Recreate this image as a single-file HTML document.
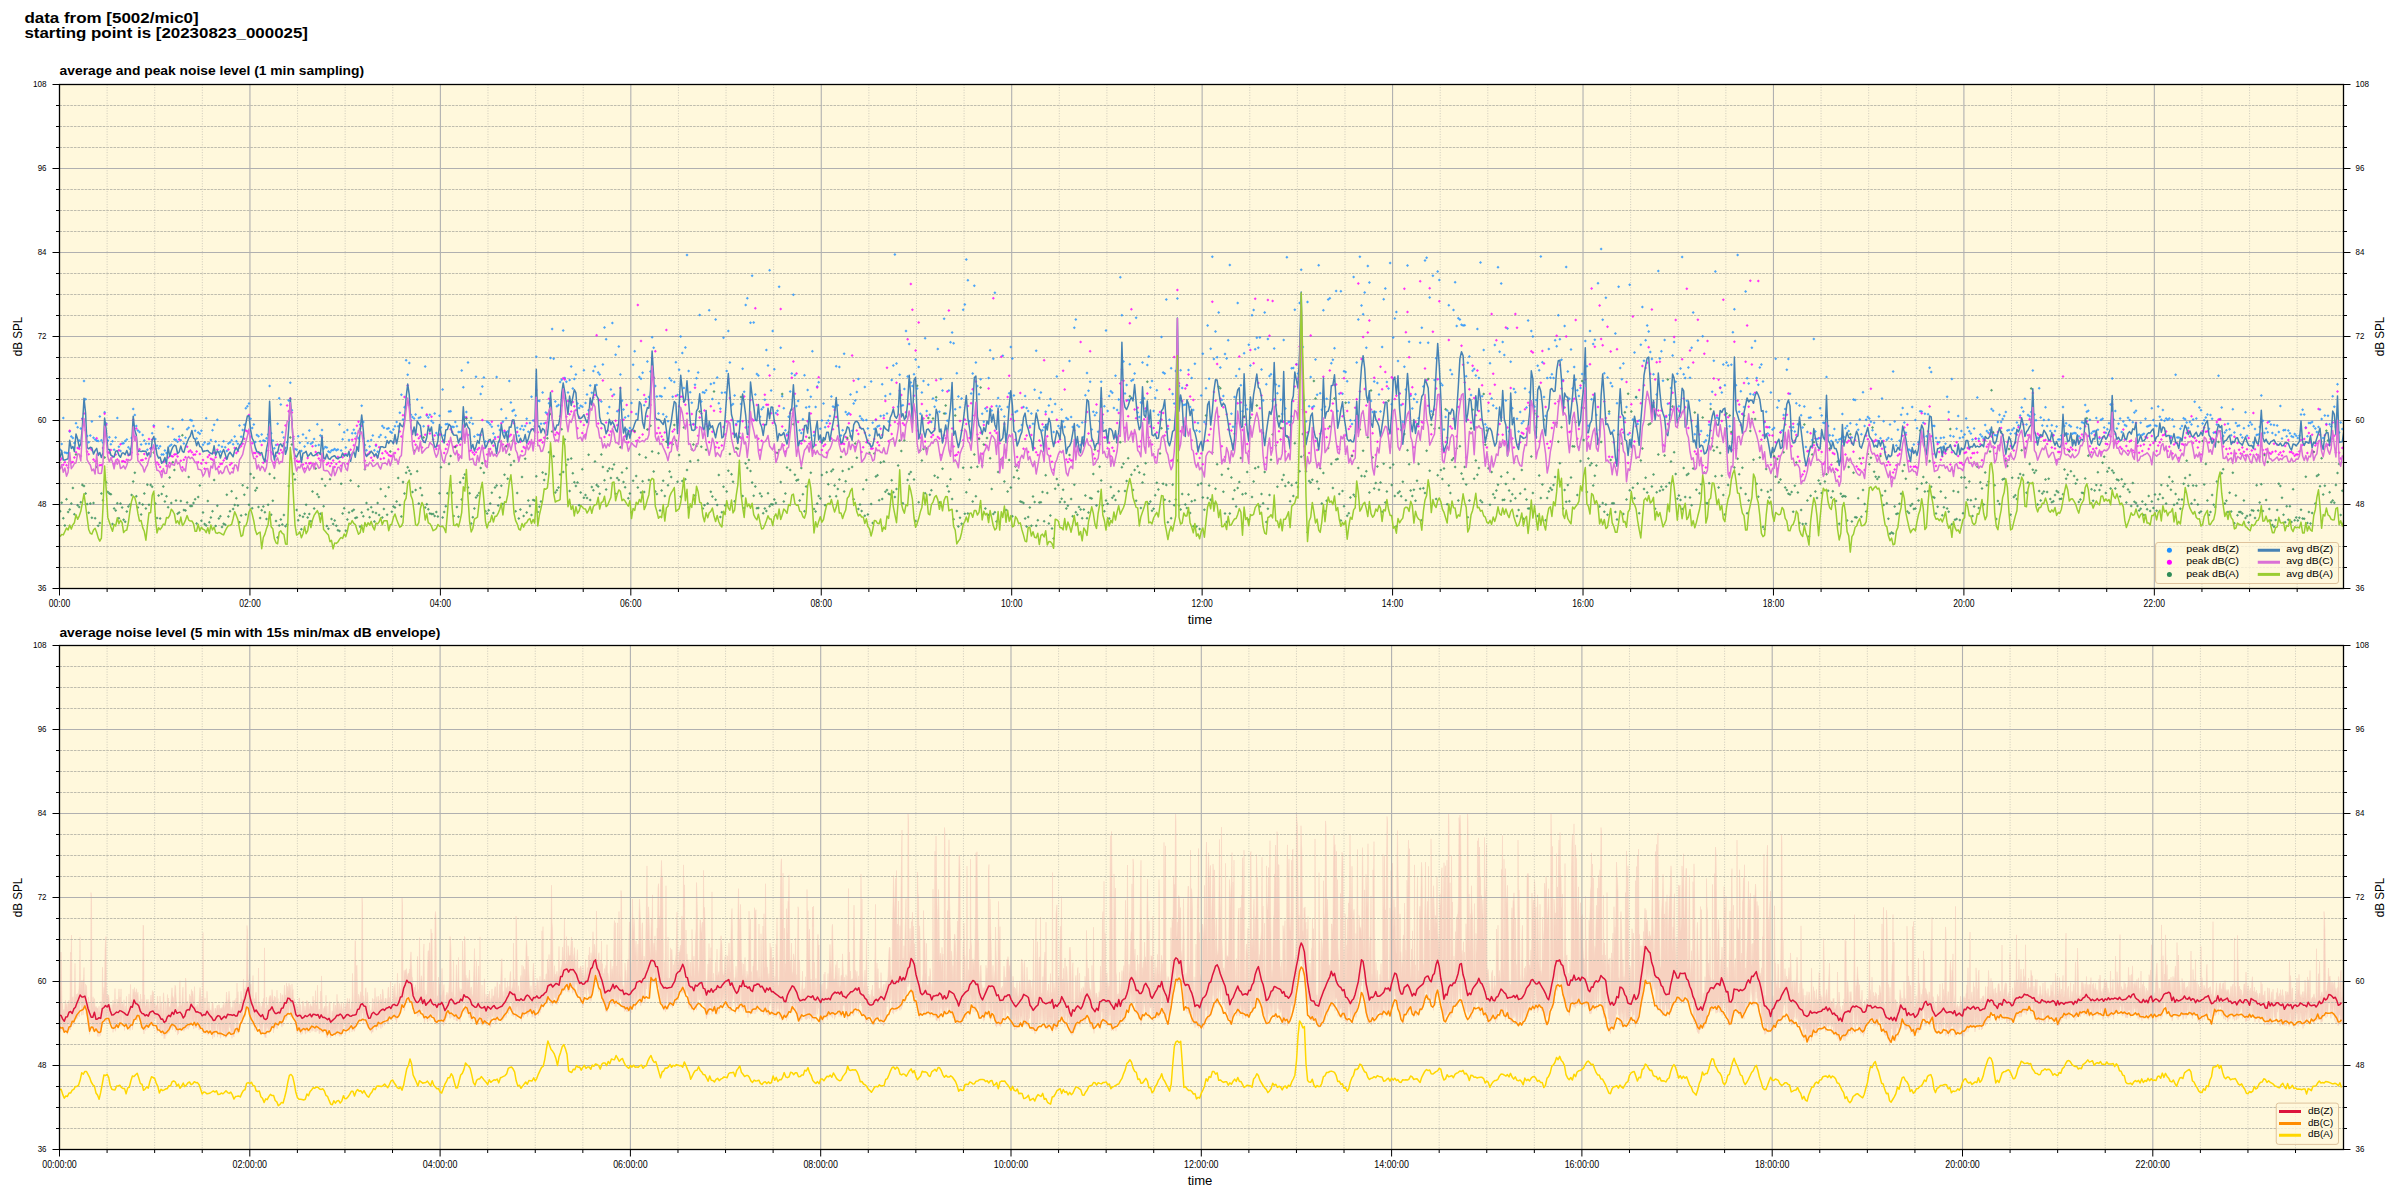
<!DOCTYPE html><html><head><meta charset="utf-8"><style>html,body{margin:0;padding:0;background:#fff;width:2400px;height:1200px;overflow:hidden}</style></head><body><svg width="2400" height="1200" viewBox="0 0 2400 1200" style="display:block;font-family:'Liberation Sans', sans-serif">
<rect width="2400" height="1200" fill="#fff"/>
<defs><clipPath id="cliptop"><rect x="59.5" y="84.5" width="2284.0" height="504.0"/></clipPath><clipPath id="clipbot"><rect x="59.5" y="645.5" width="2284.0" height="504.0"/></clipPath></defs>
<text x="24.40" y="23.00" font-size="15.2" text-anchor="start" font-weight="bold" textLength="174.30" lengthAdjust="spacingAndGlyphs" >data from [5002/mic0]</text>
<text x="24.40" y="38.30" font-size="15.2" text-anchor="start" font-weight="bold" textLength="283.60" lengthAdjust="spacingAndGlyphs" >starting point is [20230823_000025]</text>
<text x="59.60" y="75.00" font-size="12.2" text-anchor="start" font-weight="bold" textLength="304.50" lengthAdjust="spacingAndGlyphs" >average and peak noise level (1 min sampling)</text>
<text x="59.40" y="637.20" font-size="12.2" text-anchor="start" font-weight="bold" textLength="380.90" lengthAdjust="spacingAndGlyphs" >average noise level (5 min with 15s min/max dB envelope)</text>
<rect x="59.5" y="84.5" width="2284.0" height="504.0" fill="#fff8dc"/>
<line x1="59.5" y1="567.50" x2="2343.5" y2="567.50" stroke="#b8b5a8" stroke-width="0.9" stroke-dasharray="2.6 1"/>
<line x1="59.5" y1="546.50" x2="2343.5" y2="546.50" stroke="#b8b5a8" stroke-width="0.9" stroke-dasharray="2.6 1"/>
<line x1="59.5" y1="525.50" x2="2343.5" y2="525.50" stroke="#b8b5a8" stroke-width="0.9" stroke-dasharray="2.6 1"/>
<line x1="59.5" y1="483.50" x2="2343.5" y2="483.50" stroke="#b8b5a8" stroke-width="0.9" stroke-dasharray="2.6 1"/>
<line x1="59.5" y1="462.50" x2="2343.5" y2="462.50" stroke="#b8b5a8" stroke-width="0.9" stroke-dasharray="2.6 1"/>
<line x1="59.5" y1="441.50" x2="2343.5" y2="441.50" stroke="#b8b5a8" stroke-width="0.9" stroke-dasharray="2.6 1"/>
<line x1="59.5" y1="399.50" x2="2343.5" y2="399.50" stroke="#b8b5a8" stroke-width="0.9" stroke-dasharray="2.6 1"/>
<line x1="59.5" y1="378.50" x2="2343.5" y2="378.50" stroke="#b8b5a8" stroke-width="0.9" stroke-dasharray="2.6 1"/>
<line x1="59.5" y1="357.50" x2="2343.5" y2="357.50" stroke="#b8b5a8" stroke-width="0.9" stroke-dasharray="2.6 1"/>
<line x1="59.5" y1="315.50" x2="2343.5" y2="315.50" stroke="#b8b5a8" stroke-width="0.9" stroke-dasharray="2.6 1"/>
<line x1="59.5" y1="294.50" x2="2343.5" y2="294.50" stroke="#b8b5a8" stroke-width="0.9" stroke-dasharray="2.6 1"/>
<line x1="59.5" y1="273.50" x2="2343.5" y2="273.50" stroke="#b8b5a8" stroke-width="0.9" stroke-dasharray="2.6 1"/>
<line x1="59.5" y1="231.50" x2="2343.5" y2="231.50" stroke="#b8b5a8" stroke-width="0.9" stroke-dasharray="2.6 1"/>
<line x1="59.5" y1="210.50" x2="2343.5" y2="210.50" stroke="#b8b5a8" stroke-width="0.9" stroke-dasharray="2.6 1"/>
<line x1="59.5" y1="189.50" x2="2343.5" y2="189.50" stroke="#b8b5a8" stroke-width="0.9" stroke-dasharray="2.6 1"/>
<line x1="59.5" y1="147.50" x2="2343.5" y2="147.50" stroke="#b8b5a8" stroke-width="0.9" stroke-dasharray="2.6 1"/>
<line x1="59.5" y1="126.50" x2="2343.5" y2="126.50" stroke="#b8b5a8" stroke-width="0.9" stroke-dasharray="2.6 1"/>
<line x1="59.5" y1="105.50" x2="2343.5" y2="105.50" stroke="#b8b5a8" stroke-width="0.9" stroke-dasharray="2.6 1"/>
<line x1="107.11" y1="84.5" x2="107.11" y2="588.5" stroke="#c8c5b8" stroke-width="0.9" stroke-dasharray="1 1.6"/>
<line x1="154.72" y1="84.5" x2="154.72" y2="588.5" stroke="#c8c5b8" stroke-width="0.9" stroke-dasharray="1 1.6"/>
<line x1="202.33" y1="84.5" x2="202.33" y2="588.5" stroke="#c8c5b8" stroke-width="0.9" stroke-dasharray="1 1.6"/>
<line x1="297.55" y1="84.5" x2="297.55" y2="588.5" stroke="#c8c5b8" stroke-width="0.9" stroke-dasharray="1 1.6"/>
<line x1="345.16" y1="84.5" x2="345.16" y2="588.5" stroke="#c8c5b8" stroke-width="0.9" stroke-dasharray="1 1.6"/>
<line x1="392.77" y1="84.5" x2="392.77" y2="588.5" stroke="#c8c5b8" stroke-width="0.9" stroke-dasharray="1 1.6"/>
<line x1="487.99" y1="84.5" x2="487.99" y2="588.5" stroke="#c8c5b8" stroke-width="0.9" stroke-dasharray="1 1.6"/>
<line x1="535.60" y1="84.5" x2="535.60" y2="588.5" stroke="#c8c5b8" stroke-width="0.9" stroke-dasharray="1 1.6"/>
<line x1="583.21" y1="84.5" x2="583.21" y2="588.5" stroke="#c8c5b8" stroke-width="0.9" stroke-dasharray="1 1.6"/>
<line x1="678.43" y1="84.5" x2="678.43" y2="588.5" stroke="#c8c5b8" stroke-width="0.9" stroke-dasharray="1 1.6"/>
<line x1="726.04" y1="84.5" x2="726.04" y2="588.5" stroke="#c8c5b8" stroke-width="0.9" stroke-dasharray="1 1.6"/>
<line x1="773.65" y1="84.5" x2="773.65" y2="588.5" stroke="#c8c5b8" stroke-width="0.9" stroke-dasharray="1 1.6"/>
<line x1="868.87" y1="84.5" x2="868.87" y2="588.5" stroke="#c8c5b8" stroke-width="0.9" stroke-dasharray="1 1.6"/>
<line x1="916.48" y1="84.5" x2="916.48" y2="588.5" stroke="#c8c5b8" stroke-width="0.9" stroke-dasharray="1 1.6"/>
<line x1="964.09" y1="84.5" x2="964.09" y2="588.5" stroke="#c8c5b8" stroke-width="0.9" stroke-dasharray="1 1.6"/>
<line x1="1059.31" y1="84.5" x2="1059.31" y2="588.5" stroke="#c8c5b8" stroke-width="0.9" stroke-dasharray="1 1.6"/>
<line x1="1106.92" y1="84.5" x2="1106.92" y2="588.5" stroke="#c8c5b8" stroke-width="0.9" stroke-dasharray="1 1.6"/>
<line x1="1154.53" y1="84.5" x2="1154.53" y2="588.5" stroke="#c8c5b8" stroke-width="0.9" stroke-dasharray="1 1.6"/>
<line x1="1249.75" y1="84.5" x2="1249.75" y2="588.5" stroke="#c8c5b8" stroke-width="0.9" stroke-dasharray="1 1.6"/>
<line x1="1297.36" y1="84.5" x2="1297.36" y2="588.5" stroke="#c8c5b8" stroke-width="0.9" stroke-dasharray="1 1.6"/>
<line x1="1344.97" y1="84.5" x2="1344.97" y2="588.5" stroke="#c8c5b8" stroke-width="0.9" stroke-dasharray="1 1.6"/>
<line x1="1440.19" y1="84.5" x2="1440.19" y2="588.5" stroke="#c8c5b8" stroke-width="0.9" stroke-dasharray="1 1.6"/>
<line x1="1487.80" y1="84.5" x2="1487.80" y2="588.5" stroke="#c8c5b8" stroke-width="0.9" stroke-dasharray="1 1.6"/>
<line x1="1535.41" y1="84.5" x2="1535.41" y2="588.5" stroke="#c8c5b8" stroke-width="0.9" stroke-dasharray="1 1.6"/>
<line x1="1630.63" y1="84.5" x2="1630.63" y2="588.5" stroke="#c8c5b8" stroke-width="0.9" stroke-dasharray="1 1.6"/>
<line x1="1678.24" y1="84.5" x2="1678.24" y2="588.5" stroke="#c8c5b8" stroke-width="0.9" stroke-dasharray="1 1.6"/>
<line x1="1725.85" y1="84.5" x2="1725.85" y2="588.5" stroke="#c8c5b8" stroke-width="0.9" stroke-dasharray="1 1.6"/>
<line x1="1821.07" y1="84.5" x2="1821.07" y2="588.5" stroke="#c8c5b8" stroke-width="0.9" stroke-dasharray="1 1.6"/>
<line x1="1868.68" y1="84.5" x2="1868.68" y2="588.5" stroke="#c8c5b8" stroke-width="0.9" stroke-dasharray="1 1.6"/>
<line x1="1916.29" y1="84.5" x2="1916.29" y2="588.5" stroke="#c8c5b8" stroke-width="0.9" stroke-dasharray="1 1.6"/>
<line x1="2011.51" y1="84.5" x2="2011.51" y2="588.5" stroke="#c8c5b8" stroke-width="0.9" stroke-dasharray="1 1.6"/>
<line x1="2059.12" y1="84.5" x2="2059.12" y2="588.5" stroke="#c8c5b8" stroke-width="0.9" stroke-dasharray="1 1.6"/>
<line x1="2106.73" y1="84.5" x2="2106.73" y2="588.5" stroke="#c8c5b8" stroke-width="0.9" stroke-dasharray="1 1.6"/>
<line x1="2201.95" y1="84.5" x2="2201.95" y2="588.5" stroke="#c8c5b8" stroke-width="0.9" stroke-dasharray="1 1.6"/>
<line x1="2249.56" y1="84.5" x2="2249.56" y2="588.5" stroke="#c8c5b8" stroke-width="0.9" stroke-dasharray="1 1.6"/>
<line x1="2297.17" y1="84.5" x2="2297.17" y2="588.5" stroke="#c8c5b8" stroke-width="0.9" stroke-dasharray="1 1.6"/>
<line x1="59.5" y1="504.50" x2="2343.5" y2="504.50" stroke="#b0b0b0" stroke-width="1.1"/>
<line x1="59.5" y1="420.50" x2="2343.5" y2="420.50" stroke="#b0b0b0" stroke-width="1.1"/>
<line x1="59.5" y1="336.50" x2="2343.5" y2="336.50" stroke="#b0b0b0" stroke-width="1.1"/>
<line x1="59.5" y1="252.50" x2="2343.5" y2="252.50" stroke="#b0b0b0" stroke-width="1.1"/>
<line x1="59.5" y1="168.50" x2="2343.5" y2="168.50" stroke="#b0b0b0" stroke-width="1.1"/>
<line x1="249.94" y1="84.5" x2="249.94" y2="588.5" stroke="#b0b0b0" stroke-width="1.1"/>
<line x1="440.38" y1="84.5" x2="440.38" y2="588.5" stroke="#b0b0b0" stroke-width="1.1"/>
<line x1="630.82" y1="84.5" x2="630.82" y2="588.5" stroke="#b0b0b0" stroke-width="1.1"/>
<line x1="821.26" y1="84.5" x2="821.26" y2="588.5" stroke="#b0b0b0" stroke-width="1.1"/>
<line x1="1011.70" y1="84.5" x2="1011.70" y2="588.5" stroke="#b0b0b0" stroke-width="1.1"/>
<line x1="1202.14" y1="84.5" x2="1202.14" y2="588.5" stroke="#b0b0b0" stroke-width="1.1"/>
<line x1="1392.58" y1="84.5" x2="1392.58" y2="588.5" stroke="#b0b0b0" stroke-width="1.1"/>
<line x1="1583.02" y1="84.5" x2="1583.02" y2="588.5" stroke="#b0b0b0" stroke-width="1.1"/>
<line x1="1773.46" y1="84.5" x2="1773.46" y2="588.5" stroke="#b0b0b0" stroke-width="1.1"/>
<line x1="1963.90" y1="84.5" x2="1963.90" y2="588.5" stroke="#b0b0b0" stroke-width="1.1"/>
<line x1="2154.34" y1="84.5" x2="2154.34" y2="588.5" stroke="#b0b0b0" stroke-width="1.1"/>
<g clip-path="url(#cliptop)"><marker id="m1e90ff" markerWidth="4" markerHeight="4" refX="0" refY="0" markerUnits="userSpaceOnUse" overflow="visible"><path d="M-1.5 0L0-1.5 1.5 0 0 1.5Z" fill="#1e90ff" fill-opacity="0.8"/></marker><path d="M60.2 449.7 61.7 443.9 63.3 418.0 64.9 452.4 66.5 453.0 68.1 453.1 69.7 431.5 71.3 436.6 72.9 437.9 74.4 443.1 76.0 423.2 77.6 427.3 79.2 440.6 80.8 428.6 82.4 418.6 84.0 380.9 85.6 399.3 87.1 436.1 88.7 442.2 90.3 435.5 91.9 421.6 93.5 437.8 95.1 439.5 96.7 440.6 98.2 441.0 99.8 416.6 101.4 440.2 103.0 442.4 104.6 412.2 106.2 423.4 107.8 440.4 109.4 437.3 110.9 444.2 112.5 441.3 114.1 449.8 115.7 437.4 117.3 418.1 118.9 446.8 120.5 450.9 122.1 443.5 123.6 443.2 125.2 441.0 126.8 439.5 128.4 447.2 130.0 448.9 131.6 438.1 133.2 408.9 134.8 414.9 136.3 426.1 137.9 430.6 139.5 432.0 141.1 444.5 142.7 435.1 144.3 440.5 145.9 443.7 147.4 449.7 149.0 443.7 150.6 448.4 152.2 433.3 153.8 425.5 155.4 439.0 157.0 445.8 158.6 448.3 160.1 446.3 161.7 454.5 163.3 454.4 164.9 450.4 166.5 452.9 168.1 426.8 169.7 445.9 171.3 444.8 172.8 428.7 174.4 439.5 176.0 440.0 177.6 441.8 179.2 436.6 180.8 440.2 182.4 419.7 183.9 443.5 185.5 437.8 187.1 429.3 188.7 427.8 190.3 420.0 191.9 420.6 193.5 426.0 195.1 430.8 196.6 438.5 198.2 432.4 199.8 433.7 201.4 430.8 203.0 444.7 204.6 442.6 206.2 418.2 207.8 443.9 209.3 443.3 210.9 439.9 212.5 430.3 214.1 424.7 215.7 441.4 217.3 419.8 218.9 445.3 220.4 451.5 222.0 446.8 223.6 441.2 225.2 447.2 226.8 450.9 228.4 443.6 230.0 442.6 231.6 440.2 233.1 444.2 234.7 436.4 236.3 441.2 237.9 443.8 239.5 425.6 241.1 436.8 242.7 429.9 244.3 424.7 245.8 408.3 247.4 406.3 249.0 403.5 250.6 418.7 252.2 427.9 253.8 424.6 255.4 442.1 256.9 435.0 258.5 436.2 260.1 441.3 261.7 434.4 263.3 440.5 264.9 440.9 266.5 438.2 268.1 434.5 269.6 386.0 271.2 433.2 272.8 440.4 274.4 448.3 276.0 445.0 277.6 423.8 279.2 398.2 280.8 404.6 282.3 432.3 283.9 437.6 285.5 448.1 287.1 442.3 288.7 400.4 290.3 382.7 291.9 410.2 293.5 439.1 295.0 449.1 296.6 449.7 298.2 436.3 299.8 442.8 301.4 450.9 303.0 434.5 304.6 446.4 306.1 438.0 307.7 443.0 309.3 430.4 310.9 443.8 312.5 442.4 314.1 439.0 315.7 445.7 317.3 424.3 318.8 445.0 320.4 435.4 322.0 429.9 323.6 448.8 325.2 447.1 326.8 447.5 328.4 451.4 330.0 452.2 331.5 450.4 333.1 450.1 334.7 449.0 336.3 450.2 337.9 449.6 339.5 424.6 341.1 450.4 342.6 439.2 344.2 432.2 345.8 447.6 347.4 430.0 349.0 440.1 350.6 455.2 352.2 433.2 353.8 429.8 355.3 433.3 356.9 436.8 358.5 438.2 360.1 424.6 361.7 405.8 363.3 421.9 364.9 445.0 366.5 450.2 368.0 440.9 369.6 446.5 371.2 439.9 372.8 435.4 374.4 450.2 376.0 445.8 377.6 451.7 379.1 437.1 380.7 435.0 382.3 425.9 383.9 427.8 385.5 437.2 387.1 428.7 388.7 428.2 390.3 431.7 391.8 432.7 393.4 429.6 395.0 426.2 396.6 422.1 398.2 426.3 399.8 412.8 401.4 394.7 403.0 419.6 404.5 407.3 406.1 360.2 407.7 374.7 409.3 363.0 410.9 414.7 412.5 416.9 414.1 418.5 415.6 414.6 417.2 399.6 418.8 418.1 420.4 417.3 422.0 407.7 423.6 426.3 425.2 366.6 426.8 415.6 428.3 417.5 429.9 414.7 431.5 420.9 433.1 422.8 434.7 413.4 436.3 433.0 437.9 434.9 439.5 415.7 441.0 427.4 442.6 389.5 444.2 435.4 445.8 424.2 447.4 423.9 449.0 411.4 450.6 411.2 452.2 426.7 453.7 426.9 455.3 421.9 456.9 426.3 458.5 432.1 460.1 432.1 461.7 370.5 463.3 387.3 464.8 417.3 466.4 412.0 468.0 362.6 469.6 422.5 471.2 417.9 472.8 423.8 474.4 436.5 476.0 376.7 477.5 434.7 479.1 435.1 480.7 394.1 482.3 386.5 483.9 377.6 485.5 441.5 487.1 421.7 488.7 422.7 490.2 424.5 491.8 426.8 493.4 433.4 495.0 437.3 496.6 377.0 498.2 425.7 499.8 430.1 501.3 409.3 502.9 421.7 504.5 432.2 506.1 418.2 507.7 431.4 509.3 381.0 510.9 402.4 512.5 411.0 514.0 410.0 515.6 415.6 517.2 427.8 518.8 435.7 520.4 428.9 522.0 426.1 523.6 429.7 525.2 426.0 526.7 418.8 528.3 431.8 529.9 423.1 531.5 396.7 533.1 420.4 534.7 426.3 536.3 356.7 537.8 400.7 539.4 400.9 541.0 423.7 542.6 392.5 544.2 423.4 545.8 412.5 547.4 413.7 549.0 403.2 550.5 358.1 552.1 328.9 553.7 358.8 555.3 401.4 556.9 406.3 558.5 404.9 560.1 382.1 561.7 379.8 563.2 330.4 564.8 378.0 566.4 381.8 568.0 392.5 569.6 379.9 571.2 366.5 572.8 388.5 574.3 379.1 575.9 374.6 577.5 403.6 579.1 408.0 580.7 405.8 582.3 406.8 583.9 370.2 585.5 403.1 587.0 394.4 588.6 410.3 590.2 385.5 591.8 392.7 593.4 371.0 595.0 366.4 596.6 385.0 598.2 372.6 599.7 374.4 601.3 401.4 602.9 364.4 604.5 327.4 606.1 339.3 607.7 413.3 609.3 407.0 610.9 389.4 612.4 322.9 614.0 394.5 615.6 354.8 617.2 411.3 618.8 346.4 620.4 374.5 622.0 400.7 623.5 409.6 625.1 417.4 626.7 429.4 628.3 416.1 629.9 427.9 631.5 402.9 633.1 364.7 634.7 351.3 636.2 413.9 637.8 389.8 639.4 377.0 641.0 378.7 642.6 372.7 644.2 405.3 645.8 399.0 647.4 361.4 648.9 397.0 650.5 371.6 652.1 337.3 653.7 347.7 655.3 385.9 656.9 396.5 658.5 413.4 660.0 395.9 661.6 396.4 663.2 414.3 664.8 388.1 666.4 416.7 668.0 421.3 669.6 378.2 671.2 380.6 672.7 396.8 674.3 382.0 675.9 362.3 677.5 395.0 679.1 369.8 680.7 336.4 682.3 353.1 683.9 387.9 685.4 347.6 687.0 254.9 688.6 370.9 690.2 392.2 691.8 402.8 693.4 424.1 695.0 384.7 696.5 378.3 698.1 372.5 699.7 314.9 701.3 401.5 702.9 392.3 704.5 392.7 706.1 390.3 707.7 426.7 709.2 310.3 710.8 383.9 712.4 398.9 714.0 382.9 715.6 319.6 717.2 377.5 718.8 403.3 720.4 408.8 721.9 392.7 723.5 337.8 725.1 392.5 726.7 370.9 728.3 330.9 729.9 362.5 731.5 405.2 733.0 403.9 734.6 395.5 736.2 424.1 737.8 421.5 739.4 421.3 741.0 404.1 742.6 368.8 744.2 391.7 745.7 304.9 747.3 298.3 748.9 427.0 750.5 322.8 752.1 275.7 753.7 322.6 755.3 394.6 756.9 374.1 758.4 375.5 760.0 416.8 761.6 409.2 763.2 407.3 764.8 399.8 766.4 350.0 768.0 365.5 769.6 270.2 771.1 390.6 772.7 331.1 774.3 369.3 775.9 413.1 777.5 410.7 779.1 286.8 780.7 347.8 782.2 396.3 783.8 408.3 785.4 430.3 787.0 434.3 788.6 416.7 790.2 391.5 791.8 373.4 793.4 294.7 794.9 375.3 796.5 405.9 798.1 400.9 799.7 430.3 801.3 433.1 802.9 419.2 804.5 375.3 806.1 407.6 807.6 390.1 809.2 406.8 810.8 396.7 812.4 351.2 814.0 435.4 815.6 406.9 817.2 386.6 818.7 382.3 820.3 428.7 821.9 420.5 823.5 403.6 825.1 427.2 826.7 423.0 828.3 420.5 829.9 415.9 831.4 396.5 833.0 406.5 834.6 407.5 836.2 366.2 837.8 405.2 839.4 367.0 841.0 435.4 842.6 430.3 844.1 353.8 845.7 412.0 847.3 414.5 848.9 413.3 850.5 394.6 852.1 430.7 853.7 403.5 855.2 400.4 856.8 392.1 858.4 378.9 860.0 416.3 861.6 418.7 863.2 420.2 864.8 386.9 866.4 420.1 867.9 428.6 869.5 435.3 871.1 381.5 872.7 422.8 874.3 428.9 875.9 419.9 877.5 426.5 879.1 425.8 880.6 416.0 882.2 384.2 883.8 415.5 885.4 395.9 887.0 413.6 888.6 421.6 890.2 394.0 891.7 379.9 893.3 365.5 894.9 254.4 896.5 363.4 898.1 406.7 899.7 374.8 901.3 405.7 902.9 405.2 904.4 388.9 906.0 331.0 907.6 376.6 909.2 343.9 910.8 382.6 912.4 386.0 914.0 374.2 915.6 359.5 917.1 388.4 918.7 367.0 920.3 413.8 921.9 392.4 923.5 381.1 925.1 338.2 926.7 410.9 928.3 384.8 929.8 414.7 931.4 421.9 933.0 398.5 934.6 406.8 936.2 400.4 937.8 349.1 939.4 411.8 940.9 379.0 942.5 390.5 944.1 318.8 945.7 413.4 947.3 420.8 948.9 390.4 950.5 342.2 952.1 332.6 953.6 343.3 955.2 409.3 956.8 373.3 958.4 396.6 960.0 407.3 961.6 398.5 963.2 309.7 964.8 304.5 966.3 259.5 967.9 280.2 969.5 421.2 971.1 393.4 972.7 373.5 974.3 285.8 975.9 362.5 977.4 386.1 979.0 394.2 980.6 379.2 982.2 413.8 983.8 421.7 985.4 408.6 987.0 411.0 988.6 378.0 990.1 350.3 991.7 410.6 993.3 358.8 994.9 292.7 996.5 405.9 998.1 398.1 999.7 406.3 1001.3 409.4 1002.8 355.7 1004.4 416.4 1006.0 434.2 1007.6 406.9 1009.2 393.2 1010.8 347.1 1012.4 358.5 1013.9 395.6 1015.5 412.0 1017.1 411.0 1018.7 431.2 1020.3 430.1 1021.9 424.9 1023.5 407.0 1025.1 396.1 1026.6 408.0 1028.2 411.0 1029.8 425.9 1031.4 413.5 1033.0 423.8 1034.6 389.7 1036.2 350.7 1037.8 410.4 1039.3 398.0 1040.9 392.6 1042.5 430.2 1044.1 427.2 1045.7 411.7 1047.3 424.2 1048.9 405.5 1050.4 399.0 1052.0 412.0 1053.6 431.9 1055.2 404.1 1056.8 376.5 1058.4 426.1 1060.0 428.4 1061.6 409.5 1063.1 421.6 1064.7 427.1 1066.3 418.1 1067.9 419.2 1069.5 361.0 1071.1 416.9 1072.7 427.0 1074.3 327.8 1075.8 319.4 1077.4 425.2 1079.0 426.7 1080.6 445.1 1082.2 422.6 1083.8 437.0 1085.4 395.2 1087.0 373.1 1088.5 390.8 1090.1 381.8 1091.7 429.4 1093.3 411.7 1094.9 415.3 1096.5 412.8 1098.1 431.8 1099.6 421.5 1101.2 381.8 1102.8 422.8 1104.4 406.3 1106.0 330.6 1107.6 411.0 1109.2 396.0 1110.8 391.3 1112.3 392.8 1113.9 408.1 1115.5 375.7 1117.1 409.9 1118.7 399.4 1120.3 277.2 1121.9 315.3 1123.5 361.4 1125.0 393.4 1126.6 385.0 1128.2 400.1 1129.8 364.2 1131.4 380.7 1133.0 379.8 1134.6 373.6 1136.1 317.7 1137.7 412.6 1139.3 416.9 1140.9 402.4 1142.5 362.5 1144.1 398.3 1145.7 411.2 1147.3 364.9 1148.8 356.5 1150.4 387.6 1152.0 381.0 1153.6 411.0 1155.2 397.9 1156.8 390.2 1158.4 414.8 1160.0 420.8 1161.5 337.0 1163.1 372.4 1164.7 373.4 1166.3 299.5 1167.9 428.8 1169.5 419.8 1171.1 368.3 1172.6 393.9 1174.2 403.4 1175.8 371.0 1177.4 298.4 1179.0 386.0 1180.6 370.2 1182.2 388.0 1183.8 405.0 1185.3 404.6 1186.9 385.2 1188.5 369.9 1190.1 407.0 1191.7 378.0 1193.3 409.9 1194.9 363.7 1196.5 430.4 1198.0 423.0 1199.6 431.4 1201.2 395.6 1202.8 353.7 1204.4 422.1 1206.0 388.2 1207.6 325.6 1209.1 378.7 1210.7 348.8 1212.3 256.7 1213.9 359.0 1215.5 331.4 1217.1 357.3 1218.7 312.6 1220.3 367.6 1221.8 400.1 1223.4 396.1 1225.0 353.9 1226.6 358.6 1228.2 340.3 1229.8 265.0 1231.4 413.7 1233.0 426.8 1234.5 397.1 1236.1 375.9 1237.7 303.0 1239.3 369.0 1240.9 385.2 1242.5 411.2 1244.1 353.3 1245.7 405.2 1247.2 409.3 1248.8 344.8 1250.4 365.4 1252.0 315.2 1253.6 309.9 1255.2 349.3 1256.8 337.7 1258.3 347.8 1259.9 337.6 1261.5 369.4 1263.1 400.4 1264.7 312.5 1266.3 384.3 1267.9 339.0 1269.5 376.0 1271.0 374.3 1272.6 401.0 1274.2 348.6 1275.8 384.6 1277.4 393.2 1279.0 386.0 1280.6 399.8 1282.2 414.0 1283.7 340.0 1285.3 408.5 1286.9 257.3 1288.5 421.9 1290.1 421.7 1291.7 368.3 1293.3 368.1 1294.8 309.8 1296.4 364.2 1298.0 373.4 1299.6 303.0 1301.2 269.7 1302.8 347.1 1304.4 400.5 1306.0 421.5 1307.5 301.9 1309.1 406.3 1310.7 377.0 1312.3 407.3 1313.9 406.3 1315.5 359.5 1317.1 394.8 1318.7 265.3 1320.2 393.3 1321.8 409.7 1323.4 310.3 1325.0 406.8 1326.6 398.8 1328.2 299.5 1329.8 298.3 1331.3 363.2 1332.9 359.8 1334.5 348.3 1336.1 291.0 1337.7 410.9 1339.3 393.8 1340.9 291.3 1342.5 393.8 1344.0 371.2 1345.6 372.0 1347.2 381.3 1348.8 402.4 1350.4 420.2 1352.0 424.1 1353.6 277.1 1355.2 420.6 1356.7 362.6 1358.3 319.5 1359.9 256.7 1361.5 305.5 1363.1 314.3 1364.7 292.4 1366.3 347.8 1367.8 266.1 1369.4 282.6 1371.0 401.0 1372.6 412.1 1374.2 381.5 1375.8 411.9 1377.4 383.0 1379.0 394.6 1380.5 411.4 1382.1 346.9 1383.7 299.2 1385.3 288.4 1386.9 382.0 1388.5 388.6 1390.1 262.9 1391.7 404.3 1393.2 337.6 1394.8 318.4 1396.4 312.0 1398.0 361.1 1399.6 393.2 1401.2 405.1 1402.8 422.0 1404.4 366.8 1405.9 389.6 1407.5 265.4 1409.1 341.7 1410.7 395.7 1412.3 408.5 1413.9 399.1 1415.5 394.3 1417.0 402.0 1418.6 418.3 1420.2 342.7 1421.8 327.7 1423.4 386.5 1425.0 260.5 1426.6 257.7 1428.2 342.7 1429.7 297.6 1431.3 411.2 1432.9 275.8 1434.5 380.0 1436.1 358.2 1437.7 271.4 1439.3 279.9 1440.9 383.6 1442.4 385.3 1444.0 429.6 1445.6 417.1 1447.2 410.5 1448.8 305.2 1450.4 370.1 1452.0 374.3 1453.5 309.9 1455.1 282.2 1456.7 326.1 1458.3 318.3 1459.9 319.5 1461.5 324.7 1463.1 325.5 1464.7 325.3 1466.2 376.2 1467.8 362.7 1469.4 356.6 1471.0 394.9 1472.6 370.8 1474.2 368.9 1475.8 375.6 1477.4 329.0 1478.9 378.1 1480.5 262.5 1482.1 396.2 1483.7 349.9 1485.3 424.2 1486.9 427.6 1488.5 410.9 1490.0 363.2 1491.6 398.5 1493.2 405.4 1494.8 344.9 1496.4 408.3 1498.0 267.3 1499.6 351.7 1501.2 283.4 1502.7 341.9 1504.3 354.9 1505.9 400.6 1507.5 328.6 1509.1 431.4 1510.7 361.7 1512.3 408.2 1513.9 389.1 1515.4 392.3 1517.0 418.8 1518.6 431.6 1520.2 412.0 1521.8 423.2 1523.4 421.2 1525.0 388.4 1526.5 407.4 1528.1 320.6 1529.7 392.3 1531.3 330.9 1532.9 336.4 1534.5 406.4 1536.1 400.0 1537.7 365.8 1539.2 370.3 1540.8 256.6 1542.4 362.2 1544.0 397.0 1545.6 416.1 1547.2 378.0 1548.8 348.9 1550.4 377.7 1551.9 374.2 1553.5 378.1 1555.1 340.3 1556.7 346.3 1558.3 315.3 1559.9 339.3 1561.5 359.8 1563.1 380.0 1564.6 326.1 1566.2 267.1 1567.8 371.4 1569.4 398.8 1571.0 349.4 1572.6 388.5 1574.2 367.0 1575.7 379.8 1577.3 390.3 1578.9 395.9 1580.5 387.9 1582.1 374.0 1583.7 382.9 1585.3 340.9 1586.9 366.3 1588.4 425.8 1590.0 331.1 1591.6 399.3 1593.2 344.1 1594.8 339.7 1596.4 415.0 1598.0 283.2 1599.6 430.0 1601.1 249.0 1602.7 319.7 1604.3 373.2 1605.9 297.7 1607.5 377.5 1609.1 413.7 1610.7 382.9 1612.2 386.2 1613.8 430.5 1615.4 333.5 1617.0 403.3 1618.6 286.7 1620.2 368.1 1621.8 379.3 1623.4 363.6 1624.9 418.3 1626.5 407.0 1628.1 434.5 1629.7 284.7 1631.3 440.0 1632.9 419.5 1634.5 352.5 1636.1 397.4 1637.6 424.0 1639.2 420.5 1640.8 344.7 1642.4 306.9 1644.0 360.8 1645.6 340.2 1647.2 325.5 1648.7 331.6 1650.3 351.9 1651.9 359.0 1653.5 374.2 1655.1 414.1 1656.7 394.6 1658.3 270.9 1659.9 358.6 1661.4 351.3 1663.0 380.7 1664.6 340.1 1666.2 417.1 1667.8 403.7 1669.4 415.0 1671.0 388.1 1672.6 355.5 1674.1 342.1 1675.7 381.8 1677.3 373.7 1678.9 406.3 1680.5 368.5 1682.1 257.0 1683.7 374.3 1685.2 378.1 1686.8 400.7 1688.4 367.5 1690.0 377.7 1691.6 347.8 1693.2 312.5 1694.8 434.3 1696.4 426.5 1697.9 340.4 1699.5 400.4 1701.1 430.9 1702.7 336.3 1704.3 442.0 1705.9 440.3 1707.5 435.5 1709.1 424.7 1710.6 404.1 1712.2 391.7 1713.8 360.7 1715.4 271.4 1717.0 417.6 1718.6 418.8 1720.2 387.5 1721.8 392.5 1723.3 364.4 1724.9 385.2 1726.5 362.4 1728.1 365.5 1729.7 426.2 1731.3 364.8 1732.9 332.2 1734.4 309.2 1736.0 385.3 1737.6 254.9 1739.2 411.8 1740.8 391.3 1742.4 413.9 1744.0 406.9 1745.6 291.5 1747.1 378.3 1748.7 383.4 1750.3 394.0 1751.9 347.7 1753.5 394.5 1755.1 341.1 1756.7 377.9 1758.3 384.8 1759.8 367.5 1761.4 364.4 1763.0 381.5 1764.6 422.3 1766.2 411.7 1767.8 433.5 1769.4 427.2 1770.9 392.5 1772.5 429.6 1774.1 428.0 1775.7 358.7 1777.3 407.5 1778.9 400.7 1780.5 432.6 1782.1 430.5 1783.6 415.0 1785.2 409.0 1786.8 369.7 1788.4 358.9 1790.0 393.8 1791.6 430.8 1793.2 427.3 1794.8 431.6 1796.3 403.3 1797.9 424.2 1799.5 405.5 1801.1 415.3 1802.7 427.6 1804.3 406.6 1805.9 446.9 1807.4 432.1 1809.0 417.7 1810.6 417.5 1812.2 439.9 1813.8 338.9 1815.4 431.5 1817.0 438.9 1818.6 438.3 1820.1 408.3 1821.7 415.4 1823.3 422.7 1824.9 422.9 1826.5 377.0 1828.1 425.9 1829.7 435.2 1831.3 441.0 1832.8 435.4 1834.4 428.9 1836.0 440.0 1837.6 442.5 1839.2 439.4 1840.8 438.7 1842.4 413.9 1843.9 437.1 1845.5 428.2 1847.1 425.9 1848.7 430.9 1850.3 423.3 1851.9 437.5 1853.5 399.5 1855.1 400.1 1856.6 424.6 1858.2 429.8 1859.8 419.6 1861.4 434.3 1863.0 392.3 1864.6 426.1 1866.2 419.7 1867.8 417.0 1869.3 418.4 1870.9 421.7 1872.5 430.3 1874.1 422.8 1875.7 434.5 1877.3 440.9 1878.9 416.4 1880.5 438.2 1882.0 398.6 1883.6 421.3 1885.2 446.9 1886.8 439.7 1888.4 438.0 1890.0 424.6 1891.6 439.3 1893.1 371.6 1894.7 421.5 1896.3 445.5 1897.9 429.7 1899.5 440.8 1901.1 414.7 1902.7 407.9 1904.3 422.4 1905.8 432.8 1907.4 414.0 1909.0 449.5 1910.6 450.8 1912.2 407.0 1913.8 444.6 1915.4 420.1 1917.0 428.3 1918.5 442.3 1920.1 411.3 1921.7 411.5 1923.3 422.8 1924.9 413.7 1926.5 436.3 1928.1 414.2 1929.6 367.7 1931.2 372.0 1932.8 425.7 1934.4 426.0 1936.0 438.0 1937.6 442.2 1939.2 442.3 1940.8 438.0 1942.3 447.5 1943.9 437.4 1945.5 443.8 1947.1 396.7 1948.7 411.9 1950.3 435.7 1951.9 378.9 1953.5 436.5 1955.0 445.7 1956.6 428.8 1958.2 416.0 1959.8 437.9 1961.4 431.1 1963.0 437.2 1964.6 434.5 1966.1 418.6 1967.7 427.6 1969.3 431.2 1970.9 433.4 1972.5 439.5 1974.1 428.5 1975.7 438.8 1977.3 397.4 1978.8 438.7 1980.4 434.6 1982.0 436.4 1983.6 438.4 1985.2 424.9 1986.8 431.1 1988.4 432.7 1990.0 430.0 1991.5 408.9 1993.1 410.8 1994.7 435.1 1996.3 435.6 1997.9 421.9 1999.5 414.8 2001.1 421.9 2002.6 418.9 2004.2 416.0 2005.8 412.1 2007.4 430.4 2009.0 430.1 2010.6 433.7 2012.2 430.1 2013.8 428.2 2015.3 433.4 2016.9 422.4 2018.5 425.4 2020.1 415.4 2021.7 407.5 2023.3 411.6 2024.9 398.7 2026.5 424.4 2028.0 415.0 2029.6 416.3 2031.2 412.0 2032.8 370.4 2034.4 414.6 2036.0 420.3 2037.6 437.7 2039.2 388.3 2040.7 417.5 2042.3 425.6 2043.9 419.9 2045.5 407.2 2047.1 426.1 2048.7 419.7 2050.3 430.9 2051.8 425.2 2053.4 434.9 2055.0 431.1 2056.6 426.6 2058.2 439.6 2059.8 439.5 2061.4 435.6 2063.0 406.9 2064.5 426.1 2066.1 423.2 2067.7 433.9 2069.3 425.2 2070.9 426.6 2072.5 433.8 2074.1 432.9 2075.7 433.3 2077.2 427.4 2078.8 436.3 2080.4 428.5 2082.0 422.2 2083.6 422.9 2085.2 404.9 2086.8 411.7 2088.3 410.8 2089.9 419.8 2091.5 433.2 2093.1 431.4 2094.7 431.3 2096.3 418.1 2097.9 429.8 2099.5 438.4 2101.0 419.7 2102.6 418.8 2104.2 427.6 2105.8 432.7 2107.4 429.3 2109.0 423.3 2110.6 404.5 2112.2 378.6 2113.7 419.4 2115.3 410.9 2116.9 428.6 2118.5 423.7 2120.1 418.5 2121.7 432.1 2123.3 421.4 2124.8 424.9 2126.4 426.0 2128.0 417.8 2129.6 420.1 2131.2 400.7 2132.8 422.3 2134.4 412.5 2136.0 410.8 2137.5 435.2 2139.1 434.5 2140.7 422.7 2142.3 434.8 2143.9 433.7 2145.5 418.7 2147.1 426.5 2148.7 426.0 2150.2 425.2 2151.8 408.3 2153.4 419.9 2155.0 425.5 2156.6 426.0 2158.2 406.5 2159.8 416.8 2161.3 419.8 2162.9 410.0 2164.5 420.8 2166.1 418.4 2167.7 419.8 2169.3 418.4 2170.9 436.2 2172.5 419.5 2174.0 426.4 2175.6 374.8 2177.2 437.6 2178.8 437.4 2180.4 428.7 2182.0 426.0 2183.6 418.2 2185.2 419.3 2186.7 422.5 2188.3 427.9 2189.9 422.0 2191.5 424.6 2193.1 419.5 2194.7 401.7 2196.3 418.6 2197.9 426.2 2199.4 407.5 2201.0 410.2 2202.6 423.4 2204.2 420.3 2205.8 417.6 2207.4 414.4 2209.0 428.8 2210.5 414.9 2212.1 418.8 2213.7 432.7 2215.3 432.5 2216.9 424.4 2218.5 375.8 2220.1 418.9 2221.7 407.5 2223.2 435.9 2224.8 432.4 2226.4 430.2 2228.0 423.8 2229.6 429.2 2231.2 435.2 2232.8 409.3 2234.4 432.4 2235.9 423.0 2237.5 426.0 2239.1 425.4 2240.7 434.7 2242.3 437.4 2243.9 428.2 2245.5 412.3 2247.0 435.8 2248.6 425.8 2250.2 422.3 2251.8 424.4 2253.4 442.8 2255.0 428.9 2256.6 435.0 2258.2 434.4 2259.7 426.9 2261.3 395.4 2262.9 420.7 2264.5 433.1 2266.1 428.4 2267.7 432.2 2269.3 421.6 2270.9 424.6 2272.4 433.1 2274.0 424.9 2275.6 434.9 2277.2 425.4 2278.8 431.9 2280.4 406.0 2282.0 438.5 2283.5 430.2 2285.1 430.0 2286.7 436.3 2288.3 430.5 2289.9 433.2 2291.5 436.2 2293.1 437.1 2294.7 434.1 2296.2 435.7 2297.8 437.9 2299.4 435.8 2301.0 414.4 2302.6 409.7 2304.2 414.6 2305.8 427.6 2307.4 436.2 2308.9 423.0 2310.5 422.9 2312.1 422.0 2313.7 426.2 2315.3 428.5 2316.9 432.1 2318.5 427.1 2320.0 409.6 2321.6 419.0 2323.2 438.1 2324.8 415.6 2326.4 423.9 2328.0 415.7 2329.6 424.3 2331.2 426.5 2332.7 396.3 2334.3 406.8 2335.9 427.0 2337.5 384.2 2339.1 432.5 2340.7 422.5 2342.3 429.1 2343.9 423.6" fill="none" stroke="none" marker-start="url(#m1e90ff)" marker-mid="url(#m1e90ff)" marker-end="url(#m1e90ff)"/><marker id="mff00ff" markerWidth="4" markerHeight="4" refX="0" refY="0" markerUnits="userSpaceOnUse" overflow="visible"><path d="M-1.5 0L0-1.5 1.5 0 0 1.5Z" fill="#ff00ff" fill-opacity="0.8"/></marker><path d="M60.2 460.0 61.7 458.6 63.3 464.7 64.9 462.3 66.5 465.3 68.1 467.7 69.7 430.8 71.3 462.6 72.9 462.0 74.4 457.6 76.0 452.3 77.6 448.0 79.2 448.8 80.8 456.1 82.4 419.0 84.0 413.5 85.6 430.2 87.1 451.7 88.7 454.2 90.3 448.4 91.9 449.9 93.5 459.5 95.1 461.3 96.7 438.3 98.2 453.7 99.8 465.2 101.4 465.1 103.0 448.1 104.6 413.7 106.2 424.4 107.8 451.9 109.4 452.9 110.9 450.1 112.5 457.1 114.1 464.0 115.7 454.4 117.3 459.4 118.9 450.3 120.5 444.2 122.1 461.3 123.6 461.2 125.2 462.0 126.8 459.7 128.4 455.3 130.0 454.2 131.6 452.5 133.2 420.0 134.8 436.7 136.3 428.4 137.9 454.2 139.5 449.2 141.1 460.2 142.7 460.1 144.3 453.9 145.9 458.6 147.4 454.3 149.0 439.1 150.6 448.5 152.2 439.6 153.8 426.7 155.4 448.5 157.0 462.4 158.6 464.5 160.1 467.1 161.7 471.3 163.3 461.9 164.9 460.9 166.5 466.1 168.1 457.6 169.7 462.9 171.3 456.1 172.8 456.4 174.4 454.4 176.0 454.3 177.6 456.4 179.2 439.5 180.8 460.8 182.4 467.2 183.9 459.8 185.5 457.3 187.1 446.7 188.7 451.7 190.3 450.6 191.9 452.3 193.5 454.7 195.1 454.6 196.6 451.5 198.2 462.2 199.8 454.0 201.4 463.6 203.0 459.9 204.6 468.8 206.2 463.0 207.8 457.0 209.3 454.9 210.9 458.7 212.5 459.8 214.1 452.7 215.7 457.2 217.3 449.8 218.9 466.8 220.4 464.0 222.0 463.7 223.6 460.4 225.2 458.2 226.8 457.9 228.4 449.6 230.0 464.8 231.6 463.3 233.1 468.6 234.7 447.9 236.3 453.1 237.9 451.2 239.5 447.4 241.1 445.9 242.7 443.7 244.3 438.8 245.8 430.6 247.4 431.5 249.0 415.1 250.6 436.7 252.2 443.3 253.8 453.1 255.4 452.9 256.9 456.5 258.5 453.0 260.1 454.8 261.7 445.1 263.3 462.8 264.9 459.6 266.5 461.0 268.1 450.5 269.6 422.1 271.2 452.3 272.8 454.0 274.4 462.5 276.0 456.1 277.6 444.4 279.2 453.4 280.8 449.9 282.3 452.4 283.9 443.5 285.5 425.5 287.1 405.5 288.7 411.2 290.3 398.4 291.9 412.5 293.5 436.8 295.0 458.5 296.6 461.1 298.2 461.8 299.8 461.6 301.4 459.2 303.0 464.4 304.6 468.4 306.1 463.3 307.7 458.0 309.3 463.6 310.9 463.0 312.5 446.3 314.1 463.9 315.7 451.9 317.3 455.1 318.8 458.4 320.4 460.4 322.0 437.7 323.6 460.7 325.2 458.1 326.8 464.5 328.4 463.0 330.0 466.1 331.5 463.2 333.1 460.4 334.7 466.9 336.3 463.9 337.9 457.0 339.5 461.7 341.1 465.8 342.6 457.2 344.2 454.4 345.8 454.1 347.4 463.8 349.0 454.2 350.6 449.7 352.2 439.8 353.8 445.2 355.3 438.7 356.9 425.8 358.5 421.8 360.1 428.8 361.7 426.0 363.3 438.2 364.9 460.7 366.5 455.3 368.0 454.2 369.6 452.3 371.2 457.8 372.8 460.5 374.4 456.0 376.0 444.8 377.6 457.0 379.1 447.2 380.7 459.0 382.3 453.3 383.9 458.3 385.5 451.3 387.1 453.0 388.7 455.0 390.3 455.9 391.8 456.1 393.4 442.3 395.0 453.1 396.6 441.1 398.2 449.2 399.8 431.6 401.4 436.4 403.0 415.3 404.5 396.9 406.1 405.2 407.7 385.6 409.3 404.8 410.9 420.6 412.5 431.8 414.1 441.2 415.6 444.7 417.2 434.5 418.8 438.2 420.4 436.2 422.0 447.5 423.6 441.2 425.2 434.8 426.8 414.4 428.3 426.1 429.9 433.5 431.5 416.8 433.1 439.5 434.7 435.4 436.3 449.1 437.9 445.7 439.5 434.4 441.0 434.5 442.6 441.2 444.2 453.0 445.8 449.1 447.4 444.4 449.0 441.4 450.6 429.2 452.2 431.9 453.7 447.1 455.3 446.4 456.9 445.6 458.5 454.7 460.1 444.8 461.7 437.4 463.3 419.4 464.8 434.9 466.4 417.3 468.0 435.0 469.6 451.1 471.2 450.2 472.8 452.5 474.4 454.4 476.0 452.2 477.5 449.6 479.1 447.9 480.7 435.0 482.3 420.0 483.9 448.2 485.5 461.3 487.1 454.5 488.7 441.6 490.2 449.1 491.8 421.7 493.4 445.8 495.0 439.1 496.6 450.9 498.2 437.0 499.8 441.4 501.3 423.3 502.9 444.4 504.5 430.8 506.1 445.9 507.7 444.5 509.3 436.3 510.9 434.8 512.5 420.9 514.0 423.2 515.6 443.4 517.2 432.1 518.8 457.5 520.4 441.8 522.0 451.3 523.6 447.1 525.2 448.3 526.7 423.3 528.3 443.7 529.9 442.1 531.5 429.4 533.1 443.0 534.7 420.7 536.3 390.1 537.8 432.2 539.4 440.4 541.0 439.9 542.6 442.6 544.2 437.7 545.8 422.8 547.4 414.4 549.0 398.8 550.5 399.7 552.1 391.3 553.7 429.9 555.3 434.7 556.9 432.4 558.5 433.8 560.1 416.2 561.7 405.6 563.2 378.2 564.8 379.4 566.4 416.8 568.0 401.1 569.6 414.3 571.2 411.5 572.8 401.9 574.3 406.3 575.9 410.2 577.5 428.3 579.1 417.1 580.7 421.7 582.3 433.0 583.9 425.1 585.5 434.8 587.0 414.3 588.6 417.5 590.2 403.4 591.8 404.2 593.4 397.4 595.0 394.9 596.6 335.2 598.2 423.5 599.7 400.0 601.3 428.2 602.9 380.4 604.5 437.0 606.1 422.4 607.7 430.6 609.3 435.1 610.9 431.4 612.4 395.9 614.0 426.8 615.6 420.8 617.2 425.2 618.8 410.2 620.4 387.9 622.0 441.0 623.5 419.8 625.1 436.3 626.7 404.9 628.3 442.2 629.9 431.2 631.5 411.9 633.1 430.8 634.7 432.1 636.2 441.0 637.8 304.9 639.4 437.8 641.0 341.0 642.6 434.4 644.2 395.1 645.8 401.8 647.4 416.2 648.9 429.3 650.5 404.9 652.1 358.3 653.7 377.5 655.3 351.3 656.9 433.3 658.5 428.0 660.0 433.1 661.6 436.5 663.2 439.7 664.8 432.6 666.4 330.0 668.0 447.6 669.6 443.6 671.2 442.4 672.7 431.6 674.3 429.4 675.9 396.1 677.5 422.3 679.1 406.3 680.7 396.7 682.3 396.4 683.9 401.5 685.4 404.7 687.0 413.4 688.6 399.7 690.2 424.8 691.8 413.9 693.4 424.5 695.0 387.7 696.5 427.4 698.1 435.7 699.7 417.5 701.3 413.6 702.9 428.7 704.5 410.6 706.1 423.9 707.7 426.2 709.2 442.3 710.8 406.2 712.4 431.7 714.0 410.8 715.6 447.3 717.2 442.7 718.8 447.8 720.4 411.7 721.9 445.5 723.5 427.1 725.1 434.5 726.7 421.6 728.3 378.9 729.9 398.0 731.5 419.9 733.0 433.6 734.6 434.5 736.2 425.1 737.8 441.4 739.4 433.3 741.0 438.0 742.6 421.3 744.2 396.6 745.7 427.4 747.3 437.1 748.9 421.9 750.5 400.1 752.1 419.2 753.7 420.5 755.3 308.2 756.9 405.0 758.4 438.8 760.0 449.9 761.6 440.8 763.2 424.6 764.8 394.7 766.4 404.8 768.0 404.8 769.6 375.5 771.1 413.3 772.7 423.1 774.3 420.7 775.9 452.6 777.5 414.4 779.1 406.1 780.7 309.0 782.2 426.5 783.8 445.3 785.4 451.6 787.0 435.4 788.6 438.1 790.2 413.3 791.8 377.7 793.4 361.6 794.9 393.8 796.5 373.4 798.1 421.9 799.7 441.3 801.3 443.6 802.9 429.4 804.5 441.0 806.1 436.7 807.6 421.2 809.2 443.7 810.8 413.4 812.4 450.3 814.0 431.9 815.6 445.0 817.2 387.5 818.7 377.2 820.3 441.8 821.9 450.0 823.5 445.9 825.1 444.6 826.7 452.8 828.3 426.4 829.9 423.4 831.4 438.6 833.0 429.2 834.6 410.1 836.2 417.0 837.8 425.7 839.4 440.4 841.0 444.0 842.6 443.2 844.1 443.9 845.7 437.0 847.3 439.4 848.9 423.3 850.5 414.4 852.1 355.5 853.7 380.7 855.2 447.1 856.8 430.5 858.4 433.9 860.0 427.4 861.6 452.0 863.2 447.3 864.8 432.7 866.4 442.3 867.9 440.6 869.5 444.1 871.1 448.7 872.7 448.6 874.3 438.9 875.9 419.4 877.5 442.5 879.1 445.2 880.6 428.7 882.2 434.9 883.8 418.2 885.4 400.9 887.0 367.8 888.6 441.2 890.2 425.2 891.7 434.1 893.3 407.4 894.9 422.0 896.5 382.8 898.1 423.8 899.7 390.7 901.3 395.1 902.9 423.3 904.4 424.9 906.0 412.2 907.6 339.2 909.2 404.1 910.8 284.1 912.4 309.7 914.0 395.8 915.6 350.5 917.1 430.6 918.7 322.6 920.3 437.7 921.9 404.0 923.5 418.4 925.1 441.4 926.7 415.8 928.3 423.0 929.8 421.8 931.4 436.9 933.0 434.9 934.6 428.8 936.2 380.2 937.8 437.0 939.4 438.5 940.9 455.0 942.5 440.7 944.1 435.3 945.7 438.2 947.3 391.6 948.9 310.6 950.5 451.2 952.1 428.4 953.6 446.4 955.2 455.4 956.8 454.8 958.4 452.2 960.0 420.9 961.6 430.6 963.2 440.2 964.8 419.5 966.3 423.9 967.9 406.1 969.5 438.1 971.1 403.3 972.7 389.3 974.3 415.6 975.9 381.6 977.4 434.6 979.0 438.3 980.6 432.8 982.2 453.7 983.8 425.0 985.4 445.1 987.0 407.3 988.6 388.5 990.1 432.9 991.7 406.4 993.3 298.2 994.9 430.8 996.5 433.1 998.1 412.0 999.7 443.3 1001.3 356.8 1002.8 457.7 1004.4 423.9 1006.0 450.2 1007.6 397.0 1009.2 375.7 1010.8 419.0 1012.4 414.5 1013.9 420.7 1015.5 439.7 1017.1 457.1 1018.7 462.2 1020.3 392.9 1021.9 407.8 1023.5 448.8 1025.1 438.9 1026.6 435.5 1028.2 451.9 1029.8 427.5 1031.4 435.0 1033.0 447.0 1034.6 448.2 1036.2 452.2 1037.8 455.1 1039.3 440.6 1040.9 445.5 1042.5 424.2 1044.1 360.3 1045.7 414.3 1047.3 436.3 1048.9 448.8 1050.4 456.1 1052.0 461.7 1053.6 469.8 1055.2 442.5 1056.8 419.8 1058.4 441.8 1060.0 439.6 1061.6 426.8 1063.1 370.7 1064.7 389.5 1066.3 459.4 1067.9 462.0 1069.5 458.9 1071.1 460.5 1072.7 460.6 1074.3 430.3 1075.8 439.6 1077.4 441.8 1079.0 449.1 1080.6 342.1 1082.2 443.0 1083.8 443.7 1085.4 422.1 1087.0 411.9 1088.5 433.6 1090.1 351.3 1091.7 440.4 1093.3 454.2 1094.9 458.6 1096.5 404.6 1098.1 451.0 1099.6 444.2 1101.2 398.8 1102.8 414.4 1104.4 437.6 1106.0 437.4 1107.6 448.2 1109.2 442.7 1110.8 456.3 1112.3 447.7 1113.9 451.0 1115.5 437.0 1117.1 422.9 1118.7 413.1 1120.3 383.6 1121.9 369.3 1123.5 380.8 1125.0 427.8 1126.6 400.7 1128.2 416.3 1129.8 323.2 1131.4 309.3 1133.0 433.7 1134.6 409.6 1136.1 418.3 1137.7 407.7 1139.3 446.5 1140.9 441.2 1142.5 402.7 1144.1 419.2 1145.7 408.4 1147.3 393.6 1148.8 437.4 1150.4 426.6 1152.0 444.6 1153.6 428.1 1155.2 457.2 1156.8 432.5 1158.4 423.0 1160.0 412.0 1161.5 419.6 1163.1 412.9 1164.7 435.6 1166.3 432.0 1167.9 426.0 1169.5 389.2 1171.1 460.8 1172.6 460.1 1174.2 356.9 1175.8 407.2 1177.4 290.0 1179.0 383.3 1180.6 431.3 1182.2 401.1 1183.8 431.3 1185.3 388.5 1186.9 385.2 1188.5 374.4 1190.1 396.5 1191.7 440.3 1193.3 400.1 1194.9 422.3 1196.5 453.8 1198.0 446.9 1199.6 458.0 1201.2 453.6 1202.8 464.3 1204.4 441.3 1206.0 423.9 1207.6 440.6 1209.1 434.7 1210.7 428.9 1212.3 301.7 1213.9 392.1 1215.5 400.8 1217.1 364.0 1218.7 416.8 1220.3 398.7 1221.8 446.2 1223.4 407.3 1225.0 456.9 1226.6 414.2 1228.2 429.4 1229.8 423.9 1231.4 430.4 1233.0 444.3 1234.5 433.8 1236.1 423.5 1237.7 403.2 1239.3 356.4 1240.9 402.4 1242.5 430.0 1244.1 417.2 1245.7 424.6 1247.2 444.0 1248.8 451.2 1250.4 350.1 1252.0 414.4 1253.6 363.3 1255.2 298.7 1256.8 378.3 1258.3 383.1 1259.9 408.2 1261.5 395.5 1263.1 433.0 1264.7 464.2 1266.3 457.8 1267.9 300.0 1269.5 335.7 1271.0 448.1 1272.6 301.0 1274.2 399.4 1275.8 404.9 1277.4 442.2 1279.0 431.2 1280.6 439.6 1282.2 428.6 1283.7 421.7 1285.3 451.4 1286.9 423.4 1288.5 437.3 1290.1 424.9 1291.7 416.3 1293.3 400.9 1294.8 386.6 1296.4 364.5 1298.0 378.6 1299.6 346.5 1301.2 315.5 1302.8 409.4 1304.4 446.2 1306.0 412.1 1307.5 432.6 1309.1 453.0 1310.7 335.6 1312.3 408.7 1313.9 431.9 1315.5 440.9 1317.1 450.1 1318.7 445.9 1320.2 433.7 1321.8 431.1 1323.4 376.7 1325.0 428.9 1326.6 437.3 1328.2 428.5 1329.8 370.4 1331.3 410.8 1332.9 403.6 1334.5 384.9 1336.1 384.5 1337.7 446.8 1339.3 449.3 1340.9 393.1 1342.5 416.2 1344.0 378.2 1345.6 435.3 1347.2 411.1 1348.8 428.9 1350.4 426.4 1352.0 455.6 1353.6 451.0 1355.2 407.7 1356.7 399.3 1358.3 283.4 1359.9 391.4 1361.5 358.9 1363.1 337.0 1364.7 389.1 1366.3 405.6 1367.8 332.5 1369.4 320.5 1371.0 409.6 1372.6 433.2 1374.2 377.7 1375.8 454.9 1377.4 441.8 1379.0 419.3 1380.5 366.8 1382.1 389.3 1383.7 402.4 1385.3 371.9 1386.9 386.2 1388.5 433.8 1390.1 447.0 1391.7 377.2 1393.2 378.8 1394.8 399.0 1396.4 395.7 1398.0 429.0 1399.6 393.7 1401.2 430.1 1402.8 404.1 1404.4 288.8 1405.9 332.2 1407.5 312.1 1409.1 357.2 1410.7 393.9 1412.3 387.2 1413.9 447.3 1415.5 422.1 1417.0 426.3 1418.6 426.2 1420.2 281.3 1421.8 421.9 1423.4 422.9 1425.0 368.6 1426.6 380.2 1428.2 405.8 1429.7 288.3 1431.3 434.3 1432.9 331.8 1434.5 409.5 1436.1 388.6 1437.7 379.3 1439.3 301.3 1440.9 415.7 1442.4 449.6 1444.0 452.2 1445.6 442.1 1447.2 437.7 1448.8 340.1 1450.4 426.6 1452.0 428.4 1453.5 418.7 1455.1 454.1 1456.7 436.6 1458.3 406.9 1459.9 399.4 1461.5 345.7 1463.1 364.7 1464.7 382.4 1466.2 457.6 1467.8 419.8 1469.4 389.2 1471.0 422.6 1472.6 365.8 1474.2 398.1 1475.8 415.3 1477.4 370.4 1478.9 411.1 1480.5 419.5 1482.1 385.3 1483.7 442.3 1485.3 461.9 1486.9 447.4 1488.5 402.7 1490.0 393.8 1491.6 314.0 1493.2 373.8 1494.8 384.7 1496.4 340.3 1498.0 434.5 1499.6 423.9 1501.2 417.2 1502.7 434.8 1504.3 441.4 1505.9 327.6 1507.5 427.4 1509.1 442.3 1510.7 387.9 1512.3 438.5 1513.9 447.6 1515.4 314.1 1517.0 327.8 1518.6 444.4 1520.2 442.3 1521.8 432.8 1523.4 433.7 1525.0 409.2 1526.5 428.8 1528.1 402.8 1529.7 405.6 1531.3 351.2 1532.9 352.4 1534.5 411.0 1536.1 437.1 1537.7 416.5 1539.2 441.4 1540.8 382.7 1542.4 351.1 1544.0 363.5 1545.6 407.0 1547.2 443.7 1548.8 448.1 1550.4 441.5 1551.9 427.9 1553.5 422.7 1555.1 403.5 1556.7 335.8 1558.3 401.5 1559.9 365.1 1561.5 388.6 1563.1 381.0 1564.6 407.6 1566.2 336.6 1567.8 400.7 1569.4 432.1 1571.0 431.6 1572.6 401.1 1574.2 398.7 1575.7 320.0 1577.3 438.8 1578.9 429.0 1580.5 385.4 1582.1 407.7 1583.7 391.0 1585.3 379.6 1586.9 438.7 1588.4 436.7 1590.0 364.3 1591.6 288.6 1593.2 394.7 1594.8 346.8 1596.4 434.0 1598.0 406.9 1599.6 305.4 1601.1 338.9 1602.7 345.2 1604.3 401.6 1605.9 417.9 1607.5 326.7 1609.1 456.8 1610.7 351.5 1612.2 457.1 1613.8 442.3 1615.4 462.5 1617.0 349.2 1618.6 450.3 1620.2 417.0 1621.8 429.6 1623.4 432.6 1624.9 422.2 1626.5 382.1 1628.1 462.9 1629.7 433.1 1631.3 404.3 1632.9 316.4 1634.5 441.6 1636.1 426.2 1637.6 421.2 1639.2 390.0 1640.8 403.2 1642.4 366.0 1644.0 385.3 1645.6 368.1 1647.2 362.7 1648.7 347.3 1650.3 374.1 1651.9 309.4 1653.5 402.7 1655.1 379.4 1656.7 362.3 1658.3 410.5 1659.9 361.7 1661.4 410.6 1663.0 445.1 1664.6 445.9 1666.2 416.1 1667.8 424.1 1669.4 403.2 1671.0 409.6 1672.6 392.8 1674.1 336.9 1675.7 320.1 1677.3 408.8 1678.9 410.8 1680.5 412.3 1682.1 359.3 1683.7 398.6 1685.2 407.3 1686.8 288.7 1688.4 427.9 1690.0 350.6 1691.6 420.7 1693.2 362.6 1694.8 451.6 1696.4 453.9 1697.9 319.8 1699.5 434.4 1701.1 451.1 1702.7 465.6 1704.3 353.7 1705.9 467.5 1707.5 341.1 1709.1 421.8 1710.6 430.5 1712.2 438.2 1713.8 378.6 1715.4 394.8 1717.0 415.5 1718.6 379.7 1720.2 388.1 1721.8 421.0 1723.3 299.7 1724.9 414.7 1726.5 428.8 1728.1 417.2 1729.7 473.3 1731.3 433.7 1732.9 449.9 1734.4 341.7 1736.0 448.3 1737.6 400.8 1739.2 404.6 1740.8 425.1 1742.4 414.0 1744.0 383.1 1745.6 361.7 1747.1 325.5 1748.7 406.7 1750.3 280.8 1751.9 364.5 1753.5 412.2 1755.1 392.8 1756.7 380.4 1758.3 280.9 1759.8 431.3 1761.4 439.8 1763.0 435.3 1764.6 421.5 1766.2 427.1 1767.8 427.2 1769.4 435.2 1770.9 464.8 1772.5 435.5 1774.1 457.4 1775.7 442.3 1777.3 468.7 1778.9 456.3 1780.5 432.3 1782.1 441.0 1783.6 418.6 1785.2 424.4 1786.8 414.7 1788.4 393.4 1790.0 427.0 1791.6 446.3 1793.2 423.7 1794.8 440.7 1796.3 434.9 1797.9 456.8 1799.5 461.1 1801.1 476.4 1802.7 474.6 1804.3 471.2 1805.9 465.4 1807.4 451.2 1809.0 450.8 1810.6 433.3 1812.2 447.6 1813.8 445.2 1815.4 438.5 1817.0 444.5 1818.6 450.1 1820.1 438.1 1821.7 452.0 1823.3 463.9 1824.9 462.2 1826.5 416.3 1828.1 468.0 1829.7 449.9 1831.3 464.7 1832.8 452.9 1834.4 453.9 1836.0 469.0 1837.6 470.2 1839.2 476.6 1840.8 461.3 1842.4 441.3 1843.9 442.3 1845.5 454.5 1847.1 442.6 1848.7 440.8 1850.3 437.7 1851.9 443.0 1853.5 451.7 1855.1 440.3 1856.6 466.5 1858.2 469.0 1859.8 470.0 1861.4 463.6 1863.0 457.9 1864.6 470.0 1866.2 435.7 1867.8 439.3 1869.3 425.1 1870.9 388.8 1872.5 441.1 1874.1 441.5 1875.7 439.9 1877.3 455.5 1878.9 441.6 1880.5 454.1 1882.0 448.8 1883.6 440.9 1885.2 452.3 1886.8 465.3 1888.4 461.9 1890.0 464.7 1891.6 477.0 1893.1 472.4 1894.7 469.4 1896.3 465.3 1897.9 455.6 1899.5 454.0 1901.1 450.0 1902.7 435.7 1904.3 427.5 1905.8 434.7 1907.4 424.8 1909.0 461.0 1910.6 466.8 1912.2 451.4 1913.8 466.8 1915.4 466.4 1917.0 467.8 1918.5 444.3 1920.1 442.1 1921.7 413.2 1923.3 437.0 1924.9 423.8 1926.5 450.4 1928.1 431.2 1929.6 406.5 1931.2 436.3 1932.8 454.1 1934.4 462.8 1936.0 466.0 1937.6 444.1 1939.2 452.0 1940.8 459.8 1942.3 456.2 1943.9 452.3 1945.5 453.5 1947.1 449.3 1948.7 419.5 1950.3 464.4 1951.9 452.2 1953.5 471.3 1955.0 445.7 1956.6 442.3 1958.2 456.0 1959.8 462.8 1961.4 463.0 1963.0 464.8 1964.6 453.0 1966.1 452.2 1967.7 448.1 1969.3 449.1 1970.9 457.7 1972.5 453.2 1974.1 453.1 1975.7 438.4 1977.3 452.5 1978.8 441.1 1980.4 444.2 1982.0 460.2 1983.6 439.9 1985.2 440.2 1986.8 446.8 1988.4 444.6 1990.0 434.3 1991.5 436.5 1993.1 433.3 1994.7 447.6 1996.3 453.5 1997.9 431.9 1999.5 445.3 2001.1 428.0 2002.6 434.9 2004.2 455.7 2005.8 458.5 2007.4 442.0 2009.0 456.2 2010.6 446.0 2012.2 448.1 2013.8 450.5 2015.3 442.6 2016.9 434.8 2018.5 427.3 2020.1 417.6 2021.7 420.2 2023.3 424.6 2024.9 447.4 2026.5 441.6 2028.0 435.2 2029.6 419.3 2031.2 422.3 2032.8 392.9 2034.4 432.4 2036.0 441.9 2037.6 433.7 2039.2 435.2 2040.7 437.1 2042.3 436.0 2043.9 440.5 2045.5 440.0 2047.1 444.0 2048.7 440.6 2050.3 441.1 2051.8 447.5 2053.4 435.4 2055.0 448.6 2056.6 460.2 2058.2 452.1 2059.8 451.9 2061.4 445.2 2063.0 376.4 2064.5 448.6 2066.1 443.5 2067.7 449.5 2069.3 450.3 2070.9 447.5 2072.5 449.6 2074.1 441.9 2075.7 450.3 2077.2 439.9 2078.8 442.6 2080.4 438.1 2082.0 434.5 2083.6 436.7 2085.2 426.2 2086.8 421.4 2088.3 436.0 2089.9 446.3 2091.5 452.3 2093.1 448.9 2094.7 434.9 2096.3 448.2 2097.9 421.9 2099.5 437.3 2101.0 452.0 2102.6 437.7 2104.2 432.5 2105.8 443.8 2107.4 444.2 2109.0 434.8 2110.6 436.6 2112.2 404.3 2113.7 441.1 2115.3 434.1 2116.9 443.6 2118.5 441.5 2120.1 447.1 2121.7 448.7 2123.3 429.4 2124.8 439.7 2126.4 446.0 2128.0 450.7 2129.6 441.5 2131.2 440.4 2132.8 450.5 2134.4 452.5 2136.0 423.1 2137.5 446.0 2139.1 452.8 2140.7 445.7 2142.3 451.0 2143.9 444.4 2145.5 437.0 2147.1 437.7 2148.7 448.9 2150.2 444.9 2151.8 436.1 2153.4 443.1 2155.0 441.1 2156.6 451.0 2158.2 445.4 2159.8 442.5 2161.3 439.4 2162.9 435.3 2164.5 434.6 2166.1 431.6 2167.7 451.0 2169.3 446.7 2170.9 437.8 2172.5 453.5 2174.0 444.4 2175.6 442.7 2177.2 443.3 2178.8 458.0 2180.4 450.2 2182.0 443.9 2183.6 444.8 2185.2 437.8 2186.7 433.0 2188.3 431.0 2189.9 436.6 2191.5 416.3 2193.1 442.9 2194.7 438.0 2196.3 440.4 2197.9 447.6 2199.4 442.1 2201.0 454.4 2202.6 431.1 2204.2 427.5 2205.8 431.7 2207.4 431.3 2209.0 442.6 2210.5 439.1 2212.1 438.6 2213.7 439.6 2215.3 432.0 2216.9 422.1 2218.5 419.5 2220.1 419.6 2221.7 438.5 2223.2 446.4 2224.8 424.5 2226.4 449.0 2228.0 454.1 2229.6 448.6 2231.2 453.3 2232.8 442.5 2234.4 436.8 2235.9 453.5 2237.5 443.0 2239.1 449.8 2240.7 453.6 2242.3 447.5 2243.9 451.8 2245.5 455.4 2247.0 449.3 2248.6 437.9 2250.2 454.6 2251.8 450.4 2253.4 412.9 2255.0 449.3 2256.6 454.6 2258.2 445.3 2259.7 456.7 2261.3 421.2 2262.9 450.0 2264.5 453.7 2266.1 449.6 2267.7 422.5 2269.3 452.9 2270.9 453.8 2272.4 451.9 2274.0 443.8 2275.6 451.2 2277.2 444.8 2278.8 454.6 2280.4 452.5 2282.0 455.4 2283.5 451.4 2285.1 446.1 2286.7 443.4 2288.3 440.0 2289.9 452.0 2291.5 451.9 2293.1 453.4 2294.7 455.8 2296.2 454.4 2297.8 454.6 2299.4 451.6 2301.0 440.0 2302.6 445.1 2304.2 438.9 2305.8 427.9 2307.4 453.1 2308.9 433.1 2310.5 442.2 2312.1 434.8 2313.7 451.8 2315.3 445.5 2316.9 443.5 2318.5 409.0 2320.0 434.7 2321.6 446.4 2323.2 446.7 2324.8 435.3 2326.4 424.8 2328.0 444.8 2329.6 445.0 2331.2 439.3 2332.7 422.4 2334.3 435.7 2335.9 452.4 2337.5 391.4 2339.1 452.8 2340.7 458.6 2342.3 448.0 2343.9 447.0" fill="none" stroke="none" marker-start="url(#mff00ff)" marker-mid="url(#mff00ff)" marker-end="url(#mff00ff)"/><marker id="m2e8b57" markerWidth="4" markerHeight="4" refX="0" refY="0" markerUnits="userSpaceOnUse" overflow="visible"><path d="M-1.5 0L0-1.5 1.5 0 0 1.5Z" fill="#2e8b57" fill-opacity="0.8"/></marker><path d="M60.2 511.2 61.7 502.7 63.3 518.3 64.9 525.6 66.5 499.3 68.1 512.1 69.7 509.4 71.3 503.4 72.9 488.0 74.4 514.2 76.0 454.4 77.6 505.3 79.2 507.0 80.8 502.2 82.4 485.1 84.0 485.9 85.6 493.6 87.1 503.9 88.7 512.7 90.3 503.6 91.9 517.7 93.5 502.9 95.1 518.2 96.7 467.0 98.2 525.8 99.8 522.9 101.4 493.5 103.0 500.3 104.6 457.4 106.2 482.2 107.8 491.9 109.4 493.4 110.9 494.3 112.5 523.9 114.1 508.4 115.7 510.4 117.3 503.2 118.9 518.2 120.5 503.4 122.1 507.6 123.6 519.8 125.2 521.7 126.8 511.4 128.4 506.4 130.0 504.4 131.6 495.1 133.2 481.4 134.8 472.8 136.3 496.2 137.9 507.4 139.5 503.1 141.1 514.4 142.7 504.6 144.3 493.4 145.9 508.5 147.4 484.8 149.0 504.8 150.6 485.0 152.2 486.8 153.8 452.6 155.4 503.4 157.0 517.9 158.6 495.4 160.1 518.5 161.7 494.0 163.3 486.4 164.9 501.5 166.5 496.3 168.1 507.3 169.7 477.5 171.3 503.0 172.8 462.3 174.4 470.1 176.0 500.5 177.6 513.7 179.2 512.4 180.8 501.1 182.4 435.2 183.9 510.0 185.5 510.4 187.1 502.4 188.7 477.0 190.3 506.0 191.9 506.0 193.5 502.9 195.1 499.2 196.6 523.5 198.2 496.9 199.8 485.4 201.4 520.7 203.0 512.4 204.6 524.0 206.2 525.4 207.8 501.1 209.3 522.3 210.9 517.6 212.5 511.3 214.1 479.9 215.7 526.0 217.3 505.8 218.9 518.5 220.4 516.2 222.0 526.9 223.6 523.8 225.2 524.7 226.8 494.8 228.4 516.6 230.0 511.3 231.6 491.2 233.1 508.9 234.7 505.0 236.3 498.3 237.9 505.4 239.5 522.3 241.1 515.6 242.7 485.3 244.3 494.7 245.8 514.4 247.4 487.7 249.0 504.7 250.6 474.1 252.2 508.2 253.8 477.7 255.4 490.4 256.9 487.9 258.5 506.9 260.1 517.9 261.7 510.3 263.3 506.6 264.9 512.2 266.5 518.9 268.1 504.7 269.6 473.9 271.2 514.8 272.8 500.7 274.4 478.0 276.0 521.0 277.6 537.5 279.2 525.5 280.8 519.4 282.3 524.4 283.9 514.9 285.5 526.2 287.1 524.5 288.7 485.9 290.3 437.4 291.9 444.5 293.5 474.1 295.0 479.6 296.6 510.0 298.2 520.3 299.8 515.4 301.4 529.3 303.0 516.8 304.6 513.8 306.1 504.7 307.7 517.5 309.3 514.0 310.9 521.2 312.5 491.4 314.1 508.6 315.7 468.4 317.3 494.3 318.8 496.9 320.4 513.7 322.0 479.1 323.6 506.2 325.2 485.8 326.8 526.0 328.4 528.8 330.0 479.3 331.5 519.0 333.1 524.0 334.7 520.4 336.3 525.7 337.9 530.3 339.5 531.1 341.1 483.7 342.6 513.6 344.2 508.2 345.8 530.7 347.4 519.4 349.0 512.5 350.6 480.5 352.2 510.9 353.8 509.8 355.3 517.9 356.9 517.5 358.5 486.2 360.1 526.7 361.7 512.4 363.3 516.2 364.9 469.2 366.5 502.9 368.0 509.4 369.6 517.2 371.2 507.2 372.8 512.1 374.4 521.5 376.0 512.9 377.6 503.1 379.1 515.0 380.7 489.0 382.3 517.5 383.9 509.1 385.5 496.3 387.1 514.7 388.7 487.3 390.3 451.5 391.8 511.8 393.4 506.4 395.0 507.5 396.6 501.5 398.2 478.1 399.8 505.0 401.4 516.6 403.0 482.0 404.5 493.5 406.1 472.8 407.7 467.2 409.3 470.7 410.9 474.1 412.5 492.1 414.1 450.8 415.6 489.9 417.2 471.3 418.8 503.5 420.4 487.9 422.0 495.2 423.6 437.4 425.2 507.5 426.8 504.3 428.3 509.3 429.9 513.4 431.5 514.0 433.1 514.1 434.7 515.9 436.3 511.9 437.9 516.4 439.5 493.3 441.0 467.3 442.6 517.4 444.2 512.0 445.8 506.2 447.4 493.2 449.0 464.1 450.6 455.9 452.2 492.7 453.7 516.1 455.3 446.9 456.9 506.9 458.5 516.8 460.1 482.3 461.7 499.6 463.3 477.9 464.8 474.6 466.4 418.6 468.0 487.6 469.6 493.2 471.2 523.5 472.8 517.2 474.4 508.5 476.0 497.6 477.5 495.5 479.1 492.9 480.7 468.0 482.3 463.3 483.9 472.7 485.5 511.2 487.1 513.4 488.7 510.3 490.2 503.6 491.8 492.7 493.4 512.9 495.0 487.4 496.6 485.5 498.2 505.6 499.8 497.4 501.3 485.7 502.9 503.9 504.5 474.8 506.1 446.3 507.7 478.8 509.3 454.6 510.9 465.1 512.5 440.8 514.0 460.9 515.6 511.2 517.2 492.9 518.8 518.5 520.4 509.4 522.0 477.1 523.6 515.9 525.2 458.7 526.7 512.4 528.3 500.4 529.9 506.0 531.5 515.1 533.1 499.9 534.7 500.4 536.3 476.2 537.8 512.0 539.4 506.7 541.0 501.5 542.6 472.6 544.2 480.1 545.8 474.0 547.4 438.2 549.0 452.3 550.5 413.9 552.1 431.4 553.7 456.2 555.3 492.5 556.9 490.3 558.5 487.6 560.1 474.6 561.7 429.2 563.2 471.9 564.8 439.5 566.4 465.1 568.0 459.6 569.6 491.1 571.2 458.6 572.8 473.3 574.3 482.3 575.9 486.0 577.5 482.6 579.1 505.3 580.7 492.6 582.3 469.3 583.9 497.8 585.5 495.1 587.0 498.1 588.6 454.7 590.2 499.9 591.8 486.9 593.4 490.2 595.0 461.4 596.6 485.1 598.2 486.6 599.7 493.7 601.3 454.4 602.9 466.9 604.5 480.2 606.1 489.6 607.7 471.1 609.3 468.4 610.9 477.9 612.4 468.9 614.0 464.6 615.6 493.8 617.2 478.1 618.8 479.9 620.4 447.2 622.0 472.4 623.5 481.9 625.1 487.3 626.7 468.2 628.3 498.3 629.9 493.4 631.5 512.5 633.1 480.8 634.7 431.1 636.2 475.9 637.8 487.4 639.4 454.4 641.0 492.4 642.6 481.2 644.2 492.1 645.8 457.5 647.4 429.4 648.9 480.1 650.5 425.7 652.1 451.6 653.7 471.5 655.3 491.6 656.9 494.1 658.5 453.3 660.0 510.6 661.6 490.4 663.2 480.7 664.8 496.1 666.4 441.7 668.0 485.3 669.6 471.5 671.2 476.9 672.7 444.2 674.3 425.0 675.9 440.6 677.5 481.7 679.1 455.0 680.7 496.7 682.3 480.9 683.9 427.4 685.4 479.3 687.0 470.1 688.6 507.4 690.2 461.2 691.8 449.2 693.4 444.6 695.0 495.6 696.5 445.9 698.1 460.3 699.7 411.4 701.3 446.8 702.9 508.4 704.5 505.3 706.1 449.8 707.7 503.5 709.2 428.8 710.8 491.8 712.4 496.5 714.0 391.4 715.6 499.8 717.2 504.9 718.8 474.9 720.4 516.9 721.9 512.3 723.5 486.7 725.1 505.6 726.7 491.5 728.3 470.7 729.9 453.9 731.5 474.3 733.0 481.7 734.6 501.3 736.2 447.9 737.8 448.7 739.4 436.7 741.0 397.0 742.6 496.1 744.2 507.9 745.7 463.5 747.3 468.0 748.9 460.1 750.5 470.9 752.1 482.5 753.7 495.8 755.3 486.5 756.9 508.2 758.4 508.1 760.0 493.6 761.6 496.3 763.2 513.2 764.8 508.6 766.4 510.9 768.0 493.3 769.6 506.3 771.1 504.3 772.7 504.6 774.3 499.4 775.9 503.0 777.5 453.0 779.1 450.1 780.7 482.0 782.2 393.9 783.8 501.6 785.4 493.5 787.0 467.5 788.6 432.2 790.2 470.1 791.8 409.4 793.4 424.2 794.9 474.7 796.5 480.5 798.1 479.8 799.7 500.4 801.3 468.0 802.9 494.2 804.5 511.2 806.1 486.5 807.6 428.5 809.2 437.8 810.8 472.8 812.4 447.9 814.0 508.9 815.6 511.4 817.2 503.6 818.7 496.1 820.3 498.6 821.9 474.9 823.5 440.3 825.1 505.2 826.7 472.2 828.3 484.3 829.9 496.6 831.4 471.3 833.0 469.4 834.6 485.4 836.2 496.2 837.8 489.0 839.4 479.5 841.0 456.9 842.6 470.9 844.1 491.6 845.7 481.3 847.3 438.0 848.9 469.1 850.5 435.9 852.1 467.0 853.7 499.3 855.2 443.5 856.8 457.8 858.4 509.0 860.0 504.4 861.6 511.0 863.2 489.2 864.8 515.8 866.4 479.9 867.9 514.4 869.5 453.1 871.1 504.0 872.7 522.9 874.3 453.4 875.9 476.4 877.5 475.3 879.1 500.2 880.6 462.5 882.2 499.0 883.8 461.5 885.4 491.7 887.0 489.9 888.6 493.8 890.2 494.5 891.7 480.2 893.3 492.2 894.9 496.9 896.5 489.0 898.1 465.5 899.7 440.5 901.3 451.1 902.9 503.2 904.4 440.3 906.0 416.3 907.6 480.1 909.2 474.0 910.8 472.1 912.4 420.8 914.0 479.5 915.6 521.0 917.1 385.7 918.7 502.2 920.3 450.3 921.9 460.4 923.5 449.1 925.1 493.2 926.7 448.5 928.3 418.1 929.8 494.8 931.4 490.2 933.0 418.4 934.6 475.8 936.2 397.2 937.8 477.4 939.4 502.4 940.9 431.3 942.5 468.7 944.1 413.5 945.7 405.6 947.3 486.2 948.9 491.5 950.5 479.3 952.1 498.9 953.6 519.2 955.2 415.4 956.8 511.0 958.4 526.5 960.0 517.8 961.6 523.8 963.2 467.8 964.8 513.8 966.3 492.2 967.9 513.6 969.5 479.8 971.1 467.5 972.7 501.6 974.3 454.5 975.9 496.3 977.4 466.8 979.0 439.0 980.6 387.5 982.2 465.8 983.8 444.5 985.4 508.5 987.0 438.0 988.6 515.1 990.1 458.3 991.7 489.0 993.3 513.9 994.9 512.2 996.5 521.6 998.1 472.1 999.7 462.3 1001.3 459.6 1002.8 461.3 1004.4 481.6 1006.0 509.9 1007.6 491.4 1009.2 460.1 1010.8 487.5 1012.4 516.3 1013.9 477.3 1015.5 466.4 1017.1 470.4 1018.7 478.6 1020.3 501.4 1021.9 501.9 1023.5 503.0 1025.1 518.6 1026.6 526.5 1028.2 517.1 1029.8 507.6 1031.4 525.7 1033.0 496.4 1034.6 502.1 1036.2 525.7 1037.8 520.3 1039.3 502.6 1040.9 502.2 1042.5 492.1 1044.1 521.2 1045.7 475.2 1047.3 493.0 1048.9 523.4 1050.4 515.6 1052.0 528.4 1053.6 538.4 1055.2 488.7 1056.8 479.0 1058.4 484.9 1060.0 502.0 1061.6 498.8 1063.1 489.8 1064.7 502.1 1066.3 508.6 1067.9 505.8 1069.5 455.0 1071.1 499.1 1072.7 516.2 1074.3 484.7 1075.8 512.3 1077.4 514.7 1079.0 507.0 1080.6 509.4 1082.2 518.2 1083.8 509.5 1085.4 495.5 1087.0 518.2 1088.5 512.4 1090.1 498.1 1091.7 498.5 1093.3 473.9 1094.9 449.5 1096.5 505.6 1098.1 491.6 1099.6 466.7 1101.2 480.4 1102.8 505.4 1104.4 511.3 1106.0 500.5 1107.6 503.7 1109.2 518.6 1110.8 487.0 1112.3 497.8 1113.9 495.7 1115.5 499.9 1117.1 442.4 1118.7 491.3 1120.3 442.3 1121.9 467.3 1123.5 463.7 1125.0 490.9 1126.6 481.1 1128.2 458.2 1129.8 396.3 1131.4 474.8 1133.0 489.9 1134.6 470.0 1136.1 500.7 1137.7 466.3 1139.3 472.6 1140.9 508.1 1142.5 482.4 1144.1 474.4 1145.7 463.2 1147.3 381.8 1148.8 503.7 1150.4 501.4 1152.0 510.8 1153.6 508.8 1155.2 495.3 1156.8 482.7 1158.4 489.5 1160.0 453.4 1161.5 428.3 1163.1 483.8 1164.7 499.8 1166.3 485.0 1167.9 522.3 1169.5 501.2 1171.1 518.3 1172.6 484.7 1174.2 505.2 1175.8 499.5 1177.4 460.5 1179.0 505.5 1180.6 509.4 1182.2 494.1 1183.8 422.0 1185.3 504.6 1186.9 508.1 1188.5 494.4 1190.1 513.0 1191.7 501.2 1193.3 526.3 1194.9 500.2 1196.5 526.5 1198.0 484.9 1199.6 529.0 1201.2 483.6 1202.8 497.4 1204.4 509.8 1206.0 415.4 1207.6 498.1 1209.1 485.4 1210.7 499.8 1212.3 452.4 1213.9 503.6 1215.5 488.7 1217.1 464.2 1218.7 386.8 1220.3 388.3 1221.8 474.7 1223.4 491.8 1225.0 513.6 1226.6 521.9 1228.2 468.8 1229.8 513.6 1231.4 477.4 1233.0 499.0 1234.5 490.2 1236.1 506.4 1237.7 487.9 1239.3 481.9 1240.9 458.0 1242.5 494.3 1244.1 416.5 1245.7 493.4 1247.2 471.9 1248.8 519.8 1250.4 417.8 1252.0 497.0 1253.6 481.6 1255.2 468.2 1256.8 405.5 1258.3 467.1 1259.9 506.6 1261.5 493.9 1263.1 503.3 1264.7 471.9 1266.3 522.0 1267.9 508.8 1269.5 495.1 1271.0 459.8 1272.6 434.6 1274.2 418.1 1275.8 445.5 1277.4 486.7 1279.0 416.3 1280.6 428.0 1282.2 479.8 1283.7 474.9 1285.3 485.9 1286.9 436.6 1288.5 482.4 1290.1 501.2 1291.7 485.2 1293.3 496.0 1294.8 443.2 1296.4 482.7 1298.0 487.0 1299.6 471.2 1301.2 456.7 1302.8 434.1 1304.4 455.2 1306.0 471.3 1307.5 532.3 1309.1 480.9 1310.7 482.4 1312.3 479.7 1313.9 381.1 1315.5 398.4 1317.1 481.6 1318.7 488.8 1320.2 468.3 1321.8 503.4 1323.4 473.0 1325.0 511.2 1326.6 500.8 1328.2 448.0 1329.8 426.4 1331.3 463.9 1332.9 488.1 1334.5 398.5 1336.1 459.6 1337.7 459.0 1339.3 493.9 1340.9 520.4 1342.5 490.9 1344.0 506.2 1345.6 402.8 1347.2 515.8 1348.8 513.3 1350.4 497.4 1352.0 456.1 1353.6 494.7 1355.2 496.5 1356.7 422.0 1358.3 468.1 1359.9 429.5 1361.5 475.9 1363.1 450.7 1364.7 476.2 1366.3 471.3 1367.8 437.3 1369.4 492.4 1371.0 390.5 1372.6 457.6 1374.2 488.5 1375.8 483.0 1377.4 466.5 1379.0 489.8 1380.5 482.5 1382.1 511.8 1383.7 463.8 1385.3 502.4 1386.9 491.4 1388.5 400.7 1390.1 467.7 1391.7 485.0 1393.2 464.6 1394.8 496.1 1396.4 526.5 1398.0 492.9 1399.6 491.5 1401.2 496.3 1402.8 481.7 1404.4 434.0 1405.9 500.3 1407.5 450.2 1409.1 464.2 1410.7 490.6 1412.3 496.0 1413.9 489.8 1415.5 500.8 1417.0 480.8 1418.6 463.9 1420.2 488.7 1421.8 520.3 1423.4 488.3 1425.0 492.9 1426.6 450.7 1428.2 378.9 1429.7 470.7 1431.3 424.8 1432.9 414.5 1434.5 428.7 1436.1 499.0 1437.7 475.3 1439.3 428.0 1440.9 470.1 1442.4 478.9 1444.0 468.6 1445.6 409.3 1447.2 504.2 1448.8 485.4 1450.4 493.0 1452.0 460.1 1453.5 458.3 1455.1 467.1 1456.7 448.2 1458.3 500.5 1459.9 446.3 1461.5 473.5 1463.1 478.9 1464.7 467.1 1466.2 484.6 1467.8 517.2 1469.4 500.6 1471.0 428.5 1472.6 409.7 1474.2 478.7 1475.8 460.4 1477.4 474.7 1478.9 468.1 1480.5 500.5 1482.1 502.3 1483.7 393.9 1485.3 444.7 1486.9 430.6 1488.5 468.2 1490.0 504.8 1491.6 472.0 1493.2 494.3 1494.8 497.7 1496.4 490.5 1498.0 484.8 1499.6 447.3 1501.2 476.5 1502.7 500.0 1504.3 499.8 1505.9 484.1 1507.5 472.6 1509.1 490.5 1510.7 501.1 1512.3 494.2 1513.9 478.9 1515.4 498.3 1517.0 516.1 1518.6 509.9 1520.2 493.4 1521.8 469.9 1523.4 518.7 1525.0 489.2 1526.5 499.6 1528.1 508.4 1529.7 508.4 1531.3 456.6 1532.9 493.0 1534.5 413.8 1536.1 427.3 1537.7 516.0 1539.2 475.6 1540.8 498.1 1542.4 484.5 1544.0 419.8 1545.6 520.3 1547.2 497.9 1548.8 491.6 1550.4 488.1 1551.9 489.7 1553.5 484.9 1555.1 477.0 1556.7 423.1 1558.3 441.7 1559.9 463.2 1561.5 427.2 1563.1 508.4 1564.6 490.0 1566.2 501.8 1567.8 484.9 1569.4 501.2 1571.0 477.4 1572.6 446.3 1574.2 446.4 1575.7 422.3 1577.3 494.9 1578.9 447.6 1580.5 461.0 1582.1 381.0 1583.7 440.1 1585.3 408.1 1586.9 492.0 1588.4 458.4 1590.0 465.2 1591.6 463.2 1593.2 485.5 1594.8 475.8 1596.4 465.6 1598.0 443.8 1599.6 506.4 1601.1 441.9 1602.7 502.9 1604.3 511.8 1605.9 504.6 1607.5 514.8 1609.1 411.4 1610.7 460.1 1612.2 503.2 1613.8 503.2 1615.4 512.1 1617.0 519.6 1618.6 434.6 1620.2 402.5 1621.8 443.6 1623.4 514.0 1624.9 412.3 1626.5 499.4 1628.1 393.8 1629.7 490.3 1631.3 411.6 1632.9 487.7 1634.5 498.3 1636.1 396.9 1637.6 483.5 1639.2 513.2 1640.8 460.5 1642.4 448.6 1644.0 489.0 1645.6 477.7 1647.2 492.6 1648.7 424.4 1650.3 423.4 1651.9 486.6 1653.5 474.4 1655.1 508.7 1656.7 492.2 1658.3 454.5 1659.9 490.8 1661.4 486.8 1663.0 489.8 1664.6 455.5 1666.2 486.5 1667.8 379.4 1669.4 483.1 1671.0 461.6 1672.6 406.6 1674.1 452.2 1675.7 473.9 1677.3 498.8 1678.9 495.5 1680.5 500.1 1682.1 508.9 1683.7 467.9 1685.2 497.0 1686.8 474.9 1688.4 473.8 1690.0 497.4 1691.6 505.3 1693.2 468.4 1694.8 412.4 1696.4 489.7 1697.9 454.2 1699.5 493.3 1701.1 484.2 1702.7 417.5 1704.3 472.4 1705.9 502.9 1707.5 503.3 1709.1 483.3 1710.6 409.1 1712.2 446.2 1713.8 450.4 1715.4 476.2 1717.0 447.3 1718.6 487.4 1720.2 453.1 1721.8 475.7 1723.3 495.1 1724.9 514.4 1726.5 413.6 1728.1 485.0 1729.7 415.4 1731.3 432.1 1732.9 442.2 1734.4 467.6 1736.0 448.4 1737.6 458.8 1739.2 474.3 1740.8 488.1 1742.4 467.8 1744.0 415.7 1745.6 493.9 1747.1 513.3 1748.7 500.6 1750.3 431.1 1751.9 418.9 1753.5 459.7 1755.1 418.9 1756.7 483.8 1758.3 496.7 1759.8 457.6 1761.4 490.0 1763.0 526.9 1764.6 529.2 1766.2 469.0 1767.8 491.7 1769.4 497.6 1770.9 489.9 1772.5 452.0 1774.1 456.2 1775.7 476.7 1777.3 459.0 1778.9 482.3 1780.5 479.4 1782.1 441.1 1783.6 452.2 1785.2 487.4 1786.8 490.1 1788.4 493.8 1790.0 494.4 1791.6 492.0 1793.2 511.8 1794.8 485.7 1796.3 462.5 1797.9 492.6 1799.5 523.1 1801.1 510.0 1802.7 524.1 1804.3 424.5 1805.9 523.7 1807.4 500.4 1809.0 536.5 1810.6 495.7 1812.2 454.4 1813.8 442.3 1815.4 491.6 1817.0 498.0 1818.6 480.6 1820.1 483.8 1821.7 492.9 1823.3 474.2 1824.9 481.6 1826.5 474.2 1828.1 490.8 1829.7 448.4 1831.3 497.4 1832.8 491.2 1834.4 472.3 1836.0 501.1 1837.6 461.5 1839.2 523.8 1840.8 493.7 1842.4 496.4 1843.9 496.1 1845.5 496.4 1847.1 520.6 1848.7 467.1 1850.3 434.3 1851.9 521.4 1853.5 472.7 1855.1 517.3 1856.6 517.4 1858.2 498.3 1859.8 458.6 1861.4 516.8 1863.0 490.0 1864.6 504.0 1866.2 511.4 1867.8 454.0 1869.3 464.2 1870.9 457.7 1872.5 427.5 1874.1 471.8 1875.7 476.7 1877.3 478.9 1878.9 477.1 1880.5 456.1 1882.0 495.5 1883.6 505.1 1885.2 491.0 1886.8 503.3 1888.4 518.8 1890.0 533.8 1891.6 532.5 1893.1 533.4 1894.7 506.4 1896.3 514.1 1897.9 513.5 1899.5 503.8 1901.1 493.7 1902.7 470.9 1904.3 464.9 1905.8 478.7 1907.4 511.6 1909.0 513.1 1910.6 505.7 1912.2 504.0 1913.8 509.0 1915.4 508.5 1917.0 488.7 1918.5 500.5 1920.1 430.6 1921.7 483.4 1923.3 477.0 1924.9 491.4 1926.5 482.6 1928.1 491.2 1929.6 461.1 1931.2 486.7 1932.8 496.9 1934.4 497.8 1936.0 513.4 1937.6 506.7 1939.2 477.2 1940.8 491.5 1942.3 515.2 1943.9 507.3 1945.5 497.7 1947.1 508.6 1948.7 511.7 1950.3 428.9 1951.9 524.2 1953.5 491.1 1955.0 519.8 1956.6 519.0 1958.2 491.9 1959.8 520.1 1961.4 477.5 1963.0 513.3 1964.6 477.6 1966.1 487.6 1967.7 499.8 1969.3 481.5 1970.9 500.3 1972.5 515.9 1974.1 506.4 1975.7 499.1 1977.3 466.7 1978.8 508.1 1980.4 482.2 1982.0 488.6 1983.6 504.5 1985.2 472.4 1986.8 485.3 1988.4 481.8 1990.0 451.4 1991.5 390.3 1993.1 432.2 1994.7 485.3 1996.3 519.1 1997.9 501.0 1999.5 504.0 2001.1 431.9 2002.6 479.4 2004.2 478.8 2005.8 460.8 2007.4 466.1 2009.0 449.1 2010.6 514.7 2012.2 477.8 2013.8 497.1 2015.3 495.2 2016.9 499.0 2018.5 477.9 2020.1 474.0 2021.7 450.3 2023.3 475.0 2024.9 448.7 2026.5 492.8 2028.0 482.4 2029.6 464.0 2031.2 388.5 2032.8 469.8 2034.4 472.8 2036.0 470.5 2037.6 504.5 2039.2 491.0 2040.7 500.6 2042.3 493.6 2043.9 491.5 2045.5 479.4 2047.1 491.9 2048.7 478.8 2050.3 499.1 2051.8 502.3 2053.4 501.3 2055.0 495.1 2056.6 490.9 2058.2 492.2 2059.8 499.1 2061.4 498.7 2063.0 494.3 2064.5 469.6 2066.1 478.7 2067.7 474.7 2069.3 451.5 2070.9 471.3 2072.5 440.0 2074.1 476.0 2075.7 483.5 2077.2 479.8 2078.8 501.9 2080.4 499.5 2082.0 492.7 2083.6 493.2 2085.2 478.5 2086.8 418.3 2088.3 455.8 2089.9 454.6 2091.5 489.2 2093.1 500.8 2094.7 490.4 2096.3 485.1 2097.9 472.3 2099.5 490.0 2101.0 485.2 2102.6 462.7 2104.2 456.7 2105.8 493.1 2107.4 471.4 2109.0 467.9 2110.6 488.4 2112.2 470.4 2113.7 472.7 2115.3 488.4 2116.9 479.4 2118.5 480.3 2120.1 496.4 2121.7 479.3 2123.3 486.6 2124.8 484.0 2126.4 502.4 2128.0 489.6 2129.6 492.0 2131.2 506.1 2132.8 483.1 2134.4 501.7 2136.0 503.1 2137.5 505.9 2139.1 510.5 2140.7 508.7 2142.3 501.4 2143.9 515.0 2145.5 504.5 2147.1 509.2 2148.7 495.9 2150.2 511.0 2151.8 501.6 2153.4 508.1 2155.0 494.4 2156.6 510.8 2158.2 499.3 2159.8 494.2 2161.3 484.9 2162.9 498.1 2164.5 449.0 2166.1 503.6 2167.7 485.7 2169.3 476.9 2170.9 489.7 2172.5 481.4 2174.0 504.7 2175.6 494.0 2177.2 503.3 2178.8 499.5 2180.4 508.8 2182.0 499.4 2183.6 483.7 2185.2 478.0 2186.7 460.8 2188.3 485.8 2189.9 475.0 2191.5 503.5 2193.1 485.4 2194.7 499.9 2196.3 485.8 2197.9 504.6 2199.4 512.7 2201.0 511.4 2202.6 440.9 2204.2 484.4 2205.8 464.1 2207.4 500.4 2209.0 515.1 2210.5 512.1 2212.1 494.9 2213.7 504.7 2215.3 507.0 2216.9 481.5 2218.5 442.0 2220.1 431.6 2221.7 473.2 2223.2 469.3 2224.8 503.5 2226.4 500.8 2228.0 511.9 2229.6 492.7 2231.2 511.5 2232.8 472.8 2234.4 523.3 2235.9 495.5 2237.5 515.3 2239.1 512.0 2240.7 511.9 2242.3 513.6 2243.9 500.4 2245.5 518.1 2247.0 516.1 2248.6 522.5 2250.2 515.1 2251.8 510.2 2253.4 510.8 2255.0 517.9 2256.6 485.3 2258.2 510.5 2259.7 502.6 2261.3 484.3 2262.9 510.9 2264.5 455.0 2266.1 499.9 2267.7 462.1 2269.3 509.0 2270.9 520.4 2272.4 525.1 2274.0 526.7 2275.6 519.9 2277.2 510.1 2278.8 483.7 2280.4 486.1 2282.0 497.7 2283.5 514.7 2285.1 522.2 2286.7 506.3 2288.3 519.7 2289.9 506.3 2291.5 521.9 2293.1 489.3 2294.7 520.3 2296.2 517.4 2297.8 520.4 2299.4 517.7 2301.0 509.8 2302.6 518.6 2304.2 518.8 2305.8 476.8 2307.4 523.1 2308.9 512.0 2310.5 523.6 2312.1 513.1 2313.7 452.0 2315.3 503.4 2316.9 476.1 2318.5 474.8 2320.0 486.3 2321.6 458.2 2323.2 494.6 2324.8 485.8 2326.4 430.8 2328.0 440.6 2329.6 492.2 2331.2 502.2 2332.7 500.6 2334.3 502.8 2335.9 484.9 2337.5 472.9 2339.1 464.1 2340.7 515.0 2342.3 490.8 2343.9 509.0" fill="none" stroke="none" marker-start="url(#m2e8b57)" marker-mid="url(#m2e8b57)" marker-end="url(#m2e8b57)"/><path d="M60.2 457.6 61.7 450.6 63.3 460.0 64.9 460.0 66.5 459.4 68.1 458.8 69.7 440.3 71.3 448.4 72.9 446.5 74.4 451.5 76.0 434.0 77.6 439.0 79.2 447.2 80.8 444.0 82.4 426.0 84.0 398.2 85.6 413.0 87.1 447.5 88.7 448.8 90.3 447.2 91.9 448.0 93.5 454.1 95.1 450.6 96.7 448.4 98.2 455.4 99.8 452.5 101.4 457.6 103.0 452.4 104.6 418.0 106.2 429.3 107.8 449.4 109.4 449.4 110.9 455.2 112.5 456.2 114.1 457.0 115.7 451.2 117.3 450.8 118.9 455.3 120.5 457.3 122.1 452.9 123.6 453.0 125.2 454.6 126.8 450.5 128.4 454.9 130.0 455.0 131.6 444.7 133.2 416.2 134.8 430.5 136.3 435.1 137.9 451.7 139.5 450.8 141.1 451.6 142.7 451.0 144.3 451.3 145.9 451.3 147.4 455.8 149.0 452.7 150.6 456.8 152.2 440.0 153.8 436.5 155.4 445.0 157.0 454.6 158.6 458.1 160.1 457.2 161.7 463.2 163.3 461.5 164.9 457.5 166.5 463.9 168.1 446.9 169.7 456.4 171.3 450.7 172.8 447.1 174.4 445.1 176.0 446.0 177.6 453.5 179.2 452.0 180.8 445.9 182.4 451.4 183.9 452.4 185.5 446.4 187.1 442.6 188.7 438.4 190.3 436.0 191.9 430.4 193.5 437.9 195.1 439.3 196.6 445.7 198.2 441.6 199.8 446.5 201.4 447.3 203.0 451.7 204.6 451.0 206.2 450.8 207.8 450.5 209.3 452.4 210.9 453.3 212.5 454.0 214.1 445.8 215.7 455.3 217.3 451.0 218.9 452.6 220.4 458.0 222.0 452.8 223.6 449.5 225.2 454.1 226.8 459.4 228.4 454.5 230.0 452.2 231.6 454.5 233.1 456.8 234.7 450.3 236.3 447.6 237.9 451.0 239.5 445.4 241.1 443.9 242.7 439.9 244.3 431.7 245.8 423.7 247.4 415.9 249.0 415.8 250.6 429.9 252.2 438.4 253.8 441.3 255.4 447.9 256.9 451.7 258.5 451.9 260.1 453.4 261.7 452.6 263.3 458.5 264.9 461.9 266.5 449.3 268.1 441.6 269.6 401.3 271.2 440.1 272.8 450.3 274.4 460.0 276.0 452.2 277.6 452.8 279.2 445.2 280.8 443.9 282.3 446.7 283.9 443.7 285.5 454.3 287.1 448.9 288.7 428.4 290.3 398.1 291.9 420.3 293.5 449.7 295.0 455.6 296.6 457.0 298.2 453.7 299.8 450.5 301.4 462.3 303.0 453.2 304.6 452.8 306.1 451.3 307.7 456.4 309.3 454.9 310.9 452.7 312.5 455.6 314.1 455.7 315.7 454.7 317.3 453.0 318.8 452.4 320.4 454.5 322.0 435.6 323.6 458.1 325.2 459.0 326.8 454.1 328.4 458.5 330.0 459.4 331.5 457.1 333.1 456.3 334.7 455.8 336.3 458.0 337.9 458.9 339.5 457.4 341.1 457.3 342.6 453.1 344.2 456.1 345.8 454.5 347.4 456.1 349.0 451.3 350.6 461.4 352.2 453.4 353.8 451.8 355.3 457.2 356.9 446.6 358.5 451.2 360.1 430.6 361.7 414.9 363.3 430.1 364.9 453.2 366.5 456.5 368.0 454.7 369.6 453.6 371.2 451.1 372.8 453.2 374.4 455.9 376.0 453.7 377.6 458.1 379.1 452.3 380.7 446.8 382.3 446.7 383.9 447.5 385.5 447.3 387.1 440.4 388.7 443.5 390.3 440.6 391.8 441.1 393.4 443.8 395.0 434.5 396.6 443.8 398.2 436.5 399.8 423.2 401.4 425.9 403.0 426.8 404.5 420.6 406.1 397.7 407.7 384.1 409.3 395.1 410.9 427.2 412.5 434.5 414.1 427.0 415.6 435.5 417.2 421.1 418.8 423.7 420.4 425.7 422.0 438.6 423.6 441.8 425.2 442.7 426.8 437.2 428.3 426.8 429.9 431.6 431.5 426.9 433.1 440.4 434.7 447.2 436.3 446.8 437.9 440.9 439.5 424.4 441.0 433.1 442.6 438.7 444.2 442.9 445.8 430.0 447.4 429.6 449.0 424.2 450.6 425.9 452.2 432.5 453.7 435.0 455.3 435.3 456.9 435.3 458.5 443.0 460.1 438.2 461.7 439.8 463.3 406.7 464.8 427.3 466.4 423.0 468.0 427.2 469.6 429.2 471.2 448.7 472.8 444.5 474.4 450.9 476.0 446.4 477.5 440.6 479.1 443.5 480.7 433.6 482.3 428.4 483.9 440.4 485.5 448.0 487.1 444.8 488.7 440.1 490.2 439.4 491.8 443.8 493.4 440.0 495.0 443.7 496.6 453.4 498.2 442.6 499.8 439.2 501.3 424.2 502.9 434.5 504.5 438.2 506.1 431.7 507.7 442.1 509.3 426.9 510.9 427.3 512.5 419.9 514.0 420.0 515.6 432.4 517.2 441.7 518.8 442.5 520.4 438.2 522.0 441.5 523.6 440.9 525.2 434.6 526.7 443.0 528.3 438.7 529.9 432.7 531.5 429.6 533.1 428.6 534.7 432.1 536.3 369.3 537.8 426.9 539.4 426.0 541.0 432.8 542.6 428.5 544.2 430.0 545.8 435.1 547.4 434.9 549.0 420.4 550.5 392.6 552.1 417.8 553.7 426.9 555.3 430.0 556.9 425.0 558.5 425.0 560.1 417.2 561.7 393.0 563.2 382.9 564.8 392.2 566.4 402.9 568.0 414.3 569.6 396.0 571.2 405.5 572.8 397.4 574.3 389.7 575.9 392.9 577.5 413.6 579.1 418.5 580.7 418.4 582.3 417.1 583.9 414.7 585.5 419.1 587.0 422.7 588.6 418.3 590.2 398.1 591.8 404.9 593.4 395.0 595.0 384.8 596.6 395.5 598.2 398.7 599.7 417.2 601.3 423.3 602.9 424.0 604.5 425.4 606.1 433.8 607.7 430.0 609.3 419.2 610.9 424.7 612.4 421.7 614.0 424.6 615.6 429.7 617.2 432.0 618.8 422.0 620.4 387.5 622.0 418.5 623.5 433.0 625.1 427.1 626.7 439.3 628.3 430.5 629.9 438.2 631.5 430.1 633.1 428.9 634.7 423.8 636.2 419.9 637.8 419.9 639.4 401.7 641.0 404.4 642.6 422.3 644.2 428.4 645.8 413.8 647.4 407.6 648.9 408.2 650.5 390.0 652.1 351.0 653.7 377.1 655.3 417.5 656.9 419.4 658.5 419.5 660.0 420.2 661.6 422.5 663.2 424.5 664.8 418.6 666.4 430.1 668.0 445.8 669.6 429.9 671.2 421.8 672.7 411.0 674.3 401.4 675.9 403.2 677.5 433.6 679.1 405.7 680.7 375.2 682.3 390.4 683.9 402.2 685.4 399.4 687.0 380.7 688.6 401.4 690.2 421.1 691.8 430.1 693.4 430.5 695.0 429.7 696.5 411.1 698.1 408.5 699.7 393.8 701.3 411.2 702.9 427.2 704.5 430.6 706.1 410.6 707.7 436.4 709.2 421.5 710.8 427.6 712.4 425.8 714.0 431.8 715.6 437.7 717.2 429.0 718.8 424.3 720.4 422.5 721.9 438.0 723.5 436.7 725.1 418.8 726.7 394.5 728.3 373.5 729.9 393.9 731.5 414.7 733.0 420.1 734.6 437.4 736.2 433.2 737.8 443.4 739.4 430.1 741.0 412.5 742.6 394.0 744.2 403.4 745.7 415.3 747.3 434.2 748.9 434.8 750.5 381.9 752.1 395.3 753.7 405.5 755.3 420.0 756.9 420.7 758.4 404.5 760.0 422.7 761.6 426.7 763.2 435.4 764.8 424.5 766.4 424.7 768.0 408.2 769.6 418.7 771.1 407.0 772.7 407.2 774.3 421.7 775.9 425.6 777.5 440.9 779.1 433.6 780.7 435.5 782.2 434.8 783.8 432.5 785.4 438.5 787.0 444.1 788.6 437.0 790.2 411.8 791.8 408.1 793.4 384.7 794.9 410.3 796.5 427.4 798.1 447.3 799.7 441.3 801.3 440.8 802.9 440.1 804.5 425.8 806.1 425.1 807.6 433.1 809.2 412.5 810.8 429.4 812.4 447.5 814.0 446.3 815.6 430.3 817.2 421.1 818.7 440.0 820.3 434.9 821.9 443.6 823.5 437.4 825.1 439.8 826.7 432.3 828.3 432.3 829.9 441.1 831.4 431.7 833.0 423.3 834.6 414.5 836.2 397.6 837.8 417.3 839.4 434.2 841.0 443.1 842.6 441.8 844.1 434.9 845.7 432.8 847.3 426.8 848.9 427.8 850.5 435.3 852.1 440.3 853.7 424.9 855.2 421.8 856.8 421.2 858.4 423.1 860.0 427.4 861.6 428.9 863.2 428.5 864.8 432.3 866.4 437.7 867.9 443.0 869.5 443.2 871.1 447.1 872.7 445.6 874.3 438.4 875.9 427.9 877.5 435.7 879.1 434.0 880.6 438.6 882.2 437.7 883.8 425.8 885.4 428.7 887.0 429.8 888.6 431.1 890.2 417.7 891.7 414.4 893.3 409.0 894.9 416.3 896.5 418.3 898.1 414.8 899.7 383.7 901.3 416.9 902.9 413.6 904.4 419.5 906.0 417.2 907.6 403.5 909.2 375.2 910.8 396.5 912.4 423.6 914.0 380.3 915.6 377.4 917.1 414.2 918.7 438.9 920.3 433.2 921.9 414.9 923.5 430.3 925.1 437.2 926.7 429.6 928.3 428.9 929.8 431.3 931.4 433.5 933.0 431.7 934.6 430.4 936.2 409.2 937.8 414.2 939.4 431.8 940.9 429.0 942.5 442.9 944.1 434.4 945.7 424.9 947.3 434.6 948.9 420.8 950.5 407.8 952.1 382.4 953.6 435.3 955.2 430.9 956.8 440.1 958.4 447.5 960.0 441.2 961.6 431.3 963.2 421.8 964.8 407.6 966.3 395.6 967.9 418.1 969.5 428.1 971.1 440.5 972.7 409.8 974.3 377.8 975.9 376.0 977.4 416.7 979.0 425.3 980.6 428.1 982.2 434.4 983.8 427.6 985.4 431.5 987.0 421.0 988.6 424.1 990.1 408.3 991.7 422.2 993.3 414.2 994.9 424.7 996.5 429.4 998.1 408.1 999.7 441.0 1001.3 440.2 1002.8 437.9 1004.4 422.1 1006.0 442.8 1007.6 428.8 1009.2 405.2 1010.8 390.8 1012.4 405.4 1013.9 431.2 1015.5 432.6 1017.1 445.9 1018.7 442.0 1020.3 435.8 1021.9 431.9 1023.5 417.5 1025.1 413.1 1026.6 423.9 1028.2 428.9 1029.8 435.5 1031.4 440.0 1033.0 450.4 1034.6 425.8 1036.2 413.0 1037.8 420.3 1039.3 428.5 1040.9 430.5 1042.5 439.2 1044.1 451.6 1045.7 424.4 1047.3 430.0 1048.9 418.3 1050.4 422.8 1052.0 438.6 1053.6 446.5 1055.2 439.6 1056.8 430.8 1058.4 433.9 1060.0 439.3 1061.6 420.6 1063.1 433.0 1064.7 436.8 1066.3 453.6 1067.9 447.3 1069.5 446.1 1071.1 442.4 1072.7 433.4 1074.3 423.5 1075.8 447.0 1077.4 436.6 1079.0 448.6 1080.6 452.6 1082.2 436.9 1083.8 446.2 1085.4 422.1 1087.0 399.4 1088.5 401.2 1090.1 421.2 1091.7 437.9 1093.3 441.5 1094.9 448.3 1096.5 443.8 1098.1 443.3 1099.6 428.3 1101.2 387.6 1102.8 431.5 1104.4 431.1 1106.0 429.7 1107.6 443.0 1109.2 428.4 1110.8 428.9 1112.3 431.2 1113.9 439.1 1115.5 430.8 1117.1 442.4 1118.7 432.4 1120.3 417.8 1121.9 342.2 1123.5 400.0 1125.0 407.3 1126.6 409.5 1128.2 405.8 1129.8 400.3 1131.4 397.4 1133.0 401.0 1134.6 384.5 1136.1 401.9 1137.7 420.8 1139.3 429.7 1140.9 426.3 1142.5 386.8 1144.1 415.0 1145.7 417.2 1147.3 400.9 1148.8 423.8 1150.4 409.9 1152.0 434.8 1153.6 435.8 1155.2 433.6 1156.8 438.6 1158.4 438.1 1160.0 426.7 1161.5 410.9 1163.1 408.5 1164.7 399.8 1166.3 422.8 1167.9 441.6 1169.5 445.7 1171.1 440.2 1172.6 431.4 1174.2 430.3 1175.8 407.9 1177.4 317.9 1179.0 411.3 1180.6 394.9 1182.2 403.5 1183.8 433.2 1185.3 436.5 1186.9 399.8 1188.5 403.7 1190.1 415.6 1191.7 409.2 1193.3 429.1 1194.9 432.3 1196.5 439.3 1198.0 451.9 1199.6 445.3 1201.2 441.4 1202.8 450.6 1204.4 438.7 1206.0 426.6 1207.6 404.8 1209.1 401.2 1210.7 425.1 1212.3 411.6 1213.9 390.8 1215.5 379.7 1217.1 380.1 1218.7 391.0 1220.3 401.7 1221.8 406.2 1223.4 403.1 1225.0 405.2 1226.6 413.0 1228.2 423.5 1229.8 434.4 1231.4 440.7 1233.0 450.2 1234.5 438.8 1236.1 398.6 1237.7 390.0 1239.3 387.8 1240.9 427.7 1242.5 426.6 1244.1 373.7 1245.7 411.8 1247.2 430.5 1248.8 441.3 1250.4 397.0 1252.0 411.2 1253.6 394.6 1255.2 385.2 1256.8 374.0 1258.3 387.4 1259.9 389.1 1261.5 397.0 1263.1 431.6 1264.7 445.6 1266.3 432.6 1267.9 421.2 1269.5 411.4 1271.0 414.5 1272.6 407.2 1274.2 362.5 1275.8 406.2 1277.4 419.6 1279.0 427.0 1280.6 420.2 1282.2 422.3 1283.7 371.6 1285.3 436.1 1286.9 435.5 1288.5 438.5 1290.1 448.8 1291.7 401.7 1293.3 396.0 1294.8 372.0 1296.4 380.1 1298.0 388.1 1299.6 351.3 1301.2 292.1 1302.8 384.3 1304.4 416.0 1306.0 444.7 1307.5 436.7 1309.1 430.2 1310.7 416.2 1312.3 413.0 1313.9 431.0 1315.5 437.7 1317.1 438.3 1318.7 450.0 1320.2 435.8 1321.8 426.8 1323.4 378.1 1325.0 418.3 1326.6 411.9 1328.2 411.3 1329.8 405.7 1331.3 385.8 1332.9 385.2 1334.5 374.8 1336.1 399.9 1337.7 428.2 1339.3 420.2 1340.9 409.9 1342.5 401.7 1344.0 416.5 1345.6 426.9 1347.2 438.9 1348.8 441.1 1350.4 439.7 1352.0 441.7 1353.6 441.8 1355.2 433.4 1356.7 401.4 1358.3 432.8 1359.9 389.7 1361.5 367.0 1363.1 355.7 1364.7 368.5 1366.3 395.0 1367.8 402.4 1369.4 390.7 1371.0 422.9 1372.6 427.2 1374.2 410.9 1375.8 419.4 1377.4 422.1 1379.0 426.5 1380.5 437.0 1382.1 425.3 1383.7 414.7 1385.3 402.2 1386.9 402.3 1388.5 428.1 1390.1 433.7 1391.7 412.7 1393.2 380.3 1394.8 377.0 1396.4 394.3 1398.0 375.7 1399.6 409.5 1401.2 427.4 1402.8 444.2 1404.4 430.0 1405.9 398.3 1407.5 373.4 1409.1 393.8 1410.7 423.0 1412.3 431.7 1413.9 419.5 1415.5 433.5 1417.0 423.4 1418.6 424.5 1420.2 407.2 1421.8 396.5 1423.4 394.1 1425.0 379.6 1426.6 383.1 1428.2 388.0 1429.7 412.9 1431.3 420.4 1432.9 414.4 1434.5 404.7 1436.1 371.8 1437.7 343.4 1439.3 366.3 1440.9 399.4 1442.4 442.1 1444.0 451.6 1445.6 446.8 1447.2 443.2 1448.8 412.2 1450.4 413.9 1452.0 408.9 1453.5 410.9 1455.1 429.2 1456.7 411.0 1458.3 386.8 1459.9 358.6 1461.5 351.7 1463.1 355.8 1464.7 382.9 1466.2 421.9 1467.8 413.3 1469.4 398.4 1471.0 400.7 1472.6 418.0 1474.2 430.2 1475.8 395.7 1477.4 410.5 1478.9 388.4 1480.5 398.8 1482.1 419.5 1483.7 427.7 1485.3 442.4 1486.9 434.6 1488.5 428.5 1490.0 428.2 1491.6 431.1 1493.2 439.4 1494.8 446.1 1496.4 442.7 1498.0 426.5 1499.6 407.1 1501.2 421.2 1502.7 390.6 1504.3 419.2 1505.9 425.3 1507.5 455.9 1509.1 438.5 1510.7 393.1 1512.3 424.7 1513.9 417.6 1515.4 437.7 1517.0 445.5 1518.6 449.5 1520.2 435.5 1521.8 436.9 1523.4 438.4 1525.0 437.9 1526.5 436.8 1528.1 427.0 1529.7 412.1 1531.3 370.8 1532.9 379.5 1534.5 430.6 1536.1 438.2 1537.7 390.1 1539.2 386.1 1540.8 391.3 1542.4 405.0 1544.0 427.6 1545.6 435.6 1547.2 412.3 1548.8 408.2 1550.4 389.3 1551.9 388.5 1553.5 391.5 1555.1 391.0 1556.7 369.8 1558.3 360.7 1559.9 360.2 1561.5 379.6 1563.1 412.5 1564.6 393.1 1566.2 396.8 1567.8 397.3 1569.4 423.9 1571.0 411.3 1572.6 395.4 1574.2 374.9 1575.7 395.9 1577.3 405.8 1578.9 425.9 1580.5 420.3 1582.1 400.6 1583.7 388.5 1585.3 347.7 1586.9 432.6 1588.4 432.7 1590.0 423.6 1591.6 420.5 1593.2 403.4 1594.8 393.1 1596.4 425.5 1598.0 444.6 1599.6 436.6 1601.1 395.9 1602.7 374.1 1604.3 397.9 1605.9 424.6 1607.5 423.8 1609.1 428.6 1610.7 434.3 1612.2 431.8 1613.8 439.2 1615.4 457.7 1617.0 466.3 1618.6 417.3 1620.2 388.8 1621.8 413.9 1623.4 416.7 1624.9 439.5 1626.5 440.8 1628.1 455.5 1629.7 439.7 1631.3 447.7 1632.9 430.4 1634.5 416.2 1636.1 424.4 1637.6 433.5 1639.2 445.3 1640.8 421.1 1642.4 401.3 1644.0 375.3 1645.6 366.1 1647.2 357.9 1648.7 357.1 1650.3 382.1 1651.9 414.7 1653.5 400.2 1655.1 419.9 1656.7 407.6 1658.3 373.0 1659.9 392.2 1661.4 407.0 1663.0 413.2 1664.6 417.8 1666.2 433.8 1667.8 435.6 1669.4 422.6 1671.0 397.6 1672.6 373.9 1674.1 378.2 1675.7 398.4 1677.3 423.1 1678.9 418.2 1680.5 410.8 1682.1 388.2 1683.7 390.8 1685.2 427.2 1686.8 424.7 1688.4 401.0 1690.0 412.1 1691.6 424.4 1693.2 442.0 1694.8 440.1 1696.4 448.0 1697.9 414.2 1699.5 447.2 1701.1 445.1 1702.7 446.2 1704.3 453.9 1705.9 453.0 1707.5 449.1 1709.1 440.7 1710.6 425.5 1712.2 416.3 1713.8 411.0 1715.4 420.7 1717.0 424.9 1718.6 424.9 1720.2 410.4 1721.8 412.4 1723.3 409.1 1724.9 408.2 1726.5 422.9 1728.1 452.9 1729.7 445.6 1731.3 451.8 1732.9 430.9 1734.4 357.0 1736.0 410.0 1737.6 415.2 1739.2 420.7 1740.8 423.2 1742.4 433.3 1744.0 412.7 1745.6 405.2 1747.1 398.0 1748.7 401.9 1750.3 400.1 1751.9 400.2 1753.5 403.3 1755.1 395.7 1756.7 391.9 1758.3 395.0 1759.8 399.4 1761.4 411.2 1763.0 410.6 1764.6 438.5 1766.2 433.7 1767.8 439.5 1769.4 448.7 1770.9 457.6 1772.5 447.4 1774.1 451.6 1775.7 446.6 1777.3 442.1 1778.9 439.1 1780.5 448.5 1782.1 447.7 1783.6 431.2 1785.2 419.5 1786.8 404.3 1788.4 399.9 1790.0 405.9 1791.6 438.3 1793.2 443.0 1794.8 442.6 1796.3 437.1 1797.9 436.0 1799.5 417.0 1801.1 430.4 1802.7 443.8 1804.3 456.9 1805.9 465.5 1807.4 460.8 1809.0 452.9 1810.6 446.3 1812.2 446.5 1813.8 428.6 1815.4 438.3 1817.0 445.2 1818.6 447.8 1820.1 448.9 1821.7 429.4 1823.3 437.5 1824.9 440.0 1826.5 395.3 1828.1 440.8 1829.7 442.7 1831.3 448.7 1832.8 441.7 1834.4 448.4 1836.0 448.4 1837.6 453.3 1839.2 465.5 1840.8 457.5 1842.4 424.4 1843.9 446.1 1845.5 438.5 1847.1 432.2 1848.7 437.5 1850.3 438.2 1851.9 443.3 1853.5 445.2 1855.1 437.0 1856.6 431.3 1858.2 435.8 1859.8 446.3 1861.4 448.1 1863.0 442.8 1864.6 436.9 1866.2 433.1 1867.8 427.5 1869.3 436.2 1870.9 438.6 1872.5 441.1 1874.1 446.9 1875.7 445.2 1877.3 447.2 1878.9 440.5 1880.5 446.1 1882.0 440.4 1883.6 444.5 1885.2 454.3 1886.8 459.7 1888.4 454.7 1890.0 456.8 1891.6 455.4 1893.1 444.5 1894.7 452.0 1896.3 451.6 1897.9 447.2 1899.5 450.0 1901.1 440.0 1902.7 426.1 1904.3 432.1 1905.8 438.7 1907.4 448.8 1909.0 455.2 1910.6 461.3 1912.2 447.4 1913.8 453.5 1915.4 450.4 1917.0 455.4 1918.5 448.8 1920.1 433.7 1921.7 424.9 1923.3 429.1 1924.9 449.0 1926.5 454.8 1928.1 433.7 1929.6 416.0 1931.2 416.8 1932.8 436.6 1934.4 451.8 1936.0 457.7 1937.6 448.7 1939.2 448.1 1940.8 447.1 1942.3 455.9 1943.9 446.0 1945.5 451.9 1947.1 447.4 1948.7 447.6 1950.3 444.7 1951.9 449.9 1953.5 450.9 1955.0 453.7 1956.6 454.8 1958.2 444.0 1959.8 454.6 1961.4 448.0 1963.0 449.7 1964.6 448.0 1966.1 440.6 1967.7 440.5 1969.3 448.1 1970.9 446.6 1972.5 447.0 1974.1 443.6 1975.7 447.1 1977.3 446.0 1978.8 447.0 1980.4 446.3 1982.0 444.6 1983.6 446.8 1985.2 436.4 1986.8 438.3 1988.4 438.4 1990.0 435.8 1991.5 427.1 1993.1 441.5 1994.7 443.9 1996.3 441.2 1997.9 433.5 1999.5 427.7 2001.1 433.0 2002.6 434.2 2004.2 442.6 2005.8 454.2 2007.4 445.7 2009.0 436.8 2010.6 440.0 2012.2 448.9 2013.8 445.7 2015.3 442.1 2016.9 429.3 2018.5 431.9 2020.1 427.6 2021.7 417.8 2023.3 424.6 2024.9 436.5 2026.5 431.7 2028.0 430.0 2029.6 426.5 2031.2 425.2 2032.8 388.8 2034.4 431.1 2036.0 436.1 2037.6 445.0 2039.2 437.6 2040.7 434.6 2042.3 436.3 2043.9 430.2 2045.5 432.6 2047.1 435.7 2048.7 440.0 2050.3 439.9 2051.8 432.6 2053.4 441.0 2055.0 445.2 2056.6 441.5 2058.2 446.2 2059.8 447.4 2061.4 445.5 2063.0 414.3 2064.5 436.2 2066.1 432.7 2067.7 441.8 2069.3 440.4 2070.9 433.0 2072.5 446.0 2074.1 440.2 2075.7 445.5 2077.2 434.7 2078.8 444.3 2080.4 440.1 2082.0 439.3 2083.6 441.3 2085.2 418.3 2086.8 424.0 2088.3 424.3 2089.9 438.8 2091.5 443.8 2093.1 438.5 2094.7 439.1 2096.3 430.3 2097.9 444.2 2099.5 445.3 2101.0 441.6 2102.6 437.3 2104.2 435.7 2105.8 439.3 2107.4 436.8 2109.0 432.2 2110.6 428.8 2112.2 395.6 2113.7 430.4 2115.3 432.6 2116.9 439.4 2118.5 437.3 2120.1 440.5 2121.7 440.0 2123.3 432.9 2124.8 438.2 2126.4 439.8 2128.0 433.5 2129.6 431.6 2131.2 434.2 2132.8 428.8 2134.4 429.6 2136.0 422.5 2137.5 443.5 2139.1 440.3 2140.7 435.2 2142.3 440.9 2143.9 440.7 2145.5 438.6 2147.1 434.2 2148.7 432.7 2150.2 432.9 2151.8 430.4 2153.4 428.9 2155.0 440.7 2156.6 437.0 2158.2 435.9 2159.8 422.9 2161.3 432.4 2162.9 426.9 2164.5 428.2 2166.1 436.6 2167.7 435.6 2169.3 435.6 2170.9 443.8 2172.5 438.8 2174.0 433.6 2175.6 442.1 2177.2 443.5 2178.8 448.4 2180.4 437.9 2182.0 440.8 2183.6 431.1 2185.2 425.2 2186.7 428.8 2188.3 434.6 2189.9 431.0 2191.5 435.7 2193.1 437.1 2194.7 434.2 2196.3 432.2 2197.9 436.4 2199.4 435.5 2201.0 432.1 2202.6 435.5 2204.2 426.7 2205.8 423.2 2207.4 420.6 2209.0 435.0 2210.5 437.3 2212.1 443.4 2213.7 439.9 2215.3 447.1 2216.9 431.5 2218.5 424.4 2220.1 427.7 2221.7 425.6 2223.2 443.9 2224.8 440.9 2226.4 440.3 2228.0 437.5 2229.6 435.4 2231.2 444.4 2232.8 441.3 2234.4 442.4 2235.9 438.1 2237.5 437.7 2239.1 442.6 2240.7 443.4 2242.3 445.3 2243.9 441.0 2245.5 436.9 2247.0 441.6 2248.6 445.3 2250.2 445.8 2251.8 445.4 2253.4 448.6 2255.0 437.1 2256.6 442.7 2258.2 444.1 2259.7 435.4 2261.3 410.3 2262.9 437.9 2264.5 442.0 2266.1 439.2 2267.7 442.7 2269.3 444.2 2270.9 441.7 2272.4 440.9 2274.0 439.8 2275.6 442.9 2277.2 444.6 2278.8 445.2 2280.4 443.0 2282.0 445.9 2283.5 445.5 2285.1 442.7 2286.7 442.7 2288.3 443.2 2289.9 447.6 2291.5 450.0 2293.1 444.0 2294.7 444.4 2296.2 445.9 2297.8 443.7 2299.4 441.4 2301.0 420.9 2302.6 442.0 2304.2 445.4 2305.8 441.6 2307.4 442.5 2308.9 443.3 2310.5 435.7 2312.1 447.8 2313.7 442.3 2315.3 443.4 2316.9 437.9 2318.5 432.9 2320.0 428.3 2321.6 444.0 2323.2 449.6 2324.8 435.7 2326.4 432.6 2328.0 432.7 2329.6 445.7 2331.2 434.5 2332.7 411.0 2334.3 414.3 2335.9 434.5 2337.5 395.9 2339.1 442.6 2340.7 441.9 2342.3 441.7 2343.9 430.8" stroke="#4682b4" stroke-width="1.5" fill="none" stroke-linejoin="round"/><path d="M60.2 469.2 61.7 464.6 63.3 472.3 64.9 468.0 66.5 476.2 68.1 472.3 69.7 452.4 71.3 468.7 72.9 466.3 74.4 463.5 76.0 462.9 77.6 454.1 79.2 453.9 80.8 460.9 82.4 432.7 84.0 418.5 85.6 434.8 87.1 459.6 88.7 462.9 90.3 465.0 91.9 470.7 93.5 469.1 95.1 474.0 96.7 453.9 98.2 473.1 99.8 473.6 101.4 473.3 103.0 463.2 104.6 426.2 106.2 439.9 107.8 456.6 109.4 462.0 110.9 457.8 112.5 462.0 114.1 468.8 115.7 459.9 117.3 464.2 118.9 460.2 120.5 468.5 122.1 467.5 123.6 465.8 125.2 469.0 126.8 465.2 128.4 459.5 130.0 460.6 131.6 458.8 133.2 427.0 134.8 441.0 136.3 436.8 137.9 460.8 139.5 462.4 141.1 464.8 142.7 466.8 144.3 472.1 145.9 467.7 147.4 465.1 149.0 458.6 150.6 452.9 152.2 449.0 153.8 444.8 155.4 462.5 157.0 470.3 158.6 470.6 160.1 472.5 161.7 477.5 163.3 468.4 164.9 473.4 166.5 473.3 168.1 464.3 169.7 467.7 171.3 463.3 172.8 464.8 174.4 465.3 176.0 459.2 177.6 464.0 179.2 462.2 180.8 468.9 182.4 471.5 183.9 468.6 185.5 471.2 187.1 458.4 188.7 456.6 190.3 458.7 191.9 457.3 193.5 459.3 195.1 462.7 196.6 462.0 198.2 469.3 199.8 469.4 201.4 470.4 203.0 476.2 204.6 473.6 206.2 468.8 207.8 468.6 209.3 476.9 210.9 466.1 212.5 468.0 214.1 459.1 215.7 469.7 217.3 467.9 218.9 473.9 220.4 470.7 222.0 473.6 223.6 472.1 225.2 467.1 226.8 465.9 228.4 471.0 230.0 474.1 231.6 471.9 233.1 472.9 234.7 464.9 236.3 465.3 237.9 470.9 239.5 459.9 241.1 457.5 242.7 454.4 244.3 446.8 245.8 442.0 247.4 435.9 249.0 428.9 250.6 443.6 252.2 452.5 253.8 458.6 255.4 458.5 256.9 468.9 258.5 464.9 260.1 470.6 261.7 466.3 263.3 467.6 264.9 471.5 266.5 466.9 268.1 455.1 269.6 426.8 271.2 459.4 272.8 463.1 274.4 468.3 276.0 460.4 277.6 457.8 279.2 463.7 280.8 461.5 282.3 462.3 283.9 447.7 285.5 435.3 287.1 421.6 288.7 420.3 290.3 402.8 291.9 421.7 293.5 444.1 295.0 463.7 296.6 471.0 298.2 466.9 299.8 468.0 301.4 464.0 303.0 468.9 304.6 472.7 306.1 469.6 307.7 465.2 309.3 470.4 310.9 467.8 312.5 463.5 314.1 469.0 315.7 462.3 317.3 464.7 318.8 468.3 320.4 467.4 322.0 453.2 323.6 470.1 325.2 470.7 326.8 470.4 328.4 471.5 330.0 474.4 331.5 475.9 333.1 466.6 334.7 475.6 336.3 472.1 337.9 467.2 339.5 467.2 341.1 471.8 342.6 462.7 344.2 462.8 345.8 468.5 347.4 470.6 349.0 460.3 350.6 457.9 352.2 453.4 353.8 450.1 355.3 444.6 356.9 437.3 358.5 430.2 360.1 434.4 361.7 431.8 363.3 442.7 364.9 469.4 366.5 464.4 368.0 466.0 369.6 462.3 371.2 463.1 372.8 466.5 374.4 465.9 376.0 464.2 377.6 462.7 379.1 466.7 380.7 469.0 382.3 463.4 383.9 463.2 385.5 462.9 387.1 464.9 388.7 459.3 390.3 465.8 391.8 460.8 393.4 452.9 395.0 460.2 396.6 459.1 398.2 464.2 399.8 457.2 401.4 455.4 403.0 433.5 404.5 424.0 406.1 410.0 407.7 398.0 409.3 409.4 410.9 425.7 412.5 445.5 414.1 454.3 415.6 450.3 417.2 445.9 418.8 451.2 420.4 440.9 422.0 453.2 423.6 451.2 425.2 449.3 426.8 447.7 428.3 447.5 429.9 442.2 431.5 444.2 433.1 445.4 434.7 452.7 436.3 457.2 437.9 453.8 439.5 444.9 441.0 452.2 442.6 459.8 444.2 463.0 445.8 455.3 447.4 452.3 449.0 445.8 450.6 437.3 452.2 445.2 453.7 452.4 455.3 454.7 456.9 450.4 458.5 460.9 460.1 455.7 461.7 458.4 463.3 424.9 464.8 443.3 466.4 428.4 468.0 439.2 469.6 459.9 471.2 459.3 472.8 458.4 474.4 464.6 476.0 465.2 477.5 455.4 479.1 461.6 480.7 451.8 482.3 445.3 483.9 456.3 485.5 465.7 487.1 467.6 488.7 448.5 490.2 456.3 491.8 451.2 493.4 456.0 495.0 454.1 496.6 456.7 498.2 453.2 499.8 451.2 501.3 440.5 502.9 451.4 504.5 446.4 506.1 453.3 507.7 448.9 509.3 443.3 510.9 450.3 512.5 443.3 514.0 434.7 515.6 449.7 517.2 453.1 518.8 461.7 520.4 455.0 522.0 455.9 523.6 455.5 525.2 454.4 526.7 444.7 528.3 449.8 529.9 447.2 531.5 439.6 533.1 451.0 534.7 439.2 536.3 397.2 537.8 445.7 539.4 445.4 541.0 451.5 542.6 451.0 544.2 445.0 545.8 434.1 547.4 420.3 549.0 410.2 550.5 407.5 552.1 416.9 553.7 435.7 555.3 441.5 556.9 439.8 558.5 441.8 560.1 430.0 561.7 411.6 563.2 389.1 564.8 404.1 566.4 421.3 568.0 431.7 569.6 420.1 571.2 422.5 572.8 417.5 574.3 410.6 575.9 422.9 577.5 438.7 579.1 438.1 580.7 437.2 582.3 441.2 583.9 434.9 585.5 439.0 587.0 429.9 588.6 424.0 590.2 408.3 591.8 410.2 593.4 403.3 595.0 406.8 596.6 426.0 598.2 428.3 599.7 437.9 601.3 438.1 602.9 448.0 604.5 443.8 606.1 447.9 607.7 443.8 609.3 446.2 610.9 440.5 612.4 428.2 614.0 433.5 615.6 442.7 617.2 442.8 618.8 444.5 620.4 419.8 622.0 448.7 623.5 436.8 625.1 442.4 626.7 442.0 628.3 451.2 629.9 447.2 631.5 442.8 633.1 444.6 634.7 446.1 636.2 447.1 637.8 439.7 639.4 442.0 641.0 441.4 642.6 440.6 644.2 441.8 645.8 439.0 647.4 439.1 648.9 434.7 650.5 412.5 652.1 365.9 653.7 387.4 655.3 436.6 656.9 441.3 658.5 436.2 660.0 444.5 661.6 443.3 663.2 447.5 664.8 450.9 666.4 454.9 668.0 460.7 669.6 452.7 671.2 451.4 672.7 439.6 674.3 436.1 675.9 443.5 677.5 450.5 679.1 435.0 680.7 407.5 682.3 412.8 683.9 422.8 685.4 429.1 687.0 419.3 688.6 444.4 690.2 443.8 691.8 449.7 693.4 451.0 695.0 449.6 696.5 443.8 698.1 444.1 699.7 426.6 701.3 427.6 702.9 438.6 704.5 430.2 706.1 442.2 707.7 448.7 709.2 455.3 710.8 448.5 712.4 438.2 714.0 442.7 715.6 456.4 717.2 452.6 718.8 454.7 720.4 456.9 721.9 451.0 723.5 449.5 725.1 439.4 726.7 431.4 728.3 421.6 729.9 423.3 731.5 438.7 733.0 445.3 734.6 452.3 736.2 451.7 737.8 456.1 739.4 456.2 741.0 446.6 742.6 433.2 744.2 444.0 745.7 442.0 747.3 457.5 748.9 442.4 750.5 411.5 752.1 424.0 753.7 430.7 755.3 438.1 756.9 435.1 758.4 451.8 760.0 459.6 761.6 449.9 763.2 442.1 764.8 441.7 766.4 439.8 768.0 435.4 769.6 446.0 771.1 448.0 772.7 449.9 774.3 444.0 775.9 462.6 777.5 458.0 779.1 450.5 780.7 449.7 782.2 443.5 783.8 451.0 785.4 456.6 787.0 448.4 788.6 447.3 790.2 432.9 791.8 419.3 793.4 408.1 794.9 435.0 796.5 456.3 798.1 446.8 799.7 456.8 801.3 466.5 802.9 457.8 804.5 450.2 806.1 448.2 807.6 445.3 809.2 452.0 810.8 441.2 812.4 456.3 814.0 450.0 815.6 454.2 817.2 450.5 818.7 453.8 820.3 454.8 821.9 454.6 823.5 456.8 825.1 457.3 826.7 457.7 828.3 450.6 829.9 449.0 831.4 445.3 833.0 439.8 834.6 440.2 836.2 441.1 837.8 435.8 839.4 445.4 841.0 451.3 842.6 452.1 844.1 448.3 845.7 455.1 847.3 453.0 848.9 441.5 850.5 449.5 852.1 444.2 853.7 445.6 855.2 451.7 856.8 445.0 858.4 440.2 860.0 443.2 861.6 462.2 863.2 460.0 864.8 457.7 866.4 452.9 867.9 453.7 869.5 454.0 871.1 455.4 872.7 461.0 874.3 459.6 875.9 447.8 877.5 450.8 879.1 450.1 880.6 452.2 882.2 452.8 883.8 447.8 885.4 453.8 887.0 453.7 888.6 446.2 890.2 439.7 891.7 439.4 893.3 437.8 894.9 446.2 896.5 439.5 898.1 429.5 899.7 414.3 901.3 440.5 902.9 432.4 904.4 438.8 906.0 424.4 907.6 419.5 909.2 410.9 910.8 419.0 912.4 432.3 914.0 403.8 915.6 413.5 917.1 443.4 918.7 453.0 920.3 451.2 921.9 434.0 923.5 448.0 925.1 446.1 926.7 454.7 928.3 446.5 929.8 445.9 931.4 442.3 933.0 443.4 934.6 439.8 936.2 439.1 937.8 441.7 939.4 452.0 940.9 460.5 942.5 454.2 944.1 447.7 945.7 443.2 947.3 430.0 948.9 449.8 950.5 456.3 952.1 433.2 953.6 461.6 955.2 459.9 956.8 462.7 958.4 467.7 960.0 454.0 961.6 449.2 963.2 446.2 964.8 429.1 966.3 431.4 967.9 441.2 969.5 442.9 971.1 450.3 972.7 434.3 974.3 419.8 975.9 402.2 977.4 441.9 979.0 463.4 980.6 452.9 982.2 467.7 983.8 452.6 985.4 449.4 987.0 445.4 988.6 450.5 990.1 441.3 991.7 435.3 993.3 436.8 994.9 439.6 996.5 454.5 998.1 431.7 999.7 473.0 1001.3 458.4 1002.8 468.4 1004.4 444.2 1006.0 458.3 1007.6 439.3 1009.2 434.7 1010.8 436.7 1012.4 434.0 1013.9 448.1 1015.5 466.2 1017.1 463.9 1018.7 468.1 1020.3 458.3 1021.9 455.2 1023.5 458.4 1025.1 449.7 1026.6 448.0 1028.2 459.9 1029.8 456.5 1031.4 462.7 1033.0 466.7 1034.6 461.1 1036.2 474.0 1037.8 465.3 1039.3 456.8 1040.9 450.3 1042.5 451.7 1044.1 461.8 1045.7 437.1 1047.3 454.1 1048.9 455.7 1050.4 466.4 1052.0 471.8 1053.6 475.3 1055.2 463.4 1056.8 459.7 1058.4 454.1 1060.0 451.1 1061.6 452.7 1063.1 450.3 1064.7 460.9 1066.3 472.8 1067.9 475.9 1069.5 468.7 1071.1 466.2 1072.7 468.6 1074.3 439.6 1075.8 459.9 1077.4 446.1 1079.0 454.8 1080.6 456.1 1082.2 453.8 1083.8 449.3 1085.4 443.8 1087.0 438.8 1088.5 444.9 1090.1 445.5 1091.7 448.8 1093.3 465.2 1094.9 464.1 1096.5 460.5 1098.1 458.5 1099.6 448.5 1101.2 408.2 1102.8 453.4 1104.4 451.4 1106.0 456.9 1107.6 457.9 1109.2 448.8 1110.8 466.4 1112.3 457.1 1113.9 466.1 1115.5 458.3 1117.1 451.0 1118.7 435.2 1120.3 436.3 1121.9 381.6 1123.5 425.5 1125.0 442.1 1126.6 422.2 1128.2 440.3 1129.8 436.5 1131.4 431.1 1133.0 442.2 1134.6 429.4 1136.1 435.3 1137.7 450.6 1139.3 452.3 1140.9 456.7 1142.5 422.3 1144.1 445.9 1145.7 453.2 1147.3 417.3 1148.8 446.9 1150.4 439.9 1152.0 455.8 1153.6 453.6 1155.2 462.8 1156.8 463.0 1158.4 449.2 1160.0 449.1 1161.5 437.9 1163.1 435.5 1164.7 441.8 1166.3 451.2 1167.9 454.9 1169.5 463.9 1171.1 469.8 1172.6 466.1 1174.2 452.1 1175.8 429.1 1177.4 318.4 1179.0 450.6 1180.6 444.4 1182.2 426.4 1183.8 435.6 1185.3 417.5 1186.9 428.5 1188.5 436.1 1190.1 428.7 1191.7 449.3 1193.3 451.3 1194.9 462.9 1196.5 467.4 1198.0 462.6 1199.6 469.8 1201.2 467.3 1202.8 471.4 1204.4 477.0 1206.0 456.3 1207.6 452.7 1209.1 451.2 1210.7 452.3 1212.3 454.1 1213.9 428.7 1215.5 414.0 1217.1 407.3 1218.7 427.6 1220.3 444.4 1221.8 464.0 1223.4 458.9 1225.0 462.2 1226.6 447.6 1228.2 452.6 1229.8 463.1 1231.4 450.7 1233.0 456.7 1234.5 452.2 1236.1 437.4 1237.7 411.1 1239.3 422.5 1240.9 431.8 1242.5 462.3 1244.1 426.7 1245.7 452.9 1247.2 453.0 1248.8 463.5 1250.4 425.7 1252.0 437.2 1253.6 427.3 1255.2 418.9 1256.8 412.6 1258.3 418.6 1259.9 432.0 1261.5 429.6 1263.1 455.6 1264.7 469.3 1266.3 469.9 1267.9 447.5 1269.5 438.1 1271.0 455.2 1272.6 449.6 1274.2 406.3 1275.8 447.3 1277.4 463.9 1279.0 458.3 1280.6 459.5 1282.2 453.9 1283.7 427.4 1285.3 461.1 1286.9 458.2 1288.5 453.4 1290.1 459.8 1291.7 424.4 1293.3 422.2 1294.8 410.2 1296.4 411.8 1298.0 419.5 1299.6 376.0 1301.2 302.4 1302.8 413.8 1304.4 458.9 1306.0 471.1 1307.5 456.5 1309.1 463.7 1310.7 461.8 1312.3 427.6 1313.9 443.2 1315.5 458.0 1317.1 467.8 1318.7 462.5 1320.2 467.6 1321.8 451.1 1323.4 417.9 1325.0 452.7 1326.6 450.0 1328.2 447.2 1329.8 441.0 1331.3 427.2 1332.9 411.6 1334.5 426.7 1336.1 441.5 1337.7 452.7 1339.3 453.8 1340.9 436.2 1342.5 438.8 1344.0 434.7 1345.6 454.6 1347.2 446.1 1348.8 463.1 1350.4 458.0 1352.0 464.6 1353.6 460.1 1355.2 458.1 1356.7 415.5 1358.3 436.6 1359.9 426.6 1361.5 414.1 1363.1 410.6 1364.7 422.6 1366.3 435.3 1367.8 435.8 1369.4 401.5 1371.0 450.5 1372.6 468.2 1374.2 475.0 1375.8 459.9 1377.4 447.5 1379.0 453.0 1380.5 438.3 1382.1 435.1 1383.7 430.8 1385.3 426.2 1386.9 427.3 1388.5 438.1 1390.1 453.5 1391.7 433.2 1393.2 411.0 1394.8 409.3 1396.4 423.3 1398.0 446.6 1399.6 450.2 1401.2 445.3 1402.8 423.3 1404.4 429.0 1405.9 421.4 1407.5 413.8 1409.1 411.1 1410.7 436.8 1412.3 442.0 1413.9 462.9 1415.5 444.9 1417.0 436.0 1418.6 430.8 1420.2 440.4 1421.8 426.2 1423.4 429.3 1425.0 394.6 1426.6 418.9 1428.2 426.9 1429.7 445.2 1431.3 441.5 1432.9 437.5 1434.5 434.1 1436.1 411.0 1437.7 394.8 1439.3 394.1 1440.9 426.7 1442.4 460.3 1444.0 462.8 1445.6 453.2 1447.2 445.9 1448.8 450.2 1450.4 438.0 1452.0 434.6 1453.5 436.3 1455.1 462.4 1456.7 446.1 1458.3 416.4 1459.9 405.4 1461.5 395.0 1463.1 393.6 1464.7 425.2 1466.2 467.3 1467.8 452.2 1469.4 431.4 1471.0 433.9 1472.6 431.8 1474.2 454.7 1475.8 426.6 1477.4 427.8 1478.9 425.7 1480.5 428.3 1482.1 428.4 1483.7 449.3 1485.3 466.2 1486.9 451.7 1488.5 463.2 1490.0 471.9 1491.6 456.0 1493.2 467.1 1494.8 461.9 1496.4 454.0 1498.0 455.5 1499.6 441.3 1501.2 446.9 1502.7 439.6 1504.3 445.8 1505.9 440.9 1507.5 455.8 1509.1 450.5 1510.7 429.3 1512.3 449.8 1513.9 463.6 1515.4 456.3 1517.0 455.6 1518.6 462.4 1520.2 465.6 1521.8 466.3 1523.4 452.5 1525.0 444.6 1526.5 445.5 1528.1 425.7 1529.7 433.2 1531.3 400.5 1532.9 406.8 1534.5 422.3 1536.1 458.8 1537.7 450.7 1539.2 447.1 1540.8 435.2 1542.4 429.8 1544.0 442.4 1545.6 453.6 1547.2 473.0 1548.8 464.9 1550.4 451.4 1551.9 444.0 1553.5 432.8 1555.1 421.9 1556.7 427.2 1558.3 407.2 1559.9 395.2 1561.5 401.3 1563.1 415.2 1564.6 412.8 1566.2 416.3 1567.8 438.1 1569.4 452.7 1571.0 437.0 1572.6 418.1 1574.2 412.2 1575.7 426.0 1577.3 444.9 1578.9 450.5 1580.5 441.1 1582.1 434.7 1583.7 404.7 1585.3 387.7 1586.9 451.2 1588.4 442.5 1590.0 449.3 1591.6 438.8 1593.2 431.1 1594.8 428.1 1596.4 448.2 1598.0 451.3 1599.6 438.1 1601.1 419.1 1602.7 418.9 1604.3 430.4 1605.9 461.2 1607.5 460.0 1609.1 462.5 1610.7 463.0 1612.2 474.7 1613.8 463.5 1615.4 468.1 1617.0 475.5 1618.6 462.6 1620.2 430.6 1621.8 437.5 1623.4 451.0 1624.9 453.5 1626.5 481.8 1628.1 468.8 1629.7 470.5 1631.3 459.4 1632.9 445.2 1634.5 446.2 1636.1 458.6 1637.6 456.9 1639.2 457.5 1640.8 447.1 1642.4 426.7 1644.0 420.5 1645.6 402.6 1647.2 391.2 1648.7 397.1 1650.3 406.2 1651.9 422.1 1653.5 408.6 1655.1 408.9 1656.7 414.2 1658.3 416.1 1659.9 414.7 1661.4 427.1 1663.0 452.1 1664.6 451.6 1666.2 429.9 1667.8 431.2 1669.4 422.8 1671.0 418.9 1672.6 411.6 1674.1 406.3 1675.7 426.4 1677.3 427.7 1678.9 418.3 1680.5 417.2 1682.1 412.8 1683.7 409.8 1685.2 418.7 1686.8 433.0 1688.4 437.4 1690.0 451.5 1691.6 459.6 1693.2 457.7 1694.8 469.6 1696.4 468.2 1697.9 448.3 1699.5 465.7 1701.1 457.2 1702.7 474.1 1704.3 472.5 1705.9 473.6 1707.5 470.2 1709.1 445.3 1710.6 449.8 1712.2 442.7 1713.8 429.3 1715.4 419.8 1717.0 434.8 1718.6 436.7 1720.2 424.7 1721.8 434.9 1723.3 442.5 1724.9 427.7 1726.5 444.7 1728.1 474.0 1729.7 477.9 1731.3 466.3 1732.9 466.9 1734.4 417.7 1736.0 458.7 1737.6 436.9 1739.2 436.2 1740.8 444.8 1742.4 436.5 1744.0 431.8 1745.6 431.2 1747.1 426.3 1748.7 413.8 1750.3 428.0 1751.9 419.1 1753.5 425.7 1755.1 430.7 1756.7 435.5 1758.3 442.1 1759.8 451.6 1761.4 445.2 1763.0 459.5 1764.6 451.7 1766.2 467.7 1767.8 464.7 1769.4 468.6 1770.9 473.6 1772.5 468.3 1774.1 468.5 1775.7 457.4 1777.3 477.1 1778.9 464.7 1780.5 456.2 1782.1 452.9 1783.6 448.1 1785.2 432.2 1786.8 449.1 1788.4 429.9 1790.0 441.9 1791.6 459.3 1793.2 458.1 1794.8 465.8 1796.3 464.5 1797.9 464.8 1799.5 467.8 1801.1 484.0 1802.7 480.6 1804.3 480.8 1805.9 475.9 1807.4 470.6 1809.0 457.8 1810.6 465.5 1812.2 459.5 1813.8 454.5 1815.4 447.4 1817.0 460.3 1818.6 459.4 1820.1 461.4 1821.7 462.6 1823.3 476.4 1824.9 472.9 1826.5 422.7 1828.1 473.1 1829.7 466.4 1831.3 472.0 1832.8 467.9 1834.4 472.7 1836.0 481.7 1837.6 479.9 1839.2 486.2 1840.8 481.0 1842.4 445.6 1843.9 469.9 1845.5 465.7 1847.1 457.2 1848.7 461.1 1850.3 458.1 1851.9 463.2 1853.5 465.2 1855.1 469.2 1856.6 472.6 1858.2 474.6 1859.8 475.4 1861.4 471.0 1863.0 472.6 1864.6 478.6 1866.2 461.6 1867.8 449.6 1869.3 441.1 1870.9 450.5 1872.5 454.2 1874.1 453.2 1875.7 456.4 1877.3 462.1 1878.9 456.6 1880.5 463.1 1882.0 464.2 1883.6 462.5 1885.2 467.1 1886.8 472.5 1888.4 477.6 1890.0 471.1 1891.6 486.7 1893.1 477.3 1894.7 478.8 1896.3 471.6 1897.9 463.4 1899.5 465.1 1901.1 456.8 1902.7 443.8 1904.3 437.2 1905.8 448.3 1907.4 461.5 1909.0 471.9 1910.6 471.4 1912.2 469.0 1913.8 471.6 1915.4 471.5 1917.0 475.4 1918.5 466.0 1920.1 450.6 1921.7 431.1 1923.3 444.7 1924.9 449.3 1926.5 465.2 1928.1 449.8 1929.6 433.4 1931.2 443.0 1932.8 459.3 1934.4 471.6 1936.0 470.7 1937.6 470.1 1939.2 465.1 1940.8 465.2 1942.3 465.7 1943.9 464.9 1945.5 468.4 1947.1 466.3 1948.7 470.8 1950.3 471.5 1951.9 466.5 1953.5 476.4 1955.0 465.1 1956.6 463.6 1958.2 468.6 1959.8 468.1 1961.4 469.2 1963.0 470.7 1964.6 463.0 1966.1 459.6 1967.7 457.3 1969.3 463.2 1970.9 462.8 1972.5 466.6 1974.1 461.4 1975.7 465.6 1977.3 462.7 1978.8 468.4 1980.4 466.0 1982.0 467.3 1983.6 463.0 1985.2 453.0 1986.8 453.7 1988.4 448.8 1990.0 440.7 1991.5 447.3 1993.1 445.8 1994.7 463.0 1996.3 459.5 1997.9 445.4 1999.5 450.8 2001.1 436.3 2002.6 447.7 2004.2 460.0 2005.8 467.7 2007.4 459.6 2009.0 460.5 2010.6 452.9 2012.2 457.8 2013.8 459.8 2015.3 456.4 2016.9 448.4 2018.5 437.8 2020.1 433.1 2021.7 430.2 2023.3 440.3 2024.9 457.8 2026.5 449.3 2028.0 440.2 2029.6 434.5 2031.2 441.3 2032.8 407.4 2034.4 450.4 2036.0 453.0 2037.6 460.3 2039.2 455.9 2040.7 451.7 2042.3 448.1 2043.9 449.7 2045.5 445.7 2047.1 452.7 2048.7 457.4 2050.3 455.0 2051.8 452.6 2053.4 452.6 2055.0 458.5 2056.6 465.0 2058.2 458.8 2059.8 459.5 2061.4 453.5 2063.0 434.4 2064.5 453.5 2066.1 455.0 2067.7 454.4 2069.3 456.0 2070.9 457.6 2072.5 454.0 2074.1 457.8 2075.7 456.8 2077.2 455.3 2078.8 452.9 2080.4 445.5 2082.0 445.8 2083.6 441.2 2085.2 432.6 2086.8 435.0 2088.3 448.8 2089.9 454.8 2091.5 457.7 2093.1 453.9 2094.7 450.4 2096.3 455.4 2097.9 456.5 2099.5 450.1 2101.0 456.3 2102.6 451.8 2104.2 450.0 2105.8 450.7 2107.4 450.0 2109.0 447.7 2110.6 442.0 2112.2 412.3 2113.7 448.2 2115.3 439.1 2116.9 448.2 2118.5 448.1 2120.1 453.2 2121.7 454.7 2123.3 450.1 2124.8 451.2 2126.4 453.2 2128.0 455.3 2129.6 452.2 2131.2 448.7 2132.8 456.3 2134.4 459.4 2136.0 438.1 2137.5 461.2 2139.1 460.2 2140.7 456.2 2142.3 456.1 2143.9 454.8 2145.5 454.2 2147.1 452.7 2148.7 454.6 2150.2 456.9 2151.8 464.8 2153.4 452.1 2155.0 454.7 2156.6 456.1 2158.2 454.6 2159.8 453.8 2161.3 445.5 2162.9 443.6 2164.5 450.8 2166.1 445.9 2167.7 457.4 2169.3 457.2 2170.9 450.6 2172.5 459.7 2174.0 456.8 2175.6 454.2 2177.2 458.2 2178.8 462.3 2180.4 456.9 2182.0 453.2 2183.6 455.8 2185.2 443.7 2186.7 445.4 2188.3 442.2 2189.9 441.8 2191.5 441.0 2193.1 449.0 2194.7 458.3 2196.3 454.3 2197.9 457.0 2199.4 452.3 2201.0 462.1 2202.6 454.1 2204.2 437.0 2205.8 438.6 2207.4 443.2 2209.0 452.2 2210.5 449.7 2212.1 454.3 2213.7 444.9 2215.3 440.6 2216.9 436.7 2218.5 430.5 2220.1 430.9 2221.7 443.9 2223.2 458.2 2224.8 458.5 2226.4 456.1 2228.0 461.1 2229.6 458.8 2231.2 457.8 2232.8 463.5 2234.4 450.1 2235.9 461.9 2237.5 456.4 2239.1 457.5 2240.7 459.3 2242.3 453.4 2243.9 457.7 2245.5 461.0 2247.0 454.5 2248.6 456.5 2250.2 461.6 2251.8 462.9 2253.4 454.4 2255.0 457.6 2256.6 461.8 2258.2 454.6 2259.7 461.9 2261.3 432.9 2262.9 461.0 2264.5 465.6 2266.1 457.2 2267.7 448.3 2269.3 458.6 2270.9 459.0 2272.4 461.0 2274.0 460.0 2275.6 458.5 2277.2 457.0 2278.8 460.5 2280.4 458.5 2282.0 459.7 2283.5 457.3 2285.1 456.4 2286.7 456.1 2288.3 461.7 2289.9 462.1 2291.5 458.3 2293.1 461.5 2294.7 461.3 2296.2 459.0 2297.8 459.3 2299.4 456.1 2301.0 444.3 2302.6 456.1 2304.2 460.5 2305.8 455.5 2307.4 461.1 2308.9 456.1 2310.5 456.7 2312.1 449.0 2313.7 460.6 2315.3 455.9 2316.9 453.7 2318.5 441.0 2320.0 440.1 2321.6 451.3 2323.2 456.9 2324.8 448.3 2326.4 443.2 2328.0 450.6 2329.6 454.2 2331.2 448.3 2332.7 430.6 2334.3 445.4 2335.9 456.9 2337.5 420.2 2339.1 461.1 2340.7 466.2 2342.3 455.9 2343.9 456.1" stroke="#da70d6" stroke-width="1.5" fill="none" stroke-linejoin="round"/><path d="M60.2 536.7 61.7 534.4 63.3 534.9 64.9 531.5 66.5 528.1 68.1 529.9 69.7 525.0 71.3 529.1 72.9 524.8 74.4 522.8 76.0 514.7 77.6 519.3 79.2 516.1 80.8 511.3 82.4 502.9 84.0 493.7 85.6 505.5 87.1 517.2 88.7 529.5 90.3 533.3 91.9 534.1 93.5 530.0 95.1 528.2 96.7 532.5 98.2 537.9 99.8 541.1 101.4 538.2 103.0 507.0 104.6 466.1 106.2 489.1 107.8 517.4 109.4 522.2 110.9 526.9 112.5 531.3 114.1 524.5 115.7 526.0 117.3 517.8 118.9 523.8 120.5 520.3 122.1 522.7 123.6 532.6 125.2 530.6 126.8 530.0 128.4 522.3 130.0 510.5 131.6 501.2 133.2 496.0 134.8 497.5 136.3 503.5 137.9 513.4 139.5 521.0 141.1 520.5 142.7 527.6 144.3 531.3 145.9 540.2 147.4 526.2 149.0 512.7 150.6 512.7 152.2 495.6 153.8 491.3 155.4 517.7 157.0 533.0 158.6 527.7 160.1 529.6 161.7 527.5 163.3 524.1 164.9 524.8 166.5 517.5 168.1 518.0 169.7 515.4 171.3 509.3 172.8 511.1 174.4 514.0 176.0 523.1 177.6 520.7 179.2 524.3 180.8 517.1 182.4 525.5 183.9 523.7 185.5 520.1 187.1 515.6 188.7 520.1 190.3 521.1 191.9 521.0 193.5 523.7 195.1 531.3 196.6 531.2 198.2 524.2 199.8 530.9 201.4 527.2 203.0 529.3 204.6 529.9 206.2 532.7 207.8 527.8 209.3 533.5 210.9 524.9 212.5 529.9 214.1 527.1 215.7 532.8 217.3 533.4 218.9 532.4 220.4 533.2 222.0 534.2 223.6 534.9 225.2 531.0 226.8 527.9 228.4 525.5 230.0 525.5 231.6 524.5 233.1 518.7 234.7 511.7 236.3 515.4 237.9 519.7 239.5 528.6 241.1 536.4 242.7 535.4 244.3 526.3 245.8 525.9 247.4 521.2 249.0 512.0 250.6 508.9 252.2 514.1 253.8 521.0 255.4 530.3 256.9 534.6 258.5 532.9 260.1 532.1 261.7 548.7 263.3 537.5 264.9 534.1 266.5 528.6 268.1 524.4 269.6 511.7 271.2 526.8 272.8 528.7 274.4 538.8 276.0 542.8 277.6 543.8 279.2 532.4 280.8 530.8 282.3 533.3 283.9 534.3 285.5 544.0 287.1 544.3 288.7 495.7 290.3 447.6 291.9 463.5 293.5 497.6 295.0 525.2 296.6 535.1 298.2 534.0 299.8 531.8 301.4 537.8 303.0 533.7 304.6 526.6 306.1 533.7 307.7 530.6 309.3 520.7 310.9 527.6 312.5 520.0 314.1 515.4 315.7 513.0 317.3 510.6 318.8 514.2 320.4 522.4 322.0 512.6 323.6 529.6 325.2 531.3 326.8 533.2 328.4 534.9 330.0 541.7 331.5 540.4 333.1 548.9 334.7 542.9 336.3 543.4 337.9 542.0 339.5 539.3 341.1 537.5 342.6 538.5 344.2 534.0 345.8 536.6 347.4 531.0 349.0 523.2 350.6 524.2 352.2 520.6 353.8 523.4 355.3 524.6 356.9 529.6 358.5 534.2 360.1 532.8 361.7 525.1 363.3 532.2 364.9 522.6 366.5 526.5 368.0 522.7 369.6 525.2 371.2 521.4 372.8 526.7 374.4 530.0 376.0 523.1 377.6 523.9 379.1 521.9 380.7 517.8 382.3 524.8 383.9 520.7 385.5 520.7 387.1 520.7 388.7 530.7 390.3 524.8 391.8 524.2 393.4 517.4 395.0 514.0 396.6 519.3 398.2 523.4 399.8 527.2 401.4 526.1 403.0 522.5 404.5 501.3 406.1 498.2 407.7 482.9 409.3 480.1 410.9 495.5 412.5 499.8 414.1 511.8 415.6 524.9 417.2 525.6 418.8 522.6 420.4 508.5 422.0 502.5 423.6 506.1 425.2 520.0 426.8 513.8 428.3 522.8 429.9 523.7 431.5 526.4 433.1 530.7 434.7 529.8 436.3 528.7 437.9 524.5 439.5 526.2 441.0 526.4 442.6 526.2 444.2 528.2 445.8 532.6 447.4 513.4 449.0 492.0 450.6 475.4 452.2 507.5 453.7 525.3 455.3 525.4 456.9 523.7 458.5 526.9 460.1 520.6 461.7 512.6 463.3 486.7 464.8 491.1 466.4 469.5 468.0 497.4 469.6 521.7 471.2 532.0 472.8 528.5 474.4 519.2 476.0 518.1 477.5 517.2 479.1 502.5 480.7 489.4 482.3 482.2 483.9 500.1 485.5 521.8 487.1 528.0 488.7 522.4 490.2 521.8 491.8 515.2 493.4 522.1 495.0 516.2 496.6 516.2 498.2 513.1 499.8 509.2 501.3 503.2 502.9 515.0 504.5 501.8 506.1 502.4 507.7 494.9 509.3 482.5 510.9 474.8 512.5 491.0 514.0 513.0 515.6 520.6 517.2 523.9 518.8 529.0 520.4 530.0 522.0 523.6 523.6 527.1 525.2 523.1 526.7 522.7 528.3 519.7 529.9 518.5 531.5 523.6 533.1 519.4 534.7 523.1 536.3 496.7 537.8 526.0 539.4 515.0 541.0 508.2 542.6 500.7 544.2 488.8 545.8 489.3 547.4 487.9 549.0 473.4 550.5 442.7 552.1 462.5 553.7 493.5 555.3 502.1 556.9 500.9 558.5 500.6 560.1 499.6 561.7 468.5 563.2 435.9 564.8 446.1 566.4 478.4 568.0 506.7 569.6 499.3 571.2 509.4 572.8 505.7 574.3 515.9 575.9 506.8 577.5 513.4 579.1 511.0 580.7 505.4 582.3 507.0 583.9 508.8 585.5 509.0 587.0 513.0 588.6 510.4 590.2 506.4 591.8 513.3 593.4 506.5 595.0 504.7 596.6 504.5 598.2 497.2 599.7 509.1 601.3 502.5 602.9 501.7 604.5 496.2 606.1 506.6 607.7 505.1 609.3 501.0 610.9 497.4 612.4 482.4 614.0 482.0 615.6 500.7 617.2 494.4 618.8 489.9 620.4 491.3 622.0 500.7 623.5 499.3 625.1 501.1 626.7 503.9 628.3 506.1 629.9 500.6 631.5 518.6 633.1 508.4 634.7 510.4 636.2 502.3 637.8 504.5 639.4 499.4 641.0 502.2 642.6 491.1 644.2 509.6 645.8 505.8 647.4 499.4 648.9 494.7 650.5 481.0 652.1 478.4 653.7 479.3 655.3 506.2 656.9 511.6 658.5 518.2 660.0 516.4 661.6 517.6 663.2 504.6 664.8 521.1 666.4 507.8 668.0 506.3 669.6 496.7 671.2 492.9 672.7 490.7 674.3 487.5 675.9 511.4 677.5 510.1 679.1 508.9 680.7 502.5 682.3 491.6 683.9 477.9 685.4 500.7 687.0 489.3 688.6 518.1 690.2 503.7 691.8 507.4 693.4 494.5 695.0 504.5 696.5 486.2 698.1 491.6 699.7 502.4 701.3 503.0 702.9 516.0 704.5 521.7 706.1 512.8 707.7 517.7 709.2 512.8 710.8 511.5 712.4 508.0 714.0 516.0 715.6 521.5 717.2 515.5 718.8 521.7 720.4 525.2 721.9 527.0 723.5 511.2 725.1 514.8 726.7 500.5 728.3 507.9 729.9 510.2 731.5 500.0 733.0 512.9 734.6 510.2 736.2 495.7 737.8 485.2 739.4 460.3 741.0 493.7 742.6 507.0 744.2 517.4 745.7 497.9 747.3 506.7 748.9 504.0 750.5 508.3 752.1 503.3 753.7 514.6 755.3 517.9 756.9 519.9 758.4 514.3 760.0 522.2 761.6 528.9 763.2 528.5 764.8 525.0 766.4 520.8 768.0 515.8 769.6 519.1 771.1 518.9 772.7 525.5 774.3 516.6 775.9 513.9 777.5 518.9 779.1 509.0 780.7 519.5 782.2 515.1 783.8 509.0 785.4 510.8 787.0 513.3 788.6 504.6 790.2 505.6 791.8 495.1 793.4 494.1 794.9 503.4 796.5 505.3 798.1 504.9 799.7 511.1 801.3 511.9 802.9 516.6 804.5 518.1 806.1 512.8 807.6 486.2 809.2 479.2 810.8 488.5 812.4 507.0 814.0 532.9 815.6 521.7 817.2 527.1 818.7 521.4 820.3 516.8 821.9 522.2 823.5 519.5 825.1 511.5 826.7 504.9 828.3 503.3 829.9 504.5 831.4 499.4 833.0 506.4 834.6 512.0 836.2 507.3 837.8 500.3 839.4 513.1 841.0 512.9 842.6 518.5 844.1 513.7 845.7 510.0 847.3 498.2 848.9 496.3 850.5 490.9 852.1 488.4 853.7 505.5 855.2 502.4 856.8 511.8 858.4 515.9 860.0 514.4 861.6 517.0 863.2 516.9 864.8 523.4 866.4 518.8 867.9 526.5 869.5 528.9 871.1 536.1 872.7 529.8 874.3 520.6 875.9 520.8 877.5 523.3 879.1 523.7 880.6 518.9 882.2 531.4 883.8 527.0 885.4 529.2 887.0 516.0 888.6 518.4 890.2 505.5 891.7 490.3 893.3 506.7 894.9 514.7 896.5 522.7 898.1 502.5 899.7 469.8 901.3 503.0 902.9 509.6 904.4 513.2 906.0 504.6 907.6 505.8 909.2 485.2 910.8 490.8 912.4 499.2 914.0 518.0 915.6 527.3 917.1 523.6 918.7 518.6 920.3 512.1 921.9 507.2 923.5 492.4 925.1 505.0 926.7 494.2 928.3 513.8 929.8 514.8 931.4 504.6 933.0 502.1 934.6 497.3 936.2 495.6 937.8 499.6 939.4 509.3 940.9 501.5 942.5 510.8 944.1 500.4 945.7 496.5 947.3 496.8 948.9 510.8 950.5 509.9 952.1 509.2 953.6 526.5 955.2 530.0 956.8 544.0 958.4 541.1 960.0 539.0 961.6 532.7 963.2 524.5 964.8 521.5 966.3 516.9 967.9 522.1 969.5 513.5 971.1 513.0 972.7 517.3 974.3 510.6 975.9 510.4 977.4 515.0 979.0 512.4 980.6 500.4 982.2 519.9 983.8 511.3 985.4 514.9 987.0 513.3 988.6 522.6 990.1 510.6 991.7 517.9 993.3 525.8 994.9 529.9 996.5 528.2 998.1 511.5 999.7 530.1 1001.3 511.8 1002.8 517.5 1004.4 506.0 1006.0 522.3 1007.6 510.2 1009.2 521.2 1010.8 515.6 1012.4 527.0 1013.9 525.9 1015.5 516.6 1017.1 518.9 1018.7 523.7 1020.3 522.8 1021.9 529.7 1023.5 535.1 1025.1 541.1 1026.6 541.8 1028.2 527.4 1029.8 527.3 1031.4 536.1 1033.0 531.7 1034.6 537.2 1036.2 537.9 1037.8 533.3 1039.3 544.5 1040.9 535.3 1042.5 534.1 1044.1 537.0 1045.7 530.8 1047.3 545.0 1048.9 541.5 1050.4 541.7 1052.0 543.4 1053.6 548.3 1055.2 519.3 1056.8 519.8 1058.4 521.3 1060.0 527.7 1061.6 527.8 1063.1 529.9 1064.7 518.6 1066.3 529.8 1067.9 522.1 1069.5 526.1 1071.1 532.2 1072.7 524.5 1074.3 515.5 1075.8 525.6 1077.4 522.6 1079.0 535.1 1080.6 531.5 1082.2 540.8 1083.8 528.0 1085.4 530.6 1087.0 535.4 1088.5 521.7 1090.1 514.7 1091.7 506.8 1093.3 513.1 1094.9 524.0 1096.5 528.4 1098.1 513.5 1099.6 505.0 1101.2 489.3 1102.8 514.8 1104.4 520.5 1106.0 530.1 1107.6 517.7 1109.2 526.1 1110.8 520.2 1112.3 522.9 1113.9 511.9 1115.5 520.0 1117.1 512.2 1118.7 505.8 1120.3 514.2 1121.9 510.8 1123.5 507.5 1125.0 503.1 1126.6 492.4 1128.2 485.0 1129.8 478.4 1131.4 485.5 1133.0 497.2 1134.6 502.5 1136.1 507.4 1137.7 507.9 1139.3 525.9 1140.9 516.7 1142.5 511.9 1144.1 507.6 1145.7 501.7 1147.3 501.6 1148.8 522.9 1150.4 522.1 1152.0 523.9 1153.6 518.0 1155.2 515.0 1156.8 512.4 1158.4 516.9 1160.0 505.5 1161.5 495.6 1163.1 495.9 1164.7 522.7 1166.3 530.4 1167.9 539.6 1169.5 530.9 1171.1 526.2 1172.6 531.1 1174.2 523.6 1175.8 515.9 1177.4 355.4 1179.0 517.2 1180.6 524.0 1182.2 523.0 1183.8 512.9 1185.3 515.9 1186.9 515.9 1188.5 507.4 1190.1 522.7 1191.7 527.1 1193.3 532.8 1194.9 523.5 1196.5 536.2 1198.0 533.8 1199.6 538.8 1201.2 531.4 1202.8 528.0 1204.4 537.2 1206.0 520.9 1207.6 506.9 1209.1 502.2 1210.7 508.7 1212.3 494.7 1213.9 511.2 1215.5 501.0 1217.1 504.6 1218.7 517.6 1220.3 509.8 1221.8 526.8 1223.4 526.5 1225.0 523.4 1226.6 529.6 1228.2 516.2 1229.8 525.4 1231.4 524.9 1233.0 521.3 1234.5 519.0 1236.1 518.6 1237.7 514.4 1239.3 508.6 1240.9 512.2 1242.5 535.3 1244.1 507.1 1245.7 519.6 1247.2 517.5 1248.8 525.7 1250.4 514.6 1252.0 515.5 1253.6 514.3 1255.2 507.7 1256.8 505.3 1258.3 503.6 1259.9 514.3 1261.5 512.3 1263.1 526.5 1264.7 533.1 1266.3 534.2 1267.9 517.5 1269.5 516.8 1271.0 514.7 1272.6 518.0 1274.2 495.0 1275.8 520.8 1277.4 521.0 1279.0 527.7 1280.6 519.2 1282.2 530.8 1283.7 519.2 1285.3 519.3 1286.9 516.2 1288.5 511.7 1290.1 527.6 1291.7 506.2 1293.3 504.6 1294.8 502.9 1296.4 496.8 1298.0 498.0 1299.6 416.8 1301.2 293.1 1302.8 358.5 1304.4 410.1 1306.0 496.2 1307.5 541.6 1309.1 521.2 1310.7 517.3 1312.3 502.5 1313.9 511.8 1315.5 522.9 1317.1 519.1 1318.7 530.1 1320.2 532.4 1321.8 522.0 1323.4 504.4 1325.0 521.7 1326.6 507.4 1328.2 497.0 1329.8 502.3 1331.3 501.0 1332.9 504.6 1334.5 495.9 1336.1 510.7 1337.7 507.5 1339.3 519.5 1340.9 526.3 1342.5 522.4 1344.0 524.8 1345.6 520.7 1347.2 539.2 1348.8 526.3 1350.4 517.2 1352.0 519.3 1353.6 509.9 1355.2 507.8 1356.7 480.9 1358.3 492.3 1359.9 511.2 1361.5 508.3 1363.1 504.0 1364.7 502.3 1366.3 508.6 1367.8 516.5 1369.4 501.6 1371.0 513.6 1372.6 517.2 1374.2 515.2 1375.8 509.0 1377.4 511.4 1379.0 505.2 1380.5 508.3 1382.1 521.5 1383.7 509.7 1385.3 510.9 1386.9 499.5 1388.5 509.3 1390.1 515.4 1391.7 515.4 1393.2 528.2 1394.8 526.5 1396.4 533.2 1398.0 518.5 1399.6 522.8 1401.2 520.1 1402.8 518.1 1404.4 508.3 1405.9 507.2 1407.5 507.5 1409.1 511.5 1410.7 501.3 1412.3 505.6 1413.9 523.1 1415.5 511.3 1417.0 516.6 1418.6 519.2 1420.2 520.0 1421.8 530.2 1423.4 511.2 1425.0 499.9 1426.6 495.5 1428.2 479.8 1429.7 489.4 1431.3 512.6 1432.9 499.6 1434.5 505.1 1436.1 507.5 1437.7 500.6 1439.3 498.0 1440.9 501.9 1442.4 509.1 1444.0 512.4 1445.6 517.8 1447.2 523.0 1448.8 504.1 1450.4 514.0 1452.0 500.9 1453.5 507.7 1455.1 508.1 1456.7 518.1 1458.3 514.9 1459.9 516.1 1461.5 505.5 1463.1 493.8 1464.7 502.5 1466.2 507.5 1467.8 532.1 1469.4 527.9 1471.0 515.1 1472.6 510.4 1474.2 503.0 1475.8 493.3 1477.4 507.7 1478.9 507.2 1480.5 511.2 1482.1 510.4 1483.7 515.9 1485.3 517.1 1486.9 522.4 1488.5 523.4 1490.0 520.3 1491.6 524.4 1493.2 517.0 1494.8 521.4 1496.4 516.0 1498.0 506.8 1499.6 513.8 1501.2 515.2 1502.7 507.9 1504.3 514.3 1505.9 508.9 1507.5 514.3 1509.1 517.6 1510.7 511.6 1512.3 509.2 1513.9 516.9 1515.4 521.8 1517.0 526.0 1518.6 525.4 1520.2 520.2 1521.8 513.0 1523.4 526.0 1525.0 518.6 1526.5 516.3 1528.1 533.5 1529.7 519.2 1531.3 500.0 1532.9 518.1 1534.5 505.8 1536.1 518.4 1537.7 530.1 1539.2 513.6 1540.8 525.3 1542.4 516.0 1544.0 524.2 1545.6 530.0 1547.2 516.4 1548.8 508.2 1550.4 506.8 1551.9 516.4 1553.5 501.8 1555.1 505.8 1556.7 491.4 1558.3 469.3 1559.9 487.0 1561.5 478.3 1563.1 514.7 1564.6 518.5 1566.2 510.1 1567.8 518.7 1569.4 521.5 1571.0 523.9 1572.6 507.1 1574.2 508.9 1575.7 506.4 1577.3 504.6 1578.9 501.4 1580.5 485.8 1582.1 491.1 1583.7 475.3 1585.3 467.6 1586.9 503.9 1588.4 506.4 1590.0 514.0 1591.6 493.4 1593.2 495.3 1594.8 503.8 1596.4 500.6 1598.0 505.4 1599.6 523.9 1601.1 518.9 1602.7 524.8 1604.3 519.4 1605.9 528.6 1607.5 527.0 1609.1 517.3 1610.7 508.4 1612.2 522.9 1613.8 526.3 1615.4 532.2 1617.0 532.3 1618.6 522.9 1620.2 510.8 1621.8 512.8 1623.4 522.2 1624.9 521.3 1626.5 527.2 1628.1 512.0 1629.7 509.4 1631.3 491.6 1632.9 502.4 1634.5 504.5 1636.1 509.1 1637.6 520.4 1639.2 529.7 1640.8 537.9 1642.4 518.6 1644.0 500.1 1645.6 498.1 1647.2 501.0 1648.7 495.4 1650.3 503.0 1651.9 501.4 1653.5 497.4 1655.1 520.0 1656.7 511.4 1658.3 516.5 1659.9 512.5 1661.4 519.5 1663.0 526.9 1664.6 523.6 1666.2 519.8 1667.8 504.0 1669.4 511.7 1671.0 486.5 1672.6 475.8 1674.1 486.8 1675.7 501.9 1677.3 520.3 1678.9 504.2 1680.5 506.3 1682.1 518.7 1683.7 508.2 1685.2 503.3 1686.8 519.6 1688.4 517.0 1690.0 509.4 1691.6 525.7 1693.2 520.6 1694.8 527.8 1696.4 522.4 1697.9 515.8 1699.5 509.5 1701.1 499.7 1702.7 475.0 1704.3 486.2 1705.9 523.1 1707.5 517.0 1709.1 499.7 1710.6 498.3 1712.2 483.0 1713.8 483.2 1715.4 492.2 1717.0 504.7 1718.6 499.1 1720.2 510.1 1721.8 505.5 1723.3 518.6 1724.9 521.6 1726.5 507.9 1728.1 498.9 1729.7 493.9 1731.3 479.9 1732.9 473.2 1734.4 469.9 1736.0 480.6 1737.6 493.1 1739.2 493.4 1740.8 504.9 1742.4 513.2 1744.0 515.6 1745.6 530.1 1747.1 530.0 1748.7 512.4 1750.3 504.9 1751.9 497.5 1753.5 473.9 1755.1 478.0 1756.7 497.1 1758.3 502.8 1759.8 515.4 1761.4 533.4 1763.0 536.7 1764.6 535.3 1766.2 515.2 1767.8 500.2 1769.4 503.7 1770.9 501.1 1772.5 514.8 1774.1 521.3 1775.7 512.4 1777.3 513.8 1778.9 514.8 1780.5 514.1 1782.1 507.4 1783.6 509.6 1785.2 518.4 1786.8 520.8 1788.4 530.6 1790.0 530.8 1791.6 525.5 1793.2 524.3 1794.8 519.7 1796.3 511.1 1797.9 513.7 1799.5 529.9 1801.1 534.6 1802.7 536.5 1804.3 525.6 1805.9 532.7 1807.4 536.9 1809.0 545.1 1810.6 521.6 1812.2 508.4 1813.8 497.8 1815.4 503.2 1817.0 516.1 1818.6 535.7 1820.1 518.3 1821.7 501.0 1823.3 488.2 1824.9 490.9 1826.5 489.2 1828.1 502.0 1829.7 507.7 1831.3 509.4 1832.8 500.0 1834.4 498.6 1836.0 511.3 1837.6 529.5 1839.2 540.0 1840.8 533.3 1842.4 507.2 1843.9 502.5 1845.5 512.8 1847.1 531.6 1848.7 535.6 1850.3 552.1 1851.9 536.7 1853.5 534.1 1855.1 527.3 1856.6 526.0 1858.2 521.4 1859.8 518.6 1861.4 525.7 1863.0 525.5 1864.6 524.7 1866.2 521.7 1867.8 503.0 1869.3 487.7 1870.9 486.9 1872.5 490.4 1874.1 487.9 1875.7 486.2 1877.3 489.0 1878.9 488.1 1880.5 494.2 1882.0 504.6 1883.6 515.7 1885.2 525.4 1886.8 526.6 1888.4 535.8 1890.0 540.7 1891.6 538.1 1893.1 544.8 1894.7 544.0 1896.3 531.3 1897.9 527.2 1899.5 514.2 1901.1 507.4 1902.7 491.3 1904.3 498.3 1905.8 512.4 1907.4 520.1 1909.0 527.2 1910.6 532.7 1912.2 529.8 1913.8 528.7 1915.4 530.9 1917.0 521.6 1918.5 514.6 1920.1 510.1 1921.7 498.7 1923.3 508.9 1924.9 529.6 1926.5 527.3 1928.1 502.7 1929.6 485.0 1931.2 494.3 1932.8 503.0 1934.4 515.3 1936.0 519.3 1937.6 518.5 1939.2 520.6 1940.8 518.7 1942.3 522.0 1943.9 517.8 1945.5 511.7 1947.1 522.7 1948.7 528.4 1950.3 525.4 1951.9 537.3 1953.5 521.5 1955.0 527.6 1956.6 530.9 1958.2 529.9 1959.8 533.3 1961.4 526.4 1963.0 519.5 1964.6 517.7 1966.1 501.8 1967.7 506.5 1969.3 516.0 1970.9 516.1 1972.5 522.8 1974.1 524.9 1975.7 522.7 1977.3 513.7 1978.8 514.3 1980.4 507.8 1982.0 499.4 1983.6 513.3 1985.2 519.8 1986.8 515.9 1988.4 488.5 1990.0 464.9 1991.5 462.7 1993.1 474.4 1994.7 513.2 1996.3 526.1 1997.9 529.8 1999.5 518.4 2001.1 510.3 2002.6 497.6 2004.2 492.3 2005.8 478.8 2007.4 487.3 2009.0 512.6 2010.6 530.0 2012.2 528.9 2013.8 522.1 2015.3 516.1 2016.9 510.8 2018.5 490.3 2020.1 485.3 2021.7 477.0 2023.3 480.9 2024.9 506.3 2026.5 506.7 2028.0 489.2 2029.6 482.9 2031.2 483.7 2032.8 482.4 2034.4 494.1 2036.0 506.5 2037.6 511.9 2039.2 507.6 2040.7 507.5 2042.3 503.3 2043.9 503.3 2045.5 498.0 2047.1 502.9 2048.7 510.5 2050.3 512.3 2051.8 509.9 2053.4 511.9 2055.0 507.5 2056.6 515.4 2058.2 512.5 2059.8 513.2 2061.4 509.2 2063.0 500.3 2064.5 491.7 2066.1 484.5 2067.7 489.7 2069.3 501.1 2070.9 499.0 2072.5 498.8 2074.1 501.4 2075.7 504.3 2077.2 509.2 2078.8 513.1 2080.4 506.2 2082.0 502.8 2083.6 500.1 2085.2 487.5 2086.8 483.8 2088.3 489.6 2089.9 503.8 2091.5 502.7 2093.1 508.1 2094.7 504.1 2096.3 501.0 2097.9 503.7 2099.5 504.9 2101.0 496.3 2102.6 495.9 2104.2 501.2 2105.8 499.0 2107.4 501.0 2109.0 499.5 2110.6 504.8 2112.2 489.8 2113.7 496.1 2115.3 498.4 2116.9 493.7 2118.5 499.1 2120.1 504.7 2121.7 503.0 2123.3 506.9 2124.8 520.4 2126.4 527.5 2128.0 523.1 2129.6 518.3 2131.2 512.8 2132.8 515.3 2134.4 514.6 2136.0 509.0 2137.5 513.9 2139.1 517.8 2140.7 514.5 2142.3 513.3 2143.9 522.5 2145.5 514.5 2147.1 523.0 2148.7 522.9 2150.2 525.2 2151.8 515.5 2153.4 515.6 2155.0 512.6 2156.6 519.9 2158.2 512.7 2159.8 510.2 2161.3 521.0 2162.9 505.7 2164.5 512.0 2166.1 510.2 2167.7 515.7 2169.3 512.3 2170.9 511.9 2172.5 508.5 2174.0 521.9 2175.6 512.5 2177.2 524.3 2178.8 521.3 2180.4 524.0 2182.0 511.2 2183.6 505.1 2185.2 487.5 2186.7 493.6 2188.3 502.9 2189.9 508.2 2191.5 511.3 2193.1 514.2 2194.7 511.5 2196.3 517.5 2197.9 519.0 2199.4 518.8 2201.0 526.0 2202.6 524.5 2204.2 516.3 2205.8 513.1 2207.4 510.4 2209.0 524.2 2210.5 524.3 2212.1 521.5 2213.7 519.6 2215.3 512.6 2216.9 493.1 2218.5 478.3 2220.1 472.0 2221.7 493.2 2223.2 505.2 2224.8 516.5 2226.4 512.0 2228.0 519.4 2229.6 511.2 2231.2 517.6 2232.8 519.7 2234.4 528.9 2235.9 528.0 2237.5 523.0 2239.1 524.3 2240.7 525.0 2242.3 525.5 2243.9 521.3 2245.5 526.7 2247.0 527.5 2248.6 529.5 2250.2 530.7 2251.8 524.5 2253.4 525.8 2255.0 524.4 2256.6 520.8 2258.2 520.2 2259.7 516.5 2261.3 505.7 2262.9 521.2 2264.5 520.8 2266.1 516.1 2267.7 521.9 2269.3 519.8 2270.9 526.2 2272.4 532.7 2274.0 532.7 2275.6 527.7 2277.2 526.8 2278.8 517.3 2280.4 522.7 2282.0 522.9 2283.5 522.2 2285.1 530.8 2286.7 525.4 2288.3 526.3 2289.9 519.5 2291.5 528.8 2293.1 531.6 2294.7 526.7 2296.2 527.8 2297.8 527.3 2299.4 527.9 2301.0 522.1 2302.6 533.0 2304.2 532.9 2305.8 522.4 2307.4 531.1 2308.9 526.1 2310.5 530.0 2312.1 531.2 2313.7 515.8 2315.3 509.7 2316.9 497.4 2318.5 489.8 2320.0 506.8 2321.6 528.3 2323.2 514.5 2324.8 516.0 2326.4 507.9 2328.0 514.9 2329.6 516.2 2331.2 519.3 2332.7 519.9 2334.3 519.7 2335.9 508.7 2337.5 507.6 2339.1 524.7 2340.7 520.7 2342.3 526.0 2343.9 521.1" stroke="#9acd32" stroke-width="1.5" fill="none" stroke-linejoin="round"/></g>
<rect x="59.5" y="84.5" width="2284.0" height="504.0" fill="none" stroke="#000" stroke-width="1.3"/>
<line x1="52.5" y1="588.50" x2="59.5" y2="588.50" stroke="#000" stroke-width="1"/>
<line x1="2343.5" y1="588.50" x2="2350.5" y2="588.50" stroke="#000" stroke-width="1"/>
<text x="46.50" y="591.20" font-size="9.9" text-anchor="end" font-weight="normal" textLength="8.80" lengthAdjust="spacingAndGlyphs" >36</text>
<text x="2355.50" y="591.20" font-size="9.9" text-anchor="start" font-weight="normal" textLength="8.80" lengthAdjust="spacingAndGlyphs" >36</text>
<line x1="56.0" y1="567.50" x2="59.5" y2="567.50" stroke="#000" stroke-width="1"/>
<line x1="2343.5" y1="567.50" x2="2347.0" y2="567.50" stroke="#000" stroke-width="1"/>
<line x1="56.0" y1="546.50" x2="59.5" y2="546.50" stroke="#000" stroke-width="1"/>
<line x1="2343.5" y1="546.50" x2="2347.0" y2="546.50" stroke="#000" stroke-width="1"/>
<line x1="56.0" y1="525.50" x2="59.5" y2="525.50" stroke="#000" stroke-width="1"/>
<line x1="2343.5" y1="525.50" x2="2347.0" y2="525.50" stroke="#000" stroke-width="1"/>
<line x1="52.5" y1="504.50" x2="59.5" y2="504.50" stroke="#000" stroke-width="1"/>
<line x1="2343.5" y1="504.50" x2="2350.5" y2="504.50" stroke="#000" stroke-width="1"/>
<text x="46.50" y="507.20" font-size="9.9" text-anchor="end" font-weight="normal" textLength="8.80" lengthAdjust="spacingAndGlyphs" >48</text>
<text x="2355.50" y="507.20" font-size="9.9" text-anchor="start" font-weight="normal" textLength="8.80" lengthAdjust="spacingAndGlyphs" >48</text>
<line x1="56.0" y1="483.50" x2="59.5" y2="483.50" stroke="#000" stroke-width="1"/>
<line x1="2343.5" y1="483.50" x2="2347.0" y2="483.50" stroke="#000" stroke-width="1"/>
<line x1="56.0" y1="462.50" x2="59.5" y2="462.50" stroke="#000" stroke-width="1"/>
<line x1="2343.5" y1="462.50" x2="2347.0" y2="462.50" stroke="#000" stroke-width="1"/>
<line x1="56.0" y1="441.50" x2="59.5" y2="441.50" stroke="#000" stroke-width="1"/>
<line x1="2343.5" y1="441.50" x2="2347.0" y2="441.50" stroke="#000" stroke-width="1"/>
<line x1="52.5" y1="420.50" x2="59.5" y2="420.50" stroke="#000" stroke-width="1"/>
<line x1="2343.5" y1="420.50" x2="2350.5" y2="420.50" stroke="#000" stroke-width="1"/>
<text x="46.50" y="423.20" font-size="9.9" text-anchor="end" font-weight="normal" textLength="8.80" lengthAdjust="spacingAndGlyphs" >60</text>
<text x="2355.50" y="423.20" font-size="9.9" text-anchor="start" font-weight="normal" textLength="8.80" lengthAdjust="spacingAndGlyphs" >60</text>
<line x1="56.0" y1="399.50" x2="59.5" y2="399.50" stroke="#000" stroke-width="1"/>
<line x1="2343.5" y1="399.50" x2="2347.0" y2="399.50" stroke="#000" stroke-width="1"/>
<line x1="56.0" y1="378.50" x2="59.5" y2="378.50" stroke="#000" stroke-width="1"/>
<line x1="2343.5" y1="378.50" x2="2347.0" y2="378.50" stroke="#000" stroke-width="1"/>
<line x1="56.0" y1="357.50" x2="59.5" y2="357.50" stroke="#000" stroke-width="1"/>
<line x1="2343.5" y1="357.50" x2="2347.0" y2="357.50" stroke="#000" stroke-width="1"/>
<line x1="52.5" y1="336.50" x2="59.5" y2="336.50" stroke="#000" stroke-width="1"/>
<line x1="2343.5" y1="336.50" x2="2350.5" y2="336.50" stroke="#000" stroke-width="1"/>
<text x="46.50" y="339.20" font-size="9.9" text-anchor="end" font-weight="normal" textLength="8.80" lengthAdjust="spacingAndGlyphs" >72</text>
<text x="2355.50" y="339.20" font-size="9.9" text-anchor="start" font-weight="normal" textLength="8.80" lengthAdjust="spacingAndGlyphs" >72</text>
<line x1="56.0" y1="315.50" x2="59.5" y2="315.50" stroke="#000" stroke-width="1"/>
<line x1="2343.5" y1="315.50" x2="2347.0" y2="315.50" stroke="#000" stroke-width="1"/>
<line x1="56.0" y1="294.50" x2="59.5" y2="294.50" stroke="#000" stroke-width="1"/>
<line x1="2343.5" y1="294.50" x2="2347.0" y2="294.50" stroke="#000" stroke-width="1"/>
<line x1="56.0" y1="273.50" x2="59.5" y2="273.50" stroke="#000" stroke-width="1"/>
<line x1="2343.5" y1="273.50" x2="2347.0" y2="273.50" stroke="#000" stroke-width="1"/>
<line x1="52.5" y1="252.50" x2="59.5" y2="252.50" stroke="#000" stroke-width="1"/>
<line x1="2343.5" y1="252.50" x2="2350.5" y2="252.50" stroke="#000" stroke-width="1"/>
<text x="46.50" y="255.20" font-size="9.9" text-anchor="end" font-weight="normal" textLength="8.80" lengthAdjust="spacingAndGlyphs" >84</text>
<text x="2355.50" y="255.20" font-size="9.9" text-anchor="start" font-weight="normal" textLength="8.80" lengthAdjust="spacingAndGlyphs" >84</text>
<line x1="56.0" y1="231.50" x2="59.5" y2="231.50" stroke="#000" stroke-width="1"/>
<line x1="2343.5" y1="231.50" x2="2347.0" y2="231.50" stroke="#000" stroke-width="1"/>
<line x1="56.0" y1="210.50" x2="59.5" y2="210.50" stroke="#000" stroke-width="1"/>
<line x1="2343.5" y1="210.50" x2="2347.0" y2="210.50" stroke="#000" stroke-width="1"/>
<line x1="56.0" y1="189.50" x2="59.5" y2="189.50" stroke="#000" stroke-width="1"/>
<line x1="2343.5" y1="189.50" x2="2347.0" y2="189.50" stroke="#000" stroke-width="1"/>
<line x1="52.5" y1="168.50" x2="59.5" y2="168.50" stroke="#000" stroke-width="1"/>
<line x1="2343.5" y1="168.50" x2="2350.5" y2="168.50" stroke="#000" stroke-width="1"/>
<text x="46.50" y="171.20" font-size="9.9" text-anchor="end" font-weight="normal" textLength="8.80" lengthAdjust="spacingAndGlyphs" >96</text>
<text x="2355.50" y="171.20" font-size="9.9" text-anchor="start" font-weight="normal" textLength="8.80" lengthAdjust="spacingAndGlyphs" >96</text>
<line x1="56.0" y1="147.50" x2="59.5" y2="147.50" stroke="#000" stroke-width="1"/>
<line x1="2343.5" y1="147.50" x2="2347.0" y2="147.50" stroke="#000" stroke-width="1"/>
<line x1="56.0" y1="126.50" x2="59.5" y2="126.50" stroke="#000" stroke-width="1"/>
<line x1="2343.5" y1="126.50" x2="2347.0" y2="126.50" stroke="#000" stroke-width="1"/>
<line x1="56.0" y1="105.50" x2="59.5" y2="105.50" stroke="#000" stroke-width="1"/>
<line x1="2343.5" y1="105.50" x2="2347.0" y2="105.50" stroke="#000" stroke-width="1"/>
<line x1="52.5" y1="84.50" x2="59.5" y2="84.50" stroke="#000" stroke-width="1"/>
<line x1="2343.5" y1="84.50" x2="2350.5" y2="84.50" stroke="#000" stroke-width="1"/>
<text x="46.50" y="87.20" font-size="9.9" text-anchor="end" font-weight="normal" textLength="13.60" lengthAdjust="spacingAndGlyphs" >108</text>
<text x="2355.50" y="87.20" font-size="9.9" text-anchor="start" font-weight="normal" textLength="13.60" lengthAdjust="spacingAndGlyphs" >108</text>
<line x1="59.50" y1="588.5" x2="59.50" y2="595.5" stroke="#000" stroke-width="1"/>
<text x="59.50" y="607.00" font-size="10.3" text-anchor="middle" font-weight="normal" textLength="21.50" lengthAdjust="spacingAndGlyphs" >00:00</text>
<line x1="107.11" y1="588.5" x2="107.11" y2="592.0" stroke="#000" stroke-width="1"/>
<line x1="154.72" y1="588.5" x2="154.72" y2="592.0" stroke="#000" stroke-width="1"/>
<line x1="202.33" y1="588.5" x2="202.33" y2="592.0" stroke="#000" stroke-width="1"/>
<line x1="249.94" y1="588.5" x2="249.94" y2="595.5" stroke="#000" stroke-width="1"/>
<text x="249.94" y="607.00" font-size="10.3" text-anchor="middle" font-weight="normal" textLength="21.50" lengthAdjust="spacingAndGlyphs" >02:00</text>
<line x1="297.55" y1="588.5" x2="297.55" y2="592.0" stroke="#000" stroke-width="1"/>
<line x1="345.16" y1="588.5" x2="345.16" y2="592.0" stroke="#000" stroke-width="1"/>
<line x1="392.77" y1="588.5" x2="392.77" y2="592.0" stroke="#000" stroke-width="1"/>
<line x1="440.38" y1="588.5" x2="440.38" y2="595.5" stroke="#000" stroke-width="1"/>
<text x="440.38" y="607.00" font-size="10.3" text-anchor="middle" font-weight="normal" textLength="21.50" lengthAdjust="spacingAndGlyphs" >04:00</text>
<line x1="487.99" y1="588.5" x2="487.99" y2="592.0" stroke="#000" stroke-width="1"/>
<line x1="535.60" y1="588.5" x2="535.60" y2="592.0" stroke="#000" stroke-width="1"/>
<line x1="583.21" y1="588.5" x2="583.21" y2="592.0" stroke="#000" stroke-width="1"/>
<line x1="630.82" y1="588.5" x2="630.82" y2="595.5" stroke="#000" stroke-width="1"/>
<text x="630.82" y="607.00" font-size="10.3" text-anchor="middle" font-weight="normal" textLength="21.50" lengthAdjust="spacingAndGlyphs" >06:00</text>
<line x1="678.43" y1="588.5" x2="678.43" y2="592.0" stroke="#000" stroke-width="1"/>
<line x1="726.04" y1="588.5" x2="726.04" y2="592.0" stroke="#000" stroke-width="1"/>
<line x1="773.65" y1="588.5" x2="773.65" y2="592.0" stroke="#000" stroke-width="1"/>
<line x1="821.26" y1="588.5" x2="821.26" y2="595.5" stroke="#000" stroke-width="1"/>
<text x="821.26" y="607.00" font-size="10.3" text-anchor="middle" font-weight="normal" textLength="21.50" lengthAdjust="spacingAndGlyphs" >08:00</text>
<line x1="868.87" y1="588.5" x2="868.87" y2="592.0" stroke="#000" stroke-width="1"/>
<line x1="916.48" y1="588.5" x2="916.48" y2="592.0" stroke="#000" stroke-width="1"/>
<line x1="964.09" y1="588.5" x2="964.09" y2="592.0" stroke="#000" stroke-width="1"/>
<line x1="1011.70" y1="588.5" x2="1011.70" y2="595.5" stroke="#000" stroke-width="1"/>
<text x="1011.70" y="607.00" font-size="10.3" text-anchor="middle" font-weight="normal" textLength="21.50" lengthAdjust="spacingAndGlyphs" >10:00</text>
<line x1="1059.31" y1="588.5" x2="1059.31" y2="592.0" stroke="#000" stroke-width="1"/>
<line x1="1106.92" y1="588.5" x2="1106.92" y2="592.0" stroke="#000" stroke-width="1"/>
<line x1="1154.53" y1="588.5" x2="1154.53" y2="592.0" stroke="#000" stroke-width="1"/>
<line x1="1202.14" y1="588.5" x2="1202.14" y2="595.5" stroke="#000" stroke-width="1"/>
<text x="1202.14" y="607.00" font-size="10.3" text-anchor="middle" font-weight="normal" textLength="21.50" lengthAdjust="spacingAndGlyphs" >12:00</text>
<line x1="1249.75" y1="588.5" x2="1249.75" y2="592.0" stroke="#000" stroke-width="1"/>
<line x1="1297.36" y1="588.5" x2="1297.36" y2="592.0" stroke="#000" stroke-width="1"/>
<line x1="1344.97" y1="588.5" x2="1344.97" y2="592.0" stroke="#000" stroke-width="1"/>
<line x1="1392.58" y1="588.5" x2="1392.58" y2="595.5" stroke="#000" stroke-width="1"/>
<text x="1392.58" y="607.00" font-size="10.3" text-anchor="middle" font-weight="normal" textLength="21.50" lengthAdjust="spacingAndGlyphs" >14:00</text>
<line x1="1440.19" y1="588.5" x2="1440.19" y2="592.0" stroke="#000" stroke-width="1"/>
<line x1="1487.80" y1="588.5" x2="1487.80" y2="592.0" stroke="#000" stroke-width="1"/>
<line x1="1535.41" y1="588.5" x2="1535.41" y2="592.0" stroke="#000" stroke-width="1"/>
<line x1="1583.02" y1="588.5" x2="1583.02" y2="595.5" stroke="#000" stroke-width="1"/>
<text x="1583.02" y="607.00" font-size="10.3" text-anchor="middle" font-weight="normal" textLength="21.50" lengthAdjust="spacingAndGlyphs" >16:00</text>
<line x1="1630.63" y1="588.5" x2="1630.63" y2="592.0" stroke="#000" stroke-width="1"/>
<line x1="1678.24" y1="588.5" x2="1678.24" y2="592.0" stroke="#000" stroke-width="1"/>
<line x1="1725.85" y1="588.5" x2="1725.85" y2="592.0" stroke="#000" stroke-width="1"/>
<line x1="1773.46" y1="588.5" x2="1773.46" y2="595.5" stroke="#000" stroke-width="1"/>
<text x="1773.46" y="607.00" font-size="10.3" text-anchor="middle" font-weight="normal" textLength="21.50" lengthAdjust="spacingAndGlyphs" >18:00</text>
<line x1="1821.07" y1="588.5" x2="1821.07" y2="592.0" stroke="#000" stroke-width="1"/>
<line x1="1868.68" y1="588.5" x2="1868.68" y2="592.0" stroke="#000" stroke-width="1"/>
<line x1="1916.29" y1="588.5" x2="1916.29" y2="592.0" stroke="#000" stroke-width="1"/>
<line x1="1963.90" y1="588.5" x2="1963.90" y2="595.5" stroke="#000" stroke-width="1"/>
<text x="1963.90" y="607.00" font-size="10.3" text-anchor="middle" font-weight="normal" textLength="21.50" lengthAdjust="spacingAndGlyphs" >20:00</text>
<line x1="2011.51" y1="588.5" x2="2011.51" y2="592.0" stroke="#000" stroke-width="1"/>
<line x1="2059.12" y1="588.5" x2="2059.12" y2="592.0" stroke="#000" stroke-width="1"/>
<line x1="2106.73" y1="588.5" x2="2106.73" y2="592.0" stroke="#000" stroke-width="1"/>
<line x1="2154.34" y1="588.5" x2="2154.34" y2="595.5" stroke="#000" stroke-width="1"/>
<text x="2154.34" y="607.00" font-size="10.3" text-anchor="middle" font-weight="normal" textLength="21.50" lengthAdjust="spacingAndGlyphs" >22:00</text>
<line x1="2201.95" y1="588.5" x2="2201.95" y2="592.0" stroke="#000" stroke-width="1"/>
<line x1="2249.56" y1="588.5" x2="2249.56" y2="592.0" stroke="#000" stroke-width="1"/>
<line x1="2297.17" y1="588.5" x2="2297.17" y2="592.0" stroke="#000" stroke-width="1"/>
<text x="1200.00" y="624.00" font-size="13.5" text-anchor="middle" font-weight="normal" textLength="24.75" lengthAdjust="spacingAndGlyphs" >time</text>
<text x="0" y="0" font-size="13.5" text-anchor="middle" textLength="39.7" lengthAdjust="spacingAndGlyphs" transform="translate(22.3 336.50) rotate(-90)">dB SPL</text>
<text x="0" y="0" font-size="13.5" text-anchor="middle" textLength="39.7" lengthAdjust="spacingAndGlyphs" transform="translate(2384.3 336.50) rotate(-90)">dB SPL</text>
<rect x="2155.6" y="542.5" width="182.9" height="41" rx="2.5" fill="#fff8dc" fill-opacity="0.8" stroke="#dfc39c" stroke-width="1"/>
<circle cx="2169.4" cy="550.25" r="2.5" fill="#1e90ff"/>
<text x="2186.25" y="552.35" font-size="9.9" text-anchor="start" font-weight="normal" textLength="52.75" lengthAdjust="spacingAndGlyphs" >peak dB(Z)</text>
<circle cx="2169.4" cy="562.25" r="2.5" fill="#ff00ff"/>
<text x="2186.25" y="564.35" font-size="9.9" text-anchor="start" font-weight="normal" textLength="52.75" lengthAdjust="spacingAndGlyphs" >peak dB(C)</text>
<circle cx="2169.4" cy="574.4" r="2.5" fill="#2e8b57"/>
<text x="2186.25" y="576.50" font-size="9.9" text-anchor="start" font-weight="normal" textLength="52.75" lengthAdjust="spacingAndGlyphs" >peak dB(A)</text>
<line x1="2257.75" y1="550.25" x2="2280" y2="550.25" stroke="#4682b4" stroke-width="3"/>
<text x="2286.25" y="552.35" font-size="9.9" text-anchor="start" font-weight="normal" textLength="46.90" lengthAdjust="spacingAndGlyphs" >avg dB(Z)</text>
<line x1="2257.75" y1="562.25" x2="2280" y2="562.25" stroke="#da70d6" stroke-width="3"/>
<text x="2286.25" y="564.35" font-size="9.9" text-anchor="start" font-weight="normal" textLength="46.90" lengthAdjust="spacingAndGlyphs" >avg dB(C)</text>
<line x1="2257.75" y1="574.4" x2="2280" y2="574.4" stroke="#9acd32" stroke-width="3"/>
<text x="2286.25" y="576.50" font-size="9.9" text-anchor="start" font-weight="normal" textLength="46.90" lengthAdjust="spacingAndGlyphs" >avg dB(A)</text>
<rect x="59.5" y="645.5" width="2284.0" height="504.0" fill="#fff8dc"/>
<g clip-path="url(#clipbot)"><path d="M59.5 1006.6 60.0 986.3 60.5 998.1 61.0 952.0 61.5 979.4 62.0 1007.9 62.5 1002.6 63.0 1016.7 63.5 1010.8 64.0 1009.4 64.5 1013.4 65.0 1002.6 65.5 1000.2 66.0 1007.1 66.5 1004.6 67.0 1003.5 67.5 1010.6 68.0 1003.9 68.5 1002.9 69.0 1000.0 69.5 1003.4 70.0 1004.8 70.5 952.2 71.0 954.2 71.5 935.1 72.0 1006.8 72.5 998.3 73.0 996.7 73.5 1002.8 74.0 1002.5 74.5 989.6 75.0 963.4 75.5 996.3 76.0 997.6 76.5 994.1 77.0 998.2 77.5 993.5 78.0 995.6 78.5 993.2 79.0 988.5 79.5 979.1 80.0 937.3 80.5 991.6 81.0 985.5 81.5 980.4 82.0 993.1 82.5 981.4 83.0 979.8 83.5 979.8 84.0 967.5 84.5 992.3 85.0 993.9 85.5 983.9 86.0 996.9 86.5 985.4 87.0 999.9 87.5 1003.7 88.0 1004.7 88.5 997.2 89.0 1004.3 89.5 1003.2 90.0 1008.9 90.5 1010.1 91.0 892.6 91.5 899.6 92.0 1008.3 92.5 1004.8 93.0 996.8 93.5 1001.2 94.0 1009.5 94.5 998.6 95.0 1006.5 95.5 1007.7 96.0 1006.2 96.5 1007.4 97.0 1007.8 97.5 1009.1 98.0 1007.7 98.5 1014.6 99.0 1005.9 99.5 1010.6 100.0 1012.5 100.5 1013.3 101.0 1000.9 101.5 1005.2 102.0 1008.4 102.5 967.2 103.0 994.5 103.5 993.8 104.0 987.3 104.5 990.1 105.0 950.9 105.5 941.9 106.0 936.6 106.5 987.9 107.0 999.1 107.5 994.3 108.0 995.1 108.5 995.0 109.0 998.2 109.5 1004.5 110.0 1004.6 110.5 1006.4 111.0 1010.6 111.5 1012.1 112.0 1004.6 112.5 1010.7 113.0 1000.1 113.5 1004.6 114.0 1004.6 114.5 1002.9 115.0 988.6 115.5 1006.7 116.0 1004.1 116.5 1008.9 117.0 999.0 117.5 1004.5 118.0 1006.6 118.5 999.4 119.0 988.9 119.5 1002.6 120.0 996.9 120.5 1007.1 121.0 988.9 121.5 1006.7 122.0 1006.5 122.5 1003.7 123.0 1003.8 123.5 1009.3 124.0 999.8 124.5 1008.7 125.0 1009.9 125.5 1006.4 126.0 1005.5 126.5 996.3 127.0 1007.3 127.5 1012.1 128.0 1012.0 128.5 1007.4 129.0 993.9 129.5 1007.8 130.0 1005.4 130.5 984.3 131.0 999.2 131.5 1000.0 132.0 1004.7 132.5 998.7 133.0 989.1 133.5 992.4 134.0 993.2 134.5 987.5 135.0 996.3 135.5 992.4 136.0 991.8 136.5 988.8 137.0 995.9 137.5 993.8 138.0 992.2 138.5 1000.6 139.0 1002.0 139.5 1001.3 140.0 1002.9 140.5 994.0 141.0 1008.5 141.5 1010.1 142.0 998.9 142.5 1004.4 143.0 925.2 143.5 925.7 144.0 994.7 144.5 994.9 145.0 1004.4 145.5 1007.0 146.0 1005.5 146.5 999.6 147.0 1004.0 147.5 1007.4 148.0 999.1 148.5 1008.9 149.0 1002.8 149.5 1008.8 150.0 1009.5 150.5 1000.6 151.0 995.0 151.5 1007.2 152.0 995.5 152.5 990.6 153.0 1001.0 153.5 991.8 154.0 1004.3 154.5 1002.1 155.0 1002.0 155.5 1007.6 156.0 1006.2 156.5 1004.9 157.0 1007.2 157.5 996.0 158.0 1003.0 158.5 1009.4 159.0 1009.7 159.5 1010.1 160.0 996.1 160.5 1008.1 161.0 1003.8 161.5 1003.0 162.0 1014.4 162.5 1015.0 163.0 1004.3 163.5 992.8 164.0 997.7 164.5 1015.5 165.0 1019.4 165.5 1001.8 166.0 1014.7 166.5 1007.8 167.0 1003.0 167.5 994.5 168.0 1008.6 168.5 998.0 169.0 1007.8 169.5 1006.7 170.0 1008.8 170.5 1005.7 171.0 1000.5 171.5 993.8 172.0 987.8 172.5 996.1 173.0 996.5 173.5 999.2 174.0 1005.6 174.5 995.1 175.0 985.4 175.5 986.6 176.0 995.4 176.5 1002.8 177.0 1006.0 177.5 1009.5 178.0 1009.2 178.5 1006.4 179.0 1006.7 179.5 989.3 180.0 980.6 180.5 1005.1 181.0 1005.6 181.5 1005.9 182.0 1001.9 182.5 994.0 183.0 987.2 183.5 1010.0 184.0 1004.5 184.5 1002.8 185.0 1010.4 185.5 978.0 186.0 980.2 186.5 1000.5 187.0 1001.9 187.5 1001.7 188.0 1001.4 188.5 1007.4 189.0 1007.2 189.5 994.2 190.0 996.3 190.5 996.2 191.0 1001.3 191.5 989.4 192.0 994.8 192.5 991.1 193.0 994.2 193.5 1000.6 194.0 1001.3 194.5 986.6 195.0 1007.4 195.5 1006.6 196.0 1006.4 196.5 1007.7 197.0 1004.2 197.5 1004.8 198.0 1007.4 198.5 1008.9 199.0 1001.9 199.5 994.4 200.0 987.5 200.5 991.8 201.0 1004.8 201.5 1008.0 202.0 996.4 202.5 1005.0 203.0 932.5 203.5 986.2 204.0 1009.2 204.5 1010.5 205.0 997.9 205.5 1011.9 206.0 1010.5 206.5 1010.0 207.0 991.2 207.5 1001.0 208.0 1008.4 208.5 1008.4 209.0 1002.4 209.5 1007.9 210.0 1009.8 210.5 1011.0 211.0 1010.1 211.5 1012.5 212.0 1004.8 212.5 1002.0 213.0 1003.1 213.5 1008.7 214.0 1013.9 214.5 1016.3 215.0 1008.1 215.5 1008.5 216.0 1010.2 216.5 1011.7 217.0 1005.6 217.5 1009.8 218.0 1004.9 218.5 1013.2 219.0 1004.6 219.5 1006.7 220.0 1010.7 220.5 1008.1 221.0 1008.7 221.5 1009.1 222.0 1007.3 222.5 1010.3 223.0 1004.9 223.5 1006.1 224.0 1002.3 224.5 1009.9 225.0 1006.8 225.5 1003.1 226.0 1003.9 226.5 992.1 227.0 999.8 227.5 1006.0 228.0 999.9 228.5 999.4 229.0 991.2 229.5 998.2 230.0 1002.2 230.5 1007.9 231.0 1011.0 231.5 1010.6 232.0 1007.1 232.5 1010.2 233.0 1000.5 233.5 1010.2 234.0 1011.6 234.5 1001.0 235.0 999.9 235.5 1007.3 236.0 998.4 236.5 1008.4 237.0 983.1 237.5 1002.9 238.0 991.7 238.5 1008.5 239.0 1003.7 239.5 1004.2 240.0 1004.0 240.5 1007.3 241.0 991.3 241.5 1000.4 242.0 998.6 242.5 1000.7 243.0 998.6 243.5 979.1 244.0 998.5 244.5 989.3 245.0 988.5 245.5 993.4 246.0 985.3 246.5 981.0 247.0 925.5 247.5 932.5 248.0 979.5 248.5 979.9 249.0 984.8 249.5 973.9 250.0 984.5 250.5 985.2 251.0 983.9 251.5 1000.4 252.0 1002.2 252.5 997.4 253.0 975.5 253.5 1004.2 254.0 1002.9 254.5 998.6 255.0 1006.9 255.5 996.4 256.0 992.2 256.5 999.8 257.0 1005.2 257.5 1007.8 258.0 1005.1 258.5 968.0 259.0 1008.0 259.5 1004.5 260.0 1003.0 260.5 1008.8 261.0 1011.9 261.5 1007.0 262.0 1005.7 262.5 1002.0 263.0 1002.7 263.5 998.3 264.0 1002.2 264.5 947.8 265.0 1016.0 265.5 1007.9 266.0 1013.7 266.5 997.1 267.0 1012.1 267.5 1005.0 268.0 1011.2 268.5 1006.7 269.0 998.2 269.5 996.9 270.0 995.3 270.5 995.7 271.0 996.9 271.5 1005.5 272.0 989.6 272.5 994.5 273.0 999.9 273.5 1000.2 274.0 1001.4 274.5 996.1 275.0 997.2 275.5 997.6 276.0 1008.3 276.5 1006.7 277.0 990.1 277.5 1009.8 278.0 998.5 278.5 1008.9 279.0 1002.9 279.5 1004.0 280.0 1009.2 280.5 993.0 281.0 1005.6 281.5 1003.9 282.0 994.6 282.5 995.5 283.0 1003.0 283.5 1003.2 284.0 993.4 284.5 985.1 285.0 998.0 285.5 994.9 286.0 998.7 286.5 982.9 287.0 994.2 287.5 986.3 288.0 990.8 288.5 991.1 289.0 983.2 289.5 991.9 290.0 985.1 290.5 990.0 291.0 998.7 291.5 996.7 292.0 983.9 292.5 994.0 293.0 989.4 293.5 1001.7 294.0 1003.6 294.5 998.8 295.0 1005.3 295.5 1004.2 296.0 1007.5 296.5 1003.1 297.0 1009.3 297.5 1005.8 298.0 1006.8 298.5 1012.3 299.0 998.0 299.5 998.1 300.0 1012.5 300.5 1004.6 301.0 1009.6 301.5 1014.3 302.0 1014.3 302.5 1000.9 303.0 1015.1 303.5 1001.3 304.0 1011.6 304.5 1009.4 305.0 1006.0 305.5 1011.0 306.0 1009.9 306.5 1000.5 307.0 1010.1 307.5 1000.8 308.0 1009.6 308.5 1002.5 309.0 1009.8 309.5 1008.8 310.0 1005.0 310.5 1003.7 311.0 1006.5 311.5 1006.6 312.0 1005.7 312.5 1008.6 313.0 996.1 313.5 1006.8 314.0 1000.0 314.5 1004.7 315.0 1011.9 315.5 990.6 316.0 1006.4 316.5 1004.6 317.0 1005.7 317.5 985.2 318.0 1003.3 318.5 1012.6 319.0 1009.4 319.5 1009.1 320.0 1011.9 320.5 991.2 321.0 1004.9 321.5 975.9 322.0 994.2 322.5 1010.0 323.0 1013.7 323.5 1009.2 324.0 1007.9 324.5 1006.8 325.0 1006.0 325.5 1010.1 326.0 995.3 326.5 1013.8 327.0 1006.2 327.5 1017.5 328.0 1013.8 328.5 1014.8 329.0 1004.1 329.5 1001.8 330.0 1001.7 330.5 1016.0 331.0 1019.3 331.5 1019.1 332.0 1010.7 332.5 1011.7 333.0 1013.6 333.5 1003.8 334.0 1002.8 334.5 1009.9 335.0 1014.2 335.5 1005.1 336.0 1007.3 336.5 1009.9 337.0 994.3 337.5 1005.1 338.0 1001.5 338.5 1006.1 339.0 1012.0 339.5 1003.5 340.0 1010.6 340.5 1009.2 341.0 1004.5 341.5 1003.4 342.0 1007.5 342.5 1010.1 343.0 1012.8 343.5 1002.5 344.0 1013.7 344.5 1014.0 345.0 1006.0 345.5 1008.8 346.0 1002.7 346.5 1007.6 347.0 1002.2 347.5 998.2 348.0 1004.8 348.5 1003.8 349.0 1009.4 349.5 998.6 350.0 1011.7 350.5 1008.7 351.0 1011.4 351.5 1002.4 352.0 1007.3 352.5 973.4 353.0 991.3 353.5 1012.5 354.0 1008.7 354.5 994.3 355.0 940.6 355.5 941.3 356.0 1007.5 356.5 965.9 357.0 965.2 357.5 999.9 358.0 1005.4 358.5 994.2 359.0 995.9 359.5 999.9 360.0 1003.6 360.5 991.7 361.0 996.9 361.5 991.4 362.0 897.5 362.5 904.5 363.0 995.3 363.5 996.1 364.0 1002.9 364.5 1001.5 365.0 1000.3 365.5 988.8 366.0 987.7 366.5 1002.1 367.0 1002.4 367.5 992.3 368.0 999.4 368.5 1008.8 369.0 1015.2 369.5 1004.8 370.0 1013.6 370.5 1010.5 371.0 1013.5 371.5 1011.3 372.0 1006.6 372.5 998.3 373.0 1009.6 373.5 1009.4 374.0 998.9 374.5 1006.3 375.0 987.8 375.5 1003.1 376.0 1008.5 376.5 1000.4 377.0 996.5 377.5 1011.8 378.0 1003.9 378.5 996.1 379.0 1002.2 379.5 1000.4 380.0 1008.3 380.5 994.0 381.0 998.8 381.5 999.5 382.0 1003.1 382.5 989.2 383.0 990.4 383.5 997.9 384.0 1006.5 384.5 1006.5 385.0 999.2 385.5 998.0 386.0 1000.8 386.5 1005.9 387.0 998.5 387.5 1004.3 388.0 988.2 388.5 987.1 389.0 1003.4 389.5 997.4 390.0 1005.1 390.5 981.3 391.0 1003.4 391.5 1004.9 392.0 1001.4 392.5 1000.0 393.0 986.4 393.5 993.8 394.0 998.2 394.5 987.7 395.0 983.5 395.5 998.5 396.0 997.0 396.5 998.3 397.0 992.4 397.5 973.2 398.0 1001.4 398.5 999.8 399.0 988.3 399.5 983.3 400.0 988.9 400.5 992.4 401.0 993.6 401.5 982.6 402.0 897.5 402.5 904.5 403.0 986.3 403.5 986.4 404.0 970.4 404.5 975.7 405.0 969.9 405.5 969.9 406.0 973.2 406.5 968.6 407.0 975.8 407.5 976.9 408.0 973.8 408.5 973.0 409.0 973.8 409.5 969.0 410.0 970.0 410.5 957.6 411.0 951.8 411.5 964.6 412.0 976.4 412.5 978.1 413.0 984.1 413.5 990.8 414.0 987.1 414.5 987.5 415.0 989.5 415.5 984.7 416.0 993.9 416.5 991.6 417.0 992.8 417.5 956.4 418.0 996.3 418.5 989.7 419.0 989.7 419.5 937.7 420.0 974.1 420.5 992.0 421.0 981.1 421.5 975.7 422.0 979.5 422.5 1000.1 423.0 984.0 423.5 953.1 424.0 943.9 424.5 993.8 425.0 989.9 425.5 998.8 426.0 995.5 426.5 994.4 427.0 994.7 427.5 975.7 428.0 950.9 428.5 950.7 429.0 962.3 429.5 942.7 430.0 950.4 430.5 991.2 431.0 928.9 431.5 939.3 432.0 933.0 432.5 990.5 433.0 981.4 433.5 980.9 434.0 999.6 434.5 998.0 435.0 916.6 435.5 911.5 436.0 918.5 436.5 1004.3 437.0 997.7 437.5 995.7 438.0 1001.2 438.5 977.2 439.0 993.7 439.5 984.3 440.0 993.7 440.5 998.6 441.0 994.9 441.5 997.7 442.0 968.4 442.5 993.7 443.0 991.1 443.5 989.8 444.0 984.5 444.5 1001.9 445.0 1006.7 445.5 1003.6 446.0 995.1 446.5 995.1 447.0 992.0 447.5 998.0 448.0 993.2 448.5 997.2 449.0 987.0 449.5 979.6 450.0 936.4 450.5 941.8 451.0 950.8 451.5 992.8 452.0 991.8 452.5 996.0 453.0 986.8 453.5 960.7 454.0 993.4 454.5 1000.9 455.0 996.9 455.5 998.6 456.0 978.4 456.5 964.7 457.0 985.6 457.5 1000.2 458.0 979.4 458.5 957.4 459.0 986.3 459.5 990.3 460.0 991.4 460.5 992.8 461.0 988.7 461.5 989.8 462.0 996.9 462.5 941.1 463.0 955.8 463.5 977.0 464.0 989.4 464.5 936.4 465.0 937.1 465.5 979.1 466.0 975.2 466.5 993.4 467.0 977.8 467.5 988.9 468.0 979.7 468.5 987.2 469.0 976.0 469.5 970.0 470.0 992.4 470.5 989.3 471.0 987.4 471.5 986.9 472.0 996.9 472.5 995.7 473.0 993.6 473.5 981.2 474.0 964.2 474.5 948.5 475.0 978.3 475.5 997.6 476.0 974.5 476.5 959.8 477.0 999.1 477.5 987.9 478.0 982.2 478.5 965.9 479.0 980.6 479.5 1002.8 480.0 936.8 480.5 1002.0 481.0 1003.2 481.5 1001.2 482.0 984.8 482.5 1000.2 483.0 1002.6 483.5 1003.8 484.0 984.8 484.5 978.8 485.0 1002.0 485.5 1004.4 486.0 994.1 486.5 998.7 487.0 997.5 487.5 995.9 488.0 996.1 488.5 994.2 489.0 1004.0 489.5 991.0 490.0 1000.9 490.5 1004.8 491.0 998.4 491.5 1000.0 492.0 988.9 492.5 1001.5 493.0 995.7 493.5 995.9 494.0 997.3 494.5 989.9 495.0 986.5 495.5 987.3 496.0 1001.8 496.5 993.8 497.0 982.1 497.5 982.8 498.0 999.4 498.5 998.4 499.0 996.7 499.5 984.5 500.0 984.4 500.5 994.1 501.0 972.7 501.5 960.1 502.0 958.7 502.5 995.7 503.0 991.3 503.5 999.4 504.0 995.6 504.5 995.9 505.0 977.9 505.5 995.5 506.0 987.4 506.5 988.7 507.0 991.9 507.5 981.5 508.0 993.7 508.5 990.6 509.0 986.1 509.5 988.3 510.0 974.1 510.5 971.4 511.0 988.6 511.5 990.7 512.0 987.8 512.5 987.2 513.0 982.5 513.5 943.2 514.0 991.8 514.5 979.4 515.0 987.6 515.5 991.1 516.0 916.1 516.5 923.1 517.0 955.4 517.5 997.0 518.0 987.3 518.5 985.7 519.0 997.1 519.5 991.4 520.0 996.2 520.5 979.2 521.0 975.4 521.5 992.1 522.0 965.2 522.5 978.0 523.0 994.7 523.5 966.4 524.0 992.5 524.5 969.6 525.0 969.2 525.5 979.8 526.0 947.4 526.5 940.3 527.0 946.5 527.5 988.2 528.0 956.2 528.5 969.0 529.0 977.1 529.5 987.2 530.0 990.1 530.5 991.6 531.0 985.6 531.5 992.4 532.0 995.5 532.5 993.9 533.0 969.4 533.5 963.2 534.0 977.2 534.5 984.2 535.0 990.2 535.5 991.8 536.0 984.9 536.5 994.1 537.0 978.1 537.5 985.8 538.0 980.2 538.5 985.9 539.0 989.9 539.5 990.1 540.0 976.3 540.5 994.3 541.0 982.1 541.5 990.7 542.0 930.8 542.5 980.0 543.0 926.6 543.5 992.0 544.0 979.3 544.5 979.6 545.0 986.7 545.5 983.2 546.0 974.2 546.5 973.7 547.0 986.7 547.5 959.4 548.0 968.2 548.5 970.6 549.0 954.5 549.5 969.8 550.0 982.6 550.5 964.8 551.0 926.7 551.5 885.2 552.0 922.2 552.5 929.7 553.0 964.9 553.5 983.5 554.0 976.6 554.5 965.7 555.0 979.5 555.5 974.2 556.0 979.8 556.5 973.3 557.0 971.2 557.5 977.1 558.0 976.7 558.5 971.4 559.0 946.4 559.5 976.5 560.0 970.8 560.5 971.3 561.0 967.8 561.5 966.5 562.0 964.0 562.5 947.1 563.0 961.1 563.5 956.7 564.0 941.4 564.5 918.1 565.0 965.0 565.5 963.5 566.0 965.0 566.5 936.6 567.0 957.2 567.5 967.0 568.0 945.6 568.5 948.4 569.0 955.1 569.5 956.1 570.0 955.5 570.5 954.8 571.0 943.6 571.5 937.1 572.0 964.0 572.5 940.7 573.0 964.9 573.5 957.3 574.0 953.7 574.5 947.6 575.0 957.9 575.5 966.2 576.0 971.6 576.5 971.8 577.0 954.8 577.5 949.6 578.0 975.8 578.5 977.3 579.0 968.0 579.5 975.0 580.0 968.3 580.5 965.9 581.0 966.6 581.5 970.4 582.0 973.9 582.5 974.9 583.0 965.7 583.5 974.7 584.0 977.7 584.5 976.8 585.0 971.8 585.5 959.6 586.0 972.8 586.5 978.3 587.0 971.2 587.5 967.5 588.0 977.3 588.5 955.1 589.0 959.3 589.5 947.0 590.0 968.6 590.5 966.6 591.0 952.7 591.5 958.6 592.0 959.8 592.5 949.3 593.0 931.7 593.5 950.0 594.0 957.8 594.5 944.2 595.0 947.0 595.5 957.5 596.0 957.5 596.5 911.0 597.0 958.6 597.5 963.2 598.0 967.3 598.5 955.6 599.0 952.6 599.5 968.2 600.0 970.6 600.5 961.1 601.0 967.7 601.5 941.1 602.0 971.3 602.5 963.7 603.0 982.2 603.5 973.4 604.0 974.7 604.5 968.5 605.0 986.2 605.5 968.6 606.0 965.2 606.5 967.7 607.0 944.6 607.5 972.4 608.0 973.3 608.5 978.5 609.0 987.1 609.5 986.4 610.0 975.4 610.5 959.9 611.0 960.4 611.5 979.1 612.0 968.8 612.5 974.9 613.0 966.0 613.5 979.2 614.0 927.4 614.5 920.5 615.0 950.3 615.5 922.7 616.0 980.8 616.5 965.9 617.0 975.9 617.5 922.8 618.0 982.9 618.5 970.3 619.0 911.5 619.5 943.8 620.0 975.3 620.5 977.8 621.0 890.5 621.5 897.5 622.0 958.8 622.5 983.7 623.0 986.0 623.5 987.6 624.0 991.2 624.5 984.0 625.0 962.8 625.5 971.6 626.0 970.3 626.5 986.9 627.0 980.3 627.5 965.3 628.0 959.3 628.5 989.0 629.0 936.4 629.5 921.9 630.0 985.7 630.5 981.8 631.0 961.8 631.5 973.5 632.0 930.1 632.5 899.0 633.0 932.5 633.5 927.1 634.0 918.4 634.5 927.0 635.0 956.5 635.5 949.2 636.0 941.0 636.5 951.5 637.0 974.5 637.5 959.9 638.0 944.0 638.5 965.7 639.0 916.2 639.5 899.1 640.0 909.3 640.5 923.8 641.0 949.8 641.5 959.8 642.0 924.4 642.5 922.7 643.0 955.8 643.5 972.3 644.0 956.0 644.5 958.9 645.0 972.9 645.5 956.2 646.0 923.6 646.5 897.9 647.0 865.9 647.5 921.5 648.0 935.6 648.5 906.8 649.0 915.4 649.5 939.9 650.0 950.3 650.5 959.7 651.0 931.1 651.5 918.3 652.0 920.8 652.5 894.9 653.0 954.9 653.5 946.6 654.0 943.1 654.5 948.0 655.0 935.9 655.5 963.2 656.0 950.2 656.5 961.6 657.0 928.4 657.5 927.4 658.0 887.8 658.5 883.7 659.0 929.0 659.5 916.4 660.0 922.6 660.5 879.4 661.0 874.4 661.5 860.4 662.0 879.7 662.5 876.9 663.0 924.5 663.5 982.3 664.0 983.7 664.5 961.6 665.0 979.1 665.5 934.4 666.0 885.7 666.5 961.4 667.0 978.0 667.5 977.6 668.0 937.1 668.5 984.0 669.0 978.0 669.5 978.1 670.0 979.4 670.5 947.8 671.0 959.9 671.5 949.7 672.0 949.4 672.5 971.8 673.0 976.8 673.5 964.9 674.0 966.4 674.5 960.2 675.0 975.5 675.5 960.1 676.0 954.3 676.5 934.7 677.0 912.0 677.5 935.4 678.0 963.8 678.5 964.2 679.0 951.8 679.5 954.0 680.0 949.6 680.5 945.2 681.0 952.9 681.5 919.4 682.0 915.9 682.5 923.0 683.0 944.9 683.5 864.8 684.0 907.4 684.5 884.8 685.0 961.0 685.5 970.5 686.0 930.0 686.5 970.8 687.0 953.8 687.5 965.7 688.0 959.8 688.5 974.4 689.0 959.6 689.5 982.2 690.0 963.7 690.5 962.0 691.0 975.4 691.5 976.8 692.0 929.4 692.5 952.1 693.0 969.0 693.5 962.2 694.0 956.1 694.5 979.9 695.0 972.4 695.5 938.8 696.0 928.9 696.5 882.5 697.0 894.8 697.5 919.1 698.0 965.2 698.5 977.8 699.0 970.5 699.5 956.0 700.0 919.6 700.5 920.8 701.0 931.4 701.5 933.3 702.0 923.7 702.5 922.2 703.0 962.1 703.5 870.3 704.0 913.4 704.5 907.3 705.0 924.1 705.5 969.9 706.0 986.4 706.5 990.1 707.0 985.1 707.5 977.7 708.0 963.9 708.5 976.1 709.0 943.5 709.5 980.4 710.0 958.0 710.5 980.4 711.0 947.6 711.5 979.9 712.0 891.8 712.5 976.6 713.0 987.2 713.5 973.2 714.0 984.2 714.5 981.2 715.0 986.2 715.5 961.9 716.0 975.9 716.5 974.1 717.0 949.1 717.5 978.0 718.0 975.1 718.5 974.3 719.0 971.5 719.5 980.7 720.0 955.3 720.5 946.2 721.0 935.7 721.5 940.7 722.0 945.4 722.5 969.8 723.0 974.5 723.5 975.8 724.0 973.9 724.5 968.0 725.0 956.6 725.5 971.2 726.0 954.6 726.5 978.1 727.0 972.1 727.5 955.8 728.0 973.4 728.5 961.9 729.0 942.9 729.5 959.9 730.0 972.2 730.5 972.0 731.0 935.2 731.5 916.4 732.0 908.5 732.5 933.5 733.0 961.2 733.5 973.6 734.0 981.7 734.5 985.8 735.0 977.4 735.5 977.2 736.0 966.1 736.5 974.7 737.0 982.6 737.5 967.4 738.0 908.4 738.5 888.6 739.0 920.3 739.5 918.5 740.0 945.4 740.5 904.4 741.0 928.8 741.5 968.8 742.0 962.5 742.5 974.9 743.0 976.0 743.5 964.0 744.0 981.4 744.5 968.8 745.0 957.4 745.5 975.8 746.0 978.5 746.5 980.1 747.0 971.1 747.5 978.3 748.0 974.4 748.5 979.1 749.0 911.1 749.5 931.9 750.0 939.7 750.5 918.3 751.0 974.1 751.5 971.6 752.0 983.3 752.5 983.6 753.0 966.0 753.5 966.3 754.0 957.3 754.5 907.7 755.0 918.8 755.5 912.3 756.0 909.7 756.5 971.7 757.0 970.2 757.5 971.6 758.0 979.2 758.5 977.0 759.0 924.0 759.5 975.2 760.0 979.1 760.5 982.5 761.0 933.7 761.5 960.9 762.0 977.7 762.5 984.6 763.0 926.0 763.5 967.5 764.0 913.7 764.5 967.5 765.0 966.4 765.5 883.7 766.0 931.0 766.5 958.1 767.0 967.8 767.5 967.4 768.0 976.9 768.5 980.5 769.0 973.5 769.5 984.9 770.0 943.1 770.5 951.9 771.0 946.9 771.5 949.9 772.0 968.0 772.5 958.3 773.0 985.1 773.5 956.9 774.0 983.2 774.5 984.6 775.0 976.4 775.5 988.8 776.0 944.3 776.5 946.6 777.0 917.7 777.5 951.5 778.0 984.6 778.5 987.5 779.0 983.7 779.5 975.7 780.0 944.5 780.5 889.7 781.0 861.5 781.5 858.8 782.0 920.3 782.5 918.1 783.0 873.1 783.5 926.3 784.0 985.4 784.5 928.1 785.0 974.1 785.5 963.8 786.0 963.8 786.5 908.7 787.0 932.6 787.5 934.1 788.0 901.1 788.5 901.5 789.0 874.9 789.5 921.9 790.0 968.4 790.5 960.6 791.0 962.5 791.5 943.1 792.0 976.0 792.5 973.1 793.0 971.3 793.5 953.8 794.0 956.3 794.5 962.8 795.0 974.8 795.5 938.0 796.0 980.5 796.5 974.7 797.0 990.5 797.5 953.1 798.0 906.7 798.5 909.3 799.0 983.7 799.5 960.9 800.0 987.4 800.5 997.4 801.0 997.5 801.5 990.1 802.0 983.7 802.5 971.2 803.0 989.0 803.5 989.3 804.0 992.5 804.5 988.3 805.0 990.4 805.5 976.7 806.0 994.7 806.5 985.7 807.0 889.5 807.5 935.2 808.0 910.6 808.5 961.3 809.0 935.8 809.5 929.2 810.0 966.2 810.5 986.4 811.0 979.0 811.5 992.3 812.0 988.8 812.5 907.0 813.0 926.7 813.5 906.1 814.0 991.7 814.5 961.9 815.0 996.8 815.5 988.9 816.0 978.3 816.5 995.2 817.0 985.7 817.5 942.1 818.0 934.3 818.5 947.4 819.0 945.0 819.5 984.8 820.0 983.9 820.5 992.1 821.0 994.5 821.5 987.4 822.0 984.4 822.5 996.8 823.0 983.1 823.5 997.0 824.0 974.2 824.5 995.1 825.0 972.0 825.5 996.1 826.0 996.8 826.5 989.4 827.0 988.7 827.5 989.2 828.0 973.5 828.5 992.8 829.0 975.1 829.5 962.4 830.0 944.4 830.5 962.4 831.0 968.8 831.5 977.9 832.0 926.9 832.5 924.3 833.0 945.9 833.5 982.5 834.0 978.7 834.5 983.0 835.0 977.6 835.5 968.1 836.0 964.6 836.5 984.1 837.0 960.7 837.5 978.7 838.0 987.1 838.5 980.1 839.0 968.0 839.5 989.1 840.0 986.4 840.5 984.5 841.0 975.4 841.5 975.2 842.0 977.3 842.5 953.8 843.0 965.2 843.5 978.6 844.0 981.5 844.5 977.3 845.0 985.1 845.5 994.5 846.0 974.6 846.5 994.4 847.0 976.1 847.5 990.4 848.0 934.4 848.5 888.5 849.0 960.0 849.5 952.0 850.0 985.9 850.5 971.1 851.0 985.8 851.5 979.3 852.0 984.0 852.5 978.7 853.0 986.2 853.5 930.6 854.0 905.2 854.5 929.7 855.0 983.3 855.5 970.2 856.0 979.0 856.5 976.8 857.0 971.3 857.5 986.1 858.0 985.8 858.5 975.8 859.0 984.9 859.5 978.3 860.0 940.6 860.5 937.3 861.0 874.2 861.5 934.8 862.0 899.0 862.5 969.5 863.0 980.7 863.5 990.9 864.0 986.8 864.5 982.2 865.0 970.0 865.5 990.3 866.0 972.6 866.5 939.5 867.0 989.9 867.5 985.9 868.0 993.3 868.5 994.8 869.0 996.0 869.5 997.2 870.0 994.5 870.5 1001.4 871.0 999.4 871.5 989.8 872.0 997.1 872.5 985.0 873.0 997.0 873.5 996.1 874.0 996.7 874.5 997.6 875.0 949.3 875.5 904.3 876.0 983.3 876.5 979.2 877.0 962.8 877.5 991.5 878.0 968.6 878.5 989.0 879.0 988.4 879.5 988.6 880.0 993.0 880.5 992.9 881.0 972.6 881.5 985.2 882.0 990.4 882.5 991.5 883.0 988.0 883.5 984.4 884.0 997.4 884.5 990.9 885.0 983.8 885.5 989.7 886.0 980.8 886.5 983.5 887.0 986.0 887.5 982.1 888.0 976.1 888.5 963.1 889.0 950.5 889.5 947.1 890.0 948.3 890.5 974.6 891.0 976.0 891.5 979.2 892.0 970.9 892.5 927.1 893.0 901.6 893.5 875.6 894.0 901.2 894.5 917.9 895.0 901.1 895.5 878.4 896.0 902.8 896.5 870.5 897.0 963.7 897.5 924.1 898.0 935.7 898.5 901.0 899.0 974.1 899.5 966.4 900.0 925.6 900.5 954.6 901.0 889.2 901.5 859.4 902.0 830.0 902.5 972.3 903.0 957.9 903.5 970.9 904.0 945.7 904.5 967.2 905.0 933.5 905.5 921.0 906.0 898.5 906.5 959.1 907.0 967.5 907.5 963.1 908.0 813.5 908.5 820.5 909.0 955.7 909.5 950.6 910.0 928.5 910.5 951.2 911.0 942.7 911.5 921.5 912.0 923.6 912.5 912.2 913.0 936.0 913.5 926.1 914.0 947.4 914.5 943.6 915.0 953.9 915.5 962.0 916.0 963.8 916.5 968.7 917.0 959.7 917.5 872.1 918.0 893.2 918.5 896.8 919.0 944.3 919.5 925.8 920.0 935.9 920.5 979.2 921.0 987.1 921.5 989.5 922.0 982.1 922.5 981.0 923.0 973.8 923.5 910.5 924.0 939.8 924.5 940.0 925.0 942.9 925.5 974.3 926.0 972.7 926.5 943.4 927.0 987.2 927.5 985.1 928.0 984.4 928.5 987.3 929.0 976.2 929.5 985.4 930.0 968.4 930.5 973.6 931.0 992.2 931.5 992.5 932.0 983.3 932.5 990.3 933.0 889.2 933.5 985.1 934.0 992.6 934.5 924.6 935.0 851.2 935.5 922.4 936.0 836.1 936.5 880.8 937.0 904.5 937.5 923.0 938.0 960.0 938.5 889.5 939.0 913.2 939.5 968.1 940.0 955.3 940.5 953.2 941.0 962.4 941.5 973.1 942.0 947.4 942.5 962.8 943.0 954.0 943.5 981.9 944.0 985.0 944.5 827.5 945.0 834.5 945.5 969.1 946.0 990.5 946.5 985.4 947.0 950.9 947.5 910.5 948.0 931.1 948.5 875.3 949.0 839.7 949.5 899.7 950.0 917.7 950.5 936.8 951.0 974.9 951.5 951.2 952.0 957.1 952.5 984.0 953.0 965.6 953.5 983.8 954.0 946.5 954.5 934.3 955.0 934.4 955.5 947.4 956.0 989.8 956.5 968.7 957.0 949.8 957.5 921.1 958.0 933.0 958.5 899.4 959.0 854.8 959.5 855.6 960.0 869.2 960.5 982.6 961.0 980.4 961.5 993.9 962.0 991.0 962.5 982.8 963.0 953.1 963.5 941.3 964.0 923.0 964.5 954.5 965.0 957.6 965.5 989.4 966.0 986.0 966.5 950.5 967.0 866.1 967.5 965.6 968.0 986.8 968.5 969.7 969.0 979.2 969.5 948.9 970.0 981.6 970.5 859.1 971.0 940.7 971.5 947.1 972.0 979.0 972.5 963.1 973.0 958.8 973.5 968.7 974.0 960.3 974.5 972.8 975.0 948.2 975.5 913.4 976.0 852.7 976.5 866.1 977.0 851.7 977.5 897.1 978.0 945.8 978.5 939.8 979.0 970.2 979.5 984.6 980.0 979.4 980.5 966.2 981.0 965.2 981.5 984.1 982.0 984.8 982.5 994.0 983.0 987.6 983.5 989.3 984.0 989.5 984.5 987.6 985.0 989.3 985.5 980.9 986.0 965.3 986.5 978.2 987.0 968.1 987.5 984.2 988.0 951.3 988.5 871.1 989.0 864.5 989.5 983.3 990.0 899.1 990.5 925.2 991.0 939.3 991.5 963.6 992.0 980.6 992.5 979.6 993.0 965.4 993.5 982.0 994.0 981.5 994.5 976.9 995.0 969.6 995.5 927.0 996.0 949.2 996.5 970.3 997.0 983.0 997.5 988.2 998.0 955.6 998.5 901.3 999.0 929.9 999.5 954.5 1000.0 926.6 1000.5 992.0 1001.0 989.5 1001.5 987.8 1002.0 987.5 1002.5 986.2 1003.0 994.6 1003.5 980.2 1004.0 966.1 1004.5 973.2 1005.0 988.3 1005.5 977.2 1006.0 990.3 1006.5 970.1 1007.0 959.3 1007.5 960.1 1008.0 956.6 1008.5 960.6 1009.0 972.0 1009.5 965.6 1010.0 969.2 1010.5 972.5 1011.0 960.6 1011.5 983.3 1012.0 982.4 1012.5 995.1 1013.0 976.3 1013.5 985.0 1014.0 989.6 1014.5 987.1 1015.0 997.1 1015.5 988.3 1016.0 993.8 1016.5 991.0 1017.0 982.3 1017.5 995.6 1018.0 996.0 1018.5 998.2 1019.0 991.0 1019.5 981.7 1020.0 983.7 1020.5 995.7 1021.0 994.7 1021.5 959.3 1022.0 959.3 1022.5 965.6 1023.0 983.7 1023.5 992.8 1024.0 965.4 1024.5 961.1 1025.0 980.2 1025.5 993.3 1026.0 992.1 1026.5 989.8 1027.0 967.3 1027.5 982.0 1028.0 993.2 1028.5 983.3 1029.0 979.7 1029.5 980.0 1030.0 994.2 1030.5 980.3 1031.0 985.8 1031.5 990.4 1032.0 1001.4 1032.5 983.8 1033.0 978.2 1033.5 939.7 1034.0 1004.5 1034.5 999.8 1035.0 994.6 1035.5 951.0 1036.0 918.9 1036.5 989.5 1037.0 991.0 1037.5 941.6 1038.0 992.9 1038.5 996.5 1039.0 959.9 1039.5 956.8 1040.0 987.2 1040.5 917.2 1041.0 993.6 1041.5 993.2 1042.0 995.6 1042.5 984.5 1043.0 976.5 1043.5 992.9 1044.0 970.1 1044.5 960.1 1045.0 952.0 1045.5 981.2 1046.0 922.2 1046.5 991.4 1047.0 998.2 1047.5 990.5 1048.0 997.9 1048.5 983.8 1049.0 996.6 1049.5 998.3 1050.0 985.3 1050.5 973.5 1051.0 994.7 1051.5 992.5 1052.0 993.1 1052.5 872.5 1053.0 993.7 1053.5 991.1 1054.0 982.7 1054.5 994.6 1055.0 987.5 1055.5 997.5 1056.0 914.5 1056.5 909.9 1057.0 904.8 1057.5 993.1 1058.0 986.6 1058.5 976.3 1059.0 998.9 1059.5 999.7 1060.0 943.2 1060.5 926.3 1061.0 948.1 1061.5 896.7 1062.0 988.5 1062.5 978.9 1063.0 987.2 1063.5 968.3 1064.0 981.0 1064.5 984.8 1065.0 957.9 1065.5 977.2 1066.0 1003.6 1066.5 966.3 1067.0 970.8 1067.5 985.8 1068.0 982.2 1068.5 999.3 1069.0 989.5 1069.5 949.3 1070.0 947.1 1070.5 952.3 1071.0 972.7 1071.5 1009.9 1072.0 980.6 1072.5 966.7 1073.0 962.6 1073.5 998.3 1074.0 1003.1 1074.5 1008.7 1075.0 1007.2 1075.5 978.4 1076.0 975.3 1076.5 985.3 1077.0 1001.3 1077.5 969.6 1078.0 967.4 1078.5 1001.1 1079.0 996.6 1079.5 973.2 1080.0 993.4 1080.5 991.9 1081.0 991.4 1081.5 988.4 1082.0 998.6 1082.5 995.3 1083.0 986.6 1083.5 988.4 1084.0 987.9 1084.5 997.2 1085.0 976.3 1085.5 982.2 1086.0 990.9 1086.5 930.4 1087.0 958.6 1087.5 971.7 1088.0 992.4 1088.5 968.2 1089.0 981.4 1089.5 987.8 1090.0 989.1 1090.5 990.2 1091.0 993.1 1091.5 1002.9 1092.0 965.4 1092.5 1003.8 1093.0 976.1 1093.5 927.2 1094.0 988.6 1094.5 982.2 1095.0 992.2 1095.5 1002.7 1096.0 992.9 1096.5 993.2 1097.0 995.2 1097.5 1005.2 1098.0 997.2 1098.5 1002.2 1099.0 991.8 1099.5 995.1 1100.0 988.8 1100.5 966.0 1101.0 981.3 1101.5 993.7 1102.0 951.7 1102.5 919.7 1103.0 911.5 1103.5 985.5 1104.0 881.3 1104.5 989.7 1105.0 932.8 1105.5 944.7 1106.0 986.9 1106.5 977.4 1107.0 972.8 1107.5 990.1 1108.0 982.7 1108.5 990.6 1109.0 986.1 1109.5 985.9 1110.0 881.8 1110.5 835.6 1111.0 894.0 1111.5 831.5 1112.0 870.5 1112.5 1000.6 1113.0 1001.4 1113.5 1001.0 1114.0 874.1 1114.5 907.1 1115.0 919.0 1115.5 888.0 1116.0 972.0 1116.5 976.2 1117.0 999.7 1117.5 994.1 1118.0 998.5 1118.5 993.6 1119.0 994.4 1119.5 972.3 1120.0 994.2 1120.5 992.4 1121.0 983.7 1121.5 983.1 1122.0 970.5 1122.5 993.3 1123.0 972.0 1123.5 970.7 1124.0 965.5 1124.5 987.3 1125.0 942.2 1125.5 900.3 1126.0 983.7 1126.5 964.3 1127.0 918.6 1127.5 865.0 1128.0 986.7 1128.5 985.0 1129.0 964.3 1129.5 973.1 1130.0 971.0 1130.5 950.1 1131.0 932.7 1131.5 929.5 1132.0 883.8 1132.5 946.4 1133.0 858.9 1133.5 864.4 1134.0 952.9 1134.5 961.3 1135.0 949.0 1135.5 973.6 1136.0 970.3 1136.5 974.7 1137.0 986.4 1137.5 955.1 1138.0 979.4 1138.5 981.0 1139.0 963.7 1139.5 985.2 1140.0 925.9 1140.5 889.4 1141.0 860.3 1141.5 933.0 1142.0 977.5 1142.5 967.8 1143.0 967.7 1143.5 961.7 1144.0 972.8 1144.5 942.1 1145.0 962.2 1145.5 956.8 1146.0 962.7 1146.5 971.2 1147.0 906.1 1147.5 879.0 1148.0 910.6 1148.5 975.9 1149.0 920.7 1149.5 981.3 1150.0 991.2 1150.5 986.1 1151.0 955.5 1151.5 957.0 1152.0 956.2 1152.5 962.6 1153.0 915.9 1153.5 991.1 1154.0 973.0 1154.5 982.0 1155.0 960.0 1155.5 986.4 1156.0 967.4 1156.5 982.9 1157.0 971.2 1157.5 954.4 1158.0 972.9 1158.5 975.6 1159.0 879.5 1159.5 922.7 1160.0 980.8 1160.5 975.5 1161.0 970.3 1161.5 955.3 1162.0 962.9 1162.5 964.0 1163.0 982.6 1163.5 919.4 1164.0 842.4 1164.5 928.0 1165.0 865.0 1165.5 845.8 1166.0 970.7 1166.5 984.4 1167.0 992.2 1167.5 983.9 1168.0 976.5 1168.5 977.9 1169.0 986.8 1169.5 982.4 1170.0 987.5 1170.5 975.3 1171.0 927.6 1171.5 973.4 1172.0 917.6 1172.5 923.2 1173.0 919.8 1173.5 875.7 1174.0 886.1 1174.5 884.3 1175.0 889.5 1175.5 813.5 1176.0 820.5 1176.5 936.6 1177.0 936.9 1177.5 922.3 1178.0 922.7 1178.5 895.7 1179.0 896.1 1179.5 899.7 1180.0 922.4 1180.5 907.6 1181.0 950.0 1181.5 953.3 1182.0 961.6 1182.5 954.9 1183.0 934.7 1183.5 898.7 1184.0 928.3 1184.5 970.3 1185.0 982.1 1185.5 979.1 1186.0 973.3 1186.5 979.8 1187.0 970.4 1187.5 911.8 1188.0 886.1 1188.5 886.4 1189.0 970.1 1189.5 966.1 1190.0 962.3 1190.5 850.1 1191.0 914.5 1191.5 888.6 1192.0 894.1 1192.5 910.2 1193.0 975.6 1193.5 983.7 1194.0 996.1 1194.5 1000.9 1195.0 976.8 1195.5 999.1 1196.0 944.2 1196.5 1001.7 1197.0 932.8 1197.5 896.9 1198.0 908.0 1198.5 848.5 1199.0 931.7 1199.5 933.6 1200.0 973.5 1200.5 976.5 1201.0 979.4 1201.5 999.0 1202.0 994.8 1202.5 924.1 1203.0 927.8 1203.5 937.0 1204.0 939.9 1204.5 885.3 1205.0 924.4 1205.5 937.6 1206.0 858.1 1206.5 842.1 1207.0 943.5 1207.5 968.9 1208.0 874.6 1208.5 852.7 1209.0 870.8 1209.5 905.8 1210.0 868.8 1210.5 865.4 1211.0 961.8 1211.5 922.3 1212.0 902.4 1212.5 892.0 1213.0 863.9 1213.5 872.7 1214.0 928.7 1214.5 869.8 1215.0 920.6 1215.5 944.7 1216.0 959.7 1216.5 919.0 1217.0 949.8 1217.5 954.9 1218.0 954.6 1218.5 946.0 1219.0 888.9 1219.5 839.4 1220.0 894.1 1220.5 912.2 1221.0 956.9 1221.5 827.1 1222.0 942.0 1222.5 956.2 1223.0 974.2 1223.5 967.9 1224.0 971.2 1224.5 972.5 1225.0 964.7 1225.5 863.3 1226.0 927.9 1226.5 960.1 1227.0 955.4 1227.5 956.6 1228.0 957.2 1228.5 955.8 1229.0 925.6 1229.5 879.5 1230.0 892.0 1230.5 911.8 1231.0 891.5 1231.5 882.3 1232.0 852.6 1232.5 996.2 1233.0 881.9 1233.5 926.1 1234.0 860.1 1234.5 963.3 1235.0 961.2 1235.5 983.8 1236.0 985.6 1236.5 958.7 1237.0 984.9 1237.5 979.2 1238.0 925.4 1238.5 912.3 1239.0 908.0 1239.5 986.6 1240.0 986.9 1240.5 907.5 1241.0 940.6 1241.5 895.2 1242.0 898.7 1242.5 857.7 1243.0 873.8 1243.5 922.3 1244.0 850.2 1244.5 971.5 1245.0 985.3 1245.5 984.7 1246.0 952.4 1246.5 944.0 1247.0 952.1 1247.5 955.5 1248.0 928.2 1248.5 977.2 1249.0 985.3 1249.5 977.8 1250.0 926.9 1250.5 853.6 1251.0 851.5 1251.5 933.2 1252.0 948.8 1252.5 938.7 1253.0 948.2 1253.5 912.5 1254.0 898.9 1254.5 927.4 1255.0 952.9 1255.5 918.0 1256.0 915.5 1256.5 854.4 1257.0 874.6 1257.5 876.9 1258.0 913.9 1258.5 962.6 1259.0 962.0 1259.5 956.0 1260.0 953.5 1260.5 940.7 1261.0 937.5 1261.5 930.9 1262.0 857.3 1262.5 922.0 1263.0 906.0 1263.5 973.5 1264.0 978.0 1264.5 923.2 1265.0 961.6 1265.5 993.9 1266.0 989.0 1266.5 865.9 1267.0 909.4 1267.5 909.6 1268.0 901.1 1268.5 867.5 1269.0 927.8 1269.5 881.0 1270.0 840.6 1270.5 910.9 1271.0 936.3 1271.5 979.5 1272.0 970.4 1272.5 979.1 1273.0 948.0 1273.5 919.4 1274.0 914.5 1274.5 874.1 1275.0 878.3 1275.5 845.1 1276.0 860.7 1276.5 916.4 1277.0 831.6 1277.5 836.9 1278.0 913.7 1278.5 864.6 1279.0 864.9 1279.5 930.8 1280.0 965.2 1280.5 967.6 1281.0 980.5 1281.5 961.7 1282.0 981.6 1282.5 988.5 1283.0 925.6 1283.5 931.9 1284.0 952.3 1284.5 933.1 1285.0 920.6 1285.5 968.2 1286.0 980.0 1286.5 960.3 1287.0 858.3 1287.5 844.8 1288.0 928.0 1288.5 879.7 1289.0 858.9 1289.5 919.2 1290.0 931.4 1290.5 929.4 1291.0 911.4 1291.5 860.3 1292.0 925.1 1292.5 850.6 1293.0 849.1 1293.5 955.9 1294.0 968.4 1294.5 959.3 1295.0 958.3 1295.5 954.3 1296.0 942.0 1296.5 813.5 1297.0 820.5 1297.5 827.1 1298.0 878.0 1298.5 924.8 1299.0 915.2 1299.5 945.6 1300.0 933.9 1300.5 868.4 1301.0 825.7 1301.5 844.4 1302.0 855.2 1302.5 931.7 1303.0 930.6 1303.5 938.0 1304.0 907.9 1304.5 912.2 1305.0 906.9 1305.5 925.3 1306.0 922.2 1306.5 965.1 1307.0 929.0 1307.5 944.0 1308.0 916.4 1308.5 970.2 1309.0 984.5 1309.5 970.3 1310.0 962.9 1310.5 974.7 1311.0 990.1 1311.5 949.8 1312.0 947.2 1312.5 918.7 1313.0 963.8 1313.5 928.6 1314.0 961.8 1314.5 993.2 1315.0 838.9 1315.5 921.9 1316.0 991.4 1316.5 999.1 1317.0 994.8 1317.5 1002.6 1318.0 998.6 1318.5 982.0 1319.0 872.6 1319.5 930.5 1320.0 943.9 1320.5 992.2 1321.0 990.7 1321.5 938.8 1322.0 966.5 1322.5 950.3 1323.0 941.0 1323.5 880.7 1324.0 910.1 1324.5 926.8 1325.0 912.2 1325.5 820.9 1326.0 826.0 1326.5 891.9 1327.0 915.6 1327.5 899.3 1328.0 929.7 1328.5 959.0 1329.0 966.8 1329.5 965.2 1330.0 971.3 1330.5 961.4 1331.0 960.1 1331.5 923.9 1332.0 924.0 1332.5 935.6 1333.0 917.2 1333.5 862.9 1334.0 834.7 1334.5 849.1 1335.0 844.6 1335.5 860.5 1336.0 946.0 1336.5 851.3 1337.0 960.0 1337.5 879.6 1338.0 947.3 1338.5 960.7 1339.0 975.7 1339.5 981.0 1340.0 962.0 1340.5 893.4 1341.0 917.5 1341.5 883.7 1342.0 852.3 1342.5 854.9 1343.0 863.6 1343.5 984.2 1344.0 949.5 1344.5 986.5 1345.0 913.7 1345.5 923.0 1346.0 989.8 1346.5 946.2 1347.0 944.2 1347.5 917.5 1348.0 955.9 1348.5 902.9 1349.0 905.7 1349.5 892.2 1350.0 834.6 1350.5 889.4 1351.0 918.5 1351.5 903.4 1352.0 866.3 1352.5 907.3 1353.0 990.8 1353.5 917.6 1354.0 909.4 1354.5 924.8 1355.0 965.4 1355.5 977.0 1356.0 933.5 1356.5 973.0 1357.0 891.3 1357.5 849.4 1358.0 969.0 1358.5 970.1 1359.0 915.4 1359.5 924.6 1360.0 927.9 1360.5 927.6 1361.0 930.2 1361.5 940.1 1362.0 889.8 1362.5 847.6 1363.0 874.4 1363.5 958.2 1364.0 942.6 1364.5 889.8 1365.0 971.7 1365.5 932.1 1366.0 874.2 1366.5 893.1 1367.0 908.5 1367.5 898.8 1368.0 843.7 1368.5 910.2 1369.0 980.1 1369.5 952.2 1370.0 937.1 1370.5 939.0 1371.0 896.1 1371.5 990.3 1372.0 974.2 1372.5 984.8 1373.0 869.8 1373.5 884.4 1374.0 841.6 1374.5 920.5 1375.0 967.8 1375.5 984.7 1376.0 962.2 1376.5 981.7 1377.0 982.5 1377.5 970.3 1378.0 980.8 1378.5 988.1 1379.0 991.3 1379.5 988.7 1380.0 974.3 1380.5 986.6 1381.0 963.5 1381.5 983.9 1382.0 989.4 1382.5 979.0 1383.0 854.1 1383.5 916.5 1384.0 903.3 1384.5 855.9 1385.0 912.8 1385.5 909.8 1386.0 977.7 1386.5 867.2 1387.0 816.4 1387.5 821.8 1388.0 978.0 1388.5 981.6 1389.0 984.1 1389.5 981.7 1390.0 907.9 1390.5 922.2 1391.0 870.5 1391.5 896.3 1392.0 919.9 1392.5 863.2 1393.0 929.2 1393.5 923.4 1394.0 899.4 1394.5 927.1 1395.0 907.2 1395.5 935.8 1396.0 952.9 1396.5 953.6 1397.0 861.9 1397.5 830.5 1398.0 868.8 1398.5 900.7 1399.0 975.9 1399.5 957.5 1400.0 913.8 1400.5 950.5 1401.0 953.0 1401.5 979.0 1402.0 962.1 1402.5 966.5 1403.0 938.6 1403.5 934.8 1404.0 977.7 1404.5 903.1 1405.0 922.2 1405.5 983.0 1406.0 950.0 1406.5 972.3 1407.0 880.2 1407.5 903.7 1408.0 854.9 1408.5 840.1 1409.0 894.0 1409.5 848.6 1410.0 960.3 1410.5 974.6 1411.0 979.5 1411.5 949.0 1412.0 963.7 1412.5 930.8 1413.0 969.3 1413.5 960.0 1414.0 980.9 1414.5 864.8 1415.0 969.0 1415.5 964.8 1416.0 990.9 1416.5 978.4 1417.0 902.1 1417.5 876.8 1418.0 983.7 1418.5 970.6 1419.0 982.1 1419.5 913.8 1420.0 906.2 1420.5 920.0 1421.0 887.1 1421.5 862.3 1422.0 869.6 1422.5 912.6 1423.0 962.4 1423.5 965.4 1424.0 977.2 1424.5 924.7 1425.0 899.3 1425.5 862.1 1426.0 916.3 1426.5 934.1 1427.0 911.1 1427.5 901.3 1428.0 928.6 1428.5 866.3 1429.0 934.9 1429.5 930.1 1430.0 973.7 1430.5 972.5 1431.0 838.8 1431.5 873.7 1432.0 940.0 1432.5 897.5 1433.0 928.0 1433.5 885.7 1434.0 901.4 1434.5 919.0 1435.0 930.7 1435.5 915.5 1436.0 923.8 1436.5 921.8 1437.0 876.1 1437.5 929.3 1438.0 937.7 1438.5 939.9 1439.0 953.7 1439.5 905.4 1440.0 893.8 1440.5 906.1 1441.0 903.8 1441.5 873.3 1442.0 867.7 1442.5 956.8 1443.0 969.4 1443.5 902.3 1444.0 862.7 1444.5 875.8 1445.0 931.3 1445.5 865.7 1446.0 981.8 1446.5 971.2 1447.0 860.2 1447.5 913.9 1448.0 871.6 1448.5 813.5 1449.0 820.5 1449.5 926.1 1450.0 882.7 1450.5 976.2 1451.0 967.1 1451.5 855.7 1452.0 914.8 1452.5 901.9 1453.0 975.2 1453.5 975.5 1454.0 956.1 1454.5 980.2 1455.0 965.3 1455.5 931.6 1456.0 955.8 1456.5 916.8 1457.0 945.0 1457.5 914.8 1458.0 913.3 1458.5 897.8 1459.0 817.6 1459.5 824.9 1460.0 815.0 1460.5 824.6 1461.0 861.0 1461.5 954.6 1462.0 950.3 1462.5 955.9 1463.0 969.9 1463.5 941.7 1464.0 975.4 1464.5 952.2 1465.0 977.6 1465.5 979.4 1466.0 923.7 1466.5 947.5 1467.0 922.4 1467.5 813.5 1468.0 820.5 1468.5 952.9 1469.0 894.0 1469.5 938.2 1470.0 952.9 1470.5 916.2 1471.0 912.4 1471.5 885.7 1472.0 908.5 1472.5 919.2 1473.0 954.6 1473.5 983.7 1474.0 928.9 1474.5 903.5 1475.0 974.4 1475.5 971.4 1476.0 933.4 1476.5 950.1 1477.0 953.7 1477.5 840.7 1478.0 911.9 1478.5 837.9 1479.0 871.4 1479.5 847.1 1480.0 891.5 1480.5 876.5 1481.0 937.7 1481.5 895.5 1482.0 915.3 1482.5 912.5 1483.0 899.5 1483.5 935.1 1484.0 941.9 1484.5 837.4 1485.0 921.9 1485.5 894.3 1486.0 886.3 1486.5 844.5 1487.0 965.5 1487.5 975.0 1488.0 969.2 1488.5 975.2 1489.0 983.6 1489.5 983.5 1490.0 989.8 1490.5 995.2 1491.0 994.6 1491.5 974.0 1492.0 971.6 1492.5 970.2 1493.0 986.8 1493.5 991.4 1494.0 987.3 1494.5 975.9 1495.0 984.5 1495.5 987.0 1496.0 994.2 1496.5 929.0 1497.0 943.2 1497.5 958.0 1498.0 925.3 1498.5 973.5 1499.0 979.4 1499.5 970.5 1500.0 983.0 1500.5 986.4 1501.0 963.2 1501.5 869.3 1502.0 877.5 1502.5 835.4 1503.0 965.2 1503.5 976.8 1504.0 859.2 1504.5 927.9 1505.0 984.6 1505.5 868.6 1506.0 908.2 1506.5 897.1 1507.0 905.6 1507.5 885.3 1508.0 916.4 1508.5 951.4 1509.0 989.5 1509.5 981.4 1510.0 995.0 1510.5 984.3 1511.0 990.6 1511.5 922.9 1512.0 907.7 1512.5 934.4 1513.0 900.7 1513.5 901.4 1514.0 892.8 1514.5 911.5 1515.0 990.9 1515.5 918.2 1516.0 963.3 1516.5 965.3 1517.0 990.4 1517.5 978.8 1518.0 840.1 1518.5 910.4 1519.0 889.9 1519.5 918.0 1520.0 974.1 1520.5 983.6 1521.0 984.8 1521.5 990.0 1522.0 935.0 1522.5 925.3 1523.0 975.6 1523.5 982.2 1524.0 985.4 1524.5 968.0 1525.0 986.7 1525.5 966.3 1526.0 970.4 1526.5 977.9 1527.0 876.6 1527.5 874.2 1528.0 873.3 1528.5 875.7 1529.0 970.3 1529.5 964.9 1530.0 969.2 1530.5 966.8 1531.0 949.8 1531.5 969.7 1532.0 893.0 1532.5 922.4 1533.0 904.1 1533.5 900.2 1534.0 936.6 1534.5 880.7 1535.0 888.5 1535.5 920.7 1536.0 906.9 1536.5 975.7 1537.0 949.3 1537.5 894.8 1538.0 907.3 1538.5 957.1 1539.0 965.7 1539.5 972.6 1540.0 904.3 1540.5 971.0 1541.0 971.1 1541.5 977.4 1542.0 966.0 1542.5 917.1 1543.0 965.8 1543.5 939.2 1544.0 929.7 1544.5 883.2 1545.0 889.8 1545.5 899.8 1546.0 876.3 1546.5 883.0 1547.0 930.2 1547.5 918.9 1548.0 906.9 1548.5 888.7 1549.0 910.7 1549.5 984.1 1550.0 981.3 1550.5 966.2 1551.0 813.2 1551.5 848.2 1552.0 884.1 1552.5 846.3 1553.0 961.0 1553.5 952.9 1554.0 899.1 1554.5 911.2 1555.0 928.5 1555.5 912.8 1556.0 945.0 1556.5 853.6 1557.0 916.1 1557.5 886.9 1558.0 950.2 1558.5 866.0 1559.0 840.0 1559.5 886.1 1560.0 832.5 1560.5 874.4 1561.0 875.0 1561.5 908.5 1562.0 906.5 1562.5 894.1 1563.0 956.0 1563.5 965.4 1564.0 963.1 1564.5 965.2 1565.0 863.5 1565.5 934.5 1566.0 972.6 1566.5 955.9 1567.0 954.9 1567.5 981.5 1568.0 982.6 1568.5 972.9 1569.0 975.2 1569.5 979.2 1570.0 960.8 1570.5 973.2 1571.0 968.9 1571.5 869.9 1572.0 842.3 1572.5 834.9 1573.0 879.9 1573.5 911.0 1574.0 823.8 1574.5 973.3 1575.0 905.4 1575.5 844.8 1576.0 857.4 1576.5 858.4 1577.0 908.2 1577.5 924.5 1578.0 909.2 1578.5 886.8 1579.0 969.5 1579.5 975.1 1580.0 923.5 1580.5 902.7 1581.0 970.1 1581.5 916.2 1582.0 948.1 1582.5 914.5 1583.0 946.9 1583.5 958.1 1584.0 958.6 1584.5 965.6 1585.0 974.7 1585.5 896.3 1586.0 961.1 1586.5 940.0 1587.0 975.6 1587.5 978.3 1588.0 983.9 1588.5 984.2 1589.0 920.3 1589.5 929.6 1590.0 911.0 1590.5 892.0 1591.0 886.6 1591.5 852.9 1592.0 901.5 1592.5 863.9 1593.0 964.1 1593.5 878.1 1594.0 943.1 1594.5 959.1 1595.0 946.4 1595.5 949.2 1596.0 922.8 1596.5 905.3 1597.0 928.8 1597.5 888.2 1598.0 930.1 1598.5 875.2 1599.0 919.4 1599.5 884.0 1600.0 869.7 1600.5 879.6 1601.0 827.5 1601.5 834.5 1602.0 966.6 1602.5 954.9 1603.0 963.6 1603.5 895.3 1604.0 968.2 1604.5 942.8 1605.0 968.8 1605.5 955.1 1606.0 972.1 1606.5 984.1 1607.0 892.5 1607.5 956.0 1608.0 963.7 1608.5 964.9 1609.0 959.3 1609.5 976.8 1610.0 957.9 1610.5 1002.4 1611.0 975.6 1611.5 952.8 1612.0 963.3 1612.5 957.5 1613.0 933.2 1613.5 991.9 1614.0 906.7 1614.5 949.4 1615.0 926.8 1615.5 945.5 1616.0 902.3 1616.5 862.1 1617.0 873.6 1617.5 881.2 1618.0 892.5 1618.5 977.8 1619.0 977.6 1619.5 988.0 1620.0 966.5 1620.5 919.6 1621.0 911.5 1621.5 922.6 1622.0 946.7 1622.5 981.8 1623.0 959.6 1623.5 987.5 1624.0 976.6 1624.5 983.7 1625.0 970.5 1625.5 892.5 1626.0 918.8 1626.5 850.9 1627.0 942.3 1627.5 877.4 1628.0 865.7 1628.5 929.2 1629.0 978.6 1629.5 973.2 1630.0 965.7 1630.5 970.6 1631.0 985.8 1631.5 964.3 1632.0 928.7 1632.5 938.6 1633.0 949.4 1633.5 933.1 1634.0 978.4 1634.5 986.2 1635.0 987.7 1635.5 880.6 1636.0 939.9 1636.5 866.5 1637.0 987.9 1637.5 855.0 1638.0 937.7 1638.5 849.1 1639.0 940.6 1639.5 934.3 1640.0 968.4 1640.5 959.7 1641.0 945.5 1641.5 954.8 1642.0 966.7 1642.5 951.5 1643.0 944.5 1643.5 931.5 1644.0 951.7 1644.5 922.0 1645.0 908.3 1645.5 938.0 1646.0 909.8 1646.5 922.3 1647.0 922.4 1647.5 920.3 1648.0 935.6 1648.5 937.0 1649.0 944.0 1649.5 931.2 1650.0 935.1 1650.5 936.1 1651.0 939.9 1651.5 937.2 1652.0 897.4 1652.5 878.5 1653.0 920.5 1653.5 952.3 1654.0 968.2 1654.5 947.6 1655.0 926.2 1655.5 851.5 1656.0 920.1 1656.5 844.4 1657.0 883.2 1657.5 852.2 1658.0 833.0 1658.5 907.3 1659.0 900.1 1659.5 941.3 1660.0 963.8 1660.5 968.8 1661.0 966.4 1661.5 916.3 1662.0 904.4 1662.5 894.5 1663.0 874.4 1663.5 895.0 1664.0 926.8 1664.5 913.9 1665.0 957.3 1665.5 921.4 1666.0 901.6 1666.5 940.0 1667.0 894.7 1667.5 927.5 1668.0 964.4 1668.5 928.1 1669.0 911.1 1669.5 896.2 1670.0 896.3 1670.5 879.8 1671.0 865.8 1671.5 877.3 1672.0 952.0 1672.5 945.8 1673.0 926.9 1673.5 929.8 1674.0 900.4 1674.5 893.7 1675.0 948.7 1675.5 961.0 1676.0 937.3 1676.5 961.8 1677.0 971.8 1677.5 943.8 1678.0 936.7 1678.5 885.0 1679.0 920.6 1679.5 887.0 1680.0 885.2 1680.5 931.9 1681.0 928.9 1681.5 915.4 1682.0 865.9 1682.5 877.0 1683.0 890.2 1683.5 853.8 1684.0 914.1 1684.5 929.1 1685.0 909.6 1685.5 885.8 1686.0 868.3 1686.5 868.7 1687.0 917.8 1687.5 967.1 1688.0 970.8 1688.5 957.3 1689.0 903.9 1689.5 875.3 1690.0 961.7 1690.5 978.7 1691.0 969.2 1691.5 950.7 1692.0 965.2 1692.5 978.4 1693.0 881.6 1693.5 916.1 1694.0 863.8 1694.5 893.3 1695.0 941.1 1695.5 999.7 1696.0 1001.7 1696.5 992.6 1697.0 930.0 1697.5 922.4 1698.0 948.4 1698.5 969.5 1699.0 1001.2 1699.5 994.6 1700.0 945.8 1700.5 906.5 1701.0 930.2 1701.5 909.5 1702.0 989.9 1702.5 1005.4 1703.0 1001.6 1703.5 994.9 1704.0 992.8 1704.5 997.0 1705.0 976.6 1705.5 985.7 1706.0 981.3 1706.5 878.5 1707.0 906.0 1707.5 912.4 1708.0 971.4 1708.5 963.0 1709.0 975.1 1709.5 975.6 1710.0 937.7 1710.5 976.6 1711.0 979.5 1711.5 984.8 1712.0 983.3 1712.5 884.4 1713.0 978.7 1713.5 979.9 1714.0 979.9 1714.5 873.6 1715.0 893.7 1715.5 847.1 1716.0 852.8 1716.5 895.9 1717.0 965.8 1717.5 956.4 1718.0 935.9 1718.5 919.7 1719.0 931.2 1719.5 977.5 1720.0 978.9 1720.5 968.9 1721.0 959.2 1721.5 960.2 1722.0 947.1 1722.5 960.3 1723.0 972.2 1723.5 951.1 1724.0 886.5 1724.5 916.2 1725.0 907.2 1725.5 939.8 1726.0 896.0 1726.5 988.2 1727.0 967.2 1727.5 977.2 1728.0 987.2 1728.5 984.2 1729.0 962.3 1729.5 949.0 1730.0 910.9 1730.5 982.8 1731.0 938.7 1731.5 880.2 1732.0 868.6 1732.5 939.6 1733.0 974.5 1733.5 905.2 1734.0 980.5 1734.5 969.9 1735.0 961.7 1735.5 958.6 1736.0 984.8 1736.5 979.1 1737.0 840.1 1737.5 926.1 1738.0 930.2 1738.5 929.9 1739.0 938.7 1739.5 869.7 1740.0 881.7 1740.5 962.3 1741.0 962.1 1741.5 953.1 1742.0 975.6 1742.5 901.9 1743.0 898.7 1743.5 877.9 1744.0 889.5 1744.5 864.7 1745.0 984.2 1745.5 967.9 1746.0 978.0 1746.5 964.1 1747.0 949.3 1747.5 932.6 1748.0 902.3 1748.5 881.3 1749.0 923.4 1749.5 899.3 1750.0 911.2 1750.5 893.2 1751.0 964.1 1751.5 965.9 1752.0 944.1 1752.5 970.4 1753.0 943.1 1753.5 967.7 1754.0 895.1 1754.5 906.7 1755.0 897.2 1755.5 884.1 1756.0 890.8 1756.5 955.8 1757.0 901.5 1757.5 924.5 1758.0 905.5 1758.5 912.3 1759.0 963.2 1759.5 976.0 1760.0 972.9 1760.5 976.3 1761.0 975.7 1761.5 967.8 1762.0 987.7 1762.5 936.6 1763.0 950.3 1763.5 909.2 1764.0 854.1 1764.5 997.2 1765.0 995.2 1765.5 1001.3 1766.0 999.1 1766.5 888.9 1767.0 854.5 1767.5 845.2 1768.0 940.9 1768.5 917.1 1769.0 956.1 1769.5 913.2 1770.0 901.3 1770.5 891.1 1771.0 1001.1 1771.5 980.0 1772.0 999.2 1772.5 995.8 1773.0 1001.4 1773.5 998.3 1774.0 994.7 1774.5 905.7 1775.0 962.6 1775.5 963.1 1776.0 986.5 1776.5 988.4 1777.0 983.2 1777.5 992.2 1778.0 963.9 1778.5 969.1 1779.0 991.8 1779.5 988.0 1780.0 989.3 1780.5 982.0 1781.0 940.3 1781.5 834.5 1782.0 841.5 1782.5 979.5 1783.0 938.7 1783.5 982.7 1784.0 987.7 1784.5 980.8 1785.0 968.6 1785.5 980.4 1786.0 982.5 1786.5 976.1 1787.0 980.8 1787.5 979.1 1788.0 980.7 1788.5 974.8 1789.0 967.5 1789.5 975.8 1790.0 987.8 1790.5 952.9 1791.0 963.9 1791.5 989.2 1792.0 986.2 1792.5 981.2 1793.0 990.9 1793.5 995.5 1794.0 980.3 1794.5 991.7 1795.0 982.1 1795.5 993.3 1796.0 981.8 1796.5 976.8 1797.0 957.3 1797.5 967.6 1798.0 999.7 1798.5 992.8 1799.0 1004.3 1799.5 997.1 1800.0 983.0 1800.5 1004.4 1801.0 925.8 1801.5 981.6 1802.0 982.9 1802.5 999.2 1803.0 988.6 1803.5 999.5 1804.0 995.1 1804.5 1012.8 1805.0 1009.0 1805.5 1000.6 1806.0 995.2 1806.5 1009.8 1807.0 991.6 1807.5 1004.9 1808.0 1003.5 1808.5 996.8 1809.0 991.8 1809.5 994.4 1810.0 1005.3 1810.5 1004.3 1811.0 998.5 1811.5 968.2 1812.0 988.6 1812.5 1009.5 1813.0 1009.9 1813.5 986.7 1814.0 1010.2 1814.5 990.8 1815.0 996.5 1815.5 1001.2 1816.0 999.4 1816.5 989.4 1817.0 1007.5 1817.5 999.6 1818.0 1005.8 1818.5 996.1 1819.0 972.4 1819.5 973.5 1820.0 988.8 1820.5 996.6 1821.0 995.2 1821.5 1000.8 1822.0 996.8 1822.5 1005.3 1823.0 1004.6 1823.5 938.6 1824.0 950.3 1824.5 992.2 1825.0 1001.4 1825.5 1000.3 1826.0 994.5 1826.5 989.5 1827.0 996.1 1827.5 1005.2 1828.0 993.2 1828.5 984.1 1829.0 973.2 1829.5 963.0 1830.0 998.9 1830.5 1002.4 1831.0 1002.8 1831.5 1001.0 1832.0 1001.4 1832.5 1006.9 1833.0 998.5 1833.5 999.5 1834.0 998.4 1834.5 1008.9 1835.0 1008.6 1835.5 1008.7 1836.0 1004.2 1836.5 1006.0 1837.0 1005.6 1837.5 972.0 1838.0 1015.6 1838.5 1003.8 1839.0 992.0 1839.5 998.1 1840.0 1011.5 1840.5 1006.6 1841.0 1016.8 1841.5 1009.4 1842.0 1019.0 1842.5 1005.3 1843.0 1011.9 1843.5 1008.9 1844.0 998.8 1844.5 1003.6 1845.0 938.9 1845.5 946.7 1846.0 940.8 1846.5 1006.1 1847.0 993.0 1847.5 980.6 1848.0 984.1 1848.5 994.7 1849.0 1007.7 1849.5 1006.2 1850.0 991.7 1850.5 997.8 1851.0 991.6 1851.5 1000.4 1852.0 1002.4 1852.5 1002.7 1853.0 1000.9 1853.5 1003.3 1854.0 961.8 1854.5 914.7 1855.0 978.6 1855.5 1003.4 1856.0 985.7 1856.5 987.5 1857.0 978.7 1857.5 966.7 1858.0 978.0 1858.5 981.7 1859.0 992.2 1859.5 984.7 1860.0 999.6 1860.5 999.8 1861.0 1004.7 1861.5 1001.4 1862.0 990.2 1862.5 1006.9 1863.0 1005.4 1863.5 1007.6 1864.0 1010.1 1864.5 1000.8 1865.0 1000.5 1865.5 1007.0 1866.0 1008.0 1866.5 998.5 1867.0 999.2 1867.5 1000.5 1868.0 999.4 1868.5 1000.0 1869.0 984.1 1869.5 941.6 1870.0 988.8 1870.5 991.2 1871.0 1000.6 1871.5 1002.3 1872.0 977.1 1872.5 998.6 1873.0 1001.3 1873.5 992.3 1874.0 1004.8 1874.5 995.9 1875.0 997.4 1875.5 992.3 1876.0 1003.1 1876.5 993.6 1877.0 1002.1 1877.5 1001.5 1878.0 998.6 1878.5 995.0 1879.0 1000.9 1879.5 985.3 1880.0 986.3 1880.5 992.1 1881.0 993.0 1881.5 1004.8 1882.0 923.9 1882.5 1003.9 1883.0 928.4 1883.5 907.3 1884.0 1007.2 1884.5 1003.7 1885.0 1009.0 1885.5 1009.8 1886.0 999.2 1886.5 910.2 1887.0 918.9 1887.5 957.8 1888.0 1004.7 1888.5 984.4 1889.0 1011.1 1889.5 1005.7 1890.0 987.4 1890.5 1012.1 1891.0 1007.8 1891.5 995.2 1892.0 965.5 1892.5 961.7 1893.0 914.5 1893.5 977.8 1894.0 942.0 1894.5 1013.2 1895.0 999.5 1895.5 999.8 1896.0 1000.5 1896.5 1010.4 1897.0 1002.0 1897.5 1010.1 1898.0 1007.6 1898.5 1007.0 1899.0 1003.2 1899.5 1003.2 1900.0 989.6 1900.5 992.4 1901.0 996.8 1901.5 1004.1 1902.0 997.9 1902.5 1001.3 1903.0 1004.9 1903.5 1003.6 1904.0 981.7 1904.5 994.1 1905.0 1000.5 1905.5 998.7 1906.0 1005.0 1906.5 1005.9 1907.0 926.1 1907.5 948.8 1908.0 1010.5 1908.5 975.9 1909.0 990.0 1909.5 980.9 1910.0 1007.0 1910.5 985.2 1911.0 986.8 1911.5 1004.8 1912.0 1010.2 1912.5 926.6 1913.0 974.4 1913.5 921.5 1914.0 1012.2 1914.5 1006.6 1915.0 1006.8 1915.5 1006.7 1916.0 995.6 1916.5 1001.5 1917.0 1004.2 1917.5 1003.5 1918.0 988.3 1918.5 958.2 1919.0 989.2 1919.5 983.3 1920.0 991.0 1920.5 1002.1 1921.0 1000.8 1921.5 994.3 1922.0 1005.1 1922.5 991.3 1923.0 988.1 1923.5 950.9 1924.0 980.4 1924.5 958.9 1925.0 999.0 1925.5 988.3 1926.0 989.2 1926.5 991.6 1927.0 993.7 1927.5 994.8 1928.0 998.7 1928.5 1000.6 1929.0 991.7 1929.5 992.8 1930.0 998.9 1930.5 999.7 1931.0 939.9 1931.5 954.9 1932.0 917.4 1932.5 996.6 1933.0 996.3 1933.5 998.1 1934.0 1007.0 1934.5 1005.9 1935.0 1001.4 1935.5 1009.4 1936.0 1012.2 1936.5 1010.4 1937.0 1002.8 1937.5 994.4 1938.0 1000.5 1938.5 996.3 1939.0 1006.2 1939.5 1002.6 1940.0 983.9 1940.5 1007.9 1941.0 1003.1 1941.5 1000.8 1942.0 1001.7 1942.5 983.2 1943.0 1004.7 1943.5 989.4 1944.0 995.1 1944.5 996.8 1945.0 966.7 1945.5 926.9 1946.0 931.8 1946.5 992.6 1947.0 1001.2 1947.5 1002.8 1948.0 991.5 1948.5 992.2 1949.0 1007.2 1949.5 1006.0 1950.0 965.1 1950.5 961.4 1951.0 974.8 1951.5 998.7 1952.0 970.4 1952.5 972.0 1953.0 953.8 1953.5 1007.8 1954.0 1006.3 1954.5 1001.5 1955.0 993.7 1955.5 906.3 1956.0 1005.1 1956.5 1008.2 1957.0 1006.9 1957.5 1004.2 1958.0 1007.9 1958.5 1010.5 1959.0 1006.1 1959.5 1010.0 1960.0 1003.8 1960.5 996.1 1961.0 1006.0 1961.5 1004.1 1962.0 1004.3 1962.5 1013.7 1963.0 998.0 1963.5 1009.4 1964.0 996.5 1964.5 1005.7 1965.0 997.8 1965.5 1007.6 1966.0 993.7 1966.5 993.1 1967.0 984.8 1967.5 994.6 1968.0 967.7 1968.5 998.7 1969.0 999.3 1969.5 999.0 1970.0 932.0 1970.5 1004.0 1971.0 1002.4 1971.5 994.6 1972.0 991.8 1972.5 1005.1 1973.0 997.3 1973.5 982.2 1974.0 1003.6 1974.5 986.7 1975.0 1001.0 1975.5 1002.2 1976.0 967.8 1976.5 976.5 1977.0 1002.8 1977.5 989.7 1978.0 987.7 1978.5 972.1 1979.0 969.9 1979.5 1002.5 1980.0 998.5 1980.5 1004.1 1981.0 1000.7 1981.5 998.3 1982.0 1003.3 1982.5 996.3 1983.0 995.7 1983.5 995.9 1984.0 996.9 1984.5 1005.9 1985.0 1004.0 1985.5 986.5 1986.0 1002.9 1986.5 1000.4 1987.0 997.4 1987.5 986.6 1988.0 988.8 1988.5 970.4 1989.0 979.2 1989.5 992.2 1990.0 996.4 1990.5 992.8 1991.0 978.3 1991.5 995.2 1992.0 997.5 1992.5 981.4 1993.0 990.6 1993.5 994.9 1994.0 988.8 1994.5 1001.8 1995.0 992.2 1995.5 987.8 1996.0 997.1 1996.5 992.9 1997.0 1000.9 1997.5 996.2 1998.0 984.8 1998.5 983.8 1999.0 983.5 1999.5 989.6 2000.0 994.0 2000.5 991.1 2001.0 998.7 2001.5 994.0 2002.0 945.0 2002.5 989.0 2003.0 996.3 2003.5 995.9 2004.0 990.3 2004.5 987.7 2005.0 984.3 2005.5 982.7 2006.0 990.2 2006.5 983.3 2007.0 995.8 2007.5 997.9 2008.0 996.2 2008.5 993.3 2009.0 992.2 2009.5 991.9 2010.0 953.4 2010.5 998.2 2011.0 1002.2 2011.5 1003.0 2012.0 1000.2 2012.5 987.8 2013.0 993.6 2013.5 998.1 2014.0 995.2 2014.5 982.0 2015.0 980.2 2015.5 990.0 2016.0 982.3 2016.5 934.8 2017.0 994.5 2017.5 979.7 2018.0 992.1 2018.5 983.8 2019.0 959.2 2019.5 992.2 2020.0 983.2 2020.5 980.8 2021.0 969.2 2021.5 981.7 2022.0 990.7 2022.5 982.8 2023.0 984.6 2023.5 968.9 2024.0 986.3 2024.5 976.5 2025.0 991.6 2025.5 944.7 2026.0 988.6 2026.5 982.1 2027.0 992.3 2027.5 989.4 2028.0 988.2 2028.5 978.1 2029.0 992.1 2029.5 988.5 2030.0 986.9 2030.5 988.3 2031.0 970.3 2031.5 974.6 2032.0 975.6 2032.5 976.1 2033.0 992.0 2033.5 994.1 2034.0 986.1 2034.5 994.0 2035.0 987.4 2035.5 979.4 2036.0 989.4 2036.5 988.0 2037.0 979.5 2037.5 999.4 2038.0 996.3 2038.5 1000.2 2039.0 994.0 2039.5 994.2 2040.0 985.7 2040.5 988.3 2041.0 994.3 2041.5 995.4 2042.0 995.9 2042.5 992.6 2043.0 983.0 2043.5 998.8 2044.0 998.4 2044.5 992.0 2045.0 981.0 2045.5 990.9 2046.0 990.5 2046.5 1000.5 2047.0 993.2 2047.5 998.5 2048.0 988.5 2048.5 994.4 2049.0 998.4 2049.5 996.9 2050.0 996.1 2050.5 994.5 2051.0 984.8 2051.5 990.1 2052.0 991.9 2052.5 990.7 2053.0 982.0 2053.5 994.0 2054.0 999.1 2054.5 998.0 2055.0 993.2 2055.5 973.2 2056.0 980.1 2056.5 995.1 2057.0 996.2 2057.5 976.7 2058.0 995.9 2058.5 994.6 2059.0 990.1 2059.5 977.6 2060.0 987.4 2060.5 993.8 2061.0 994.7 2061.5 989.0 2062.0 1000.1 2062.5 985.8 2063.0 975.4 2063.5 996.4 2064.0 997.6 2064.5 993.5 2065.0 989.4 2065.5 955.6 2066.0 933.1 2066.5 990.6 2067.0 1000.3 2067.5 990.4 2068.0 987.5 2068.5 986.0 2069.0 999.3 2069.5 999.8 2070.0 995.7 2070.5 982.6 2071.0 999.5 2071.5 998.9 2072.0 991.4 2072.5 999.6 2073.0 991.6 2073.5 984.2 2074.0 1000.2 2074.5 992.3 2075.0 980.9 2075.5 961.8 2076.0 992.0 2076.5 995.0 2077.0 996.8 2077.5 948.1 2078.0 962.9 2078.5 983.9 2079.0 996.7 2079.5 995.7 2080.0 996.2 2080.5 995.9 2081.0 992.9 2081.5 982.4 2082.0 987.4 2082.5 982.4 2083.0 982.6 2083.5 985.8 2084.0 989.2 2084.5 994.2 2085.0 983.7 2085.5 986.4 2086.0 990.2 2086.5 976.4 2087.0 993.5 2087.5 986.2 2088.0 984.3 2088.5 987.9 2089.0 992.0 2089.5 984.4 2090.0 986.3 2090.5 984.4 2091.0 977.6 2091.5 997.3 2092.0 996.4 2092.5 984.4 2093.0 988.2 2093.5 982.9 2094.0 990.1 2094.5 988.4 2095.0 990.5 2095.5 983.4 2096.0 993.5 2096.5 990.4 2097.0 989.5 2097.5 991.5 2098.0 995.5 2098.5 996.4 2099.0 978.8 2099.5 997.6 2100.0 975.0 2100.5 985.7 2101.0 991.5 2101.5 991.6 2102.0 995.9 2102.5 995.4 2103.0 988.5 2103.5 991.8 2104.0 984.9 2104.5 978.9 2105.0 987.1 2105.5 981.2 2106.0 980.3 2106.5 981.6 2107.0 984.9 2107.5 994.1 2108.0 988.2 2108.5 991.7 2109.0 995.6 2109.5 992.7 2110.0 992.4 2110.5 971.0 2111.0 987.1 2111.5 995.3 2112.0 990.3 2112.5 986.2 2113.0 979.3 2113.5 992.2 2114.0 995.2 2114.5 994.3 2115.0 993.9 2115.5 956.0 2116.0 986.4 2116.5 992.3 2117.0 971.7 2117.5 982.2 2118.0 984.1 2118.5 990.5 2119.0 981.6 2119.5 958.5 2120.0 934.6 2120.5 995.7 2121.0 991.9 2121.5 986.6 2122.0 989.9 2122.5 991.5 2123.0 989.1 2123.5 994.3 2124.0 981.4 2124.5 984.8 2125.0 991.3 2125.5 983.6 2126.0 996.8 2126.5 991.0 2127.0 987.1 2127.5 987.3 2128.0 982.4 2128.5 967.3 2129.0 985.0 2129.5 987.8 2130.0 975.1 2130.5 992.8 2131.0 983.1 2131.5 974.3 2132.0 988.0 2132.5 965.8 2133.0 987.1 2133.5 990.0 2134.0 983.7 2134.5 985.8 2135.0 981.7 2135.5 985.2 2136.0 986.6 2136.5 983.7 2137.0 979.3 2137.5 992.1 2138.0 984.0 2138.5 977.8 2139.0 989.5 2139.5 995.7 2140.0 988.0 2140.5 995.1 2141.0 971.1 2141.5 999.0 2142.0 987.7 2142.5 984.3 2143.0 992.0 2143.5 981.1 2144.0 996.2 2144.5 986.2 2145.0 989.4 2145.5 996.7 2146.0 994.0 2146.5 988.2 2147.0 996.6 2147.5 990.5 2148.0 990.9 2148.5 995.7 2149.0 974.7 2149.5 977.3 2150.0 994.6 2150.5 970.0 2151.0 979.9 2151.5 944.7 2152.0 991.9 2152.5 995.6 2153.0 995.8 2153.5 997.3 2154.0 998.0 2154.5 992.7 2155.0 995.9 2155.5 984.5 2156.0 975.0 2156.5 966.4 2157.0 963.0 2157.5 981.3 2158.0 984.5 2158.5 993.1 2159.0 994.4 2159.5 988.5 2160.0 988.5 2160.5 996.6 2161.0 996.1 2161.5 924.9 2162.0 965.3 2162.5 984.0 2163.0 955.6 2163.5 990.8 2164.0 986.3 2164.5 974.1 2165.0 977.6 2165.5 934.8 2166.0 963.1 2166.5 987.3 2167.0 964.6 2167.5 988.8 2168.0 984.5 2168.5 979.6 2169.0 982.6 2169.5 979.1 2170.0 980.3 2170.5 990.8 2171.0 977.2 2171.5 988.9 2172.0 992.0 2172.5 986.7 2173.0 976.3 2173.5 994.6 2174.0 977.6 2174.5 987.1 2175.0 968.6 2175.5 965.9 2176.0 989.2 2176.5 995.7 2177.0 942.5 2177.5 967.9 2178.0 990.7 2178.5 955.0 2179.0 987.3 2179.5 980.7 2180.0 984.3 2180.5 995.6 2181.0 994.0 2181.5 995.5 2182.0 978.4 2182.5 982.2 2183.0 990.5 2183.5 983.3 2184.0 982.3 2184.5 981.4 2185.0 988.0 2185.5 988.9 2186.0 991.3 2186.5 987.2 2187.0 988.0 2187.5 986.3 2188.0 993.9 2188.5 992.4 2189.0 982.0 2189.5 992.8 2190.0 989.7 2190.5 983.4 2191.0 951.1 2191.5 988.5 2192.0 993.9 2192.5 996.1 2193.0 969.5 2193.5 983.7 2194.0 995.5 2194.5 979.7 2195.0 990.7 2195.5 959.7 2196.0 998.2 2196.5 985.6 2197.0 982.3 2197.5 997.9 2198.0 996.6 2198.5 984.5 2199.0 997.9 2199.5 986.9 2200.0 993.6 2200.5 994.8 2201.0 946.4 2201.5 991.8 2202.0 977.6 2202.5 985.3 2203.0 992.9 2203.5 989.4 2204.0 985.2 2204.5 986.9 2205.0 990.6 2205.5 988.7 2206.0 992.4 2206.5 970.1 2207.0 964.3 2207.5 990.6 2208.0 988.9 2208.5 988.1 2209.0 994.4 2209.5 987.1 2210.0 996.7 2210.5 986.5 2211.0 993.8 2211.5 994.9 2212.0 993.7 2212.5 988.2 2213.0 921.6 2213.5 996.0 2214.0 996.4 2214.5 999.0 2215.0 996.2 2215.5 994.0 2216.0 990.2 2216.5 982.8 2217.0 990.3 2217.5 993.9 2218.0 993.7 2218.5 993.7 2219.0 988.6 2219.5 983.4 2220.0 991.0 2220.5 982.7 2221.0 993.3 2221.5 988.8 2222.0 991.6 2222.5 984.9 2223.0 982.9 2223.5 982.9 2224.0 988.1 2224.5 991.6 2225.0 980.3 2225.5 991.4 2226.0 989.4 2226.5 993.3 2227.0 990.6 2227.5 991.6 2228.0 989.3 2228.5 990.1 2229.0 993.3 2229.5 995.5 2230.0 997.9 2230.5 989.0 2231.0 986.2 2231.5 988.4 2232.0 999.4 2232.5 986.3 2233.0 984.0 2233.5 995.4 2234.0 998.0 2234.5 937.8 2235.0 997.6 2235.5 986.4 2236.0 992.8 2236.5 1002.0 2237.0 995.2 2237.5 935.4 2238.0 957.9 2238.5 986.3 2239.0 986.7 2239.5 986.1 2240.0 995.7 2240.5 989.0 2241.0 993.0 2241.5 990.0 2242.0 998.9 2242.5 995.1 2243.0 994.4 2243.5 990.5 2244.0 983.8 2244.5 984.1 2245.0 989.4 2245.5 989.2 2246.0 972.1 2246.5 987.3 2247.0 992.7 2247.5 989.4 2248.0 985.3 2248.5 986.0 2249.0 1000.4 2249.5 989.8 2250.0 998.3 2250.5 988.0 2251.0 996.3 2251.5 990.7 2252.0 980.1 2252.5 976.7 2253.0 992.3 2253.5 991.3 2254.0 997.7 2254.5 987.1 2255.0 997.0 2255.5 991.8 2256.0 993.4 2256.5 990.2 2257.0 996.2 2257.5 993.4 2258.0 998.9 2258.5 999.9 2259.0 995.8 2259.5 993.3 2260.0 993.1 2260.5 1001.4 2261.0 982.0 2261.5 999.5 2262.0 983.8 2262.5 994.5 2263.0 996.4 2263.5 994.8 2264.0 998.1 2264.5 993.1 2265.0 990.8 2265.5 1003.1 2266.0 1005.3 2266.5 1005.0 2267.0 1005.8 2267.5 987.7 2268.0 1000.6 2268.5 995.4 2269.0 988.1 2269.5 990.3 2270.0 997.5 2270.5 1003.1 2271.0 999.1 2271.5 993.8 2272.0 991.7 2272.5 1002.2 2273.0 989.1 2273.5 1001.1 2274.0 1001.4 2274.5 1000.5 2275.0 999.4 2275.5 999.8 2276.0 1001.2 2276.5 992.5 2277.0 997.2 2277.5 988.2 2278.0 995.5 2278.5 996.5 2279.0 997.2 2279.5 993.4 2280.0 1000.6 2280.5 989.7 2281.0 997.5 2281.5 995.4 2282.0 1000.9 2282.5 989.5 2283.0 995.1 2283.5 995.9 2284.0 1000.7 2284.5 1002.0 2285.0 999.6 2285.5 991.8 2286.0 991.2 2286.5 994.8 2287.0 995.8 2287.5 991.8 2288.0 995.0 2288.5 994.9 2289.0 989.8 2289.5 961.3 2290.0 995.1 2290.5 975.6 2291.0 987.9 2291.5 999.9 2292.0 989.8 2292.5 987.8 2293.0 1002.0 2293.5 1003.6 2294.0 1000.0 2294.5 1000.5 2295.0 1002.7 2295.5 992.8 2296.0 1002.2 2296.5 990.8 2297.0 978.0 2297.5 997.3 2298.0 989.7 2298.5 992.1 2299.0 974.4 2299.5 988.3 2300.0 996.2 2300.5 997.4 2301.0 994.4 2301.5 997.2 2302.0 1001.4 2302.5 991.7 2303.0 998.3 2303.5 997.2 2304.0 991.4 2304.5 999.3 2305.0 980.0 2305.5 988.6 2306.0 998.0 2306.5 1001.1 2307.0 991.4 2307.5 976.9 2308.0 997.8 2308.5 979.8 2309.0 986.8 2309.5 999.6 2310.0 970.5 2310.5 1001.1 2311.0 1000.9 2311.5 998.8 2312.0 997.9 2312.5 996.9 2313.0 999.2 2313.5 996.3 2314.0 993.9 2314.5 996.8 2315.0 998.0 2315.5 999.1 2316.0 1000.7 2316.5 948.7 2317.0 1001.3 2317.5 999.8 2318.0 984.7 2318.5 973.7 2319.0 997.6 2319.5 961.3 2320.0 996.1 2320.5 996.4 2321.0 996.0 2321.5 993.6 2322.0 991.8 2322.5 998.3 2323.0 995.4 2323.5 994.1 2324.0 911.5 2324.5 918.5 2325.0 931.3 2325.5 989.4 2326.0 992.6 2326.5 990.9 2327.0 991.0 2327.5 984.1 2328.0 982.1 2328.5 968.0 2329.0 977.1 2329.5 977.2 2330.0 976.0 2330.5 982.4 2331.0 990.6 2331.5 984.9 2332.0 981.5 2332.5 989.6 2333.0 982.6 2333.5 986.0 2334.0 995.8 2334.5 980.6 2335.0 986.8 2335.5 992.0 2336.0 988.6 2336.5 993.4 2337.0 994.6 2337.5 987.5 2338.0 991.8 2338.5 976.5 2339.0 980.2 2339.5 999.5 2340.0 999.0 2340.5 980.0 2341.0 970.3 2341.5 1000.2 2342.0 997.3 2342.5 994.8 2343.0 981.9 L2343.0 1018.8 2342.5 1024.6 2342.0 1024.1 2341.5 1023.6 2341.0 1015.2 2340.5 1021.0 2340.0 1013.9 2339.5 1015.1 2339.0 1012.9 2338.5 1025.0 2338.0 1025.7 2337.5 1016.0 2337.0 1022.5 2336.5 1007.5 2336.0 1022.7 2335.5 1009.9 2335.0 1004.3 2334.5 1020.6 2334.0 1008.5 2333.5 1001.4 2333.0 1011.8 2332.5 1015.4 2332.0 1008.5 2331.5 1008.8 2331.0 1018.4 2330.5 1014.9 2330.0 1004.1 2329.5 1002.7 2329.0 1001.7 2328.5 1003.1 2328.0 1010.3 2327.5 1016.6 2327.0 1010.9 2326.5 1007.3 2326.0 1018.1 2325.5 1015.7 2325.0 1012.9 2324.5 1011.7 2324.0 1000.4 2323.5 1015.9 2323.0 1012.7 2322.5 1021.1 2322.0 1021.8 2321.5 1019.4 2321.0 1022.5 2320.5 1016.9 2320.0 1003.5 2319.5 1017.1 2319.0 1020.1 2318.5 1019.0 2318.0 1013.9 2317.5 1020.1 2317.0 1012.2 2316.5 1020.9 2316.0 1019.7 2315.5 1019.5 2315.0 1014.2 2314.5 1023.5 2314.0 1007.3 2313.5 1023.6 2313.0 1019.8 2312.5 1014.7 2312.0 1018.1 2311.5 1013.8 2311.0 1020.6 2310.5 1013.6 2310.0 1017.3 2309.5 1018.1 2309.0 1009.1 2308.5 1008.9 2308.0 1023.1 2307.5 1010.7 2307.0 1013.5 2306.5 1023.8 2306.0 1011.6 2305.5 1015.0 2305.0 1019.8 2304.5 1025.9 2304.0 1013.3 2303.5 1023.6 2303.0 1028.5 2302.5 1020.6 2302.0 1020.1 2301.5 1019.5 2301.0 1012.7 2300.5 1013.6 2300.0 1020.4 2299.5 1018.1 2299.0 1008.4 2298.5 1024.1 2298.0 1026.6 2297.5 1014.5 2297.0 1013.3 2296.5 1011.1 2296.0 1020.1 2295.5 1021.2 2295.0 1020.2 2294.5 1011.6 2294.0 1028.3 2293.5 1016.9 2293.0 1026.1 2292.5 1023.3 2292.0 1021.1 2291.5 1021.4 2291.0 1023.0 2290.5 1013.2 2290.0 1012.7 2289.5 1024.0 2289.0 1026.6 2288.5 1017.5 2288.0 1021.7 2287.5 1022.2 2287.0 1020.9 2286.5 1025.6 2286.0 1022.3 2285.5 1015.3 2285.0 1025.8 2284.5 1024.7 2284.0 1023.4 2283.5 1015.6 2283.0 1025.3 2282.5 1023.1 2282.0 1017.4 2281.5 1020.4 2281.0 1018.3 2280.5 1025.8 2280.0 1026.0 2279.5 1024.7 2279.0 1010.1 2278.5 1007.2 2278.0 1007.3 2277.5 1012.2 2277.0 1005.4 2276.5 1019.9 2276.0 1021.9 2275.5 1021.4 2275.0 1014.5 2274.5 1017.7 2274.0 1013.9 2273.5 1006.2 2273.0 1008.2 2272.5 1022.6 2272.0 1007.1 2271.5 1012.8 2271.0 1024.8 2270.5 1008.6 2270.0 1021.4 2269.5 1024.0 2269.0 1025.2 2268.5 1018.5 2268.0 1018.5 2267.5 1022.7 2267.0 1024.9 2266.5 1020.4 2266.0 1015.5 2265.5 1013.0 2265.0 1022.0 2264.5 1025.3 2264.0 1005.6 2263.5 1018.5 2263.0 1008.2 2262.5 1017.1 2262.0 1019.2 2261.5 1012.1 2261.0 1020.0 2260.5 1009.7 2260.0 1018.6 2259.5 1013.5 2259.0 1022.7 2258.5 1011.3 2258.0 1016.7 2257.5 1016.0 2257.0 1019.2 2256.5 1018.3 2256.0 1007.8 2255.5 1015.6 2255.0 1022.0 2254.5 1015.6 2254.0 1010.9 2253.5 1013.4 2253.0 1016.5 2252.5 1011.6 2252.0 1002.1 2251.5 1005.9 2251.0 1015.2 2250.5 1001.7 2250.0 1004.6 2249.5 1019.5 2249.0 1020.5 2248.5 1010.2 2248.0 1010.3 2247.5 1017.5 2247.0 1019.9 2246.5 1021.3 2246.0 1019.9 2245.5 1021.8 2245.0 1000.9 2244.5 1016.1 2244.0 1015.7 2243.5 1016.6 2243.0 1015.6 2242.5 1018.5 2242.0 1008.3 2241.5 1004.5 2241.0 1009.4 2240.5 1006.5 2240.0 1012.0 2239.5 1004.9 2239.0 1017.5 2238.5 1012.9 2238.0 1019.1 2237.5 1012.6 2237.0 1015.6 2236.5 1019.9 2236.0 1020.2 2235.5 1003.7 2235.0 1013.4 2234.5 1020.8 2234.0 1011.8 2233.5 1017.4 2233.0 1019.2 2232.5 1012.0 2232.0 1006.4 2231.5 1013.5 2231.0 1005.6 2230.5 1003.7 2230.0 1018.5 2229.5 1002.1 2229.0 1019.1 2228.5 1015.4 2228.0 1021.4 2227.5 1021.4 2227.0 1006.6 2226.5 1013.4 2226.0 1014.5 2225.5 1020.1 2225.0 1008.1 2224.5 1014.0 2224.0 1019.1 2223.5 1017.6 2223.0 1004.6 2222.5 1002.7 2222.0 1016.2 2221.5 1009.2 2221.0 1007.9 2220.5 1005.4 2220.0 1007.0 2219.5 1007.3 2219.0 1001.9 2218.5 1014.6 2218.0 1002.9 2217.5 1002.6 2217.0 1009.9 2216.5 1010.9 2216.0 1014.3 2215.5 1015.6 2215.0 1013.0 2214.5 1015.6 2214.0 1015.6 2213.5 1009.4 2213.0 1009.1 2212.5 1006.4 2212.0 1019.9 2211.5 1014.0 2211.0 1007.4 2210.5 1018.0 2210.0 1009.6 2209.5 1013.1 2209.0 1003.3 2208.5 1007.5 2208.0 1015.9 2207.5 1014.0 2207.0 1007.7 2206.5 1015.4 2206.0 1016.9 2205.5 1003.6 2205.0 1016.1 2204.5 1019.4 2204.0 1016.2 2203.5 1014.7 2203.0 1010.0 2202.5 1021.3 2202.0 1008.9 2201.5 1006.7 2201.0 1016.6 2200.5 1020.8 2200.0 1014.6 2199.5 1024.2 2199.0 1011.5 2198.5 1016.4 2198.0 1021.3 2197.5 1016.9 2197.0 1012.0 2196.5 1011.4 2196.0 1014.0 2195.5 1012.0 2195.0 1009.7 2194.5 1015.7 2194.0 1009.8 2193.5 1015.2 2193.0 1012.6 2192.5 1018.7 2192.0 1017.3 2191.5 1012.0 2191.0 1014.3 2190.5 1002.6 2190.0 1015.6 2189.5 998.7 2189.0 1004.7 2188.5 1012.9 2188.0 1000.1 2187.5 1010.3 2187.0 1010.2 2186.5 1015.8 2186.0 1018.7 2185.5 1007.8 2185.0 1015.8 2184.5 1014.0 2184.0 1012.4 2183.5 1018.3 2183.0 1019.5 2182.5 1012.6 2182.0 1002.4 2181.5 1015.5 2181.0 1013.4 2180.5 1015.5 2180.0 1010.2 2179.5 1012.3 2179.0 1001.9 2178.5 1016.7 2178.0 1019.9 2177.5 1006.1 2177.0 1018.2 2176.5 1008.8 2176.0 1014.0 2175.5 1014.7 2175.0 1008.5 2174.5 1015.0 2174.0 1014.5 2173.5 1006.5 2173.0 1014.8 2172.5 1019.8 2172.0 1021.0 2171.5 1005.4 2171.0 1017.8 2170.5 1008.2 2170.0 1005.9 2169.5 1010.3 2169.0 1013.9 2168.5 1013.0 2168.0 1007.3 2167.5 1009.0 2167.0 1010.8 2166.5 1015.3 2166.0 1014.1 2165.5 1007.7 2165.0 999.2 2164.5 1002.9 2164.0 1001.0 2163.5 1009.8 2163.0 999.2 2162.5 1015.6 2162.0 1016.9 2161.5 1003.2 2161.0 1019.3 2160.5 1012.9 2160.0 1014.6 2159.5 1010.2 2159.0 1016.8 2158.5 1009.5 2158.0 1018.3 2157.5 1010.1 2157.0 1012.5 2156.5 1003.3 2156.0 1021.7 2155.5 1014.7 2155.0 1012.8 2154.5 1010.0 2154.0 1008.1 2153.5 1015.0 2153.0 1011.2 2152.5 1005.3 2152.0 1013.5 2151.5 1005.9 2151.0 1018.4 2150.5 1014.0 2150.0 1001.1 2149.5 1011.1 2149.0 1017.8 2148.5 1020.2 2148.0 1016.9 2147.5 1007.9 2147.0 1006.6 2146.5 1016.3 2146.0 1018.5 2145.5 1017.0 2145.0 1015.3 2144.5 1004.8 2144.0 1017.6 2143.5 1019.0 2143.0 1016.5 2142.5 1013.4 2142.0 1021.1 2141.5 1017.8 2141.0 1015.8 2140.5 1018.0 2140.0 1007.2 2139.5 1016.3 2139.0 1019.3 2138.5 1012.2 2138.0 1018.5 2137.5 1009.7 2137.0 1007.1 2136.5 1010.2 2136.0 1015.1 2135.5 1013.0 2135.0 1006.3 2134.5 1008.7 2134.0 1002.7 2133.5 1013.1 2133.0 1015.7 2132.5 997.0 2132.0 1015.8 2131.5 1016.2 2131.0 1007.9 2130.5 1017.8 2130.0 1010.8 2129.5 1010.1 2129.0 1010.5 2128.5 1010.6 2128.0 1010.9 2127.5 1018.1 2127.0 1008.5 2126.5 1017.5 2126.0 1017.2 2125.5 1017.8 2125.0 1008.1 2124.5 1008.8 2124.0 1015.4 2123.5 1001.3 2123.0 1005.7 2122.5 1016.2 2122.0 1015.2 2121.5 1014.1 2121.0 1006.1 2120.5 1006.3 2120.0 1002.7 2119.5 1011.2 2119.0 1006.4 2118.5 1012.4 2118.0 1006.2 2117.5 1015.8 2117.0 1004.7 2116.5 1012.7 2116.0 1011.9 2115.5 1011.5 2115.0 1013.3 2114.5 1011.1 2114.0 1013.9 2113.5 1019.3 2113.0 1012.3 2112.5 1003.9 2112.0 1013.3 2111.5 1016.2 2111.0 1015.0 2110.5 1013.0 2110.0 1017.3 2109.5 1010.3 2109.0 1011.7 2108.5 1018.5 2108.0 1003.0 2107.5 1017.9 2107.0 1006.8 2106.5 1016.3 2106.0 1006.4 2105.5 1013.8 2105.0 1012.6 2104.5 1010.5 2104.0 1012.1 2103.5 1018.7 2103.0 1019.6 2102.5 1017.6 2102.0 1009.1 2101.5 1008.2 2101.0 1009.3 2100.5 1011.7 2100.0 1016.0 2099.5 1004.1 2099.0 1002.1 2098.5 1015.3 2098.0 1015.9 2097.5 1009.7 2097.0 1006.6 2096.5 1014.7 2096.0 1002.6 2095.5 1012.6 2095.0 1015.8 2094.5 1006.1 2094.0 1012.4 2093.5 1014.6 2093.0 1020.1 2092.5 1018.7 2092.0 1005.5 2091.5 1012.0 2091.0 1003.2 2090.5 1009.7 2090.0 1007.9 2089.5 1017.0 2089.0 1014.5 2088.5 1009.2 2088.0 1004.8 2087.5 1013.3 2087.0 1016.5 2086.5 1007.9 2086.0 1011.4 2085.5 1009.0 2085.0 1012.9 2084.5 1013.9 2084.0 1015.4 2083.5 1003.8 2083.0 1011.4 2082.5 1009.9 2082.0 1014.0 2081.5 1008.6 2081.0 1013.6 2080.5 1016.7 2080.0 1014.3 2079.5 1011.6 2079.0 1014.1 2078.5 1016.9 2078.0 1000.6 2077.5 1016.6 2077.0 1015.8 2076.5 1017.9 2076.0 1014.6 2075.5 1013.3 2075.0 1020.5 2074.5 1017.1 2074.0 1004.1 2073.5 1015.8 2073.0 1017.0 2072.5 1011.1 2072.0 1004.9 2071.5 1010.0 2071.0 1007.7 2070.5 1014.0 2070.0 1008.4 2069.5 1014.7 2069.0 1018.5 2068.5 1005.4 2068.0 1015.8 2067.5 1015.9 2067.0 1017.1 2066.5 1019.4 2066.0 1019.3 2065.5 1012.4 2065.0 1019.0 2064.5 1014.0 2064.0 1016.8 2063.5 1014.0 2063.0 1018.6 2062.5 1005.7 2062.0 1017.4 2061.5 1016.9 2061.0 1021.4 2060.5 1010.6 2060.0 1021.7 2059.5 1024.6 2059.0 1014.4 2058.5 1026.1 2058.0 1018.5 2057.5 1022.3 2057.0 1025.8 2056.5 1008.3 2056.0 1017.2 2055.5 1009.8 2055.0 1011.0 2054.5 1020.6 2054.0 1018.0 2053.5 1023.6 2053.0 1003.5 2052.5 1012.5 2052.0 1019.9 2051.5 1011.3 2051.0 1006.5 2050.5 1017.6 2050.0 1016.0 2049.5 1016.2 2049.0 1016.2 2048.5 1022.1 2048.0 1017.4 2047.5 1006.1 2047.0 1017.9 2046.5 1011.3 2046.0 1016.4 2045.5 1019.6 2045.0 1022.7 2044.5 1020.5 2044.0 1022.2 2043.5 1010.2 2043.0 1012.9 2042.5 1008.8 2042.0 1008.8 2041.5 1022.0 2041.0 1012.8 2040.5 1017.9 2040.0 1014.3 2039.5 1023.4 2039.0 1023.3 2038.5 1017.5 2038.0 1019.5 2037.5 1011.5 2037.0 1020.7 2036.5 1021.8 2036.0 1019.3 2035.5 1009.2 2035.0 1004.4 2034.5 1014.2 2034.0 1010.0 2033.5 1015.3 2033.0 1010.8 2032.5 1004.4 2032.0 1003.6 2031.5 1001.6 2031.0 1013.9 2030.5 1010.8 2030.0 1006.5 2029.5 998.3 2029.0 1010.3 2028.5 1002.9 2028.0 1005.6 2027.5 1006.0 2027.0 1010.8 2026.5 1014.6 2026.0 1014.3 2025.5 1009.7 2025.0 997.0 2024.5 1013.1 2024.0 1012.3 2023.5 1009.0 2023.0 1012.5 2022.5 1006.9 2022.0 1013.4 2021.5 1016.7 2021.0 1012.6 2020.5 1009.9 2020.0 1017.2 2019.5 1007.2 2019.0 1016.9 2018.5 1002.8 2018.0 1012.8 2017.5 1015.8 2017.0 1010.8 2016.5 1017.4 2016.0 1004.6 2015.5 1018.6 2015.0 1010.9 2014.5 1015.1 2014.0 1022.4 2013.5 1009.5 2013.0 1022.4 2012.5 1021.7 2012.0 1022.0 2011.5 1010.3 2011.0 1018.8 2010.5 1018.3 2010.0 1016.6 2009.5 1023.6 2009.0 1011.7 2008.5 1016.9 2008.0 1021.0 2007.5 1014.8 2007.0 1023.1 2006.5 1020.4 2006.0 1012.4 2005.5 1014.1 2005.0 1014.4 2004.5 1019.4 2004.0 1012.5 2003.5 1018.0 2003.0 1012.3 2002.5 1007.3 2002.0 1020.0 2001.5 1014.5 2001.0 1016.6 2000.5 1015.2 2000.0 1016.0 1999.5 1020.8 1999.0 1019.5 1998.5 1018.2 1998.0 1011.7 1997.5 1017.7 1997.0 1013.0 1996.5 1022.5 1996.0 1009.4 1995.5 1019.4 1995.0 1015.8 1994.5 1014.6 1994.0 1009.8 1993.5 1013.5 1993.0 1007.6 1992.5 1012.9 1992.0 1008.4 1991.5 1011.8 1991.0 1011.0 1990.5 1015.4 1990.0 1020.8 1989.5 1011.4 1989.0 1016.2 1988.5 1014.8 1988.0 1021.6 1987.5 1005.2 1987.0 1021.0 1986.5 1014.0 1986.0 1024.8 1985.5 1025.5 1985.0 1025.3 1984.5 1019.3 1984.0 1022.2 1983.5 1024.4 1983.0 1024.1 1982.5 1029.0 1982.0 1018.5 1981.5 1030.0 1981.0 1025.6 1980.5 1013.0 1980.0 1012.4 1979.5 1029.2 1979.0 1029.9 1978.5 1021.0 1978.0 1021.1 1977.5 1027.6 1977.0 1016.3 1976.5 1020.1 1976.0 1024.7 1975.5 1021.3 1975.0 1032.0 1974.5 1009.3 1974.0 1020.9 1973.5 1026.9 1973.0 1027.9 1972.5 1026.6 1972.0 1019.4 1971.5 1026.5 1971.0 1028.0 1970.5 1025.7 1970.0 1020.9 1969.5 1026.4 1969.0 1026.3 1968.5 1027.2 1968.0 1032.1 1967.5 1020.7 1967.0 1026.6 1966.5 1023.0 1966.0 1032.6 1965.5 1019.6 1965.0 1025.3 1964.5 1012.7 1964.0 1036.4 1963.5 1022.1 1963.0 1035.2 1962.5 1028.1 1962.0 1023.8 1961.5 1035.8 1961.0 1025.5 1960.5 1019.1 1960.0 1028.0 1959.5 1018.1 1959.0 1034.0 1958.5 1026.7 1958.0 1020.2 1957.5 1031.6 1957.0 1024.7 1956.5 1033.0 1956.0 1022.3 1955.5 1024.9 1955.0 1037.1 1954.5 1029.3 1954.0 1019.3 1953.5 1031.0 1953.0 1025.1 1952.5 1024.4 1952.0 1025.8 1951.5 1027.0 1951.0 1022.9 1950.5 1035.3 1950.0 1030.1 1949.5 1032.9 1949.0 1029.8 1948.5 1036.6 1948.0 1012.8 1947.5 1027.9 1947.0 1021.6 1946.5 1034.7 1946.0 1019.8 1945.5 1035.6 1945.0 1017.0 1944.5 1015.2 1944.0 1016.8 1943.5 1027.9 1943.0 1023.9 1942.5 1020.8 1942.0 1033.0 1941.5 1027.9 1941.0 1025.8 1940.5 1020.6 1940.0 1034.8 1939.5 1028.0 1939.0 1013.8 1938.5 1029.1 1938.0 1022.0 1937.5 1019.2 1937.0 1025.2 1936.5 1032.5 1936.0 1032.2 1935.5 1023.6 1935.0 1026.6 1934.5 1023.0 1934.0 1029.5 1933.5 1023.8 1933.0 1021.4 1932.5 1014.9 1932.0 1012.7 1931.5 1021.9 1931.0 1020.7 1930.5 1012.5 1930.0 1027.0 1929.5 1023.1 1929.0 1010.6 1928.5 1018.0 1928.0 1008.5 1927.5 1020.8 1927.0 1018.8 1926.5 1020.0 1926.0 1025.7 1925.5 1009.4 1925.0 1026.2 1924.5 1015.1 1924.0 1010.6 1923.5 1009.8 1923.0 1009.4 1922.5 1018.1 1922.0 1026.9 1921.5 1026.6 1921.0 1030.1 1920.5 1020.8 1920.0 1016.1 1919.5 1016.1 1919.0 1025.9 1918.5 1033.1 1918.0 1030.4 1917.5 1029.7 1917.0 1032.8 1916.5 1030.5 1916.0 1024.5 1915.5 1018.3 1915.0 1023.6 1914.5 1031.2 1914.0 1036.7 1913.5 1024.3 1913.0 1033.9 1912.5 1024.4 1912.0 1025.3 1911.5 1025.4 1911.0 1029.2 1910.5 1033.3 1910.0 1028.0 1909.5 1024.1 1909.0 1028.7 1908.5 1018.5 1908.0 1019.3 1907.5 1022.6 1907.0 1029.1 1906.5 1022.1 1906.0 1029.9 1905.5 1024.8 1905.0 1029.6 1904.5 1025.4 1904.0 1011.6 1903.5 1011.9 1903.0 1024.5 1902.5 1021.5 1902.0 1015.2 1901.5 1020.2 1901.0 1028.8 1900.5 1017.6 1900.0 1027.5 1899.5 1017.3 1899.0 1022.3 1898.5 1036.9 1898.0 1025.2 1897.5 1028.2 1897.0 1026.8 1896.5 1025.5 1896.0 1039.5 1895.5 1041.4 1895.0 1041.3 1894.5 1033.1 1894.0 1034.4 1893.5 1036.0 1893.0 1038.9 1892.5 1025.5 1892.0 1023.8 1891.5 1028.9 1891.0 1027.9 1890.5 1042.9 1890.0 1027.1 1889.5 1045.5 1889.0 1029.0 1888.5 1033.3 1888.0 1039.4 1887.5 1038.6 1887.0 1028.7 1886.5 1035.3 1886.0 1026.2 1885.5 1036.2 1885.0 1026.2 1884.5 1034.8 1884.0 1032.3 1883.5 1011.7 1883.0 1027.2 1882.5 1023.6 1882.0 1020.5 1881.5 1021.9 1881.0 1019.5 1880.5 1030.8 1880.0 1019.3 1879.5 1016.8 1879.0 1015.2 1878.5 1020.0 1878.0 1023.6 1877.5 1026.5 1877.0 1024.3 1876.5 1022.6 1876.0 1017.1 1875.5 1025.4 1875.0 1020.9 1874.5 1019.9 1874.0 1026.2 1873.5 1016.0 1873.0 1021.5 1872.5 1020.1 1872.0 1019.2 1871.5 1023.6 1871.0 1019.6 1870.5 1011.4 1870.0 1022.8 1869.5 1023.2 1869.0 1014.9 1868.5 1024.5 1868.0 1016.7 1867.5 1023.1 1867.0 1018.4 1866.5 1026.4 1866.0 1023.9 1865.5 1025.8 1865.0 1026.4 1864.5 1033.8 1864.0 1029.0 1863.5 1036.5 1863.0 1032.8 1862.5 1032.4 1862.0 1031.1 1861.5 1021.3 1861.0 1034.2 1860.5 1031.2 1860.0 1024.7 1859.5 1015.5 1859.0 1030.4 1858.5 1026.6 1858.0 1016.3 1857.5 1009.9 1857.0 1025.6 1856.5 1023.9 1856.0 1015.8 1855.5 1033.2 1855.0 1028.5 1854.5 1027.1 1854.0 1012.4 1853.5 1008.7 1853.0 1012.6 1852.5 1033.7 1852.0 1031.2 1851.5 1023.3 1851.0 1028.0 1850.5 1033.8 1850.0 1025.8 1849.5 1031.1 1849.0 1015.1 1848.5 1034.5 1848.0 1035.1 1847.5 1026.2 1847.0 1037.0 1846.5 1030.1 1846.0 1036.8 1845.5 1027.6 1845.0 1040.8 1844.5 1030.7 1844.0 1035.6 1843.5 1039.6 1843.0 1036.9 1842.5 1031.6 1842.0 1034.0 1841.5 1038.4 1841.0 1025.8 1840.5 1035.0 1840.0 1023.5 1839.5 1042.4 1839.0 1036.7 1838.5 1031.1 1838.0 1039.2 1837.5 1024.6 1837.0 1031.2 1836.5 1036.3 1836.0 1032.5 1835.5 1034.0 1835.0 1035.3 1834.5 1022.8 1834.0 1029.1 1833.5 1032.0 1833.0 1014.7 1832.5 1026.8 1832.0 1020.8 1831.5 1033.1 1831.0 1016.9 1830.5 1025.3 1830.0 1013.6 1829.5 1025.6 1829.0 1016.8 1828.5 1027.7 1828.0 1020.7 1827.5 1023.2 1827.0 1026.6 1826.5 1026.8 1826.0 1031.8 1825.5 1031.3 1825.0 1024.7 1824.5 1019.4 1824.0 1025.7 1823.5 1027.9 1823.0 1029.3 1822.5 1018.1 1822.0 1012.8 1821.5 1023.9 1821.0 1025.2 1820.5 1030.8 1820.0 1025.5 1819.5 1017.5 1819.0 1025.0 1818.5 1026.8 1818.0 1024.3 1817.5 1027.1 1817.0 1035.6 1816.5 1033.7 1816.0 1030.0 1815.5 1018.6 1815.0 1035.9 1814.5 1028.9 1814.0 1028.1 1813.5 1032.2 1813.0 1032.4 1812.5 1022.7 1812.0 1022.3 1811.5 1041.4 1811.0 1031.6 1810.5 1035.2 1810.0 1031.8 1809.5 1032.2 1809.0 1041.5 1808.5 1022.0 1808.0 1040.6 1807.5 1031.4 1807.0 1031.4 1806.5 1040.4 1806.0 1024.2 1805.5 1028.9 1805.0 1021.6 1804.5 1028.2 1804.0 1040.9 1803.5 1026.7 1803.0 1032.6 1802.5 1020.4 1802.0 1026.4 1801.5 1021.1 1801.0 1024.3 1800.5 1025.1 1800.0 1030.1 1799.5 1014.7 1799.0 1025.1 1798.5 1023.9 1798.0 1010.9 1797.5 1016.5 1797.0 1020.1 1796.5 1016.1 1796.0 1018.8 1795.5 1007.1 1795.0 1009.4 1794.5 1017.1 1794.0 1017.1 1793.5 1022.4 1793.0 1024.8 1792.5 1022.3 1792.0 1024.6 1791.5 1024.8 1791.0 1025.4 1790.5 1016.1 1790.0 1018.5 1789.5 1024.0 1789.0 1013.5 1788.5 1016.8 1788.0 1013.7 1787.5 1005.4 1787.0 995.0 1786.5 993.0 1786.0 1016.6 1785.5 1019.7 1785.0 992.2 1784.5 1005.2 1784.0 998.2 1783.5 1007.0 1783.0 1011.1 1782.5 1015.4 1782.0 1020.6 1781.5 1020.9 1781.0 1021.2 1780.5 1009.3 1780.0 1024.3 1779.5 1010.8 1779.0 1017.7 1778.5 1011.3 1778.0 1023.7 1777.5 1024.2 1777.0 1017.0 1776.5 1024.7 1776.0 1016.4 1775.5 1024.0 1775.0 1007.5 1774.5 1024.1 1774.0 1030.1 1773.5 1029.0 1773.0 1023.3 1772.5 1016.9 1772.0 1021.1 1771.5 1032.9 1771.0 1017.0 1770.5 1028.0 1770.0 1028.9 1769.5 1029.9 1769.0 1027.5 1768.5 1032.5 1768.0 1021.3 1767.5 1020.2 1767.0 1027.0 1766.5 1027.8 1766.0 1033.2 1765.5 1034.2 1765.0 1011.9 1764.5 1034.4 1764.0 1009.8 1763.5 1021.4 1763.0 1012.7 1762.5 1021.4 1762.0 1002.0 1761.5 1025.0 1761.0 1004.1 1760.5 992.3 1760.0 1007.1 1759.5 997.6 1759.0 1011.6 1758.5 1010.9 1758.0 1002.8 1757.5 994.8 1757.0 998.4 1756.5 978.1 1756.0 991.9 1755.5 978.8 1755.0 1004.1 1754.5 984.8 1754.0 1005.6 1753.5 994.7 1753.0 1006.5 1752.5 1001.9 1752.0 995.4 1751.5 991.7 1751.0 983.4 1750.5 987.6 1750.0 997.0 1749.5 1001.3 1749.0 991.0 1748.5 1006.4 1748.0 1005.1 1747.5 999.7 1747.0 1007.3 1746.5 990.3 1746.0 1008.3 1745.5 987.7 1745.0 1009.2 1744.5 1011.5 1744.0 1019.1 1743.5 1013.9 1743.0 1012.8 1742.5 1014.1 1742.0 1007.8 1741.5 1017.0 1741.0 1018.2 1740.5 1010.4 1740.0 1015.5 1739.5 1015.3 1739.0 1010.1 1738.5 1014.1 1738.0 1003.3 1737.5 1007.8 1737.0 1013.0 1736.5 1011.5 1736.0 1003.2 1735.5 995.8 1735.0 1011.9 1734.5 999.5 1734.0 1005.5 1733.5 1016.0 1733.0 1015.1 1732.5 1018.2 1732.0 1022.7 1731.5 1019.9 1731.0 1022.7 1730.5 1016.1 1730.0 1023.0 1729.5 1019.7 1729.0 1026.1 1728.5 1016.1 1728.0 1008.8 1727.5 1000.6 1727.0 1018.5 1726.5 1017.3 1726.0 1011.1 1725.5 1004.1 1725.0 1005.9 1724.5 1011.0 1724.0 992.2 1723.5 1003.0 1723.0 1003.4 1722.5 1014.1 1722.0 1015.6 1721.5 1008.7 1721.0 1003.9 1720.5 1009.4 1720.0 1012.9 1719.5 1008.5 1719.0 1004.9 1718.5 995.3 1718.0 1011.8 1717.5 1010.3 1717.0 1012.9 1716.5 997.1 1716.0 1013.4 1715.5 1008.6 1715.0 1007.6 1714.5 999.7 1714.0 1007.1 1713.5 1005.9 1713.0 1010.5 1712.5 1001.5 1712.0 1010.7 1711.5 1011.3 1711.0 1003.6 1710.5 1007.7 1710.0 1003.1 1709.5 995.7 1709.0 1011.0 1708.5 995.4 1708.0 1008.3 1707.5 1004.3 1707.0 1019.6 1706.5 1018.8 1706.0 1018.8 1705.5 1019.2 1705.0 1025.8 1704.5 1027.6 1704.0 1019.1 1703.5 1023.2 1703.0 1018.1 1702.5 1021.4 1702.0 1028.6 1701.5 1018.2 1701.0 1015.6 1700.5 1029.7 1700.0 1028.8 1699.5 1029.6 1699.0 1033.8 1698.5 1033.3 1698.0 1028.1 1697.5 1032.4 1697.0 1028.4 1696.5 1029.4 1696.0 1020.6 1695.5 1009.4 1695.0 1013.1 1694.5 1021.4 1694.0 1012.6 1693.5 1022.2 1693.0 998.8 1692.5 1002.0 1692.0 993.5 1691.5 1000.9 1691.0 1011.0 1690.5 1001.0 1690.0 998.4 1689.5 1000.6 1689.0 1003.7 1688.5 1002.8 1688.0 999.5 1687.5 996.4 1687.0 1001.7 1686.5 991.0 1686.0 993.6 1685.5 999.8 1685.0 984.0 1684.5 993.3 1684.0 1003.7 1683.5 979.0 1683.0 1002.9 1682.5 1000.7 1682.0 998.6 1681.5 1003.4 1681.0 980.1 1680.5 996.4 1680.0 1002.3 1679.5 979.7 1679.0 1001.4 1678.5 985.4 1678.0 1001.1 1677.5 996.5 1677.0 981.7 1676.5 998.1 1676.0 997.3 1675.5 996.3 1675.0 1002.4 1674.5 992.4 1674.0 1005.5 1673.5 1003.4 1673.0 994.3 1672.5 999.4 1672.0 1002.2 1671.5 1012.2 1671.0 990.0 1670.5 995.8 1670.0 1004.3 1669.5 1018.2 1669.0 1008.1 1668.5 1009.2 1668.0 1003.3 1667.5 1006.6 1667.0 1014.4 1666.5 1012.1 1666.0 1005.2 1665.5 1004.7 1665.0 997.8 1664.5 1014.6 1664.0 997.8 1663.5 1013.1 1663.0 1007.1 1662.5 1016.1 1662.0 999.8 1661.5 996.0 1661.0 1002.9 1660.5 1012.7 1660.0 1003.9 1659.5 1009.4 1659.0 989.0 1658.5 983.7 1658.0 1010.9 1657.5 991.5 1657.0 990.1 1656.5 1006.2 1656.0 1007.2 1655.5 989.0 1655.0 988.4 1654.5 989.5 1654.0 983.2 1653.5 980.3 1653.0 989.2 1652.5 998.6 1652.0 976.2 1651.5 975.3 1651.0 984.3 1650.5 986.9 1650.0 967.2 1649.5 974.0 1649.0 979.6 1648.5 968.3 1648.0 980.0 1647.5 973.0 1647.0 976.2 1646.5 982.0 1646.0 971.7 1645.5 959.8 1645.0 986.2 1644.5 967.0 1644.0 964.7 1643.5 983.3 1643.0 999.4 1642.5 994.9 1642.0 995.8 1641.5 1006.5 1641.0 981.9 1640.5 1007.2 1640.0 1005.6 1639.5 1006.8 1639.0 1013.6 1638.5 1002.1 1638.0 1016.7 1637.5 1023.8 1637.0 1022.2 1636.5 1022.3 1636.0 1019.3 1635.5 1027.3 1635.0 1011.3 1634.5 1005.4 1634.0 1015.2 1633.5 1013.9 1633.0 1015.4 1632.5 1023.5 1632.0 1007.9 1631.5 1011.4 1631.0 1005.8 1630.5 1010.9 1630.0 1023.9 1629.5 1025.8 1629.0 1021.0 1628.5 1019.3 1628.0 1015.8 1627.5 1021.0 1627.0 1013.9 1626.5 1022.6 1626.0 1016.8 1625.5 1004.8 1625.0 1022.5 1624.5 1013.1 1624.0 1007.3 1623.5 1025.6 1623.0 1022.6 1622.5 1014.5 1622.0 1011.9 1621.5 1006.7 1621.0 1025.6 1620.5 1003.9 1620.0 1025.3 1619.5 1018.0 1619.0 1014.0 1618.5 1015.3 1618.0 1009.0 1617.5 1007.1 1617.0 1003.2 1616.5 1014.4 1616.0 1012.7 1615.5 1018.2 1615.0 1017.1 1614.5 1021.6 1614.0 1019.2 1613.5 1022.4 1613.0 1027.8 1612.5 1015.4 1612.0 1028.6 1611.5 1023.5 1611.0 1019.4 1610.5 1033.8 1610.0 1032.3 1609.5 1027.7 1609.0 1018.3 1608.5 1018.8 1608.0 1013.8 1607.5 998.8 1607.0 1008.5 1606.5 992.9 1606.0 996.6 1605.5 1001.0 1605.0 1018.9 1604.5 1003.2 1604.0 1018.0 1603.5 1014.6 1603.0 997.3 1602.5 1003.2 1602.0 1010.3 1601.5 990.4 1601.0 1005.1 1600.5 985.0 1600.0 987.9 1599.5 983.7 1599.0 1000.6 1598.5 1004.9 1598.0 989.9 1597.5 991.7 1597.0 1000.4 1596.5 1010.5 1596.0 1000.7 1595.5 1001.2 1595.0 987.2 1594.5 1003.8 1594.0 1010.1 1593.5 998.5 1593.0 1002.4 1592.5 1006.4 1592.0 1000.9 1591.5 1013.5 1591.0 1004.7 1590.5 1014.2 1590.0 1013.1 1589.5 1013.8 1589.0 1005.7 1588.5 1009.0 1588.0 997.7 1587.5 1001.0 1587.0 1004.8 1586.5 1005.6 1586.0 1000.5 1585.5 992.7 1585.0 1007.3 1584.5 1005.8 1584.0 1004.5 1583.5 982.1 1583.0 992.8 1582.5 1007.5 1582.0 984.8 1581.5 1001.9 1581.0 1003.0 1580.5 998.3 1580.0 990.9 1579.5 1005.6 1579.0 996.9 1578.5 1003.9 1578.0 1003.8 1577.5 986.9 1577.0 1006.0 1576.5 998.7 1576.0 1001.8 1575.5 1008.4 1575.0 1007.1 1574.5 1007.1 1574.0 1003.7 1573.5 1003.1 1573.0 1007.2 1572.5 994.4 1572.0 1002.2 1571.5 993.9 1571.0 998.6 1570.5 1005.1 1570.0 997.9 1569.5 1015.6 1569.0 1014.9 1568.5 1000.3 1568.0 994.2 1567.5 1008.6 1567.0 1005.7 1566.5 1008.3 1566.0 979.1 1565.5 1000.5 1565.0 977.9 1564.5 1002.8 1564.0 992.6 1563.5 1001.6 1563.0 993.8 1562.5 995.5 1562.0 980.7 1561.5 984.5 1561.0 978.8 1560.5 972.9 1560.0 986.4 1559.5 976.1 1559.0 967.0 1558.5 973.4 1558.0 983.4 1557.5 990.6 1557.0 989.7 1556.5 977.0 1556.0 974.9 1555.5 995.5 1555.0 979.1 1554.5 977.1 1554.0 1001.8 1553.5 977.1 1553.0 1008.1 1552.5 1006.4 1552.0 998.0 1551.5 1002.8 1551.0 1011.1 1550.5 1002.8 1550.0 999.9 1549.5 1009.2 1549.0 1003.6 1548.5 1009.2 1548.0 1015.8 1547.5 1010.6 1547.0 1015.4 1546.5 1016.5 1546.0 1001.7 1545.5 1024.6 1545.0 1009.1 1544.5 1018.2 1544.0 999.7 1543.5 1011.8 1543.0 1005.7 1542.5 1004.6 1542.0 1011.2 1541.5 1009.1 1541.0 994.4 1540.5 1006.5 1540.0 996.3 1539.5 1004.1 1539.0 1004.5 1538.5 1010.5 1538.0 1002.0 1537.5 1012.9 1537.0 999.0 1536.5 993.6 1536.0 1009.1 1535.5 988.5 1535.0 986.8 1534.5 990.8 1534.0 1012.3 1533.5 1004.9 1533.0 1006.1 1532.5 1007.6 1532.0 1008.0 1531.5 992.3 1531.0 1001.0 1530.5 1005.1 1530.0 1011.6 1529.5 1006.9 1529.0 1002.7 1528.5 996.9 1528.0 1016.9 1527.5 1004.2 1527.0 1006.8 1526.5 1018.8 1526.0 1006.0 1525.5 1013.4 1525.0 1020.0 1524.5 1002.8 1524.0 1013.0 1523.5 1011.2 1523.0 1020.4 1522.5 1024.7 1522.0 1017.1 1521.5 1004.4 1521.0 1020.8 1520.5 1018.3 1520.0 1016.6 1519.5 1022.6 1519.0 1006.8 1518.5 1007.0 1518.0 1022.0 1517.5 1022.7 1517.0 1014.5 1516.5 1022.0 1516.0 1022.8 1515.5 1009.1 1515.0 1016.5 1514.5 1007.6 1514.0 1018.2 1513.5 1014.9 1513.0 1004.2 1512.5 1023.0 1512.0 1020.8 1511.5 1022.0 1511.0 1024.5 1510.5 1020.4 1510.0 1013.3 1509.5 1003.3 1509.0 1018.6 1508.5 1012.8 1508.0 1018.6 1507.5 1011.0 1507.0 1009.2 1506.5 1006.1 1506.0 997.5 1505.5 1020.6 1505.0 1017.4 1504.5 1001.6 1504.0 1005.1 1503.5 1013.9 1503.0 1008.5 1502.5 1013.0 1502.0 995.5 1501.5 1013.9 1501.0 1011.1 1500.5 1002.3 1500.0 1017.0 1499.5 1001.5 1499.0 1011.0 1498.5 999.5 1498.0 1013.1 1497.5 1013.5 1497.0 1020.2 1496.5 1011.7 1496.0 1016.8 1495.5 1023.3 1495.0 1017.2 1494.5 1012.7 1494.0 1007.3 1493.5 1004.4 1493.0 1018.9 1492.5 1011.7 1492.0 1011.5 1491.5 1020.7 1491.0 1010.9 1490.5 1018.3 1490.0 1022.9 1489.5 1010.3 1489.0 1015.5 1488.5 1020.3 1488.0 1023.7 1487.5 1010.9 1487.0 1008.7 1486.5 1018.6 1486.0 1011.1 1485.5 1011.6 1485.0 1017.9 1484.5 1003.0 1484.0 1011.6 1483.5 998.5 1483.0 1005.0 1482.5 1007.3 1482.0 1010.1 1481.5 1002.5 1481.0 1008.2 1480.5 1015.5 1480.0 1002.1 1479.5 1000.1 1479.0 1011.6 1478.5 1001.6 1478.0 1000.6 1477.5 1003.0 1477.0 991.8 1476.5 1002.2 1476.0 991.0 1475.5 1004.5 1475.0 1009.6 1474.5 996.2 1474.0 1003.1 1473.5 1006.1 1473.0 1008.1 1472.5 997.9 1472.0 1009.7 1471.5 1019.0 1471.0 1004.3 1470.5 1014.3 1470.0 999.2 1469.5 1011.9 1469.0 998.3 1468.5 1014.5 1468.0 1004.2 1467.5 1012.5 1467.0 1000.1 1466.5 999.5 1466.0 1011.3 1465.5 1010.8 1465.0 993.0 1464.5 1013.0 1464.0 1000.9 1463.5 1001.8 1463.0 1002.2 1462.5 1000.9 1462.0 993.6 1461.5 977.4 1461.0 965.5 1460.5 1002.8 1460.0 997.0 1459.5 990.1 1459.0 981.4 1458.5 982.3 1458.0 995.7 1457.5 1006.7 1457.0 1001.8 1456.5 988.8 1456.0 1006.2 1455.5 1004.4 1455.0 1004.8 1454.5 1007.1 1454.0 994.0 1453.5 1007.7 1453.0 997.2 1452.5 988.5 1452.0 1013.0 1451.5 1004.1 1451.0 1017.6 1450.5 1012.2 1450.0 987.4 1449.5 1013.8 1449.0 1014.3 1448.5 1008.6 1448.0 1011.5 1447.5 1006.5 1447.0 1015.0 1446.5 1012.4 1446.0 1014.4 1445.5 1015.5 1445.0 1014.2 1444.5 1020.7 1444.0 1009.5 1443.5 1017.3 1443.0 1018.5 1442.5 1007.7 1442.0 998.3 1441.5 992.9 1441.0 1010.0 1440.5 997.6 1440.0 974.7 1439.5 999.2 1439.0 982.6 1438.5 971.6 1438.0 996.5 1437.5 983.8 1437.0 980.7 1436.5 997.2 1436.0 987.8 1435.5 988.4 1435.0 1005.4 1434.5 988.9 1434.0 985.7 1433.5 1010.5 1433.0 997.0 1432.5 986.8 1432.0 999.2 1431.5 999.7 1431.0 986.5 1430.5 1001.4 1430.0 994.9 1429.5 991.3 1429.0 985.7 1428.5 1002.0 1428.0 996.4 1427.5 996.5 1427.0 990.4 1426.5 979.8 1426.0 993.0 1425.5 989.2 1425.0 983.3 1424.5 997.5 1424.0 1003.3 1423.5 1005.3 1423.0 1008.2 1422.5 990.7 1422.0 1008.0 1421.5 987.1 1421.0 1010.7 1420.5 1003.8 1420.0 1001.2 1419.5 1004.8 1419.0 1012.6 1418.5 1001.9 1418.0 998.9 1417.5 1010.0 1417.0 1009.2 1416.5 1016.4 1416.0 994.3 1415.5 1013.3 1415.0 1013.6 1414.5 1016.3 1414.0 1000.4 1413.5 1017.7 1413.0 997.5 1412.5 1006.2 1412.0 1011.1 1411.5 1010.4 1411.0 997.7 1410.5 999.2 1410.0 1009.2 1409.5 1002.3 1409.0 1006.8 1408.5 1014.8 1408.0 995.9 1407.5 1010.4 1407.0 1008.2 1406.5 1013.4 1406.0 1011.5 1405.5 998.7 1405.0 1002.9 1404.5 1011.4 1404.0 1019.7 1403.5 1022.5 1403.0 1023.9 1402.5 1003.2 1402.0 1016.0 1401.5 999.0 1401.0 1001.2 1400.5 1019.7 1400.0 1006.5 1399.5 1011.5 1399.0 1003.1 1398.5 1005.9 1398.0 1000.0 1397.5 1007.7 1397.0 994.2 1396.5 1005.4 1396.0 1002.7 1395.5 994.6 1395.0 996.3 1394.5 984.1 1394.0 986.9 1393.5 1006.8 1393.0 983.4 1392.5 993.9 1392.0 1002.1 1391.5 988.2 1391.0 991.2 1390.5 1003.8 1390.0 1013.9 1389.5 1004.5 1389.0 1013.6 1388.5 1013.5 1388.0 1013.5 1387.5 1001.7 1387.0 995.2 1386.5 1013.2 1386.0 1006.0 1385.5 1011.8 1385.0 1012.5 1384.5 1007.1 1384.0 1002.4 1383.5 1002.9 1383.0 1016.9 1382.5 1015.7 1382.0 1018.5 1381.5 1018.5 1381.0 1010.5 1380.5 1013.9 1380.0 996.0 1379.5 1014.5 1379.0 1005.4 1378.5 1009.8 1378.0 1011.9 1377.5 1007.7 1377.0 1018.4 1376.5 1015.9 1376.0 1004.2 1375.5 1016.9 1375.0 1013.5 1374.5 1021.8 1374.0 1015.1 1373.5 1023.1 1373.0 1004.4 1372.5 1001.8 1372.0 1015.1 1371.5 1025.4 1371.0 1017.8 1370.5 998.9 1370.0 1023.7 1369.5 1022.9 1369.0 1008.7 1368.5 1000.8 1368.0 1023.1 1367.5 1016.6 1367.0 990.6 1366.5 1017.4 1366.0 1011.4 1365.5 988.0 1365.0 999.6 1364.5 982.9 1364.0 984.2 1363.5 1001.0 1363.0 963.2 1362.5 979.0 1362.0 961.6 1361.5 985.8 1361.0 974.6 1360.5 1001.4 1360.0 987.8 1359.5 989.2 1359.0 992.3 1358.5 998.7 1358.0 998.7 1357.5 1002.9 1357.0 1010.7 1356.5 1011.2 1356.0 1017.6 1355.5 1004.6 1355.0 1016.4 1354.5 1015.3 1354.0 1014.3 1353.5 1019.2 1353.0 1015.5 1352.5 1023.7 1352.0 1014.2 1351.5 1004.6 1351.0 1018.7 1350.5 1019.3 1350.0 1012.8 1349.5 1007.4 1349.0 1006.7 1348.5 1000.8 1348.0 1016.0 1347.5 1017.5 1347.0 1024.5 1346.5 1018.1 1346.0 1019.9 1345.5 1021.7 1345.0 1017.0 1344.5 1014.3 1344.0 1014.7 1343.5 1000.2 1343.0 1015.5 1342.5 1011.6 1342.0 1019.4 1341.5 1001.9 1341.0 1008.6 1340.5 1008.7 1340.0 1006.8 1339.5 1017.0 1339.0 1010.4 1338.5 1005.9 1338.0 1016.1 1337.5 1008.4 1337.0 998.7 1336.5 998.6 1336.0 996.9 1335.5 998.9 1335.0 1011.2 1334.5 999.3 1334.0 986.1 1333.5 1000.2 1333.0 1007.0 1332.5 1005.7 1332.0 980.7 1331.5 1006.5 1331.0 1006.1 1330.5 1002.6 1330.0 983.3 1329.5 1003.3 1329.0 992.9 1328.5 1012.0 1328.0 1000.1 1327.5 1016.4 1327.0 989.2 1326.5 1012.4 1326.0 997.8 1325.5 1020.0 1325.0 1009.5 1324.5 998.8 1324.0 1012.9 1323.5 1015.3 1323.0 1018.7 1322.5 1001.6 1322.0 1025.9 1321.5 1017.3 1321.0 1016.6 1320.5 1018.1 1320.0 1024.7 1319.5 1012.1 1319.0 1027.9 1318.5 1012.4 1318.0 1027.2 1317.5 1008.6 1317.0 1013.2 1316.5 1023.7 1316.0 1013.9 1315.5 1013.7 1315.0 1022.6 1314.5 1018.3 1314.0 1018.5 1313.5 1020.5 1313.0 1017.8 1312.5 1020.6 1312.0 1019.0 1311.5 1020.9 1311.0 1019.6 1310.5 1019.4 1310.0 1016.2 1309.5 993.8 1309.0 997.9 1308.5 1004.6 1308.0 1001.8 1307.5 1001.3 1307.0 994.9 1306.5 976.6 1306.0 990.2 1305.5 988.8 1305.0 962.9 1304.5 965.3 1304.0 970.4 1303.5 975.5 1303.0 972.6 1302.5 960.5 1302.0 957.0 1301.5 960.7 1301.0 950.1 1300.5 955.7 1300.0 961.9 1299.5 959.5 1299.0 980.4 1298.5 980.8 1298.0 973.8 1297.5 982.2 1297.0 971.9 1296.5 978.8 1296.0 980.9 1295.5 990.5 1295.0 983.0 1294.5 1001.1 1294.0 995.2 1293.5 1006.4 1293.0 1012.4 1292.5 1008.1 1292.0 1000.4 1291.5 1005.6 1291.0 1002.6 1290.5 1009.3 1290.0 1021.8 1289.5 1009.5 1289.0 1022.2 1288.5 1018.3 1288.0 1018.5 1287.5 1026.0 1287.0 1017.0 1286.5 1017.4 1286.0 1008.0 1285.5 1019.7 1285.0 1025.5 1284.5 1023.4 1284.0 1018.9 1283.5 1023.3 1283.0 1024.9 1282.5 1019.1 1282.0 1018.6 1281.5 1005.1 1281.0 1010.8 1280.5 1012.5 1280.0 1009.1 1279.5 1009.1 1279.0 1014.3 1278.5 1002.4 1278.0 1008.7 1277.5 993.2 1277.0 997.4 1276.5 1010.3 1276.0 1019.2 1275.5 1019.6 1275.0 992.8 1274.5 1013.5 1274.0 1016.9 1273.5 996.8 1273.0 998.5 1272.5 1006.0 1272.0 1015.8 1271.5 1010.1 1271.0 1006.6 1270.5 1005.6 1270.0 1016.2 1269.5 1005.0 1269.0 1001.7 1268.5 1013.4 1268.0 1013.7 1267.5 1023.2 1267.0 1023.2 1266.5 1015.2 1266.0 1020.1 1265.5 1004.0 1265.0 1008.6 1264.5 1009.0 1264.0 1016.2 1263.5 988.0 1263.0 1014.9 1262.5 995.4 1262.0 1013.1 1261.5 1003.8 1261.0 993.9 1260.5 1007.8 1260.0 980.4 1259.5 974.9 1259.0 997.1 1258.5 1002.8 1258.0 975.3 1257.5 1003.7 1257.0 984.1 1256.5 992.6 1256.0 998.4 1255.5 984.2 1255.0 1004.4 1254.5 1005.1 1254.0 1001.5 1253.5 1009.2 1253.0 1011.3 1252.5 1005.2 1252.0 1013.0 1251.5 1004.8 1251.0 997.9 1250.5 1003.6 1250.0 1006.1 1249.5 1015.7 1249.0 1011.9 1248.5 1014.8 1248.0 1017.2 1247.5 1010.6 1247.0 1011.9 1246.5 1017.1 1246.0 1008.9 1245.5 1018.6 1245.0 1009.0 1244.5 1008.0 1244.0 1012.1 1243.5 1001.4 1243.0 1018.8 1242.5 1016.2 1242.0 1014.0 1241.5 1012.5 1241.0 1006.0 1240.5 1002.3 1240.0 1010.7 1239.5 1016.1 1239.0 1014.5 1238.5 1003.8 1238.0 1013.2 1237.5 1002.7 1237.0 1016.0 1236.5 1015.5 1236.0 995.4 1235.5 1010.2 1235.0 1000.6 1234.5 1011.6 1234.0 1000.2 1233.5 1014.5 1233.0 1013.7 1232.5 1019.2 1232.0 1014.4 1231.5 1019.3 1231.0 1015.4 1230.5 1024.7 1230.0 1017.1 1229.5 1019.0 1229.0 1014.2 1228.5 1016.6 1228.0 1008.2 1227.5 1009.7 1227.0 999.7 1226.5 1016.9 1226.0 998.4 1225.5 1009.1 1225.0 1006.8 1224.5 1004.6 1224.0 1004.2 1223.5 995.0 1223.0 1002.6 1222.5 1005.1 1222.0 983.2 1221.5 983.0 1221.0 992.8 1220.5 999.5 1220.0 979.9 1219.5 989.3 1219.0 992.4 1218.5 1004.9 1218.0 987.4 1217.5 981.5 1217.0 1002.6 1216.5 1004.1 1216.0 985.7 1215.5 1003.1 1215.0 989.9 1214.5 1007.5 1214.0 1000.8 1213.5 974.9 1213.0 995.5 1212.5 991.1 1212.0 1006.2 1211.5 996.1 1211.0 1016.3 1210.5 1015.5 1210.0 988.7 1209.5 1002.4 1209.0 1020.4 1208.5 1017.2 1208.0 1006.8 1207.5 1020.5 1207.0 1006.6 1206.5 1004.7 1206.0 1010.8 1205.5 1005.6 1205.0 1009.6 1204.5 1025.7 1204.0 1024.9 1203.5 1029.3 1203.0 1006.6 1202.5 1009.1 1202.0 1026.8 1201.5 1017.1 1201.0 1024.0 1200.5 1024.3 1200.0 1022.0 1199.5 1015.0 1199.0 1007.6 1198.5 1028.4 1198.0 1018.5 1197.5 1025.7 1197.0 1026.3 1196.5 1007.3 1196.0 1015.3 1195.5 1019.1 1195.0 1027.7 1194.5 1013.4 1194.0 1020.3 1193.5 1024.4 1193.0 1017.8 1192.5 1003.0 1192.0 1009.0 1191.5 1022.6 1191.0 1011.7 1190.5 1016.6 1190.0 1006.4 1189.5 1009.7 1189.0 1006.2 1188.5 1013.0 1188.0 1013.6 1187.5 1001.7 1187.0 987.8 1186.5 1011.7 1186.0 1002.6 1185.5 998.2 1185.0 1000.8 1184.5 1002.6 1184.0 1006.0 1183.5 995.9 1183.0 983.0 1182.5 985.7 1182.0 984.9 1181.5 973.0 1181.0 985.3 1180.5 971.8 1180.0 982.6 1179.5 973.0 1179.0 975.4 1178.5 973.4 1178.0 984.0 1177.5 978.6 1177.0 981.6 1176.5 975.6 1176.0 978.4 1175.5 969.2 1175.0 968.8 1174.5 976.3 1174.0 991.8 1173.5 977.3 1173.0 998.7 1172.5 986.0 1172.0 1000.6 1171.5 1002.7 1171.0 995.5 1170.5 999.2 1170.0 1013.4 1169.5 1004.1 1169.0 1010.8 1168.5 1009.4 1168.0 1015.5 1167.5 1009.2 1167.0 1007.1 1166.5 1017.0 1166.0 1016.6 1165.5 1008.4 1165.0 1006.9 1164.5 1018.5 1164.0 1001.0 1163.5 1003.5 1163.0 1012.4 1162.5 1013.8 1162.0 987.4 1161.5 992.0 1161.0 1005.6 1160.5 1004.1 1160.0 1014.0 1159.5 1016.9 1159.0 1017.5 1158.5 1009.2 1158.0 1018.3 1157.5 1016.2 1157.0 1013.0 1156.5 1016.0 1156.0 1015.3 1155.5 1010.3 1155.0 1019.2 1154.5 1010.6 1154.0 999.5 1153.5 1010.4 1153.0 1022.0 1152.5 1002.7 1152.0 1016.1 1151.5 1004.7 1151.0 1007.7 1150.5 1008.0 1150.0 1006.6 1149.5 1005.9 1149.0 1014.7 1148.5 1018.6 1148.0 989.1 1147.5 1012.9 1147.0 999.5 1146.5 1014.9 1146.0 1012.5 1145.5 1012.2 1145.0 1007.8 1144.5 1002.9 1144.0 996.3 1143.5 1005.8 1143.0 1015.1 1142.5 1000.8 1142.0 1020.4 1141.5 1017.7 1141.0 1025.3 1140.5 1013.2 1140.0 1019.2 1139.5 1006.9 1139.0 1019.0 1138.5 1011.2 1138.0 1014.5 1137.5 1008.2 1137.0 1012.0 1136.5 1004.0 1136.0 1013.5 1135.5 1006.8 1135.0 987.0 1134.5 1003.0 1134.0 992.4 1133.5 996.4 1133.0 1005.0 1132.5 987.5 1132.0 1006.5 1131.5 995.2 1131.0 993.0 1130.5 991.1 1130.0 1005.0 1129.5 1010.0 1129.0 997.2 1128.5 1008.3 1128.0 997.4 1127.5 1009.4 1127.0 995.3 1126.5 1009.6 1126.0 1014.2 1125.5 1002.7 1125.0 1020.0 1124.5 1007.4 1124.0 1021.9 1123.5 1016.3 1123.0 1009.8 1122.5 1020.0 1122.0 1014.9 1121.5 1014.2 1121.0 1022.1 1120.5 1020.5 1120.0 1026.4 1119.5 1020.3 1119.0 1000.7 1118.5 1021.3 1118.0 1005.6 1117.5 1024.6 1117.0 1026.3 1116.5 1010.4 1116.0 1031.2 1115.5 1010.3 1115.0 1027.0 1114.5 1027.5 1114.0 1028.3 1113.5 1031.0 1113.0 1015.5 1112.5 1026.3 1112.0 1027.1 1111.5 1031.0 1111.0 1027.9 1110.5 1007.6 1110.0 1015.7 1109.5 1003.5 1109.0 1020.9 1108.5 1010.3 1108.0 1023.6 1107.5 1026.5 1107.0 1011.2 1106.5 1023.3 1106.0 1024.7 1105.5 1019.0 1105.0 1022.0 1104.5 1005.4 1104.0 1023.8 1103.5 1009.4 1103.0 1022.8 1102.5 1010.5 1102.0 1011.9 1101.5 1008.1 1101.0 1015.3 1100.5 1029.4 1100.0 1028.1 1099.5 1017.1 1099.0 1028.2 1098.5 1018.4 1098.0 1017.3 1097.5 1025.3 1097.0 1010.0 1096.5 1016.5 1096.0 1024.0 1095.5 1016.9 1095.0 1022.9 1094.5 1020.1 1094.0 1033.4 1093.5 1022.4 1093.0 1026.9 1092.5 1020.0 1092.0 1028.3 1091.5 1012.5 1091.0 1024.5 1090.5 1027.0 1090.0 1026.9 1089.5 1014.2 1089.0 999.1 1088.5 1022.3 1088.0 999.1 1087.5 1008.9 1087.0 1015.4 1086.5 1005.0 1086.0 1020.1 1085.5 1020.3 1085.0 1023.0 1084.5 1021.0 1084.0 1019.8 1083.5 1014.2 1083.0 1021.4 1082.5 1016.8 1082.0 1023.8 1081.5 1021.4 1081.0 1020.9 1080.5 1017.0 1080.0 1026.7 1079.5 1019.4 1079.0 1019.0 1078.5 1022.4 1078.0 1022.1 1077.5 1025.5 1077.0 1022.3 1076.5 1025.3 1076.0 1026.0 1075.5 1029.3 1075.0 1029.4 1074.5 1024.3 1074.0 1026.3 1073.5 1033.6 1073.0 1030.6 1072.5 1030.5 1072.0 1035.5 1071.5 1031.5 1071.0 1023.2 1070.5 1033.6 1070.0 1028.2 1069.5 1025.9 1069.0 1017.6 1068.5 1017.6 1068.0 1018.1 1067.5 1025.8 1067.0 1022.8 1066.5 1008.0 1066.0 1015.9 1065.5 1013.0 1065.0 1027.1 1064.5 1019.9 1064.0 1017.8 1063.5 1017.4 1063.0 1012.1 1062.5 1011.4 1062.0 1020.1 1061.5 1008.3 1061.0 1010.1 1060.5 1023.2 1060.0 1021.1 1059.5 1009.9 1059.0 1013.2 1058.5 1024.6 1058.0 1023.6 1057.5 1022.3 1057.0 1029.1 1056.5 1026.0 1056.0 1030.3 1055.5 1029.5 1055.0 1027.7 1054.5 1019.0 1054.0 1028.7 1053.5 1008.7 1053.0 1016.1 1052.5 1032.7 1052.0 1030.5 1051.5 1016.4 1051.0 1023.8 1050.5 1024.5 1050.0 1016.2 1049.5 1019.7 1049.0 1027.0 1048.5 1015.4 1048.0 1029.5 1047.5 1023.9 1047.0 1029.5 1046.5 1017.9 1046.0 1008.5 1045.5 1021.4 1045.0 1007.7 1044.5 1027.2 1044.0 1016.3 1043.5 1023.0 1043.0 1015.4 1042.5 1004.1 1042.0 1023.5 1041.5 1003.4 1041.0 1013.9 1040.5 1021.6 1040.0 1023.5 1039.5 1023.1 1039.0 1001.7 1038.5 1013.5 1038.0 1025.5 1037.5 1020.6 1037.0 1026.6 1036.5 1029.2 1036.0 1008.2 1035.5 1027.9 1035.0 1034.0 1034.5 1030.4 1034.0 1025.3 1033.5 1026.5 1033.0 1031.1 1032.5 1014.9 1032.0 1030.8 1031.5 1025.5 1031.0 1010.0 1030.5 1008.6 1030.0 1010.0 1029.5 1018.5 1029.0 1010.9 1028.5 1021.1 1028.0 1025.4 1027.5 1016.8 1027.0 1026.5 1026.5 1024.2 1026.0 1019.4 1025.5 1005.6 1025.0 1025.1 1024.5 1021.3 1024.0 1020.0 1023.5 1006.6 1023.0 1024.5 1022.5 1003.4 1022.0 1020.4 1021.5 1016.1 1021.0 1015.9 1020.5 1017.8 1020.0 1024.8 1019.5 1008.6 1019.0 1017.7 1018.5 1022.6 1018.0 1026.9 1017.5 1013.1 1017.0 1027.9 1016.5 1017.9 1016.0 1029.5 1015.5 1014.0 1015.0 1015.9 1014.5 1029.9 1014.0 1009.6 1013.5 1024.9 1013.0 1027.1 1012.5 1015.2 1012.0 1019.2 1011.5 1014.0 1011.0 1014.4 1010.5 1025.2 1010.0 1019.6 1009.5 1001.7 1009.0 1014.9 1008.5 1006.2 1008.0 1012.9 1007.5 1009.6 1007.0 998.9 1006.5 1005.5 1006.0 1016.1 1005.5 1016.7 1005.0 1022.0 1004.5 1011.0 1004.0 1009.6 1003.5 1003.0 1003.0 1017.4 1002.5 1016.7 1002.0 1012.5 1001.5 1021.5 1001.0 1025.5 1000.5 1026.5 1000.0 1026.2 999.5 1025.5 999.0 1004.6 998.5 1012.8 998.0 1025.4 997.5 1014.8 997.0 1021.0 996.5 1027.2 996.0 1021.9 995.5 1025.7 995.0 1019.5 994.5 1008.2 994.0 1014.3 993.5 1012.3 993.0 1011.0 992.5 994.9 992.0 1019.2 991.5 1016.6 991.0 1006.1 990.5 1021.3 990.0 1006.1 989.5 1008.7 989.0 1001.8 988.5 1016.4 988.0 1000.5 987.5 997.4 987.0 1015.3 986.5 993.6 986.0 1006.7 985.5 1012.1 985.0 1014.2 984.5 1020.2 984.0 1014.2 983.5 1021.3 983.0 1013.2 982.5 1015.8 982.0 1006.4 981.5 1019.0 981.0 1014.6 980.5 998.9 980.0 1016.7 979.5 1015.7 979.0 997.6 978.5 1004.3 978.0 1009.3 977.5 996.9 977.0 985.0 976.5 1009.5 976.0 1007.2 975.5 1008.3 975.0 1012.4 974.5 1002.8 974.0 997.0 973.5 1002.2 973.0 1011.9 972.5 1000.5 972.0 1001.6 971.5 1002.5 971.0 995.6 970.5 993.8 970.0 1015.5 969.5 1009.0 969.0 989.4 968.5 1005.9 968.0 1010.4 967.5 994.7 967.0 996.0 966.5 1018.7 966.0 1011.4 965.5 1005.0 965.0 1018.0 964.5 1007.7 964.0 1011.8 963.5 1018.5 963.0 1003.9 962.5 1021.7 962.0 1009.1 961.5 1017.6 961.0 1025.7 960.5 1002.8 960.0 1021.9 959.5 1010.6 959.0 1010.8 958.5 1023.5 958.0 1014.7 957.5 1023.6 957.0 1021.2 956.5 1021.7 956.0 1004.3 955.5 1022.9 955.0 1013.5 954.5 1015.3 954.0 1014.4 953.5 1007.5 953.0 1017.9 952.5 1017.8 952.0 1007.9 951.5 1013.9 951.0 1005.1 950.5 999.6 950.0 1012.7 949.5 1013.5 949.0 1004.5 948.5 1010.6 948.0 1005.0 947.5 1007.5 947.0 1007.1 946.5 1011.9 946.0 1003.3 945.5 1008.5 945.0 1012.8 944.5 1003.7 944.0 1012.2 943.5 1015.0 943.0 1014.2 942.5 1010.5 942.0 1011.9 941.5 1002.6 941.0 1008.6 940.5 1003.6 940.0 1012.9 939.5 1021.3 939.0 1017.9 938.5 1005.5 938.0 1002.4 937.5 1018.4 937.0 1020.9 936.5 1020.1 936.0 1020.2 935.5 1013.3 935.0 1017.0 934.5 1006.3 934.0 1013.2 933.5 1008.0 933.0 1017.3 932.5 1010.0 932.0 1009.8 931.5 1010.4 931.0 1008.6 930.5 1015.6 930.0 1017.5 929.5 1004.8 929.0 1012.0 928.5 1010.4 928.0 1012.0 927.5 1000.5 927.0 999.3 926.5 1011.9 926.0 1015.3 925.5 1002.5 925.0 997.0 924.5 1014.7 924.0 1015.3 923.5 1008.1 923.0 995.5 922.5 1011.1 922.0 999.1 921.5 1010.7 921.0 1014.0 920.5 1015.3 920.0 1002.5 919.5 1019.4 919.0 1014.2 918.5 1001.7 918.0 1006.4 917.5 1009.2 917.0 989.7 916.5 998.6 916.0 992.1 915.5 997.6 915.0 997.1 914.5 1002.1 914.0 980.5 913.5 1000.3 913.0 994.0 912.5 982.7 912.0 993.3 911.5 992.7 911.0 992.9 910.5 987.2 910.0 964.4 909.5 974.0 909.0 983.9 908.5 981.0 908.0 986.9 907.5 978.8 907.0 977.3 906.5 999.8 906.0 996.1 905.5 993.6 905.0 994.8 904.5 993.9 904.0 998.0 903.5 985.3 903.0 998.1 902.5 1006.4 902.0 987.6 901.5 1008.1 901.0 1009.4 900.5 999.9 900.0 1010.5 899.5 1009.0 899.0 1007.3 898.5 995.6 898.0 984.9 897.5 1001.1 897.0 1010.6 896.5 1006.1 896.0 1011.8 895.5 1001.2 895.0 1007.7 894.5 994.0 894.0 1011.4 893.5 1014.2 893.0 1000.2 892.5 1013.0 892.0 1009.7 891.5 990.6 891.0 988.8 890.5 999.8 890.0 992.3 889.5 1015.3 889.0 1010.0 888.5 994.4 888.0 996.9 887.5 999.3 887.0 1006.8 886.5 997.4 886.0 1020.2 885.5 1007.6 885.0 1020.8 884.5 1005.7 884.0 1024.8 883.5 1025.9 883.0 1024.5 882.5 1019.6 882.0 1014.8 881.5 1001.8 881.0 1023.7 880.5 1023.4 880.0 1003.7 879.5 1015.7 879.0 1006.4 878.5 1020.2 878.0 1013.3 877.5 1017.6 877.0 1019.9 876.5 1013.7 876.0 1020.9 875.5 1011.7 875.0 1009.7 874.5 1024.7 874.0 1023.7 873.5 1025.3 873.0 1022.1 872.5 1017.9 872.0 1016.1 871.5 1016.3 871.0 1016.8 870.5 1010.7 870.0 1017.9 869.5 1010.6 869.0 1013.9 868.5 1009.7 868.0 1021.2 867.5 1016.0 867.0 1005.3 866.5 1014.5 866.0 1023.4 865.5 1017.8 865.0 1007.0 864.5 1016.8 864.0 1005.9 863.5 1015.2 863.0 1015.0 862.5 1014.0 862.0 1003.8 861.5 1006.0 861.0 1001.4 860.5 1000.4 860.0 1002.0 859.5 1003.5 859.0 1005.6 858.5 1013.7 858.0 1009.6 857.5 997.2 857.0 1003.1 856.5 1012.5 856.0 1010.5 855.5 1010.3 855.0 1000.5 854.5 1001.9 854.0 1014.5 853.5 1015.8 853.0 1015.5 852.5 1007.4 852.0 1000.9 851.5 997.3 851.0 1008.3 850.5 1016.5 850.0 1008.2 849.5 1012.2 849.0 1000.9 848.5 1009.4 848.0 1016.2 847.5 1019.7 847.0 1018.6 846.5 1005.6 846.0 1015.3 845.5 1016.7 845.0 1009.4 844.5 1002.7 844.0 1001.5 843.5 1005.4 843.0 1004.5 842.5 1013.9 842.0 1013.6 841.5 1015.2 841.0 1017.2 840.5 1013.2 840.0 1015.2 839.5 999.7 839.0 1016.9 838.5 998.6 838.0 1010.5 837.5 1014.3 837.0 998.1 836.5 1010.8 836.0 1009.0 835.5 1017.3 835.0 1014.6 834.5 1019.4 834.0 1001.1 833.5 1012.9 833.0 1009.4 832.5 1018.2 832.0 1011.4 831.5 1016.6 831.0 1016.3 830.5 1009.7 830.0 1016.2 829.5 1010.5 829.0 1016.3 828.5 1016.1 828.0 1006.4 827.5 1020.0 827.0 1017.6 826.5 1017.8 826.0 1010.4 825.5 1016.9 825.0 1012.5 824.5 1002.1 824.0 1018.3 823.5 1009.1 823.0 1022.7 822.5 1011.7 822.0 1018.5 821.5 1014.6 821.0 1012.8 820.5 1005.6 820.0 1018.9 819.5 1021.9 819.0 1006.5 818.5 1008.3 818.0 1000.8 817.5 1014.3 817.0 1003.1 816.5 1005.9 816.0 1017.6 815.5 1013.4 815.0 1014.9 814.5 1013.9 814.0 1020.4 813.5 1014.6 813.0 1017.8 812.5 1014.3 812.0 1020.7 811.5 1021.4 811.0 1005.3 810.5 1016.6 810.0 1014.5 809.5 1018.9 809.0 1018.1 808.5 1017.5 808.0 1001.4 807.5 1018.8 807.0 1017.6 806.5 1019.6 806.0 1019.8 805.5 1018.2 805.0 1019.1 804.5 1007.5 804.0 1008.7 803.5 1005.0 803.0 1013.7 802.5 1011.8 802.0 1019.8 801.5 1017.9 801.0 1020.3 800.5 1016.0 800.0 1015.8 799.5 1022.5 799.0 1013.1 798.5 1019.1 798.0 1012.4 797.5 1018.2 797.0 1012.6 796.5 1004.2 796.0 1005.7 795.5 1010.0 795.0 1010.8 794.5 998.1 794.0 1006.2 793.5 1003.1 793.0 1007.9 792.5 1008.6 792.0 1012.3 791.5 992.0 791.0 1000.2 790.5 995.0 790.0 1010.5 789.5 996.4 789.0 1011.3 788.5 996.6 788.0 1018.4 787.5 1013.2 787.0 1011.2 786.5 1020.8 786.0 1012.9 785.5 1016.1 785.0 1016.2 784.5 1018.3 784.0 1017.0 783.5 1008.5 783.0 1000.5 782.5 1002.8 782.0 1021.2 781.5 1008.0 781.0 1008.7 780.5 1000.1 780.0 1018.8 779.5 1018.2 779.0 1010.1 778.5 1001.3 778.0 1009.4 777.5 1003.9 777.0 1004.7 776.5 1014.4 776.0 1017.3 775.5 998.6 775.0 1004.0 774.5 1012.4 774.0 1016.7 773.5 1010.8 773.0 1014.7 772.5 1011.8 772.0 1015.1 771.5 999.7 771.0 998.2 770.5 998.2 770.0 1005.4 769.5 1005.5 769.0 1000.9 768.5 1016.2 768.0 1004.9 767.5 1015.2 767.0 1012.3 766.5 994.0 766.0 1013.2 765.5 1011.7 765.0 999.0 764.5 1000.8 764.0 1008.6 763.5 1014.9 763.0 1009.3 762.5 1002.0 762.0 1010.2 761.5 1009.9 761.0 997.7 760.5 1011.9 760.0 1006.5 759.5 1000.8 759.0 1007.4 758.5 1001.7 758.0 993.4 757.5 1006.0 757.0 1011.7 756.5 1008.5 756.0 1003.9 755.5 1001.2 755.0 1014.1 754.5 989.3 754.0 997.0 753.5 1006.7 753.0 1013.3 752.5 1013.3 752.0 1005.9 751.5 1013.6 751.0 996.5 750.5 1014.6 750.0 1006.1 749.5 990.2 749.0 1009.4 748.5 1005.6 748.0 1017.6 747.5 1009.4 747.0 1009.8 746.5 1002.7 746.0 999.7 745.5 1006.1 745.0 1006.7 744.5 1008.2 744.0 1006.7 743.5 1011.2 743.0 1006.3 742.5 1008.4 742.0 1006.6 741.5 1007.9 741.0 987.0 740.5 990.2 740.0 1004.3 739.5 1002.6 739.0 1011.7 738.5 1009.4 738.0 1009.9 737.5 1008.8 737.0 1001.8 736.5 1000.7 736.0 1002.4 735.5 1014.1 735.0 1004.9 734.5 1002.0 734.0 992.1 733.5 988.5 733.0 999.6 732.5 994.7 732.0 1006.8 731.5 996.1 731.0 1009.4 730.5 1010.8 730.0 992.5 729.5 1011.7 729.0 1007.7 728.5 1006.0 728.0 1000.2 727.5 984.5 727.0 1009.5 726.5 1002.7 726.0 998.0 725.5 1001.4 725.0 1003.2 724.5 989.4 724.0 1003.6 723.5 989.3 723.0 1000.6 722.5 994.3 722.0 1006.7 721.5 1007.1 721.0 1000.0 720.5 1002.6 720.0 989.5 719.5 1005.6 719.0 1013.6 718.5 1002.2 718.0 997.1 717.5 999.1 717.0 1014.9 716.5 1004.1 716.0 991.9 715.5 1014.1 715.0 1009.5 714.5 1010.7 714.0 999.6 713.5 998.4 713.0 1002.0 712.5 1009.8 712.0 1014.5 711.5 1011.6 711.0 1007.2 710.5 1004.2 710.0 1006.0 709.5 1003.4 709.0 1014.8 708.5 1012.3 708.0 1009.3 707.5 1015.2 707.0 1014.7 706.5 1018.8 706.0 1015.8 705.5 1011.1 705.0 998.8 704.5 1005.6 704.0 998.4 703.5 998.6 703.0 1002.4 702.5 995.0 702.0 1001.4 701.5 987.3 701.0 1003.7 700.5 993.3 700.0 990.0 699.5 1000.0 699.0 999.4 698.5 988.7 698.0 1002.9 697.5 986.8 697.0 999.7 696.5 1010.2 696.0 1005.4 695.5 1008.1 695.0 1001.0 694.5 1009.9 694.0 1003.6 693.5 1012.3 693.0 990.7 692.5 1009.1 692.0 1006.5 691.5 1009.5 691.0 1009.2 690.5 995.8 690.0 1005.5 689.5 992.9 689.0 1008.5 688.5 994.3 688.0 994.4 687.5 990.8 687.0 991.3 686.5 985.6 686.0 994.2 685.5 991.2 685.0 993.4 684.5 974.8 684.0 972.3 683.5 992.8 683.0 969.5 682.5 992.2 682.0 993.4 681.5 985.4 681.0 976.9 680.5 989.7 680.0 980.1 679.5 995.3 679.0 994.2 678.5 986.1 678.0 999.9 677.5 983.3 677.0 992.5 676.5 1004.5 676.0 998.5 675.5 999.2 675.0 1001.9 674.5 988.9 674.0 1002.0 673.5 988.1 673.0 991.7 672.5 1008.1 672.0 1000.0 671.5 996.7 671.0 1006.5 670.5 1002.2 670.0 996.6 669.5 1005.0 669.0 1000.5 668.5 1009.2 668.0 1003.5 667.5 991.8 667.0 992.7 666.5 1002.0 666.0 1004.5 665.5 1012.1 665.0 999.5 664.5 1010.2 664.0 992.3 663.5 1010.5 663.0 1006.2 662.5 1003.2 662.0 997.6 661.5 1002.5 661.0 992.1 660.5 997.9 660.0 999.5 659.5 994.9 659.0 986.7 658.5 987.0 658.0 977.8 657.5 978.5 657.0 973.9 656.5 984.8 656.0 978.5 655.5 977.7 655.0 983.9 654.5 971.6 654.0 972.9 653.5 973.4 653.0 981.8 652.5 979.5 652.0 983.1 651.5 982.6 651.0 980.5 650.5 983.7 650.0 985.9 649.5 969.5 649.0 994.2 648.5 996.9 648.0 987.2 647.5 978.1 647.0 975.1 646.5 989.0 646.0 984.2 645.5 994.3 645.0 1003.4 644.5 997.1 644.0 997.6 643.5 983.7 643.0 986.1 642.5 999.3 642.0 1003.4 641.5 985.6 641.0 1006.1 640.5 1005.3 640.0 995.4 639.5 998.0 639.0 993.7 638.5 987.0 638.0 1003.0 637.5 988.6 637.0 996.5 636.5 999.6 636.0 1002.7 635.5 1009.5 635.0 989.7 634.5 996.7 634.0 1006.8 633.5 1001.9 633.0 997.6 632.5 1008.3 632.0 998.5 631.5 998.7 631.0 1013.0 630.5 995.5 630.0 1011.2 629.5 1003.0 629.0 1008.8 628.5 1011.4 628.0 1005.6 627.5 1011.9 627.0 1006.9 626.5 1011.8 626.0 1011.1 625.5 1008.8 625.0 1002.2 624.5 1011.5 624.0 1005.9 623.5 1008.6 623.0 1007.9 622.5 1006.3 622.0 1007.0 621.5 1002.1 621.0 995.2 620.5 998.5 620.0 999.5 619.5 991.1 619.0 998.8 618.5 1002.6 618.0 999.1 617.5 1001.3 617.0 996.0 616.5 998.9 616.0 1006.9 615.5 990.2 615.0 1006.3 614.5 990.9 614.0 997.6 613.5 998.8 613.0 1003.5 612.5 994.4 612.0 1004.7 611.5 1003.0 611.0 999.6 610.5 1003.3 610.0 997.3 609.5 996.0 609.0 1001.8 608.5 1005.0 608.0 992.1 607.5 1011.1 607.0 1012.3 606.5 1009.4 606.0 1012.2 605.5 1008.3 605.0 1004.5 604.5 1003.8 604.0 1002.7 603.5 1001.8 603.0 1001.1 602.5 1002.9 602.0 987.8 601.5 999.0 601.0 993.3 600.5 977.3 600.0 984.3 599.5 981.9 599.0 981.3 598.5 991.6 598.0 975.9 597.5 982.1 597.0 976.5 596.5 973.8 596.0 963.0 595.5 980.3 595.0 966.7 594.5 981.2 594.0 986.8 593.5 981.0 593.0 985.5 592.5 989.0 592.0 996.5 591.5 994.7 591.0 1001.4 590.5 991.1 590.0 1000.8 589.5 996.6 589.0 994.0 588.5 991.7 588.0 990.5 587.5 988.0 587.0 985.1 586.5 1000.6 586.0 983.7 585.5 990.1 585.0 994.1 584.5 986.4 584.0 991.6 583.5 1005.7 583.0 996.0 582.5 1007.8 582.0 1001.7 581.5 988.4 581.0 997.5 580.5 1003.2 580.0 985.7 579.5 988.6 579.0 994.6 578.5 991.2 578.0 989.5 577.5 997.8 577.0 981.6 576.5 984.5 576.0 975.2 575.5 983.8 575.0 984.7 574.5 992.4 574.0 983.8 573.5 990.5 573.0 992.0 572.5 993.2 572.0 984.9 571.5 979.8 571.0 972.9 570.5 988.2 570.0 985.9 569.5 985.9 569.0 992.4 568.5 980.6 568.0 992.0 567.5 990.0 567.0 985.0 566.5 980.7 566.0 975.5 565.5 991.3 565.0 976.2 564.5 988.8 564.0 977.4 563.5 991.0 563.0 988.7 562.5 993.1 562.0 988.0 561.5 995.1 561.0 991.2 560.5 989.9 560.0 989.0 559.5 995.5 559.0 1001.2 558.5 995.7 558.0 999.0 557.5 989.9 557.0 1005.1 556.5 998.6 556.0 999.7 555.5 998.4 555.0 997.1 554.5 997.7 554.0 988.7 553.5 1000.7 553.0 1000.6 552.5 1006.1 552.0 1001.9 551.5 996.1 551.0 1005.7 550.5 1001.3 550.0 992.3 549.5 996.4 549.0 992.8 548.5 999.3 548.0 1001.0 547.5 1002.5 547.0 1003.9 546.5 1003.2 546.0 1002.6 545.5 1001.6 545.0 1000.8 544.5 1003.2 544.0 995.5 543.5 1007.9 543.0 1005.4 542.5 1000.4 542.0 1004.1 541.5 1007.2 541.0 1009.7 540.5 1010.4 540.0 1013.2 539.5 1001.6 539.0 1005.2 538.5 1015.9 538.0 1013.8 537.5 1003.5 537.0 1008.7 536.5 1004.5 536.0 1006.5 535.5 1019.2 535.0 1013.7 534.5 1018.1 534.0 1003.5 533.5 1005.9 533.0 1016.7 532.5 1015.0 532.0 1017.3 531.5 1008.1 531.0 1012.5 530.5 1009.9 530.0 1010.5 529.5 1009.0 529.0 1013.8 528.5 1014.5 528.0 1012.6 527.5 1016.8 527.0 1013.3 526.5 1011.5 526.0 1013.9 525.5 1008.2 525.0 1001.0 524.5 1015.3 524.0 1012.9 523.5 1017.2 523.0 1017.6 522.5 1011.0 522.0 1006.1 521.5 1021.6 521.0 1014.8 520.5 1010.3 520.0 1003.8 519.5 1011.2 519.0 1015.8 518.5 1004.5 518.0 1016.1 517.5 1004.0 517.0 1006.9 516.5 1006.9 516.0 1019.7 515.5 1015.0 515.0 1002.7 514.5 1010.7 514.0 1006.0 513.5 1016.6 513.0 1010.7 512.5 1014.1 512.0 1016.1 511.5 998.0 511.0 1002.2 510.5 1002.4 510.0 995.7 509.5 1010.7 509.0 1000.6 508.5 1013.9 508.0 1004.2 507.5 1010.4 507.0 1011.3 506.5 1014.2 506.0 1017.7 505.5 1004.5 505.0 1015.7 504.5 1017.4 504.0 1016.9 503.5 1019.6 503.0 1008.0 502.5 1007.2 502.0 1021.9 501.5 1016.4 501.0 1019.4 500.5 1014.3 500.0 1020.9 499.5 1011.5 499.0 1018.6 498.5 1012.2 498.0 1018.1 497.5 1016.7 497.0 1012.9 496.5 1020.9 496.0 1022.6 495.5 1018.9 495.0 1024.5 494.5 1008.7 494.0 1020.8 493.5 1006.9 493.0 1017.2 492.5 1017.0 492.0 1015.5 491.5 1016.0 491.0 1026.0 490.5 1026.9 490.0 1027.4 489.5 1016.3 489.0 1016.9 488.5 1017.2 488.0 1020.3 487.5 1011.3 487.0 1025.8 486.5 1025.0 486.0 1023.4 485.5 1017.4 485.0 1022.8 484.5 1022.9 484.0 1020.4 483.5 1023.9 483.0 1023.0 482.5 1020.0 482.0 1025.8 481.5 1018.3 481.0 1022.0 480.5 1023.3 480.0 1016.6 479.5 1007.0 479.0 1009.9 478.5 1020.7 478.0 1024.7 477.5 1020.4 477.0 1016.2 476.5 1024.5 476.0 1017.3 475.5 1016.5 475.0 1016.8 474.5 1015.1 474.0 1009.3 473.5 1009.6 473.0 1015.2 472.5 1022.0 472.0 1013.8 471.5 1013.4 471.0 1020.8 470.5 1017.1 470.0 1017.7 469.5 1009.8 469.0 1017.6 468.5 1010.2 468.0 1013.8 467.5 1009.4 467.0 1013.5 466.5 1000.1 466.0 1007.7 465.5 1008.8 465.0 1012.6 464.5 998.2 464.0 996.8 463.5 1004.3 463.0 1005.8 462.5 1011.6 462.0 1003.0 461.5 1015.7 461.0 1016.2 460.5 1016.5 460.0 1022.1 459.5 1015.3 459.0 1016.8 458.5 1016.8 458.0 1011.1 457.5 1021.2 457.0 1020.3 456.5 1020.7 456.0 1020.6 455.5 1014.6 455.0 1016.3 454.5 1010.8 454.0 1019.9 453.5 1014.6 453.0 1010.9 452.5 1001.2 452.0 1017.5 451.5 1013.2 451.0 1007.6 450.5 1018.5 450.0 1003.7 449.5 1018.2 449.0 1003.5 448.5 1008.9 448.0 1009.5 447.5 1015.8 447.0 1016.6 446.5 1018.0 446.0 1012.1 445.5 1021.3 445.0 1013.8 444.5 1022.9 444.0 1023.9 443.5 1025.7 443.0 1019.9 442.5 1016.3 442.0 1022.4 441.5 1015.0 441.0 1021.0 440.5 1017.3 440.0 1016.9 439.5 1021.1 439.0 1004.9 438.5 1009.5 438.0 1011.5 437.5 1019.2 437.0 1024.9 436.5 1021.1 436.0 1023.8 435.5 1016.8 435.0 1013.1 434.5 1021.7 434.0 1015.7 433.5 1018.1 433.0 1010.1 432.5 1015.9 432.0 1010.0 431.5 1017.5 431.0 1013.1 430.5 1007.7 430.0 1020.7 429.5 1015.8 429.0 1006.5 428.5 1015.8 428.0 1019.1 427.5 1022.2 427.0 1011.6 426.5 1008.9 426.0 1019.8 425.5 1008.1 425.0 1011.5 424.5 1022.6 424.0 1015.7 423.5 1018.7 423.0 1006.1 422.5 1011.2 422.0 1001.4 421.5 1003.5 421.0 1013.8 420.5 1004.4 420.0 1013.8 419.5 1003.3 419.0 1016.1 418.5 1009.2 418.0 1011.6 417.5 1016.7 417.0 1007.2 416.5 1010.1 416.0 1013.1 415.5 1009.1 415.0 1013.8 414.5 1010.0 414.0 1006.7 413.5 1004.3 413.0 1008.7 412.5 1008.8 412.0 994.8 411.5 1001.7 411.0 998.9 410.5 1002.3 410.0 994.9 409.5 1000.0 409.0 1001.6 408.5 999.0 408.0 982.1 407.5 992.6 407.0 1002.2 406.5 997.3 406.0 986.6 405.5 986.9 405.0 1006.1 404.5 1010.9 404.0 1009.3 403.5 1001.8 403.0 1002.3 402.5 1009.3 402.0 999.7 401.5 997.9 401.0 1009.9 400.5 1006.4 400.0 1014.0 399.5 1011.2 399.0 1015.6 398.5 1017.9 398.0 1005.4 397.5 1013.5 397.0 1018.6 396.5 1022.7 396.0 1019.1 395.5 1019.5 395.0 1019.4 394.5 1017.1 394.0 1009.4 393.5 1009.0 393.0 1018.6 392.5 1013.7 392.0 1019.7 391.5 1019.8 391.0 1020.1 390.5 1015.0 390.0 1018.2 389.5 1015.0 389.0 1015.0 388.5 1023.9 388.0 1022.4 387.5 1022.6 387.0 1023.4 386.5 1015.7 386.0 1013.0 385.5 1017.2 385.0 1022.1 384.5 1025.4 384.0 1025.0 383.5 1018.9 383.0 1020.9 382.5 1027.3 382.0 1015.5 381.5 1023.0 381.0 1028.7 380.5 1027.0 380.0 1018.6 379.5 1021.6 379.0 1026.2 378.5 1027.7 378.0 1021.5 377.5 1024.6 377.0 1018.9 376.5 1030.1 376.0 1029.7 375.5 1023.4 375.0 1027.0 374.5 1027.1 374.0 1024.2 373.5 1024.5 373.0 1032.2 372.5 1031.3 372.0 1031.7 371.5 1033.4 371.0 1029.1 370.5 1029.2 370.0 1031.3 369.5 1023.9 369.0 1027.4 368.5 1026.2 368.0 1027.5 367.5 1026.1 367.0 1020.2 366.5 1025.4 366.0 1021.2 365.5 1019.8 365.0 1006.9 364.5 1018.5 364.0 1014.5 363.5 1023.7 363.0 1009.4 362.5 1013.2 362.0 1010.2 361.5 1020.9 361.0 1012.0 360.5 1013.7 360.0 1019.8 359.5 1018.2 359.0 1016.8 358.5 1016.2 358.0 1024.8 357.5 1018.7 357.0 1020.3 356.5 1022.3 356.0 1020.3 355.5 1028.1 355.0 1028.2 354.5 1031.1 354.0 1031.2 353.5 1028.1 353.0 1024.7 352.5 1027.7 352.0 1031.9 351.5 1016.8 351.0 1023.5 350.5 1021.4 350.0 1028.4 349.5 1032.8 349.0 1023.9 348.5 1029.5 348.0 1027.5 347.5 1030.2 347.0 1027.6 346.5 1031.0 346.0 1030.5 345.5 1035.1 345.0 1022.4 344.5 1023.5 344.0 1024.5 343.5 1024.4 343.0 1029.5 342.5 1034.0 342.0 1031.3 341.5 1035.7 341.0 1029.1 340.5 1032.2 340.0 1036.6 339.5 1035.4 339.0 1019.5 338.5 1026.9 338.0 1035.3 337.5 1031.7 337.0 1023.8 336.5 1030.8 336.0 1027.6 335.5 1036.4 335.0 1026.5 334.5 1034.0 334.0 1033.0 333.5 1027.6 333.0 1034.6 332.5 1032.2 332.0 1028.6 331.5 1029.5 331.0 1037.2 330.5 1038.0 330.0 1031.3 329.5 1021.8 329.0 1029.4 328.5 1033.4 328.0 1022.8 327.5 1037.8 327.0 1031.8 326.5 1037.3 326.0 1030.5 325.5 1026.7 325.0 1019.2 324.5 1029.8 324.0 1021.1 323.5 1033.2 323.0 1022.5 322.5 1032.3 322.0 1033.2 321.5 1015.9 321.0 1032.3 320.5 1028.5 320.0 1031.2 319.5 1033.5 319.0 1033.7 318.5 1021.4 318.0 1030.4 317.5 1022.5 317.0 1030.9 316.5 1019.0 316.0 1032.2 315.5 1024.3 315.0 1031.9 314.5 1021.7 314.0 1023.4 313.5 1026.7 313.0 1030.9 312.5 1028.5 312.0 1031.5 311.5 1029.8 311.0 1017.3 310.5 1021.2 310.0 1033.0 309.5 1029.5 309.0 1030.1 308.5 1020.8 308.0 1024.1 307.5 1032.3 307.0 1024.0 306.5 1026.2 306.0 1033.0 305.5 1034.2 305.0 1031.9 304.5 1029.2 304.0 1021.0 303.5 1030.5 303.0 1025.0 302.5 1032.0 302.0 1034.1 301.5 1022.6 301.0 1034.8 300.5 1032.5 300.0 1030.9 299.5 1025.0 299.0 1022.0 298.5 1031.3 298.0 1020.7 297.5 1029.3 297.0 1033.1 296.5 1018.9 296.0 1024.3 295.5 1025.1 295.0 1016.8 294.5 1010.3 294.0 1019.3 293.5 1018.5 293.0 1013.7 292.5 1017.6 292.0 1013.3 291.5 1015.3 291.0 1014.6 290.5 1016.8 290.0 1007.0 289.5 1003.0 289.0 1010.3 288.5 1013.8 288.0 1014.7 287.5 1008.1 287.0 1018.0 286.5 1015.1 286.0 1020.2 285.5 1015.8 285.0 1018.4 284.5 1012.1 284.0 1019.9 283.5 1015.9 283.0 1025.6 282.5 1013.5 282.0 1027.2 281.5 1025.6 281.0 1013.9 280.5 1020.8 280.0 1021.2 279.5 1016.0 279.0 1021.0 278.5 1024.0 278.0 1013.1 277.5 1028.0 277.0 1029.0 276.5 1026.8 276.0 1024.7 275.5 1027.2 275.0 1017.0 274.5 1029.3 274.0 1016.3 273.5 1033.0 273.0 1013.0 272.5 1026.6 272.0 1027.2 271.5 1026.6 271.0 1030.1 270.5 1030.6 270.0 1027.9 269.5 1033.6 269.0 1021.6 268.5 1032.6 268.0 1028.9 267.5 1024.5 267.0 1028.4 266.5 1023.8 266.0 1037.9 265.5 1036.3 265.0 1037.4 264.5 1034.9 264.0 1023.0 263.5 1022.4 263.0 1024.2 262.5 1032.3 262.0 1023.7 261.5 1034.4 261.0 1032.5 260.5 1028.2 260.0 1028.5 259.5 1026.3 259.0 1026.1 258.5 1015.1 258.0 1027.4 257.5 1027.5 257.0 1016.9 256.5 1025.8 256.0 1017.1 255.5 1014.1 255.0 1030.5 254.5 1029.2 254.0 1016.6 253.5 1011.2 253.0 1020.3 252.5 1005.9 252.0 1025.6 251.5 1012.2 251.0 1017.2 250.5 1020.4 250.0 1015.3 249.5 1013.1 249.0 1015.3 248.5 996.2 248.0 1009.6 247.5 997.5 247.0 1006.2 246.5 1000.7 246.0 1010.0 245.5 1015.4 245.0 1016.6 244.5 1010.1 244.0 1004.4 243.5 1008.9 243.0 1005.9 242.5 1023.6 242.0 1017.7 241.5 1019.2 241.0 1018.7 240.5 1022.9 240.0 1013.3 239.5 1021.1 239.0 1015.7 238.5 1016.0 238.0 1033.5 237.5 1025.5 237.0 1027.6 236.5 1033.2 236.0 1027.6 235.5 1022.0 235.0 1020.0 234.5 1023.1 234.0 1036.9 233.5 1035.9 233.0 1034.9 232.5 1026.5 232.0 1038.3 231.5 1029.7 231.0 1033.6 230.5 1027.6 230.0 1028.0 229.5 1026.1 229.0 1023.5 228.5 1032.5 228.0 1034.8 227.5 1027.4 227.0 1036.1 226.5 1037.3 226.0 1034.8 225.5 1038.2 225.0 1035.2 224.5 1025.4 224.0 1036.3 223.5 1036.9 223.0 1023.0 222.5 1032.0 222.0 1031.9 221.5 1021.5 221.0 1035.0 220.5 1038.3 220.0 1034.7 219.5 1034.5 219.0 1031.8 218.5 1025.2 218.0 1026.4 217.5 1037.2 217.0 1029.8 216.5 1022.3 216.0 1022.8 215.5 1031.5 215.0 1027.6 214.5 1036.7 214.0 1037.2 213.5 1033.0 213.0 1024.9 212.5 1038.9 212.0 1027.2 211.5 1034.8 211.0 1028.8 210.5 1022.3 210.0 1017.4 209.5 1030.6 209.0 1021.8 208.5 1025.3 208.0 1035.3 207.5 1016.6 207.0 1020.1 206.5 1022.8 206.0 1034.2 205.5 1030.8 205.0 1017.9 204.5 1024.4 204.0 1033.8 203.5 1016.8 203.0 1032.2 202.5 1021.8 202.0 1027.7 201.5 1026.9 201.0 1019.2 200.5 1023.6 200.0 1030.1 199.5 1027.5 199.0 1030.1 198.5 1025.8 198.0 1025.5 197.5 1012.5 197.0 1027.4 196.5 1028.1 196.0 1016.5 195.5 1028.1 195.0 1022.5 194.5 1015.3 194.0 1028.3 193.5 1029.1 193.0 1020.4 192.5 1021.3 192.0 1018.5 191.5 1023.7 191.0 1008.6 190.5 1025.5 190.0 1021.9 189.5 1027.2 189.0 1018.2 188.5 1029.3 188.0 1011.3 187.5 1028.5 187.0 1016.2 186.5 1029.2 186.0 1021.9 185.5 1026.9 185.0 1029.7 184.5 1028.9 184.0 1031.3 183.5 1030.4 183.0 1025.8 182.5 1029.1 182.0 1029.5 181.5 1018.7 181.0 1031.2 180.5 1029.9 180.0 1019.1 179.5 1017.2 179.0 1030.3 178.5 1033.8 178.0 1031.6 177.5 1035.1 177.0 1028.6 176.5 1025.7 176.0 1020.5 175.5 1031.7 175.0 1028.1 174.5 1025.7 174.0 1026.3 173.5 1024.6 173.0 1028.0 172.5 1029.8 172.0 1026.6 171.5 1027.7 171.0 1018.5 170.5 1029.3 170.0 1029.3 169.5 1027.6 169.0 1032.8 168.5 1023.2 168.0 1032.0 167.5 1034.1 167.0 1028.7 166.5 1028.5 166.0 1035.5 165.5 1029.1 165.0 1038.7 164.5 1035.3 164.0 1038.8 163.5 1029.0 163.0 1021.9 162.5 1028.5 162.0 1036.0 161.5 1022.2 161.0 1031.1 160.5 1032.8 160.0 1030.5 159.5 1030.1 159.0 1023.5 158.5 1017.9 158.0 1029.3 157.5 1028.0 157.0 1033.2 156.5 1015.8 156.0 1018.7 155.5 1016.1 155.0 1019.6 154.5 1019.8 154.0 1014.3 153.5 1028.5 153.0 1018.0 152.5 1022.8 152.0 1025.4 151.5 1021.8 151.0 1016.6 150.5 1025.9 150.0 1019.7 149.5 1027.6 149.0 1023.6 148.5 1026.1 148.0 1026.8 147.5 1020.5 147.0 1029.4 146.5 1016.2 146.0 1025.4 145.5 1030.5 145.0 1029.8 144.5 1019.7 144.0 1034.0 143.5 1029.0 143.0 1030.1 142.5 1027.1 142.0 1018.7 141.5 1023.7 141.0 1028.6 140.5 1018.9 140.0 1021.3 139.5 1018.7 139.0 1015.2 138.5 1009.4 138.0 1014.2 137.5 1021.1 137.0 1014.4 136.5 1020.3 136.0 1006.5 135.5 1019.8 135.0 1014.6 134.5 1021.6 134.0 1013.5 133.5 1022.8 133.0 1024.5 132.5 1029.7 132.0 1023.6 131.5 1007.9 131.0 1025.9 130.5 1026.7 130.0 1030.5 129.5 1024.6 129.0 1025.8 128.5 1024.7 128.0 1029.8 127.5 1020.6 127.0 1026.3 126.5 1020.4 126.0 1025.7 125.5 1021.5 125.0 1024.9 124.5 1030.5 124.0 1014.4 123.5 1026.1 123.0 1017.1 122.5 1012.9 122.0 1022.2 121.5 1017.7 121.0 1026.4 120.5 1025.0 120.0 1017.8 119.5 1022.6 119.0 1017.7 118.5 1019.5 118.0 1023.5 117.5 1024.9 117.0 1026.4 116.5 1026.5 116.0 1027.5 115.5 1031.3 115.0 1029.5 114.5 1027.9 114.0 1026.9 113.5 1025.2 113.0 1032.3 112.5 1017.8 112.0 1024.0 111.5 1023.2 111.0 1023.7 110.5 1023.1 110.0 1019.0 109.5 1023.3 109.0 1024.0 108.5 1018.5 108.0 1016.8 107.5 1009.3 107.0 1014.3 106.5 1024.1 106.0 1012.7 105.5 1022.2 105.0 1011.9 104.5 1019.2 104.0 1015.9 103.5 1018.5 103.0 1020.9 102.5 1022.5 102.0 1012.7 101.5 1018.6 101.0 1031.2 100.5 1035.6 100.0 1030.1 99.5 1026.3 99.0 1036.8 98.5 1029.8 98.0 1023.1 97.5 1036.4 97.0 1028.2 96.5 1024.3 96.0 1028.0 95.5 1022.9 95.0 1031.1 94.5 1027.5 94.0 1019.7 93.5 1031.3 93.0 1030.7 92.5 1024.7 92.0 1022.8 91.5 1025.5 91.0 1020.6 90.5 1020.8 90.0 1028.7 89.5 1034.3 89.0 1023.7 88.5 1018.5 88.0 1025.3 87.5 1014.7 87.0 1015.9 86.5 1011.6 86.0 1013.8 85.5 1005.2 85.0 1009.2 84.5 1008.8 84.0 1007.5 83.5 1010.0 83.0 1014.9 82.5 1008.7 82.0 1005.4 81.5 1015.3 81.0 997.6 80.5 1004.7 80.0 1001.4 79.5 1016.9 79.0 1008.4 78.5 1016.3 78.0 1006.7 77.5 1018.3 77.0 1018.0 76.5 1018.8 76.0 1019.0 75.5 1015.4 75.0 1017.1 74.5 1016.0 74.0 1024.0 73.5 1020.9 73.0 1025.3 72.5 1017.7 72.0 1015.4 71.5 1026.9 71.0 1025.0 70.5 1030.0 70.0 1026.7 69.5 1029.6 69.0 1022.7 68.5 1021.9 68.0 1024.6 67.5 1034.3 67.0 1034.0 66.5 1027.8 66.0 1023.1 65.5 1031.4 65.0 1030.1 64.5 1032.8 64.0 1029.3 63.5 1031.8 63.0 1030.0 62.5 1029.6 62.0 1024.1 61.5 1021.0 61.0 1029.1 60.5 1031.8 60.0 1020.8 59.5 1030.9Z" fill="#f7d2c0" stroke="#f7d2c0" stroke-width="0.5" stroke-linejoin="round"/></g>
<line x1="59.5" y1="1128.50" x2="2343.5" y2="1128.50" stroke="#b8b5a8" stroke-width="0.9" stroke-dasharray="2.6 1"/>
<line x1="59.5" y1="1107.50" x2="2343.5" y2="1107.50" stroke="#b8b5a8" stroke-width="0.9" stroke-dasharray="2.6 1"/>
<line x1="59.5" y1="1086.50" x2="2343.5" y2="1086.50" stroke="#b8b5a8" stroke-width="0.9" stroke-dasharray="2.6 1"/>
<line x1="59.5" y1="1044.50" x2="2343.5" y2="1044.50" stroke="#b8b5a8" stroke-width="0.9" stroke-dasharray="2.6 1"/>
<line x1="59.5" y1="1023.50" x2="2343.5" y2="1023.50" stroke="#b8b5a8" stroke-width="0.9" stroke-dasharray="2.6 1"/>
<line x1="59.5" y1="1002.50" x2="2343.5" y2="1002.50" stroke="#b8b5a8" stroke-width="0.9" stroke-dasharray="2.6 1"/>
<line x1="59.5" y1="960.50" x2="2343.5" y2="960.50" stroke="#b8b5a8" stroke-width="0.9" stroke-dasharray="2.6 1"/>
<line x1="59.5" y1="939.50" x2="2343.5" y2="939.50" stroke="#b8b5a8" stroke-width="0.9" stroke-dasharray="2.6 1"/>
<line x1="59.5" y1="918.50" x2="2343.5" y2="918.50" stroke="#b8b5a8" stroke-width="0.9" stroke-dasharray="2.6 1"/>
<line x1="59.5" y1="876.50" x2="2343.5" y2="876.50" stroke="#b8b5a8" stroke-width="0.9" stroke-dasharray="2.6 1"/>
<line x1="59.5" y1="855.50" x2="2343.5" y2="855.50" stroke="#b8b5a8" stroke-width="0.9" stroke-dasharray="2.6 1"/>
<line x1="59.5" y1="834.50" x2="2343.5" y2="834.50" stroke="#b8b5a8" stroke-width="0.9" stroke-dasharray="2.6 1"/>
<line x1="59.5" y1="792.50" x2="2343.5" y2="792.50" stroke="#b8b5a8" stroke-width="0.9" stroke-dasharray="2.6 1"/>
<line x1="59.5" y1="771.50" x2="2343.5" y2="771.50" stroke="#b8b5a8" stroke-width="0.9" stroke-dasharray="2.6 1"/>
<line x1="59.5" y1="750.50" x2="2343.5" y2="750.50" stroke="#b8b5a8" stroke-width="0.9" stroke-dasharray="2.6 1"/>
<line x1="59.5" y1="708.50" x2="2343.5" y2="708.50" stroke="#b8b5a8" stroke-width="0.9" stroke-dasharray="2.6 1"/>
<line x1="59.5" y1="687.50" x2="2343.5" y2="687.50" stroke="#b8b5a8" stroke-width="0.9" stroke-dasharray="2.6 1"/>
<line x1="59.5" y1="666.50" x2="2343.5" y2="666.50" stroke="#b8b5a8" stroke-width="0.9" stroke-dasharray="2.6 1"/>
<line x1="107.08" y1="645.5" x2="107.08" y2="1149.5" stroke="#c8c5b8" stroke-width="0.9" stroke-dasharray="1 1.6"/>
<line x1="154.65" y1="645.5" x2="154.65" y2="1149.5" stroke="#c8c5b8" stroke-width="0.9" stroke-dasharray="1 1.6"/>
<line x1="202.23" y1="645.5" x2="202.23" y2="1149.5" stroke="#c8c5b8" stroke-width="0.9" stroke-dasharray="1 1.6"/>
<line x1="297.38" y1="645.5" x2="297.38" y2="1149.5" stroke="#c8c5b8" stroke-width="0.9" stroke-dasharray="1 1.6"/>
<line x1="344.95" y1="645.5" x2="344.95" y2="1149.5" stroke="#c8c5b8" stroke-width="0.9" stroke-dasharray="1 1.6"/>
<line x1="392.53" y1="645.5" x2="392.53" y2="1149.5" stroke="#c8c5b8" stroke-width="0.9" stroke-dasharray="1 1.6"/>
<line x1="487.68" y1="645.5" x2="487.68" y2="1149.5" stroke="#c8c5b8" stroke-width="0.9" stroke-dasharray="1 1.6"/>
<line x1="535.25" y1="645.5" x2="535.25" y2="1149.5" stroke="#c8c5b8" stroke-width="0.9" stroke-dasharray="1 1.6"/>
<line x1="582.83" y1="645.5" x2="582.83" y2="1149.5" stroke="#c8c5b8" stroke-width="0.9" stroke-dasharray="1 1.6"/>
<line x1="677.98" y1="645.5" x2="677.98" y2="1149.5" stroke="#c8c5b8" stroke-width="0.9" stroke-dasharray="1 1.6"/>
<line x1="725.55" y1="645.5" x2="725.55" y2="1149.5" stroke="#c8c5b8" stroke-width="0.9" stroke-dasharray="1 1.6"/>
<line x1="773.12" y1="645.5" x2="773.12" y2="1149.5" stroke="#c8c5b8" stroke-width="0.9" stroke-dasharray="1 1.6"/>
<line x1="868.28" y1="645.5" x2="868.28" y2="1149.5" stroke="#c8c5b8" stroke-width="0.9" stroke-dasharray="1 1.6"/>
<line x1="915.85" y1="645.5" x2="915.85" y2="1149.5" stroke="#c8c5b8" stroke-width="0.9" stroke-dasharray="1 1.6"/>
<line x1="963.43" y1="645.5" x2="963.43" y2="1149.5" stroke="#c8c5b8" stroke-width="0.9" stroke-dasharray="1 1.6"/>
<line x1="1058.58" y1="645.5" x2="1058.58" y2="1149.5" stroke="#c8c5b8" stroke-width="0.9" stroke-dasharray="1 1.6"/>
<line x1="1106.15" y1="645.5" x2="1106.15" y2="1149.5" stroke="#c8c5b8" stroke-width="0.9" stroke-dasharray="1 1.6"/>
<line x1="1153.73" y1="645.5" x2="1153.73" y2="1149.5" stroke="#c8c5b8" stroke-width="0.9" stroke-dasharray="1 1.6"/>
<line x1="1248.88" y1="645.5" x2="1248.88" y2="1149.5" stroke="#c8c5b8" stroke-width="0.9" stroke-dasharray="1 1.6"/>
<line x1="1296.45" y1="645.5" x2="1296.45" y2="1149.5" stroke="#c8c5b8" stroke-width="0.9" stroke-dasharray="1 1.6"/>
<line x1="1344.03" y1="645.5" x2="1344.03" y2="1149.5" stroke="#c8c5b8" stroke-width="0.9" stroke-dasharray="1 1.6"/>
<line x1="1439.18" y1="645.5" x2="1439.18" y2="1149.5" stroke="#c8c5b8" stroke-width="0.9" stroke-dasharray="1 1.6"/>
<line x1="1486.75" y1="645.5" x2="1486.75" y2="1149.5" stroke="#c8c5b8" stroke-width="0.9" stroke-dasharray="1 1.6"/>
<line x1="1534.33" y1="645.5" x2="1534.33" y2="1149.5" stroke="#c8c5b8" stroke-width="0.9" stroke-dasharray="1 1.6"/>
<line x1="1629.48" y1="645.5" x2="1629.48" y2="1149.5" stroke="#c8c5b8" stroke-width="0.9" stroke-dasharray="1 1.6"/>
<line x1="1677.05" y1="645.5" x2="1677.05" y2="1149.5" stroke="#c8c5b8" stroke-width="0.9" stroke-dasharray="1 1.6"/>
<line x1="1724.62" y1="645.5" x2="1724.62" y2="1149.5" stroke="#c8c5b8" stroke-width="0.9" stroke-dasharray="1 1.6"/>
<line x1="1819.78" y1="645.5" x2="1819.78" y2="1149.5" stroke="#c8c5b8" stroke-width="0.9" stroke-dasharray="1 1.6"/>
<line x1="1867.35" y1="645.5" x2="1867.35" y2="1149.5" stroke="#c8c5b8" stroke-width="0.9" stroke-dasharray="1 1.6"/>
<line x1="1914.93" y1="645.5" x2="1914.93" y2="1149.5" stroke="#c8c5b8" stroke-width="0.9" stroke-dasharray="1 1.6"/>
<line x1="2010.08" y1="645.5" x2="2010.08" y2="1149.5" stroke="#c8c5b8" stroke-width="0.9" stroke-dasharray="1 1.6"/>
<line x1="2057.65" y1="645.5" x2="2057.65" y2="1149.5" stroke="#c8c5b8" stroke-width="0.9" stroke-dasharray="1 1.6"/>
<line x1="2105.23" y1="645.5" x2="2105.23" y2="1149.5" stroke="#c8c5b8" stroke-width="0.9" stroke-dasharray="1 1.6"/>
<line x1="2200.38" y1="645.5" x2="2200.38" y2="1149.5" stroke="#c8c5b8" stroke-width="0.9" stroke-dasharray="1 1.6"/>
<line x1="2247.95" y1="645.5" x2="2247.95" y2="1149.5" stroke="#c8c5b8" stroke-width="0.9" stroke-dasharray="1 1.6"/>
<line x1="2295.53" y1="645.5" x2="2295.53" y2="1149.5" stroke="#c8c5b8" stroke-width="0.9" stroke-dasharray="1 1.6"/>
<line x1="59.5" y1="1065.50" x2="2343.5" y2="1065.50" stroke="#b0b0b0" stroke-width="1.1"/>
<line x1="59.5" y1="981.50" x2="2343.5" y2="981.50" stroke="#b0b0b0" stroke-width="1.1"/>
<line x1="59.5" y1="897.50" x2="2343.5" y2="897.50" stroke="#b0b0b0" stroke-width="1.1"/>
<line x1="59.5" y1="813.50" x2="2343.5" y2="813.50" stroke="#b0b0b0" stroke-width="1.1"/>
<line x1="59.5" y1="729.50" x2="2343.5" y2="729.50" stroke="#b0b0b0" stroke-width="1.1"/>
<line x1="249.80" y1="645.5" x2="249.80" y2="1149.5" stroke="#b0b0b0" stroke-width="1.1"/>
<line x1="440.10" y1="645.5" x2="440.10" y2="1149.5" stroke="#b0b0b0" stroke-width="1.1"/>
<line x1="630.40" y1="645.5" x2="630.40" y2="1149.5" stroke="#b0b0b0" stroke-width="1.1"/>
<line x1="820.70" y1="645.5" x2="820.70" y2="1149.5" stroke="#b0b0b0" stroke-width="1.1"/>
<line x1="1011.00" y1="645.5" x2="1011.00" y2="1149.5" stroke="#b0b0b0" stroke-width="1.1"/>
<line x1="1201.30" y1="645.5" x2="1201.30" y2="1149.5" stroke="#b0b0b0" stroke-width="1.1"/>
<line x1="1391.60" y1="645.5" x2="1391.60" y2="1149.5" stroke="#b0b0b0" stroke-width="1.1"/>
<line x1="1581.90" y1="645.5" x2="1581.90" y2="1149.5" stroke="#b0b0b0" stroke-width="1.1"/>
<line x1="1772.20" y1="645.5" x2="1772.20" y2="1149.5" stroke="#b0b0b0" stroke-width="1.1"/>
<line x1="1962.50" y1="645.5" x2="1962.50" y2="1149.5" stroke="#b0b0b0" stroke-width="1.1"/>
<line x1="2152.80" y1="645.5" x2="2152.80" y2="1149.5" stroke="#b0b0b0" stroke-width="1.1"/>
<g clip-path="url(#clipbot)"><path d="M59.5 1015.3 61.1 1015.5 62.7 1019.1 64.3 1021.2 65.8 1017.0 67.4 1016.7 69.0 1012.2 70.6 1011.5 72.2 1013.5 73.8 1008.9 75.4 1007.3 76.9 1003.0 78.5 999.2 80.1 994.9 81.7 996.9 83.3 996.9 84.9 996.1 86.5 1002.1 88.0 1008.5 89.6 1013.1 91.2 1017.2 92.8 1017.2 94.4 1012.2 96.0 1019.3 97.6 1018.9 99.1 1017.7 100.7 1018.4 102.3 1008.6 103.9 1007.5 105.5 1005.6 107.1 1007.0 108.7 1004.7 110.2 1010.7 111.8 1015.1 113.4 1014.8 115.0 1013.5 116.6 1012.1 118.2 1012.6 119.8 1010.6 121.3 1011.1 122.9 1012.1 124.5 1013.1 126.1 1014.7 127.7 1015.2 129.3 1011.1 130.9 1006.5 132.4 1007.2 134.0 999.9 135.6 1003.5 137.2 1004.1 138.8 1006.0 140.4 1011.3 142.0 1013.4 143.5 1013.7 145.1 1015.8 146.7 1014.7 148.3 1016.1 149.9 1012.4 151.5 1011.5 153.1 1011.1 154.7 1013.6 156.2 1013.9 157.8 1014.3 159.4 1015.9 161.0 1019.2 162.6 1019.0 164.2 1022.5 165.8 1021.2 167.3 1017.1 168.9 1015.2 170.5 1016.6 172.1 1012.3 173.7 1014.4 175.3 1009.8 176.9 1013.3 178.4 1012.6 180.0 1012.1 181.6 1014.1 183.2 1018.0 184.8 1016.1 186.4 1010.5 188.0 1009.6 189.5 1009.9 191.1 1004.2 192.7 1006.8 194.3 1008.6 195.9 1012.0 197.5 1011.8 199.1 1012.7 200.6 1012.9 202.2 1015.8 203.8 1014.5 205.4 1015.0 207.0 1011.2 208.6 1013.7 210.2 1015.9 211.7 1017.4 213.3 1020.4 214.9 1020.2 216.5 1017.1 218.1 1015.6 219.7 1016.2 221.3 1019.5 222.8 1017.9 224.4 1016.3 226.0 1018.0 227.6 1014.2 229.2 1014.8 230.8 1014.7 232.4 1015.4 233.9 1014.6 235.5 1016.0 237.1 1015.9 238.7 1011.2 240.3 1012.1 241.9 1009.4 243.5 1002.4 245.0 998.3 246.6 992.0 248.2 987.4 249.8 996.1 251.4 1002.9 253.0 1006.7 254.6 1011.7 256.1 1010.0 257.7 1012.5 259.3 1014.7 260.9 1016.6 262.5 1014.6 264.1 1018.7 265.7 1019.6 267.2 1018.3 268.8 1010.7 270.4 1009.6 272.0 1006.8 273.6 1010.9 275.2 1013.4 276.8 1013.4 278.3 1012.3 279.9 1013.0 281.5 1008.2 283.1 1008.0 284.7 1002.8 286.3 1002.9 287.9 998.1 289.4 998.5 291.0 1000.9 292.6 1000.9 294.2 1006.7 295.8 1014.4 297.4 1016.3 299.0 1015.3 300.5 1015.6 302.1 1018.4 303.7 1017.4 305.3 1015.5 306.9 1016.6 308.5 1015.5 310.1 1014.0 311.6 1016.8 313.2 1014.2 314.8 1014.4 316.4 1015.3 318.0 1014.5 319.6 1018.3 321.2 1014.9 322.7 1017.5 324.3 1017.3 325.9 1018.3 327.5 1019.7 329.1 1018.4 330.7 1022.3 332.3 1020.6 333.8 1019.2 335.4 1017.7 337.0 1015.2 338.6 1015.4 340.2 1014.0 341.8 1015.5 343.4 1018.6 345.0 1017.0 346.5 1014.8 348.1 1014.5 349.7 1015.9 351.3 1016.2 352.9 1015.2 354.5 1015.0 356.1 1014.5 357.6 1009.4 359.2 1009.0 360.8 1004.5 362.4 1003.8 364.0 1006.1 365.6 1006.4 367.2 1014.1 368.7 1018.3 370.3 1017.9 371.9 1013.7 373.5 1012.3 375.1 1013.8 376.7 1014.8 378.3 1013.9 379.8 1011.5 381.4 1010.0 383.0 1009.1 384.6 1010.4 386.2 1008.2 387.8 1007.8 389.4 1006.7 390.9 1008.5 392.5 1005.2 394.1 1004.3 395.7 1005.4 397.3 1005.5 398.9 1002.1 400.5 996.9 402.0 996.7 403.6 988.5 405.2 984.6 406.8 980.3 408.4 982.4 410.0 982.6 411.6 984.3 413.1 995.7 414.7 999.3 416.3 1002.2 417.9 1002.4 419.5 1000.4 421.1 997.2 422.7 1003.6 424.2 999.7 425.8 1005.2 427.4 1003.2 429.0 1001.9 430.6 999.4 432.2 1003.5 433.8 1004.9 435.3 1004.4 436.9 1007.4 438.5 1003.9 440.1 1004.5 441.7 1002.4 443.3 1005.7 444.9 1010.6 446.4 1008.2 448.0 1005.4 449.6 1000.5 451.2 999.1 452.8 1000.7 454.4 1003.7 456.0 1003.8 457.5 1002.4 459.1 1002.3 460.7 999.1 462.3 1000.7 463.9 994.7 465.5 996.9 467.1 996.8 468.6 998.0 470.2 999.7 471.8 1004.6 473.4 1005.9 475.0 1007.3 476.6 1007.0 478.2 1003.5 479.7 1006.6 481.3 1007.9 482.9 1007.8 484.5 1006.6 486.1 1010.9 487.7 1006.5 489.3 1007.8 490.8 1009.1 492.4 1006.9 494.0 1005.5 495.6 1008.0 497.2 1008.7 498.8 1007.7 500.4 1006.8 501.9 1006.2 503.5 1004.0 505.1 1002.1 506.7 998.7 508.3 995.9 509.9 991.7 511.5 993.1 513.0 994.4 514.6 994.2 516.2 1000.2 517.8 999.7 519.4 1000.5 521.0 998.8 522.6 1000.2 524.1 1000.1 525.7 996.6 527.3 995.0 528.9 996.1 530.5 998.6 532.1 1000.6 533.7 997.4 535.2 997.7 536.8 995.9 538.4 998.0 540.0 997.9 541.6 995.7 543.2 995.0 544.8 993.0 546.4 991.9 547.9 986.0 549.5 985.0 551.1 984.3 552.7 987.0 554.3 985.3 555.9 983.5 557.5 984.0 559.0 985.3 560.6 976.6 562.2 976.6 563.8 970.4 565.4 969.5 567.0 969.0 568.6 972.1 570.1 969.5 571.7 969.8 573.3 969.6 574.9 972.1 576.5 974.7 578.1 979.8 579.7 983.4 581.2 982.4 582.8 984.4 584.4 983.8 586.0 981.3 587.6 981.6 589.2 975.4 590.8 968.9 592.3 967.4 593.9 961.6 595.5 959.9 597.1 968.2 598.7 971.1 600.3 975.9 601.9 980.2 603.4 986.1 605.0 992.9 606.6 991.6 608.2 990.3 609.8 991.2 611.4 988.4 613.0 984.3 614.5 988.4 616.1 985.6 617.7 987.4 619.3 989.6 620.9 990.7 622.5 990.1 624.1 994.5 625.6 993.3 627.2 993.8 628.8 994.8 630.4 993.8 632.0 991.1 633.6 989.5 635.2 988.1 636.7 982.2 638.3 981.6 639.9 980.9 641.5 982.5 643.1 979.0 644.7 977.9 646.3 973.6 647.8 969.8 649.4 965.1 651.0 960.4 652.6 960.5 654.2 961.3 655.8 966.5 657.4 966.7 658.9 974.9 660.5 982.9 662.1 985.4 663.7 988.0 665.3 987.5 666.9 988.4 668.5 987.8 670.0 987.6 671.6 987.1 673.2 983.8 674.8 981.2 676.4 974.1 678.0 972.1 679.6 971.4 681.1 968.4 682.7 964.2 684.3 968.3 685.9 977.1 687.5 977.8 689.1 985.2 690.7 987.0 692.2 987.0 693.8 990.7 695.4 985.1 697.0 986.2 698.6 984.4 700.2 982.9 701.8 982.6 703.3 988.4 704.9 988.9 706.5 995.0 708.1 990.4 709.7 992.1 711.3 988.7 712.9 992.2 714.4 990.1 716.0 989.4 717.6 985.6 719.2 987.6 720.8 987.6 722.4 984.9 724.0 983.0 725.6 981.3 727.1 980.7 728.7 979.5 730.3 985.3 731.9 982.9 733.5 987.4 735.1 990.8 736.7 993.4 738.2 991.3 739.8 985.8 741.4 986.7 743.0 980.6 744.6 986.3 746.2 986.2 747.8 988.1 749.3 986.9 750.9 990.4 752.5 991.5 754.1 985.3 755.7 985.2 757.3 983.9 758.9 984.2 760.4 987.0 762.0 986.2 763.6 988.9 765.2 992.3 766.8 988.1 768.4 990.1 770.0 987.8 771.5 991.8 773.1 991.6 774.7 993.2 776.3 994.3 777.9 995.5 779.5 996.9 781.1 997.8 782.6 996.9 784.2 1001.3 785.8 1001.8 787.4 995.3 789.0 991.7 790.6 989.0 792.2 985.8 793.7 986.6 795.3 989.6 796.9 992.7 798.5 998.1 800.1 1000.8 801.7 1000.2 803.3 999.5 804.8 1000.0 806.4 998.1 808.0 996.1 809.6 996.6 811.2 997.5 812.8 995.7 814.4 999.6 815.9 999.9 817.5 997.0 819.1 999.9 820.7 1002.5 822.3 998.8 823.9 1000.0 825.5 998.6 827.0 999.4 828.6 998.3 830.2 999.7 831.8 995.4 833.4 993.6 835.0 992.1 836.6 993.2 838.1 992.2 839.7 994.1 841.3 991.6 842.9 996.3 844.5 996.6 846.1 998.0 847.7 995.2 849.2 993.7 850.8 991.7 852.4 991.7 854.0 990.2 855.6 988.2 857.2 990.2 858.8 987.7 860.3 993.4 861.9 994.7 863.5 995.3 865.1 998.4 866.7 999.7 868.3 1003.6 869.9 1004.9 871.4 1005.1 873.0 1004.4 874.6 1000.9 876.2 999.4 877.8 1000.9 879.4 998.5 881.0 996.6 882.5 997.6 884.1 999.7 885.7 995.1 887.3 990.4 888.9 985.1 890.5 984.0 892.1 980.3 893.6 983.6 895.2 983.6 896.8 981.3 898.4 981.9 900.0 976.5 901.6 980.6 903.2 977.6 904.7 979.8 906.3 975.2 907.9 968.6 909.5 966.8 911.1 958.4 912.7 960.6 914.3 964.5 915.9 974.2 917.4 979.8 919.0 985.2 920.6 993.0 922.2 994.8 923.8 993.4 925.4 990.3 927.0 994.1 928.5 994.3 930.1 994.8 931.7 999.9 933.3 996.0 934.9 995.9 936.5 995.3 938.1 995.4 939.6 993.0 941.2 994.6 942.8 999.0 944.4 995.7 946.0 998.9 947.6 996.9 949.2 990.8 950.7 991.8 952.3 992.9 953.9 994.0 955.5 998.1 957.1 1000.8 958.7 1006.1 960.3 1000.8 961.8 996.8 963.4 994.8 965.0 992.7 966.6 991.4 968.2 990.4 969.8 984.8 971.4 982.7 972.9 980.5 974.5 981.4 976.1 984.6 977.7 984.1 979.3 992.4 980.9 997.1 982.5 999.9 984.0 996.5 985.6 992.9 987.2 989.1 988.8 985.9 990.4 986.5 992.0 985.9 993.6 986.9 995.1 990.7 996.7 995.7 998.3 994.9 999.9 1000.4 1001.5 1000.2 1003.1 1000.0 1004.7 996.3 1006.2 996.5 1007.8 994.9 1009.4 994.7 1011.0 999.3 1012.6 1002.1 1014.2 1004.7 1015.8 1006.8 1017.3 1004.9 1018.9 1002.9 1020.5 1000.5 1022.1 998.4 1023.7 994.4 1025.3 995.4 1026.9 996.2 1028.4 997.5 1030.0 1005.2 1031.6 1007.3 1033.2 1010.4 1034.8 1008.2 1036.4 1006.3 1038.0 1005.0 1039.5 997.5 1041.1 998.4 1042.7 1002.1 1044.3 1002.8 1045.9 1003.8 1047.5 1003.1 1049.1 1002.3 1050.6 1003.0 1052.2 999.5 1053.8 1008.2 1055.4 1004.8 1057.0 1006.5 1058.6 1004.1 1060.2 1002.2 1061.7 996.6 1063.3 999.9 1064.9 1003.1 1066.5 1007.3 1068.1 1006.0 1069.7 1012.4 1071.3 1016.1 1072.8 1009.7 1074.4 1011.3 1076.0 1007.8 1077.6 1005.9 1079.2 1007.2 1080.8 1009.0 1082.4 1006.1 1083.9 1001.6 1085.5 996.5 1087.1 994.0 1088.7 996.9 1090.3 1000.4 1091.9 1007.5 1093.5 1009.6 1095.0 1011.7 1096.6 1008.2 1098.2 1010.4 1099.8 1001.7 1101.4 1001.1 1103.0 999.7 1104.6 1000.1 1106.2 1001.5 1107.7 1000.6 1109.3 1000.9 1110.9 1004.1 1112.5 1006.4 1114.1 1009.3 1115.7 1003.4 1117.3 1006.7 1118.8 999.6 1120.4 1006.3 1122.0 1000.8 1123.6 999.2 1125.2 998.6 1126.8 994.3 1128.4 988.4 1129.9 980.2 1131.5 977.5 1133.1 980.0 1134.7 984.2 1136.3 990.6 1137.9 990.3 1139.5 993.5 1141.0 993.5 1142.6 991.1 1144.2 985.4 1145.8 983.3 1147.4 986.4 1149.0 988.8 1150.6 996.0 1152.1 998.3 1153.7 995.3 1155.3 992.2 1156.9 989.6 1158.5 985.6 1160.1 986.9 1161.7 981.4 1163.2 988.6 1164.8 992.5 1166.4 995.9 1168.0 1002.3 1169.6 993.4 1171.2 982.8 1172.8 971.0 1174.3 960.5 1175.9 957.9 1177.5 959.0 1179.1 963.5 1180.7 960.7 1182.3 973.7 1183.9 982.3 1185.4 985.5 1187.0 984.5 1188.6 985.0 1190.2 989.7 1191.8 993.1 1193.4 998.8 1195.0 1006.5 1196.5 1005.1 1198.1 1005.2 1199.7 1007.8 1201.3 1002.3 1202.9 998.0 1204.5 996.9 1206.1 994.6 1207.6 989.5 1209.2 983.1 1210.8 981.8 1212.4 975.6 1214.0 971.0 1215.6 966.1 1217.2 964.8 1218.7 968.0 1220.3 973.8 1221.9 978.0 1223.5 982.2 1225.1 986.0 1226.7 994.7 1228.3 994.6 1229.8 1004.7 1231.4 999.9 1233.0 997.9 1234.6 993.8 1236.2 989.7 1237.8 986.0 1239.4 990.5 1240.9 991.4 1242.5 995.0 1244.1 994.3 1245.7 993.7 1247.3 995.0 1248.9 990.2 1250.5 990.4 1252.0 985.1 1253.6 982.7 1255.2 974.4 1256.8 969.7 1258.4 966.6 1260.0 973.7 1261.6 980.8 1263.1 984.5 1264.7 992.0 1266.3 1000.6 1267.9 999.4 1269.5 996.4 1271.1 991.3 1272.7 990.6 1274.2 986.5 1275.8 987.0 1277.4 988.1 1279.0 988.7 1280.6 989.6 1282.2 993.2 1283.8 991.5 1285.3 996.3 1286.9 996.3 1288.5 998.2 1290.1 996.1 1291.7 992.6 1293.3 982.4 1294.9 974.3 1296.5 965.6 1298.0 958.6 1299.6 948.0 1301.2 942.9 1302.8 946.1 1304.4 951.9 1306.0 968.2 1307.6 982.4 1309.1 991.5 1310.7 999.8 1312.3 1001.1 1313.9 1000.9 1315.5 1005.1 1317.1 1005.3 1318.7 1006.1 1320.2 1000.2 1321.8 995.9 1323.4 991.4 1325.0 987.9 1326.6 983.7 1328.2 980.1 1329.8 976.8 1331.3 971.3 1332.9 975.8 1334.5 973.4 1336.1 980.6 1337.7 984.5 1339.3 986.6 1340.9 987.5 1342.4 990.7 1344.0 989.5 1345.6 997.1 1347.2 997.8 1348.8 1000.4 1350.4 1003.6 1352.0 1000.3 1353.5 999.0 1355.1 994.4 1356.7 987.9 1358.3 981.7 1359.9 970.4 1361.5 959.7 1363.1 961.5 1364.6 971.2 1366.2 984.1 1367.8 991.8 1369.4 1000.0 1371.0 997.0 1372.6 997.6 1374.2 995.6 1375.7 991.4 1377.3 996.3 1378.9 996.3 1380.5 995.5 1382.1 994.0 1383.7 992.4 1385.3 988.0 1386.8 989.0 1388.4 988.0 1390.0 990.9 1391.6 983.5 1393.2 978.1 1394.8 973.1 1396.4 974.2 1397.9 980.5 1399.5 989.6 1401.1 994.0 1402.7 993.9 1404.3 987.4 1405.9 986.4 1407.5 984.6 1409.0 987.0 1410.6 991.3 1412.2 996.1 1413.8 993.3 1415.4 995.4 1417.0 989.5 1418.6 987.7 1420.1 986.4 1421.7 985.1 1423.3 983.6 1424.9 978.0 1426.5 976.5 1428.1 976.1 1429.7 980.0 1431.2 981.8 1432.8 975.3 1434.4 973.4 1436.0 964.8 1437.6 960.3 1439.2 966.1 1440.8 978.5 1442.3 986.3 1443.9 999.2 1445.5 994.2 1447.1 995.2 1448.7 987.5 1450.3 984.9 1451.9 985.8 1453.4 982.9 1455.0 983.1 1456.6 978.5 1458.2 973.2 1459.8 964.4 1461.4 963.5 1463.0 974.5 1464.5 979.4 1466.1 988.2 1467.7 995.6 1469.3 993.1 1470.9 994.6 1472.5 989.1 1474.1 986.7 1475.6 984.7 1477.2 982.7 1478.8 978.2 1480.4 982.6 1482.0 983.9 1483.6 987.8 1485.2 992.6 1486.8 999.1 1488.3 998.8 1489.9 1001.0 1491.5 996.6 1493.1 1000.3 1494.7 1000.9 1496.3 997.2 1497.9 996.5 1499.4 993.0 1501.0 989.0 1502.6 990.6 1504.2 992.6 1505.8 993.9 1507.4 998.3 1509.0 997.6 1510.5 997.4 1512.1 997.1 1513.7 995.5 1515.3 997.7 1516.9 995.1 1518.5 999.6 1520.1 998.9 1521.6 998.5 1523.2 996.3 1524.8 993.5 1526.4 988.4 1528.0 986.3 1529.6 984.4 1531.2 980.1 1532.7 979.5 1534.3 981.9 1535.9 983.9 1537.5 983.7 1539.1 981.8 1540.7 984.8 1542.3 987.6 1543.8 990.1 1545.4 993.3 1547.0 997.6 1548.6 999.8 1550.2 993.0 1551.8 984.4 1553.4 976.8 1554.9 967.0 1556.5 960.7 1558.1 961.0 1559.7 960.0 1561.3 964.4 1562.9 965.8 1564.5 973.9 1566.0 977.8 1567.6 984.9 1569.2 985.3 1570.8 980.0 1572.4 980.5 1574.0 975.1 1575.6 980.0 1577.1 979.4 1578.7 977.6 1580.3 980.6 1581.9 977.1 1583.5 978.0 1585.1 979.4 1586.7 984.2 1588.2 989.9 1589.8 991.7 1591.4 986.9 1593.0 987.3 1594.6 982.5 1596.2 980.9 1597.8 982.0 1599.3 980.2 1600.9 975.4 1602.5 977.4 1604.1 978.6 1605.7 980.5 1607.3 993.1 1608.9 1000.5 1610.4 1004.7 1612.0 1002.2 1613.6 1005.3 1615.2 1003.1 1616.8 996.5 1618.4 997.8 1620.0 987.1 1621.5 987.5 1623.1 989.2 1624.7 994.3 1626.3 996.7 1627.9 1003.0 1629.5 1003.8 1631.1 1004.2 1632.6 999.8 1634.2 994.6 1635.8 999.5 1637.4 998.0 1639.0 993.3 1640.6 980.6 1642.2 970.1 1643.7 959.0 1645.3 946.4 1646.9 948.7 1648.5 951.4 1650.1 952.9 1651.7 962.6 1653.3 966.9 1654.8 975.0 1656.4 977.2 1658.0 977.7 1659.6 980.0 1661.2 985.5 1662.8 986.9 1664.4 992.4 1665.9 994.7 1667.5 994.3 1669.1 994.1 1670.7 984.5 1672.3 978.0 1673.9 970.5 1675.5 973.6 1677.1 978.0 1678.6 977.9 1680.2 973.1 1681.8 973.6 1683.4 973.4 1685.0 973.0 1686.6 978.9 1688.2 980.5 1689.7 986.2 1691.3 989.8 1692.9 996.4 1694.5 999.6 1696.1 1005.8 1697.7 1009.8 1699.3 1009.2 1700.8 1006.8 1702.4 1010.2 1704.0 1004.8 1705.6 1000.6 1707.2 993.4 1708.8 991.8 1710.4 988.0 1711.9 987.6 1713.5 988.7 1715.1 985.8 1716.7 983.5 1718.3 983.8 1719.9 985.4 1721.5 977.7 1723.0 981.5 1724.6 986.4 1726.2 991.9 1727.8 991.6 1729.4 1001.8 1731.0 1002.1 1732.6 998.8 1734.1 988.9 1735.7 989.6 1737.3 989.5 1738.9 991.1 1740.5 989.6 1742.1 990.7 1743.7 989.7 1745.2 988.1 1746.8 982.9 1748.4 979.9 1750.0 983.0 1751.6 976.3 1753.2 976.5 1754.8 973.9 1756.3 971.6 1757.9 978.4 1759.5 981.9 1761.1 988.7 1762.7 996.8 1764.3 1005.7 1765.9 1006.3 1767.4 1008.5 1769.0 1010.0 1770.6 1016.5 1772.2 1009.6 1773.8 1008.1 1775.4 1004.1 1777.0 1000.6 1778.5 1000.7 1780.1 999.5 1781.7 995.3 1783.3 992.3 1784.9 989.5 1786.5 987.6 1788.1 992.8 1789.6 999.5 1791.2 1001.4 1792.8 1000.0 1794.4 1001.4 1796.0 1002.7 1797.6 1005.2 1799.2 1008.1 1800.7 1009.5 1802.3 1010.1 1803.9 1014.8 1805.5 1015.6 1807.1 1016.5 1808.7 1015.2 1810.3 1010.9 1811.8 1013.2 1813.4 1012.6 1815.0 1012.3 1816.6 1013.2 1818.2 1011.9 1819.8 1011.6 1821.4 1011.2 1822.9 1009.2 1824.5 1009.3 1826.1 1006.8 1827.7 1010.7 1829.3 1008.1 1830.9 1010.7 1832.5 1014.2 1834.0 1013.0 1835.6 1015.3 1837.2 1015.9 1838.8 1020.4 1840.4 1018.0 1842.0 1021.5 1843.6 1014.6 1845.1 1012.2 1846.7 1011.7 1848.3 1011.0 1849.9 1012.0 1851.5 1007.7 1853.1 1006.1 1854.7 1007.1 1856.2 1005.9 1857.8 1006.8 1859.4 1007.6 1861.0 1008.7 1862.6 1011.9 1864.2 1012.3 1865.8 1011.1 1867.4 1005.0 1868.9 1006.0 1870.5 1005.4 1872.1 1008.1 1873.7 1007.3 1875.3 1006.2 1876.9 1007.8 1878.5 1007.7 1880.0 1007.4 1881.6 1008.0 1883.2 1009.3 1884.8 1014.1 1886.4 1017.6 1888.0 1018.1 1889.6 1019.4 1891.1 1017.3 1892.7 1020.5 1894.3 1017.3 1895.9 1021.0 1897.5 1015.5 1899.1 1011.2 1900.7 1004.9 1902.2 1007.8 1903.8 1009.5 1905.4 1008.5 1907.0 1015.6 1908.6 1012.7 1910.2 1015.1 1911.8 1014.7 1913.3 1013.5 1914.9 1017.4 1916.5 1016.0 1918.1 1013.8 1919.7 1008.3 1921.3 1010.0 1922.9 1007.6 1924.4 1002.7 1926.0 1001.3 1927.6 1005.3 1929.2 1004.1 1930.8 1004.0 1932.4 1010.4 1934.0 1013.1 1935.5 1016.3 1937.1 1015.0 1938.7 1013.6 1940.3 1012.4 1941.9 1010.7 1943.5 1008.1 1945.1 1011.0 1946.6 1012.8 1948.2 1012.3 1949.8 1011.7 1951.4 1011.9 1953.0 1013.7 1954.6 1010.7 1956.2 1015.8 1957.7 1014.4 1959.3 1013.1 1960.9 1015.0 1962.5 1016.0 1964.1 1009.3 1965.7 1009.8 1967.3 1007.0 1968.8 1007.9 1970.4 1009.2 1972.0 1007.6 1973.6 1006.4 1975.2 1009.1 1976.8 1007.5 1978.4 1007.5 1979.9 1010.5 1981.5 1010.0 1983.1 1008.9 1984.7 1008.8 1986.3 1004.3 1987.9 999.5 1989.5 1001.6 1991.0 999.9 1992.6 1000.6 1994.2 1004.8 1995.8 1005.6 1997.4 1008.5 1999.0 1003.7 2000.6 1003.6 2002.1 1005.1 2003.7 999.4 2005.3 1000.9 2006.9 1002.9 2008.5 1002.1 2010.1 1002.9 2011.7 1005.8 2013.2 1004.8 2014.8 1000.2 2016.4 998.0 2018.0 998.1 2019.6 996.8 2021.2 997.8 2022.8 996.6 2024.3 994.1 2025.9 994.9 2027.5 994.7 2029.1 996.1 2030.7 996.8 2032.3 998.2 2033.9 997.6 2035.4 1000.9 2037.0 1001.3 2038.6 1002.7 2040.2 1002.8 2041.8 999.7 2043.4 1001.0 2045.0 1001.3 2046.5 1002.8 2048.1 1001.3 2049.7 1002.5 2051.3 1001.7 2052.9 1000.6 2054.5 1001.8 2056.1 1005.4 2057.7 1000.8 2059.2 1004.7 2060.8 1002.6 2062.4 1003.0 2064.0 1004.3 2065.6 1002.5 2067.2 1002.8 2068.8 1002.2 2070.3 1002.1 2071.9 1002.0 2073.5 1004.5 2075.1 1001.2 2076.7 1003.0 2078.3 999.1 2079.9 1000.4 2081.4 1000.2 2083.0 998.0 2084.6 997.3 2086.2 994.3 2087.8 997.2 2089.4 998.1 2091.0 1000.7 2092.5 999.3 2094.1 1000.7 2095.7 1000.3 2097.3 998.6 2098.9 1000.6 2100.5 999.6 2102.1 998.8 2103.6 1001.3 2105.2 998.9 2106.8 1000.0 2108.4 997.7 2110.0 999.7 2111.6 998.5 2113.2 999.1 2114.7 998.0 2116.3 998.5 2117.9 999.5 2119.5 997.3 2121.1 999.4 2122.7 1000.1 2124.3 999.4 2125.8 999.3 2127.4 997.6 2129.0 995.6 2130.6 997.6 2132.2 994.7 2133.8 993.8 2135.4 997.8 2136.9 999.1 2138.5 1000.2 2140.1 1002.2 2141.7 1002.6 2143.3 999.3 2144.9 1002.2 2146.5 1000.2 2148.0 1002.8 2149.6 997.7 2151.2 996.0 2152.8 1001.8 2154.4 999.9 2156.0 998.8 2157.6 999.8 2159.1 1001.6 2160.7 1000.2 2162.3 997.8 2163.9 994.3 2165.5 993.3 2167.1 993.2 2168.7 992.2 2170.2 993.4 2171.8 1000.6 2173.4 997.1 2175.0 1002.3 2176.6 999.5 2178.2 1001.0 2179.8 1000.5 2181.3 999.6 2182.9 998.7 2184.5 996.0 2186.1 998.8 2187.7 999.3 2189.3 997.2 2190.9 1000.5 2192.4 998.7 2194.0 999.2 2195.6 1002.7 2197.2 999.9 2198.8 1001.2 2200.4 1000.9 2202.0 999.6 2203.5 999.1 2205.1 997.3 2206.7 996.8 2208.3 995.5 2209.9 999.9 2211.5 1003.8 2213.1 1003.1 2214.6 1001.1 2216.2 1000.9 2217.8 995.7 2219.4 1001.1 2221.0 998.3 2222.6 1001.0 2224.2 999.9 2225.7 999.2 2227.3 998.0 2228.9 1001.6 2230.5 1001.1 2232.1 1003.5 2233.7 1002.3 2235.3 1001.7 2236.8 1004.9 2238.4 1001.7 2240.0 999.7 2241.6 1002.1 2243.2 1002.9 2244.8 999.7 2246.4 999.7 2248.0 1001.8 2249.5 1005.3 2251.1 998.5 2252.7 999.6 2254.3 1000.7 2255.9 1001.1 2257.5 1003.9 2259.1 1003.4 2260.6 1005.3 2262.2 1004.3 2263.8 1003.7 2265.4 1007.9 2267.0 1008.2 2268.6 1001.8 2270.2 1005.9 2271.7 1003.1 2273.3 1005.8 2274.9 1005.0 2276.5 1002.7 2278.1 1002.8 2279.7 1004.7 2281.3 1005.5 2282.8 1004.0 2284.4 1009.3 2286.0 1006.2 2287.6 1004.1 2289.2 1005.7 2290.8 1004.6 2292.4 1008.8 2293.9 1005.6 2295.5 1004.9 2297.1 1006.4 2298.7 1005.6 2300.3 1003.0 2301.9 1003.8 2303.5 1005.3 2305.0 1005.3 2306.6 1006.7 2308.2 1002.2 2309.8 1005.0 2311.4 1005.8 2313.0 1005.2 2314.6 1004.9 2316.1 1007.0 2317.7 1004.9 2319.3 1001.2 2320.9 1003.6 2322.5 1002.7 2324.1 998.1 2325.7 1000.0 2327.2 998.7 2328.8 994.5 2330.4 994.9 2332.0 996.3 2333.6 998.3 2335.2 997.2 2336.8 1000.4 2338.3 1005.2 2339.9 1004.5 2341.5 1002.5" stroke="#dc143c" stroke-width="1.5" fill="none" stroke-linejoin="round"/><path d="M59.5 1026.8 61.1 1028.1 62.7 1027.6 64.3 1032.2 65.8 1031.0 67.4 1032.4 69.0 1027.0 70.6 1026.6 72.2 1021.2 73.8 1021.9 75.4 1017.9 76.9 1014.9 78.5 1012.9 80.1 1010.9 81.7 1010.3 83.3 1009.2 84.9 1005.9 86.5 1010.2 88.0 1019.9 89.6 1031.2 91.2 1027.1 92.8 1027.3 94.4 1031.4 96.0 1028.9 97.6 1031.7 99.1 1032.7 100.7 1031.8 102.3 1022.3 103.9 1021.0 105.5 1018.9 107.1 1018.6 108.7 1018.6 110.2 1023.5 111.8 1027.8 113.4 1028.3 115.0 1027.6 116.6 1024.8 118.2 1027.5 119.8 1023.0 121.3 1023.2 122.9 1024.8 124.5 1026.1 126.1 1024.5 127.7 1028.7 129.3 1027.4 130.9 1024.9 132.4 1025.0 134.0 1019.7 135.6 1019.1 137.2 1015.6 138.8 1015.5 140.4 1020.9 142.0 1027.3 143.5 1029.0 145.1 1027.1 146.7 1025.3 148.3 1027.1 149.9 1024.2 151.5 1022.6 153.1 1025.3 154.7 1025.5 156.2 1025.7 157.8 1030.1 159.4 1030.1 161.0 1032.4 162.6 1031.2 164.2 1033.6 165.8 1033.0 167.3 1031.4 168.9 1029.8 170.5 1026.4 172.1 1024.3 173.7 1025.1 175.3 1026.3 176.9 1029.4 178.4 1029.6 180.0 1029.0 181.6 1029.9 183.2 1028.0 184.8 1027.4 186.4 1025.6 188.0 1024.5 189.5 1024.6 191.1 1023.4 192.7 1025.1 194.3 1022.4 195.9 1025.7 197.5 1023.1 199.1 1025.1 200.6 1028.2 202.2 1028.5 203.8 1031.8 205.4 1032.2 207.0 1030.9 208.6 1033.0 210.2 1031.0 211.7 1034.3 213.3 1032.3 214.9 1031.7 216.5 1031.5 218.1 1033.4 219.7 1033.2 221.3 1033.5 222.8 1034.3 224.4 1035.1 226.0 1035.9 227.6 1033.9 229.2 1032.3 230.8 1034.2 232.4 1033.9 233.9 1033.5 235.5 1029.1 237.1 1028.3 238.7 1031.6 240.3 1024.0 241.9 1021.3 243.5 1017.4 245.0 1013.9 246.6 1006.9 248.2 1008.1 249.8 1015.6 251.4 1019.4 253.0 1021.7 254.6 1025.5 256.1 1027.7 257.7 1031.3 259.3 1029.5 260.9 1033.8 262.5 1033.1 264.1 1033.5 265.7 1033.3 267.2 1031.6 268.8 1031.8 270.4 1030.8 272.0 1026.7 273.6 1027.5 275.2 1023.2 276.8 1024.1 278.3 1024.9 279.9 1021.6 281.5 1022.7 283.1 1020.7 284.7 1016.1 286.3 1015.3 287.9 1013.5 289.4 1014.1 291.0 1013.2 292.6 1017.2 294.2 1019.7 295.8 1022.1 297.4 1030.4 299.0 1027.8 300.5 1031.6 302.1 1029.7 303.7 1028.5 305.3 1029.8 306.9 1028.3 308.5 1030.5 310.1 1028.6 311.6 1026.1 313.2 1026.7 314.8 1028.0 316.4 1026.3 318.0 1027.3 319.6 1028.7 321.2 1029.4 322.7 1031.0 324.3 1030.0 325.9 1030.3 327.5 1034.7 329.1 1030.8 330.7 1034.5 332.3 1035.3 333.8 1034.2 335.4 1033.7 337.0 1032.1 338.6 1032.4 340.2 1033.4 341.8 1033.5 343.4 1029.8 345.0 1030.4 346.5 1030.7 348.1 1029.7 349.7 1027.9 351.3 1025.8 352.9 1028.8 354.5 1027.3 356.1 1026.0 357.6 1022.9 359.2 1020.3 360.8 1020.6 362.4 1019.3 364.0 1019.8 365.6 1019.9 367.2 1023.5 368.7 1027.5 370.3 1029.6 371.9 1028.5 373.5 1026.8 375.1 1025.7 376.7 1026.1 378.3 1022.4 379.8 1023.5 381.4 1023.4 383.0 1022.0 384.6 1021.4 386.2 1020.9 387.8 1020.2 389.4 1017.0 390.9 1018.8 392.5 1016.9 394.1 1015.3 395.7 1016.9 397.3 1017.4 398.9 1015.8 400.5 1012.1 402.0 1004.8 403.6 1007.3 405.2 1003.9 406.8 999.0 408.4 997.8 410.0 1001.8 411.6 1001.9 413.1 1008.3 414.7 1013.4 416.3 1012.7 417.9 1011.8 419.5 1010.4 421.1 1013.6 422.7 1014.2 424.2 1017.7 425.8 1016.5 427.4 1018.1 429.0 1016.9 430.6 1015.1 432.2 1017.4 433.8 1017.9 435.3 1021.4 436.9 1022.3 438.5 1020.5 440.1 1020.7 441.7 1020.3 443.3 1021.1 444.9 1018.3 446.4 1012.9 448.0 1010.6 449.6 1013.6 451.2 1013.0 452.8 1014.5 454.4 1016.0 456.0 1015.0 457.5 1017.3 459.1 1018.6 460.7 1016.4 462.3 1011.6 463.9 1009.0 465.5 1007.0 467.1 1008.2 468.6 1013.4 470.2 1012.6 471.8 1018.4 473.4 1017.1 475.0 1018.2 476.6 1024.1 478.2 1020.3 479.7 1018.1 481.3 1018.9 482.9 1023.7 484.5 1020.9 486.1 1022.3 487.7 1023.3 489.3 1024.7 490.8 1021.2 492.4 1019.6 494.0 1019.0 495.6 1019.4 497.2 1017.4 498.8 1019.8 500.4 1020.2 501.9 1018.9 503.5 1016.3 505.1 1014.3 506.7 1012.6 508.3 1009.0 509.9 1006.8 511.5 1010.6 513.0 1013.5 514.6 1014.3 516.2 1014.9 517.8 1016.1 519.4 1017.1 521.0 1018.1 522.6 1013.1 524.1 1013.7 525.7 1013.1 527.3 1011.8 528.9 1011.3 530.5 1009.5 532.1 1013.5 533.7 1010.8 535.2 1014.7 536.8 1013.6 538.4 1012.3 540.0 1008.8 541.6 1005.0 543.2 1006.3 544.8 1003.7 546.4 1002.3 547.9 996.7 549.5 999.6 551.1 1001.0 552.7 1002.8 554.3 1000.5 555.9 1002.8 557.5 1000.3 559.0 996.0 560.6 993.9 562.2 989.3 563.8 989.7 565.4 986.4 567.0 984.5 568.6 989.6 570.1 983.4 571.7 987.0 573.3 988.6 574.9 990.1 576.5 994.5 578.1 997.0 579.7 997.4 581.2 1000.8 582.8 1003.1 584.4 997.7 586.0 998.8 587.6 999.2 589.2 997.3 590.8 997.6 592.3 994.1 593.9 984.9 595.5 975.4 597.1 981.9 598.7 987.8 600.3 989.7 601.9 997.7 603.4 1000.4 605.0 1004.7 606.6 1010.1 608.2 1007.5 609.8 1002.0 611.4 1000.3 613.0 999.7 614.5 1003.1 616.1 1001.4 617.7 1003.4 619.3 1004.0 620.9 1005.8 622.5 1006.5 624.1 1006.8 625.6 1008.7 627.2 1007.6 628.8 1010.5 630.4 1006.4 632.0 1009.1 633.6 1004.6 635.2 1005.1 636.7 1003.2 638.3 1001.1 639.9 999.4 641.5 1001.7 643.1 996.2 644.7 998.3 646.3 996.7 647.8 998.0 649.4 998.1 651.0 977.6 652.6 980.1 654.2 980.5 655.8 978.4 657.4 988.4 658.9 996.0 660.5 1003.5 662.1 1005.2 663.7 1008.7 665.3 1006.2 666.9 1008.8 668.5 1005.4 670.0 1002.8 671.6 1003.9 673.2 1005.2 674.8 1000.1 676.4 999.1 678.0 997.6 679.6 992.2 681.1 990.6 682.7 987.3 684.3 990.7 685.9 995.9 687.5 997.3 689.1 1003.5 690.7 1005.1 692.2 1008.0 693.8 1009.5 695.4 1007.2 697.0 1004.8 698.6 1003.3 700.2 1004.2 701.8 1006.5 703.3 1007.5 704.9 1008.8 706.5 1014.1 708.1 1010.4 709.7 1008.9 711.3 1009.3 712.9 1011.0 714.4 1006.7 716.0 1013.4 717.6 1008.0 719.2 1008.1 720.8 1005.8 722.4 1007.5 724.0 1004.3 725.6 1001.8 727.1 1004.6 728.7 1007.5 730.3 1007.8 731.9 1009.9 733.5 1010.4 735.1 1011.5 736.7 1007.8 738.2 1008.1 739.8 1005.2 741.4 1004.2 743.0 1006.6 744.6 1005.9 746.2 1012.0 747.8 1012.1 749.3 1011.8 750.9 1013.0 752.5 1009.4 754.1 1009.0 755.7 1009.1 757.3 1006.4 758.9 1008.4 760.4 1009.7 762.0 1011.1 763.6 1011.5 765.2 1008.1 766.8 1011.7 768.4 1010.9 770.0 1014.1 771.5 1012.3 773.1 1013.4 774.7 1014.3 776.3 1014.5 777.9 1012.2 779.5 1012.8 781.1 1015.6 782.6 1019.2 784.2 1015.2 785.8 1017.2 787.4 1015.0 789.0 1011.6 790.6 1012.4 792.2 1006.7 793.7 1008.8 795.3 1010.9 796.9 1013.8 798.5 1020.9 800.1 1017.8 801.7 1014.9 803.3 1016.3 804.8 1015.6 806.4 1014.9 808.0 1014.2 809.6 1014.0 811.2 1015.4 812.8 1017.6 814.4 1017.8 815.9 1017.8 817.5 1019.5 819.1 1021.6 820.7 1016.0 822.3 1019.5 823.9 1016.3 825.5 1016.5 827.0 1015.4 828.6 1011.9 830.2 1014.2 831.8 1012.8 833.4 1013.1 835.0 1014.4 836.6 1013.4 838.1 1011.5 839.7 1011.3 841.3 1014.7 842.9 1011.6 844.5 1017.2 846.1 1011.8 847.7 1015.7 849.2 1015.4 850.8 1012.3 852.4 1012.9 854.0 1009.8 855.6 1009.0 857.2 1010.1 858.8 1010.1 860.3 1012.0 861.9 1015.5 863.5 1014.8 865.1 1016.3 866.7 1019.3 868.3 1017.8 869.9 1017.9 871.4 1020.8 873.0 1023.7 874.6 1020.5 876.2 1018.4 877.8 1018.1 879.4 1021.0 881.0 1020.3 882.5 1021.2 884.1 1021.5 885.7 1018.7 887.3 1015.4 888.9 1014.1 890.5 1009.7 892.1 1008.3 893.6 1008.9 895.2 1008.8 896.8 1008.3 898.4 1007.3 900.0 1006.0 901.6 1004.3 903.2 999.6 904.7 1000.7 906.3 996.3 907.9 994.9 909.5 992.0 911.1 990.2 912.7 992.1 914.3 1000.7 915.9 1000.7 917.4 1007.7 919.0 1015.4 920.6 1013.9 922.2 1015.3 923.8 1013.4 925.4 1013.8 927.0 1012.6 928.5 1012.3 930.1 1013.7 931.7 1013.0 933.3 1014.5 934.9 1014.5 936.5 1014.8 938.1 1017.6 939.6 1016.0 941.2 1013.9 942.8 1016.6 944.4 1011.4 946.0 1013.7 947.6 1013.3 949.2 1010.5 950.7 1012.5 952.3 1012.1 953.9 1016.3 955.5 1022.3 957.1 1020.9 958.7 1021.7 960.3 1021.9 961.8 1021.1 963.4 1017.9 965.0 1014.6 966.6 1013.0 968.2 1011.6 969.8 1013.7 971.4 1005.0 972.9 1007.3 974.5 1007.5 976.1 1009.5 977.7 1012.1 979.3 1018.1 980.9 1017.9 982.5 1015.6 984.0 1016.9 985.6 1012.2 987.2 1013.9 988.8 1011.3 990.4 1017.8 992.0 1013.6 993.6 1015.2 995.1 1020.5 996.7 1023.2 998.3 1022.3 999.9 1023.5 1001.5 1022.9 1003.1 1018.6 1004.7 1019.6 1006.2 1018.5 1007.8 1016.6 1009.4 1019.1 1011.0 1020.9 1012.6 1023.5 1014.2 1026.2 1015.8 1026.3 1017.3 1026.4 1018.9 1026.6 1020.5 1022.9 1022.1 1026.5 1023.7 1021.2 1025.3 1021.4 1026.9 1023.3 1028.4 1023.7 1030.0 1028.0 1031.6 1027.8 1033.2 1027.9 1034.8 1030.1 1036.4 1030.6 1038.0 1027.3 1039.5 1026.3 1041.1 1026.5 1042.7 1024.4 1044.3 1024.2 1045.9 1027.7 1047.5 1026.8 1049.1 1025.2 1050.6 1026.7 1052.2 1030.3 1053.8 1024.2 1055.4 1025.4 1057.0 1026.4 1058.6 1021.0 1060.2 1021.0 1061.7 1017.2 1063.3 1021.1 1064.9 1022.6 1066.5 1023.2 1068.1 1027.1 1069.7 1030.4 1071.3 1032.6 1072.8 1032.2 1074.4 1027.7 1076.0 1023.8 1077.6 1022.3 1079.2 1023.1 1080.8 1020.5 1082.4 1020.3 1083.9 1018.9 1085.5 1018.2 1087.1 1015.5 1088.7 1018.1 1090.3 1023.0 1091.9 1023.0 1093.5 1028.6 1095.0 1027.7 1096.6 1025.5 1098.2 1023.5 1099.8 1027.5 1101.4 1021.8 1103.0 1019.5 1104.6 1020.7 1106.2 1021.6 1107.7 1024.0 1109.3 1024.5 1110.9 1024.1 1112.5 1028.7 1114.1 1027.5 1115.7 1026.6 1117.3 1026.1 1118.8 1023.7 1120.4 1020.7 1122.0 1020.9 1123.6 1018.7 1125.2 1017.0 1126.8 1010.1 1128.4 1012.4 1129.9 1005.4 1131.5 1003.5 1133.1 1006.9 1134.7 1010.5 1136.3 1011.4 1137.9 1013.5 1139.5 1017.8 1141.0 1019.9 1142.6 1014.7 1144.2 1015.8 1145.8 1012.9 1147.4 1015.1 1149.0 1015.5 1150.6 1017.5 1152.1 1019.1 1153.7 1017.3 1155.3 1017.2 1156.9 1012.6 1158.5 1015.0 1160.1 1013.2 1161.7 1008.4 1163.2 1011.6 1164.8 1014.2 1166.4 1020.0 1168.0 1024.2 1169.6 1015.0 1171.2 1007.0 1172.8 995.3 1174.3 988.4 1175.9 979.2 1177.5 980.0 1179.1 978.0 1180.7 980.7 1182.3 993.5 1183.9 1010.2 1185.4 1006.7 1187.0 1008.0 1188.6 1008.0 1190.2 1013.4 1191.8 1018.2 1193.4 1021.5 1195.0 1022.3 1196.5 1022.1 1198.1 1025.1 1199.7 1025.2 1201.3 1028.0 1202.9 1024.7 1204.5 1023.6 1206.1 1019.1 1207.6 1016.9 1209.2 1016.1 1210.8 1014.0 1212.4 1008.5 1214.0 1003.3 1215.6 1001.8 1217.2 999.0 1218.7 1002.1 1220.3 1005.0 1221.9 1007.7 1223.5 1013.2 1225.1 1012.5 1226.7 1015.5 1228.3 1020.1 1229.8 1020.6 1231.4 1024.1 1233.0 1017.3 1234.6 1014.0 1236.2 1012.2 1237.8 1009.3 1239.4 1011.3 1240.9 1013.3 1242.5 1013.1 1244.1 1013.8 1245.7 1015.4 1247.3 1014.5 1248.9 1017.2 1250.5 1012.9 1252.0 1011.5 1253.6 1008.2 1255.2 1007.7 1256.8 998.4 1258.4 999.4 1260.0 1002.7 1261.6 1006.9 1263.1 1015.2 1264.7 1019.5 1266.3 1023.4 1267.9 1023.2 1269.5 1022.0 1271.1 1018.2 1272.7 1016.1 1274.2 1016.3 1275.8 1013.8 1277.4 1017.1 1279.0 1016.0 1280.6 1018.5 1282.2 1022.2 1283.8 1018.0 1285.3 1020.6 1286.9 1019.2 1288.5 1023.0 1290.1 1020.6 1291.7 1016.0 1293.3 1010.0 1294.9 1003.4 1296.5 992.3 1298.0 983.1 1299.6 971.2 1301.2 966.9 1302.8 968.9 1304.4 974.8 1306.0 991.9 1307.6 1015.2 1309.1 1016.3 1310.7 1018.8 1312.3 1016.7 1313.9 1020.3 1315.5 1018.9 1317.1 1024.3 1318.7 1026.0 1320.2 1026.2 1321.8 1023.0 1323.4 1021.8 1325.0 1016.2 1326.6 1012.3 1328.2 1009.7 1329.8 1005.8 1331.3 1002.8 1332.9 1003.6 1334.5 1005.8 1336.1 1008.2 1337.7 1011.0 1339.3 1014.1 1340.9 1016.8 1342.4 1013.5 1344.0 1013.6 1345.6 1018.4 1347.2 1019.8 1348.8 1018.7 1350.4 1020.0 1352.0 1022.4 1353.5 1017.0 1355.1 1013.3 1356.7 1011.6 1358.3 1007.5 1359.9 1000.8 1361.5 992.4 1363.1 995.8 1364.6 1002.1 1366.2 1012.6 1367.8 1018.2 1369.4 1021.9 1371.0 1021.2 1372.6 1017.8 1374.2 1020.5 1375.7 1019.2 1377.3 1016.5 1378.9 1014.6 1380.5 1013.9 1382.1 1014.4 1383.7 1011.2 1385.3 1012.7 1386.8 1014.8 1388.4 1011.0 1390.0 1016.1 1391.6 1009.2 1393.2 1003.7 1394.8 999.9 1396.4 1000.6 1397.9 1008.9 1399.5 1012.5 1401.1 1019.6 1402.7 1021.9 1404.3 1014.4 1405.9 1014.7 1407.5 1011.5 1409.0 1009.0 1410.6 1006.8 1412.2 1013.9 1413.8 1015.4 1415.4 1011.2 1417.0 1012.8 1418.6 1014.7 1420.1 1008.9 1421.7 1009.5 1423.3 1005.8 1424.9 999.1 1426.5 995.1 1428.1 999.1 1429.7 999.3 1431.2 1005.9 1432.8 1007.1 1434.4 1004.9 1436.0 994.4 1437.6 990.1 1439.2 998.1 1440.8 1006.0 1442.3 1012.0 1443.9 1020.7 1445.5 1021.9 1447.1 1018.1 1448.7 1015.1 1450.3 1012.5 1451.9 1012.5 1453.4 1006.2 1455.0 1006.3 1456.6 1004.3 1458.2 1002.0 1459.8 999.7 1461.4 1000.2 1463.0 1006.1 1464.5 1011.6 1466.1 1016.7 1467.7 1019.6 1469.3 1017.6 1470.9 1014.4 1472.5 1012.1 1474.1 1007.6 1475.6 1008.8 1477.2 1008.1 1478.8 1007.3 1480.4 1010.3 1482.0 1008.1 1483.6 1014.7 1485.2 1013.1 1486.8 1015.8 1488.3 1021.4 1489.9 1020.4 1491.5 1018.4 1493.1 1015.2 1494.7 1018.8 1496.3 1017.7 1497.9 1014.7 1499.4 1014.9 1501.0 1010.0 1502.6 1010.5 1504.2 1015.7 1505.8 1016.5 1507.4 1012.6 1509.0 1018.2 1510.5 1018.5 1512.1 1019.9 1513.7 1021.7 1515.3 1021.8 1516.9 1023.4 1518.5 1025.7 1520.1 1022.7 1521.6 1025.1 1523.2 1021.9 1524.8 1020.8 1526.4 1016.7 1528.0 1012.1 1529.6 1008.0 1531.2 1009.6 1532.7 1006.3 1534.3 1008.7 1535.9 1005.2 1537.5 1007.4 1539.1 1004.8 1540.7 1007.0 1542.3 1007.7 1543.8 1012.4 1545.4 1019.7 1547.0 1024.6 1548.6 1020.9 1550.2 1011.3 1551.8 1008.0 1553.4 1003.4 1554.9 992.4 1556.5 985.9 1558.1 984.7 1559.7 986.4 1561.3 985.0 1562.9 994.5 1564.5 999.2 1566.0 1007.0 1567.6 1010.9 1569.2 1011.9 1570.8 1003.8 1572.4 1003.0 1574.0 1003.8 1575.6 1002.9 1577.1 1002.7 1578.7 999.2 1580.3 1003.1 1581.9 1004.0 1583.5 1003.1 1585.1 1002.6 1586.7 1002.2 1588.2 1003.0 1589.8 1010.5 1591.4 1009.2 1593.0 1005.7 1594.6 1008.0 1596.2 1006.6 1597.8 1006.5 1599.3 1005.1 1600.9 1005.0 1602.5 1006.6 1604.1 1013.0 1605.7 1017.8 1607.3 1026.8 1608.9 1030.6 1610.4 1028.4 1612.0 1027.2 1613.6 1029.0 1615.2 1023.1 1616.8 1018.0 1618.4 1018.6 1620.0 1019.9 1621.5 1021.2 1623.1 1026.5 1624.7 1025.1 1626.3 1026.4 1627.9 1024.2 1629.5 1021.1 1631.1 1017.5 1632.6 1020.3 1634.2 1020.3 1635.8 1023.3 1637.4 1020.7 1639.0 1016.8 1640.6 1006.6 1642.2 997.6 1643.7 991.1 1645.3 980.3 1646.9 983.6 1648.5 983.1 1650.1 983.0 1651.7 991.4 1653.3 998.2 1654.8 1005.9 1656.4 1005.4 1658.0 1009.0 1659.6 1009.4 1661.2 1011.0 1662.8 1013.4 1664.4 1014.9 1665.9 1015.7 1667.5 1012.4 1669.1 1014.1 1670.7 1010.5 1672.3 1005.9 1673.9 1002.4 1675.5 1001.7 1677.1 997.2 1678.6 997.4 1680.2 999.3 1681.8 1000.9 1683.4 1000.9 1685.0 997.9 1686.6 999.0 1688.2 1001.5 1689.7 1007.9 1691.3 1013.4 1692.9 1016.3 1694.5 1019.3 1696.1 1023.1 1697.7 1027.3 1699.3 1028.9 1700.8 1025.1 1702.4 1028.0 1704.0 1023.4 1705.6 1023.0 1707.2 1017.0 1708.8 1014.3 1710.4 1008.2 1711.9 1007.1 1713.5 1008.3 1715.1 1006.7 1716.7 1009.3 1718.3 1005.9 1719.9 1007.7 1721.5 1011.2 1723.0 1011.6 1724.6 1014.6 1726.2 1017.5 1727.8 1019.6 1729.4 1024.0 1731.0 1023.8 1732.6 1016.8 1734.1 1010.9 1735.7 1009.8 1737.3 1011.0 1738.9 1013.0 1740.5 1012.6 1742.1 1017.8 1743.7 1014.5 1745.2 1011.8 1746.8 1008.1 1748.4 1005.6 1750.0 1002.3 1751.6 1004.0 1753.2 1002.6 1754.8 1002.7 1756.3 1003.0 1757.9 1004.8 1759.5 1012.9 1761.1 1018.9 1762.7 1027.0 1764.3 1029.9 1765.9 1029.0 1767.4 1031.0 1769.0 1030.9 1770.6 1030.9 1772.2 1028.7 1773.8 1025.2 1775.4 1027.3 1777.0 1022.0 1778.5 1019.9 1780.1 1020.2 1781.7 1019.0 1783.3 1016.2 1784.9 1016.4 1786.5 1014.2 1788.1 1016.6 1789.6 1021.0 1791.2 1020.1 1792.8 1021.5 1794.4 1023.4 1796.0 1022.3 1797.6 1026.6 1799.2 1026.8 1800.7 1030.6 1802.3 1034.8 1803.9 1037.0 1805.5 1035.4 1807.1 1042.0 1808.7 1037.5 1810.3 1035.7 1811.8 1036.6 1813.4 1030.1 1815.0 1032.2 1816.6 1031.9 1818.2 1029.0 1819.8 1028.6 1821.4 1028.8 1822.9 1028.1 1824.5 1026.8 1826.1 1029.2 1827.7 1030.0 1829.3 1030.1 1830.9 1030.0 1832.5 1031.3 1834.0 1033.9 1835.6 1032.5 1837.2 1034.5 1838.8 1034.8 1840.4 1040.1 1842.0 1036.2 1843.6 1035.2 1845.1 1035.4 1846.7 1033.7 1848.3 1030.1 1849.9 1030.3 1851.5 1028.0 1853.1 1029.2 1854.7 1031.1 1856.2 1029.9 1857.8 1029.8 1859.4 1027.9 1861.0 1030.3 1862.6 1031.9 1864.2 1030.4 1865.8 1026.0 1867.4 1023.6 1868.9 1022.3 1870.5 1019.6 1872.1 1018.8 1873.7 1022.3 1875.3 1022.8 1876.9 1019.9 1878.5 1024.0 1880.0 1024.2 1881.6 1031.2 1883.2 1029.2 1884.8 1032.0 1886.4 1031.5 1888.0 1036.8 1889.6 1040.1 1891.1 1042.4 1892.7 1036.1 1894.3 1040.1 1895.9 1035.1 1897.5 1034.6 1899.1 1031.5 1900.7 1026.7 1902.2 1018.9 1903.8 1022.9 1905.4 1024.7 1907.0 1025.5 1908.6 1025.5 1910.2 1027.4 1911.8 1031.2 1913.3 1029.6 1914.9 1035.2 1916.5 1029.1 1918.1 1028.5 1919.7 1029.4 1921.3 1023.8 1922.9 1019.5 1924.4 1019.8 1926.0 1022.2 1927.6 1021.7 1929.2 1023.7 1930.8 1020.2 1932.4 1017.1 1934.0 1027.2 1935.5 1031.4 1937.1 1032.9 1938.7 1031.4 1940.3 1033.3 1941.9 1032.6 1943.5 1029.3 1945.1 1030.3 1946.6 1030.5 1948.2 1033.3 1949.8 1031.0 1951.4 1029.4 1953.0 1029.4 1954.6 1030.6 1956.2 1034.2 1957.7 1032.6 1959.3 1033.7 1960.9 1033.2 1962.5 1031.1 1964.1 1031.3 1965.7 1029.4 1967.3 1026.5 1968.8 1027.4 1970.4 1025.7 1972.0 1026.9 1973.6 1025.9 1975.2 1027.2 1976.8 1025.9 1978.4 1026.0 1979.9 1025.6 1981.5 1026.2 1983.1 1025.3 1984.7 1021.1 1986.3 1018.9 1987.9 1016.6 1989.5 1017.3 1991.0 1012.6 1992.6 1015.3 1994.2 1014.6 1995.8 1019.8 1997.4 1016.2 1999.0 1017.8 2000.6 1014.7 2002.1 1017.2 2003.7 1017.8 2005.3 1017.5 2006.9 1017.7 2008.5 1018.1 2010.1 1018.7 2011.7 1019.0 2013.2 1022.3 2014.8 1017.1 2016.4 1013.0 2018.0 1013.2 2019.6 1011.8 2021.2 1012.1 2022.8 1009.6 2024.3 1009.4 2025.9 1009.5 2027.5 1010.2 2029.1 1006.4 2030.7 1010.3 2032.3 1010.5 2033.9 1012.0 2035.4 1018.7 2037.0 1019.0 2038.6 1018.0 2040.2 1019.1 2041.8 1019.2 2043.4 1019.7 2045.0 1018.5 2046.5 1017.0 2048.1 1016.0 2049.7 1018.6 2051.3 1017.8 2052.9 1019.6 2054.5 1021.1 2056.1 1017.9 2057.7 1024.2 2059.2 1020.5 2060.8 1017.6 2062.4 1017.0 2064.0 1013.4 2065.6 1014.9 2067.2 1014.3 2068.8 1013.1 2070.3 1014.2 2071.9 1014.9 2073.5 1016.9 2075.1 1015.3 2076.7 1013.0 2078.3 1016.4 2079.9 1011.9 2081.4 1012.8 2083.0 1011.7 2084.6 1011.5 2086.2 1013.5 2087.8 1009.3 2089.4 1015.0 2091.0 1012.5 2092.5 1015.1 2094.1 1014.4 2095.7 1013.5 2097.3 1012.4 2098.9 1013.8 2100.5 1013.8 2102.1 1015.1 2103.6 1015.5 2105.2 1008.7 2106.8 1015.3 2108.4 1015.6 2110.0 1014.1 2111.6 1012.7 2113.2 1014.2 2114.7 1013.2 2116.3 1010.5 2117.9 1013.2 2119.5 1013.1 2121.1 1011.8 2122.7 1013.3 2124.3 1012.1 2125.8 1013.4 2127.4 1014.2 2129.0 1012.9 2130.6 1015.2 2132.2 1015.3 2133.8 1014.5 2135.4 1012.8 2136.9 1014.9 2138.5 1013.5 2140.1 1016.6 2141.7 1016.8 2143.3 1016.8 2144.9 1017.6 2146.5 1015.9 2148.0 1017.8 2149.6 1015.9 2151.2 1014.2 2152.8 1017.6 2154.4 1014.2 2156.0 1016.7 2157.6 1015.8 2159.1 1014.7 2160.7 1015.2 2162.3 1012.6 2163.9 1009.2 2165.5 1007.8 2167.1 1013.4 2168.7 1011.7 2170.2 1015.5 2171.8 1016.4 2173.4 1014.7 2175.0 1014.8 2176.6 1014.9 2178.2 1015.7 2179.8 1015.7 2181.3 1013.0 2182.9 1014.0 2184.5 1013.9 2186.1 1013.7 2187.7 1014.5 2189.3 1012.5 2190.9 1013.1 2192.4 1014.6 2194.0 1012.9 2195.6 1014.9 2197.2 1014.5 2198.8 1019.1 2200.4 1018.2 2202.0 1016.4 2203.5 1016.2 2205.1 1015.4 2206.7 1014.4 2208.3 1019.6 2209.9 1019.4 2211.5 1024.1 2213.1 1016.4 2214.6 1009.3 2216.2 1011.8 2217.8 1010.3 2219.4 1010.4 2221.0 1010.3 2222.6 1011.2 2224.2 1014.4 2225.7 1015.8 2227.3 1016.9 2228.9 1015.4 2230.5 1014.4 2232.1 1014.3 2233.7 1016.0 2235.3 1015.5 2236.8 1014.2 2238.4 1015.1 2240.0 1014.6 2241.6 1014.3 2243.2 1015.7 2244.8 1017.3 2246.4 1016.4 2248.0 1017.2 2249.5 1014.2 2251.1 1017.2 2252.7 1015.0 2254.3 1017.3 2255.9 1018.0 2257.5 1017.3 2259.1 1017.2 2260.6 1018.4 2262.2 1017.5 2263.8 1020.6 2265.4 1021.6 2267.0 1021.1 2268.6 1021.4 2270.2 1019.2 2271.7 1021.7 2273.3 1021.1 2274.9 1020.6 2276.5 1019.5 2278.1 1021.8 2279.7 1021.0 2281.3 1019.8 2282.8 1023.7 2284.4 1021.5 2286.0 1021.0 2287.6 1022.0 2289.2 1023.6 2290.8 1021.9 2292.4 1022.9 2293.9 1025.1 2295.5 1024.2 2297.1 1022.3 2298.7 1021.8 2300.3 1021.6 2301.9 1023.5 2303.5 1023.2 2305.0 1022.3 2306.6 1020.2 2308.2 1021.5 2309.8 1023.4 2311.4 1018.9 2313.0 1021.0 2314.6 1020.0 2316.1 1018.3 2317.7 1013.9 2319.3 1018.5 2320.9 1018.5 2322.5 1015.8 2324.1 1015.4 2325.7 1012.7 2327.2 1013.2 2328.8 1013.3 2330.4 1013.0 2332.0 1012.5 2333.6 1013.8 2335.2 1016.0 2336.8 1018.3 2338.3 1022.0 2339.9 1021.8 2341.5 1019.8" stroke="#ff8c00" stroke-width="1.5" fill="none" stroke-linejoin="round"/><path d="M59.5 1089.4 61.1 1089.3 62.7 1094.4 64.3 1098.2 65.8 1096.0 67.4 1096.5 69.0 1093.0 70.6 1093.1 72.2 1090.2 73.8 1089.3 75.4 1086.5 76.9 1086.5 78.5 1085.2 80.1 1080.3 81.7 1072.8 83.3 1074.2 84.9 1071.4 86.5 1071.5 88.0 1074.4 89.6 1077.3 91.2 1082.0 92.8 1084.7 94.4 1086.1 96.0 1093.0 97.6 1095.2 99.1 1099.3 100.7 1092.4 102.3 1083.9 103.9 1075.0 105.5 1075.6 107.1 1074.3 108.7 1077.4 110.2 1085.5 111.8 1089.3 113.4 1089.7 115.0 1089.9 116.6 1086.0 118.2 1085.9 119.8 1085.2 121.3 1087.4 122.9 1088.5 124.5 1088.4 126.1 1093.9 127.7 1087.9 129.3 1087.3 130.9 1080.7 132.4 1076.0 134.0 1076.6 135.6 1074.7 137.2 1073.2 138.8 1078.0 140.4 1083.6 142.0 1084.2 143.5 1090.3 145.1 1089.1 146.7 1086.8 148.3 1088.1 149.9 1081.5 151.5 1076.8 153.1 1077.5 154.7 1078.5 156.2 1083.1 157.8 1086.4 159.4 1093.0 161.0 1089.2 162.6 1090.6 164.2 1089.9 165.8 1088.8 167.3 1088.7 168.9 1085.7 170.5 1085.9 172.1 1081.7 173.7 1081.0 175.3 1081.8 176.9 1086.1 178.4 1084.1 180.0 1088.2 181.6 1086.3 183.2 1083.0 184.8 1086.6 186.4 1084.9 188.0 1082.7 189.5 1082.0 191.1 1084.7 192.7 1083.8 194.3 1081.7 195.9 1082.7 197.5 1082.6 199.1 1084.7 200.6 1089.1 202.2 1094.1 203.8 1091.9 205.4 1092.5 207.0 1093.8 208.6 1093.4 210.2 1093.0 211.7 1092.0 213.3 1090.9 214.9 1092.1 216.5 1090.7 218.1 1094.6 219.7 1094.3 221.3 1093.0 222.8 1093.8 224.4 1092.5 226.0 1090.8 227.6 1092.6 229.2 1093.4 230.8 1092.1 232.4 1094.9 233.9 1099.0 235.5 1096.6 237.1 1096.3 238.7 1095.9 240.3 1097.0 241.9 1093.1 243.5 1090.4 245.0 1089.7 246.6 1083.4 248.2 1082.6 249.8 1083.6 251.4 1082.2 253.0 1085.5 254.6 1085.9 256.1 1090.8 257.7 1091.5 259.3 1091.1 260.9 1096.8 262.5 1098.3 264.1 1102.5 265.7 1098.9 267.2 1099.7 268.8 1096.6 270.4 1094.4 272.0 1095.6 273.6 1095.6 275.2 1100.5 276.8 1101.8 278.3 1105.7 279.9 1104.5 281.5 1102.4 283.1 1103.0 284.7 1097.2 286.3 1090.7 287.9 1081.7 289.4 1075.3 291.0 1074.4 292.6 1076.4 294.2 1083.2 295.8 1092.3 297.4 1097.5 299.0 1099.2 300.5 1099.2 302.1 1099.5 303.7 1100.0 305.3 1099.3 306.9 1093.9 308.5 1095.7 310.1 1091.5 311.6 1089.9 313.2 1087.8 314.8 1088.3 316.4 1086.9 318.0 1087.2 319.6 1089.1 321.2 1089.4 322.7 1088.8 324.3 1090.8 325.9 1095.3 327.5 1096.3 329.1 1100.4 330.7 1104.1 332.3 1104.8 333.8 1100.8 335.4 1103.1 337.0 1101.0 338.6 1100.4 340.2 1103.1 341.8 1101.1 343.4 1095.7 345.0 1098.8 346.5 1098.5 348.1 1096.7 349.7 1094.4 351.3 1091.3 352.9 1091.3 354.5 1096.0 356.1 1091.4 357.6 1089.5 359.2 1091.3 360.8 1090.8 362.4 1093.1 364.0 1090.6 365.6 1093.6 367.2 1096.1 368.7 1097.2 370.3 1094.0 371.9 1092.1 373.5 1088.5 375.1 1089.6 376.7 1086.2 378.3 1086.0 379.8 1086.2 381.4 1086.6 383.0 1085.6 384.6 1084.1 386.2 1086.0 387.8 1087.6 389.4 1084.5 390.9 1081.2 392.5 1080.0 394.1 1082.7 395.7 1085.0 397.3 1087.7 398.9 1088.6 400.5 1087.1 402.0 1090.2 403.6 1085.3 405.2 1076.6 406.8 1068.6 408.4 1065.5 410.0 1058.9 411.6 1064.0 413.1 1075.0 414.7 1078.4 416.3 1082.0 417.9 1086.0 419.5 1080.7 421.1 1081.9 422.7 1083.2 424.2 1082.7 425.8 1082.5 427.4 1081.1 429.0 1083.4 430.6 1085.7 432.2 1080.8 433.8 1085.3 435.3 1087.1 436.9 1088.8 438.5 1088.6 440.1 1092.0 441.7 1093.0 443.3 1088.8 444.9 1084.2 446.4 1081.7 448.0 1077.8 449.6 1077.7 451.2 1073.7 452.8 1076.2 454.4 1082.5 456.0 1088.0 457.5 1087.8 459.1 1081.2 460.7 1075.0 462.3 1073.4 463.9 1069.6 465.5 1063.0 467.1 1064.8 468.6 1066.0 470.2 1068.4 471.8 1075.2 473.4 1082.7 475.0 1085.2 476.6 1080.4 478.2 1079.0 479.7 1078.9 481.3 1076.6 482.9 1078.4 484.5 1080.6 486.1 1082.3 487.7 1084.6 489.3 1079.8 490.8 1082.3 492.4 1081.0 494.0 1079.8 495.6 1080.2 497.2 1079.1 498.8 1082.9 500.4 1077.8 501.9 1077.2 503.5 1076.4 505.1 1075.6 506.7 1073.7 508.3 1068.3 509.9 1067.4 511.5 1067.0 513.0 1068.8 514.6 1071.9 516.2 1080.8 517.8 1085.9 519.4 1085.2 521.0 1088.3 522.6 1086.1 524.1 1084.1 525.7 1082.0 527.3 1084.3 528.9 1080.5 530.5 1080.7 532.1 1081.0 533.7 1077.9 535.2 1081.0 536.8 1078.3 538.4 1074.1 540.0 1070.6 541.6 1067.4 543.2 1066.4 544.8 1059.1 546.4 1049.0 547.9 1040.9 549.5 1045.2 551.1 1049.6 552.7 1051.3 554.3 1053.9 555.9 1058.4 557.5 1065.5 559.0 1057.1 560.6 1052.4 562.2 1046.8 563.8 1044.6 565.4 1048.7 567.0 1054.2 568.6 1070.8 570.1 1071.8 571.7 1072.5 573.3 1069.2 574.9 1069.7 576.5 1065.6 578.1 1067.2 579.7 1067.1 581.2 1070.2 582.8 1067.4 584.4 1065.4 586.0 1068.4 587.6 1067.0 589.2 1067.0 590.8 1069.3 592.3 1065.1 593.9 1066.3 595.5 1064.0 597.1 1064.5 598.7 1065.6 600.3 1069.1 601.9 1064.0 603.4 1062.9 605.0 1062.9 606.6 1065.7 608.2 1061.4 609.8 1063.7 611.4 1059.0 613.0 1059.4 614.5 1059.7 616.1 1055.5 617.7 1058.3 619.3 1061.3 620.9 1059.4 622.5 1058.5 624.1 1062.7 625.6 1065.5 627.2 1067.0 628.8 1068.3 630.4 1065.6 632.0 1067.1 633.6 1065.2 635.2 1067.3 636.7 1066.9 638.3 1067.2 639.9 1065.7 641.5 1065.1 643.1 1068.3 644.7 1066.3 646.3 1065.8 647.8 1061.2 649.4 1057.9 651.0 1055.5 652.6 1060.0 654.2 1062.4 655.8 1061.6 657.4 1066.7 658.9 1072.1 660.5 1077.9 662.1 1072.0 663.7 1071.0 665.3 1067.9 666.9 1068.2 668.5 1066.9 670.0 1064.5 671.6 1067.3 673.2 1065.3 674.8 1066.1 676.4 1064.6 678.0 1065.1 679.6 1065.8 681.1 1065.5 682.7 1067.3 684.3 1061.9 685.9 1065.3 687.5 1069.5 689.1 1072.6 690.7 1079.2 692.2 1076.1 693.8 1072.7 695.4 1070.4 697.0 1070.3 698.6 1066.7 700.2 1070.4 701.8 1072.1 703.3 1074.6 704.9 1074.8 706.5 1077.8 708.1 1081.2 709.7 1075.9 711.3 1080.2 712.9 1080.4 714.4 1082.0 716.0 1079.3 717.6 1078.3 719.2 1080.6 720.8 1079.1 722.4 1078.4 724.0 1076.9 725.6 1077.3 727.1 1077.8 728.7 1073.6 730.3 1072.7 731.9 1072.7 733.5 1072.3 735.1 1076.5 736.7 1070.5 738.2 1068.4 739.8 1065.9 741.4 1072.3 743.0 1074.2 744.6 1076.5 746.2 1075.6 747.8 1075.4 749.3 1077.3 750.9 1080.9 752.5 1082.4 754.1 1080.1 755.7 1081.0 757.3 1080.8 758.9 1080.2 760.4 1083.3 762.0 1084.5 763.6 1082.4 765.2 1081.8 766.8 1083.6 768.4 1081.9 770.0 1083.4 771.5 1082.5 773.1 1075.9 774.7 1080.3 776.3 1077.4 777.9 1081.6 779.5 1079.6 781.1 1079.8 782.6 1077.3 784.2 1072.6 785.8 1076.9 787.4 1077.7 789.0 1076.9 790.6 1072.3 792.2 1072.7 793.7 1074.7 795.3 1072.7 796.9 1072.8 798.5 1076.8 800.1 1076.6 801.7 1075.1 803.3 1075.0 804.8 1070.2 806.4 1071.0 808.0 1067.7 809.6 1072.9 811.2 1075.5 812.8 1080.5 814.4 1082.3 815.9 1083.4 817.5 1081.6 819.1 1083.7 820.7 1079.1 822.3 1079.0 823.9 1080.8 825.5 1078.2 827.0 1076.3 828.6 1076.7 830.2 1075.1 831.8 1077.2 833.4 1073.0 835.0 1075.6 836.6 1078.6 838.1 1079.8 839.7 1080.8 841.3 1080.0 842.9 1076.4 844.5 1074.4 846.1 1072.3 847.7 1066.0 849.2 1070.1 850.8 1070.4 852.4 1069.7 854.0 1070.1 855.6 1069.8 857.2 1072.2 858.8 1076.3 860.3 1081.8 861.9 1081.5 863.5 1084.0 865.1 1084.8 866.7 1086.6 868.3 1089.2 869.9 1090.5 871.4 1092.3 873.0 1089.8 874.6 1087.2 876.2 1086.4 877.8 1086.9 879.4 1084.8 881.0 1086.0 882.5 1085.7 884.1 1085.4 885.7 1079.5 887.3 1078.7 888.9 1075.0 890.5 1070.8 892.1 1067.5 893.6 1067.0 895.2 1069.2 896.8 1067.1 898.4 1068.5 900.0 1074.0 901.6 1074.9 903.2 1073.9 904.7 1074.4 906.3 1076.3 907.9 1073.5 909.5 1070.7 911.1 1068.9 912.7 1072.7 914.3 1070.5 915.9 1076.4 917.4 1079.7 919.0 1077.7 920.6 1075.9 922.2 1071.3 923.8 1072.0 925.4 1071.8 927.0 1072.7 928.5 1075.6 930.1 1076.5 931.7 1071.9 933.3 1070.7 934.9 1069.2 936.5 1071.2 938.1 1067.5 939.6 1067.8 941.2 1070.5 942.8 1074.8 944.4 1077.3 946.0 1075.4 947.6 1077.0 949.2 1077.1 950.7 1075.8 952.3 1077.0 953.9 1079.3 955.5 1081.5 957.1 1085.6 958.7 1091.2 960.3 1089.3 961.8 1090.4 963.4 1090.2 965.0 1084.5 966.6 1084.3 968.2 1084.6 969.8 1082.0 971.4 1082.6 972.9 1084.0 974.5 1083.7 976.1 1081.2 977.7 1081.1 979.3 1079.7 980.9 1079.4 982.5 1079.5 984.0 1079.8 985.6 1081.6 987.2 1080.7 988.8 1083.0 990.4 1080.7 992.0 1080.5 993.6 1085.3 995.1 1084.5 996.7 1082.6 998.3 1088.7 999.9 1082.1 1001.5 1081.0 1003.1 1081.3 1004.7 1081.0 1006.2 1083.2 1007.8 1084.9 1009.4 1087.3 1011.0 1090.3 1012.6 1086.4 1014.2 1090.4 1015.8 1091.1 1017.3 1089.0 1018.9 1093.8 1020.5 1093.3 1022.1 1093.4 1023.7 1098.5 1025.3 1098.2 1026.9 1097.1 1028.4 1095.2 1030.0 1100.5 1031.6 1099.3 1033.2 1098.3 1034.8 1101.0 1036.4 1097.0 1038.0 1094.6 1039.5 1095.7 1041.1 1096.5 1042.7 1093.4 1044.3 1099.2 1045.9 1098.5 1047.5 1102.3 1049.1 1103.4 1050.6 1104.2 1052.2 1097.0 1053.8 1096.5 1055.4 1093.8 1057.0 1090.7 1058.6 1089.7 1060.2 1088.7 1061.7 1093.6 1063.3 1089.5 1064.9 1092.3 1066.5 1091.5 1068.1 1094.9 1069.7 1092.3 1071.3 1094.7 1072.8 1093.2 1074.4 1089.7 1076.0 1086.9 1077.6 1087.4 1079.2 1088.7 1080.8 1089.9 1082.4 1095.1 1083.9 1095.3 1085.5 1092.3 1087.1 1090.3 1088.7 1086.7 1090.3 1085.7 1091.9 1085.3 1093.5 1082.5 1095.0 1082.7 1096.6 1085.2 1098.2 1082.7 1099.8 1083.4 1101.4 1083.9 1103.0 1082.6 1104.6 1082.4 1106.2 1081.9 1107.7 1084.9 1109.3 1084.0 1110.9 1088.8 1112.5 1087.1 1114.1 1086.4 1115.7 1085.5 1117.3 1084.3 1118.8 1084.0 1120.4 1080.9 1122.0 1078.4 1123.6 1073.6 1125.2 1069.9 1126.8 1063.6 1128.4 1061.9 1129.9 1059.8 1131.5 1062.1 1133.1 1068.1 1134.7 1071.4 1136.3 1072.4 1137.9 1079.4 1139.5 1079.0 1141.0 1083.2 1142.6 1083.0 1144.2 1080.7 1145.8 1078.4 1147.4 1080.8 1149.0 1087.8 1150.6 1087.8 1152.1 1092.8 1153.7 1090.9 1155.3 1086.6 1156.9 1084.3 1158.5 1080.1 1160.1 1077.9 1161.7 1073.7 1163.2 1079.0 1164.8 1081.3 1166.4 1084.6 1168.0 1087.6 1169.6 1091.2 1171.2 1084.2 1172.8 1063.7 1174.3 1046.7 1175.9 1041.8 1177.5 1041.0 1179.1 1042.8 1180.7 1041.2 1182.3 1063.8 1183.9 1087.4 1185.4 1086.6 1187.0 1088.7 1188.6 1090.4 1190.2 1090.2 1191.8 1091.5 1193.4 1094.1 1195.0 1093.6 1196.5 1098.9 1198.1 1097.3 1199.7 1098.1 1201.3 1093.2 1202.9 1090.0 1204.5 1086.2 1206.1 1078.7 1207.6 1081.1 1209.2 1076.6 1210.8 1077.4 1212.4 1071.4 1214.0 1071.6 1215.6 1074.2 1217.2 1072.9 1218.7 1080.3 1220.3 1079.9 1221.9 1081.3 1223.5 1082.4 1225.1 1081.7 1226.7 1081.7 1228.3 1085.2 1229.8 1082.8 1231.4 1084.3 1233.0 1081.4 1234.6 1079.1 1236.2 1081.4 1237.8 1077.5 1239.4 1081.4 1240.9 1081.4 1242.5 1084.3 1244.1 1087.5 1245.7 1086.4 1247.3 1085.2 1248.9 1085.6 1250.5 1086.0 1252.0 1087.2 1253.6 1079.0 1255.2 1077.3 1256.8 1073.8 1258.4 1075.6 1260.0 1080.4 1261.6 1083.0 1263.1 1085.5 1264.7 1087.9 1266.3 1089.5 1267.9 1092.6 1269.5 1090.9 1271.1 1088.6 1272.7 1083.3 1274.2 1085.2 1275.8 1084.3 1277.4 1087.4 1279.0 1086.3 1280.6 1087.0 1282.2 1089.9 1283.8 1086.9 1285.3 1086.0 1286.9 1088.2 1288.5 1085.2 1290.1 1086.5 1291.7 1081.9 1293.3 1079.0 1294.9 1075.2 1296.5 1060.8 1298.0 1036.2 1299.6 1020.9 1301.2 1023.5 1302.8 1027.8 1304.4 1026.5 1306.0 1063.7 1307.6 1080.5 1309.1 1082.1 1310.7 1082.3 1312.3 1079.2 1313.9 1085.0 1315.5 1087.4 1317.1 1085.5 1318.7 1086.6 1320.2 1086.5 1321.8 1083.3 1323.4 1076.7 1325.0 1075.8 1326.6 1072.4 1328.2 1072.5 1329.8 1071.5 1331.3 1071.1 1332.9 1071.6 1334.5 1072.4 1336.1 1075.3 1337.7 1081.4 1339.3 1081.2 1340.9 1084.4 1342.4 1083.8 1344.0 1088.3 1345.6 1087.7 1347.2 1091.3 1348.8 1088.6 1350.4 1081.7 1352.0 1077.6 1353.5 1075.3 1355.1 1069.3 1356.7 1069.6 1358.3 1068.1 1359.9 1064.1 1361.5 1065.1 1363.1 1068.9 1364.6 1071.8 1366.2 1072.5 1367.8 1077.3 1369.4 1079.5 1371.0 1078.3 1372.6 1077.9 1374.2 1076.7 1375.7 1077.7 1377.3 1075.6 1378.9 1076.4 1380.5 1076.7 1382.1 1077.3 1383.7 1081.2 1385.3 1080.7 1386.8 1079.2 1388.4 1078.1 1390.0 1081.1 1391.6 1078.1 1393.2 1080.1 1394.8 1078.2 1396.4 1080.7 1397.9 1079.6 1399.5 1082.1 1401.1 1082.4 1402.7 1079.7 1404.3 1080.0 1405.9 1079.8 1407.5 1080.1 1409.0 1079.2 1410.6 1076.0 1412.2 1076.8 1413.8 1079.5 1415.4 1078.9 1417.0 1078.7 1418.6 1080.8 1420.1 1082.5 1421.7 1077.3 1423.3 1074.2 1424.9 1071.2 1426.5 1069.5 1428.1 1070.6 1429.7 1070.0 1431.2 1073.8 1432.8 1074.1 1434.4 1072.9 1436.0 1071.6 1437.6 1070.9 1439.2 1068.3 1440.8 1069.2 1442.3 1075.8 1443.9 1080.1 1445.5 1078.9 1447.1 1074.8 1448.7 1076.9 1450.3 1076.3 1451.9 1075.6 1453.4 1077.7 1455.0 1074.4 1456.6 1073.2 1458.2 1072.6 1459.8 1070.9 1461.4 1071.6 1463.0 1070.4 1464.5 1074.0 1466.1 1073.3 1467.7 1075.6 1469.3 1080.6 1470.9 1075.3 1472.5 1075.4 1474.1 1077.3 1475.6 1077.1 1477.2 1078.0 1478.8 1077.4 1480.4 1077.3 1482.0 1077.3 1483.6 1078.6 1485.2 1083.0 1486.8 1081.0 1488.3 1082.4 1489.9 1087.3 1491.5 1084.2 1493.1 1081.8 1494.7 1080.5 1496.3 1080.4 1497.9 1079.3 1499.4 1076.1 1501.0 1074.1 1502.6 1074.2 1504.2 1075.0 1505.8 1076.1 1507.4 1074.6 1509.0 1076.9 1510.5 1073.4 1512.1 1077.0 1513.7 1079.1 1515.3 1076.9 1516.9 1080.3 1518.5 1080.8 1520.1 1079.9 1521.6 1081.7 1523.2 1084.8 1524.8 1078.1 1526.4 1080.6 1528.0 1079.4 1529.6 1081.0 1531.2 1078.1 1532.7 1076.7 1534.3 1076.6 1535.9 1078.3 1537.5 1081.4 1539.1 1080.4 1540.7 1082.6 1542.3 1082.6 1543.8 1087.6 1545.4 1085.5 1547.0 1078.3 1548.6 1076.4 1550.2 1072.9 1551.8 1066.2 1553.4 1064.9 1554.9 1062.5 1556.5 1057.5 1558.1 1059.7 1559.7 1056.4 1561.3 1060.4 1562.9 1062.1 1564.5 1065.6 1566.0 1074.6 1567.6 1077.9 1569.2 1079.8 1570.8 1077.5 1572.4 1080.0 1574.0 1074.2 1575.6 1076.7 1577.1 1072.0 1578.7 1070.8 1580.3 1070.5 1581.9 1069.3 1583.5 1068.2 1585.1 1064.8 1586.7 1062.2 1588.2 1061.0 1589.8 1062.7 1591.4 1064.7 1593.0 1064.2 1594.6 1068.8 1596.2 1072.7 1597.8 1075.1 1599.3 1075.1 1600.9 1079.0 1602.5 1079.1 1604.1 1082.1 1605.7 1085.2 1607.3 1089.2 1608.9 1093.1 1610.4 1093.7 1612.0 1088.9 1613.6 1086.9 1615.2 1086.6 1616.8 1085.7 1618.4 1088.2 1620.0 1085.1 1621.5 1086.9 1623.1 1088.2 1624.7 1085.3 1626.3 1082.7 1627.9 1081.7 1629.5 1075.3 1631.1 1072.9 1632.6 1072.0 1634.2 1071.5 1635.8 1076.1 1637.4 1081.0 1639.0 1077.2 1640.6 1077.7 1642.2 1069.5 1643.7 1068.6 1645.3 1064.1 1646.9 1065.4 1648.5 1068.2 1650.1 1070.5 1651.7 1070.3 1653.3 1075.5 1654.8 1076.4 1656.4 1076.6 1658.0 1079.6 1659.6 1077.4 1661.2 1080.9 1662.8 1080.7 1664.4 1081.0 1665.9 1082.0 1667.5 1079.1 1669.1 1078.0 1670.7 1071.6 1672.3 1066.9 1673.9 1064.6 1675.5 1067.2 1677.1 1072.3 1678.6 1078.1 1680.2 1075.7 1681.8 1078.7 1683.4 1076.2 1685.0 1078.2 1686.6 1076.7 1688.2 1081.1 1689.7 1085.2 1691.3 1087.2 1692.9 1091.8 1694.5 1093.2 1696.1 1095.1 1697.7 1090.0 1699.3 1083.3 1700.8 1080.1 1702.4 1072.0 1704.0 1075.2 1705.6 1073.5 1707.2 1073.5 1708.8 1068.7 1710.4 1062.8 1711.9 1058.8 1713.5 1059.2 1715.1 1065.5 1716.7 1068.2 1718.3 1071.7 1719.9 1073.1 1721.5 1076.2 1723.0 1082.8 1724.6 1084.7 1726.2 1082.2 1727.8 1075.4 1729.4 1074.3 1731.0 1068.2 1732.6 1062.2 1734.1 1058.3 1735.7 1063.2 1737.3 1065.9 1738.9 1070.3 1740.5 1074.9 1742.1 1075.8 1743.7 1081.8 1745.2 1084.6 1746.8 1082.3 1748.4 1079.3 1750.0 1076.0 1751.6 1072.5 1753.2 1070.7 1754.8 1067.0 1756.3 1065.4 1757.9 1070.5 1759.5 1077.6 1761.1 1081.9 1762.7 1087.8 1764.3 1089.6 1765.9 1089.5 1767.4 1085.8 1769.0 1081.2 1770.6 1077.2 1772.2 1080.2 1773.8 1080.4 1775.4 1079.0 1777.0 1079.7 1778.5 1080.7 1780.1 1084.2 1781.7 1085.4 1783.3 1084.6 1784.9 1082.7 1786.5 1082.8 1788.1 1084.4 1789.6 1085.0 1791.2 1091.9 1792.8 1091.1 1794.4 1090.2 1796.0 1090.0 1797.6 1087.4 1799.2 1091.3 1800.7 1093.4 1802.3 1099.1 1803.9 1096.3 1805.5 1100.1 1807.1 1101.1 1808.7 1095.0 1810.3 1091.0 1811.8 1087.1 1813.4 1087.1 1815.0 1083.4 1816.6 1082.0 1818.2 1083.4 1819.8 1079.9 1821.4 1079.7 1822.9 1076.7 1824.5 1076.3 1826.1 1076.0 1827.7 1077.5 1829.3 1075.3 1830.9 1077.9 1832.5 1076.0 1834.0 1077.0 1835.6 1078.8 1837.2 1083.0 1838.8 1083.2 1840.4 1086.7 1842.0 1090.1 1843.6 1092.6 1845.1 1098.5 1846.7 1096.8 1848.3 1101.1 1849.9 1102.8 1851.5 1100.7 1853.1 1096.5 1854.7 1095.4 1856.2 1094.1 1857.8 1093.7 1859.4 1095.4 1861.0 1096.7 1862.6 1097.8 1864.2 1094.5 1865.8 1088.3 1867.4 1082.9 1868.9 1073.6 1870.5 1066.7 1872.1 1067.7 1873.7 1063.5 1875.3 1061.6 1876.9 1067.5 1878.5 1071.4 1880.0 1077.1 1881.6 1083.3 1883.2 1084.0 1884.8 1089.6 1886.4 1093.7 1888.0 1093.2 1889.6 1100.8 1891.1 1102.2 1892.7 1099.5 1894.3 1096.9 1895.9 1093.6 1897.5 1087.0 1899.1 1089.2 1900.7 1082.7 1902.2 1077.6 1903.8 1077.0 1905.4 1080.5 1907.0 1081.8 1908.6 1084.9 1910.2 1091.5 1911.8 1089.7 1913.3 1093.2 1914.9 1091.9 1916.5 1088.7 1918.1 1088.6 1919.7 1086.5 1921.3 1086.1 1922.9 1083.4 1924.4 1080.0 1926.0 1081.4 1927.6 1076.3 1929.2 1075.1 1930.8 1074.6 1932.4 1078.8 1934.0 1089.0 1935.5 1092.6 1937.1 1088.3 1938.7 1087.5 1940.3 1085.5 1941.9 1085.6 1943.5 1084.8 1945.1 1084.6 1946.6 1084.7 1948.2 1088.8 1949.8 1087.5 1951.4 1092.8 1953.0 1091.0 1954.6 1091.4 1956.2 1090.9 1957.7 1088.9 1959.3 1090.2 1960.9 1087.7 1962.5 1082.5 1964.1 1079.5 1965.7 1078.8 1967.3 1081.9 1968.8 1083.1 1970.4 1082.0 1972.0 1084.5 1973.6 1083.1 1975.2 1081.8 1976.8 1082.7 1978.4 1077.7 1979.9 1082.3 1981.5 1080.4 1983.1 1076.3 1984.7 1069.4 1986.3 1064.4 1987.9 1059.4 1989.5 1057.4 1991.0 1058.3 1992.6 1062.6 1994.2 1073.8 1995.8 1083.0 1997.4 1080.2 1999.0 1082.5 2000.6 1077.8 2002.1 1073.1 2003.7 1071.8 2005.3 1071.5 2006.9 1070.5 2008.5 1069.7 2010.1 1071.6 2011.7 1075.4 2013.2 1078.7 2014.8 1078.4 2016.4 1074.9 2018.0 1068.5 2019.6 1066.0 2021.2 1061.2 2022.8 1062.1 2024.3 1063.5 2025.9 1063.3 2027.5 1063.0 2029.1 1064.0 2030.7 1063.6 2032.3 1068.7 2033.9 1070.8 2035.4 1073.3 2037.0 1073.4 2038.6 1074.8 2040.2 1074.5 2041.8 1070.8 2043.4 1070.3 2045.0 1068.8 2046.5 1070.1 2048.1 1069.2 2049.7 1069.6 2051.3 1071.7 2052.9 1075.3 2054.5 1073.7 2056.1 1075.0 2057.7 1075.7 2059.2 1072.5 2060.8 1073.3 2062.4 1068.6 2064.0 1067.2 2065.6 1063.7 2067.2 1061.0 2068.8 1060.5 2070.3 1061.7 2071.9 1064.4 2073.5 1065.8 2075.1 1066.5 2076.7 1066.4 2078.3 1069.0 2079.9 1068.1 2081.4 1068.8 2083.0 1064.5 2084.6 1063.6 2086.2 1061.9 2087.8 1059.9 2089.4 1062.1 2091.0 1061.4 2092.5 1060.7 2094.1 1065.3 2095.7 1063.4 2097.3 1062.7 2098.9 1063.5 2100.5 1061.5 2102.1 1064.3 2103.6 1064.2 2105.2 1064.7 2106.8 1062.0 2108.4 1064.1 2110.0 1064.0 2111.6 1064.0 2113.2 1063.6 2114.7 1066.6 2116.3 1063.8 2117.9 1065.8 2119.5 1070.8 2121.1 1071.3 2122.7 1075.1 2124.3 1075.8 2125.8 1082.2 2127.4 1083.6 2129.0 1083.8 2130.6 1083.1 2132.2 1084.7 2133.8 1081.8 2135.4 1080.6 2136.9 1081.7 2138.5 1080.4 2140.1 1083.0 2141.7 1078.9 2143.3 1082.5 2144.9 1080.5 2146.5 1081.4 2148.0 1078.3 2149.6 1080.8 2151.2 1078.7 2152.8 1080.6 2154.4 1080.0 2156.0 1080.6 2157.6 1076.4 2159.1 1076.1 2160.7 1078.3 2162.3 1073.1 2163.9 1077.4 2165.5 1073.4 2167.1 1076.4 2168.7 1078.2 2170.2 1081.3 2171.8 1081.9 2173.4 1080.0 2175.0 1083.7 2176.6 1086.3 2178.2 1081.8 2179.8 1078.0 2181.3 1077.5 2182.9 1078.5 2184.5 1072.9 2186.1 1071.5 2187.7 1070.4 2189.3 1069.5 2190.9 1071.9 2192.4 1080.8 2194.0 1082.0 2195.6 1085.3 2197.2 1087.9 2198.8 1091.1 2200.4 1092.3 2202.0 1092.6 2203.5 1088.8 2205.1 1090.2 2206.7 1085.8 2208.3 1086.6 2209.9 1080.1 2211.5 1076.7 2213.1 1066.9 2214.6 1066.9 2216.2 1066.6 2217.8 1064.7 2219.4 1068.4 2221.0 1065.6 2222.6 1072.4 2224.2 1077.2 2225.7 1078.7 2227.3 1077.0 2228.9 1077.3 2230.5 1079.8 2232.1 1079.1 2233.7 1079.1 2235.3 1078.5 2236.8 1081.2 2238.4 1084.1 2240.0 1085.2 2241.6 1083.9 2243.2 1087.0 2244.8 1089.2 2246.4 1093.3 2248.0 1093.8 2249.5 1091.5 2251.1 1092.5 2252.7 1091.2 2254.3 1086.4 2255.9 1089.0 2257.5 1087.8 2259.1 1083.9 2260.6 1082.2 2262.2 1082.0 2263.8 1078.8 2265.4 1079.5 2267.0 1082.4 2268.6 1080.7 2270.2 1082.3 2271.7 1083.2 2273.3 1084.2 2274.9 1086.1 2276.5 1086.4 2278.1 1087.5 2279.7 1087.7 2281.3 1084.7 2282.8 1083.3 2284.4 1086.8 2286.0 1088.7 2287.6 1083.5 2289.2 1088.5 2290.8 1087.6 2292.4 1085.3 2293.9 1088.5 2295.5 1087.9 2297.1 1089.3 2298.7 1089.1 2300.3 1089.2 2301.9 1089.7 2303.5 1088.9 2305.0 1089.0 2306.6 1094.0 2308.2 1088.6 2309.8 1089.4 2311.4 1090.6 2313.0 1086.2 2314.6 1086.1 2316.1 1085.8 2317.7 1082.9 2319.3 1081.0 2320.9 1082.9 2322.5 1082.6 2324.1 1083.0 2325.7 1081.5 2327.2 1081.7 2328.8 1082.3 2330.4 1082.9 2332.0 1083.7 2333.6 1083.8 2335.2 1083.3 2336.8 1084.2 2338.3 1085.6 2339.9 1082.8 2341.5 1087.4" stroke="#ffd700" stroke-width="1.5" fill="none" stroke-linejoin="round"/></g>
<rect x="59.5" y="645.5" width="2284.0" height="504.0" fill="none" stroke="#000" stroke-width="1.3"/>
<line x1="52.5" y1="1149.50" x2="59.5" y2="1149.50" stroke="#000" stroke-width="1"/>
<line x1="2343.5" y1="1149.50" x2="2350.5" y2="1149.50" stroke="#000" stroke-width="1"/>
<text x="46.50" y="1152.20" font-size="9.9" text-anchor="end" font-weight="normal" textLength="8.80" lengthAdjust="spacingAndGlyphs" >36</text>
<text x="2355.50" y="1152.20" font-size="9.9" text-anchor="start" font-weight="normal" textLength="8.80" lengthAdjust="spacingAndGlyphs" >36</text>
<line x1="56.0" y1="1128.50" x2="59.5" y2="1128.50" stroke="#000" stroke-width="1"/>
<line x1="2343.5" y1="1128.50" x2="2347.0" y2="1128.50" stroke="#000" stroke-width="1"/>
<line x1="56.0" y1="1107.50" x2="59.5" y2="1107.50" stroke="#000" stroke-width="1"/>
<line x1="2343.5" y1="1107.50" x2="2347.0" y2="1107.50" stroke="#000" stroke-width="1"/>
<line x1="56.0" y1="1086.50" x2="59.5" y2="1086.50" stroke="#000" stroke-width="1"/>
<line x1="2343.5" y1="1086.50" x2="2347.0" y2="1086.50" stroke="#000" stroke-width="1"/>
<line x1="52.5" y1="1065.50" x2="59.5" y2="1065.50" stroke="#000" stroke-width="1"/>
<line x1="2343.5" y1="1065.50" x2="2350.5" y2="1065.50" stroke="#000" stroke-width="1"/>
<text x="46.50" y="1068.20" font-size="9.9" text-anchor="end" font-weight="normal" textLength="8.80" lengthAdjust="spacingAndGlyphs" >48</text>
<text x="2355.50" y="1068.20" font-size="9.9" text-anchor="start" font-weight="normal" textLength="8.80" lengthAdjust="spacingAndGlyphs" >48</text>
<line x1="56.0" y1="1044.50" x2="59.5" y2="1044.50" stroke="#000" stroke-width="1"/>
<line x1="2343.5" y1="1044.50" x2="2347.0" y2="1044.50" stroke="#000" stroke-width="1"/>
<line x1="56.0" y1="1023.50" x2="59.5" y2="1023.50" stroke="#000" stroke-width="1"/>
<line x1="2343.5" y1="1023.50" x2="2347.0" y2="1023.50" stroke="#000" stroke-width="1"/>
<line x1="56.0" y1="1002.50" x2="59.5" y2="1002.50" stroke="#000" stroke-width="1"/>
<line x1="2343.5" y1="1002.50" x2="2347.0" y2="1002.50" stroke="#000" stroke-width="1"/>
<line x1="52.5" y1="981.50" x2="59.5" y2="981.50" stroke="#000" stroke-width="1"/>
<line x1="2343.5" y1="981.50" x2="2350.5" y2="981.50" stroke="#000" stroke-width="1"/>
<text x="46.50" y="984.20" font-size="9.9" text-anchor="end" font-weight="normal" textLength="8.80" lengthAdjust="spacingAndGlyphs" >60</text>
<text x="2355.50" y="984.20" font-size="9.9" text-anchor="start" font-weight="normal" textLength="8.80" lengthAdjust="spacingAndGlyphs" >60</text>
<line x1="56.0" y1="960.50" x2="59.5" y2="960.50" stroke="#000" stroke-width="1"/>
<line x1="2343.5" y1="960.50" x2="2347.0" y2="960.50" stroke="#000" stroke-width="1"/>
<line x1="56.0" y1="939.50" x2="59.5" y2="939.50" stroke="#000" stroke-width="1"/>
<line x1="2343.5" y1="939.50" x2="2347.0" y2="939.50" stroke="#000" stroke-width="1"/>
<line x1="56.0" y1="918.50" x2="59.5" y2="918.50" stroke="#000" stroke-width="1"/>
<line x1="2343.5" y1="918.50" x2="2347.0" y2="918.50" stroke="#000" stroke-width="1"/>
<line x1="52.5" y1="897.50" x2="59.5" y2="897.50" stroke="#000" stroke-width="1"/>
<line x1="2343.5" y1="897.50" x2="2350.5" y2="897.50" stroke="#000" stroke-width="1"/>
<text x="46.50" y="900.20" font-size="9.9" text-anchor="end" font-weight="normal" textLength="8.80" lengthAdjust="spacingAndGlyphs" >72</text>
<text x="2355.50" y="900.20" font-size="9.9" text-anchor="start" font-weight="normal" textLength="8.80" lengthAdjust="spacingAndGlyphs" >72</text>
<line x1="56.0" y1="876.50" x2="59.5" y2="876.50" stroke="#000" stroke-width="1"/>
<line x1="2343.5" y1="876.50" x2="2347.0" y2="876.50" stroke="#000" stroke-width="1"/>
<line x1="56.0" y1="855.50" x2="59.5" y2="855.50" stroke="#000" stroke-width="1"/>
<line x1="2343.5" y1="855.50" x2="2347.0" y2="855.50" stroke="#000" stroke-width="1"/>
<line x1="56.0" y1="834.50" x2="59.5" y2="834.50" stroke="#000" stroke-width="1"/>
<line x1="2343.5" y1="834.50" x2="2347.0" y2="834.50" stroke="#000" stroke-width="1"/>
<line x1="52.5" y1="813.50" x2="59.5" y2="813.50" stroke="#000" stroke-width="1"/>
<line x1="2343.5" y1="813.50" x2="2350.5" y2="813.50" stroke="#000" stroke-width="1"/>
<text x="46.50" y="816.20" font-size="9.9" text-anchor="end" font-weight="normal" textLength="8.80" lengthAdjust="spacingAndGlyphs" >84</text>
<text x="2355.50" y="816.20" font-size="9.9" text-anchor="start" font-weight="normal" textLength="8.80" lengthAdjust="spacingAndGlyphs" >84</text>
<line x1="56.0" y1="792.50" x2="59.5" y2="792.50" stroke="#000" stroke-width="1"/>
<line x1="2343.5" y1="792.50" x2="2347.0" y2="792.50" stroke="#000" stroke-width="1"/>
<line x1="56.0" y1="771.50" x2="59.5" y2="771.50" stroke="#000" stroke-width="1"/>
<line x1="2343.5" y1="771.50" x2="2347.0" y2="771.50" stroke="#000" stroke-width="1"/>
<line x1="56.0" y1="750.50" x2="59.5" y2="750.50" stroke="#000" stroke-width="1"/>
<line x1="2343.5" y1="750.50" x2="2347.0" y2="750.50" stroke="#000" stroke-width="1"/>
<line x1="52.5" y1="729.50" x2="59.5" y2="729.50" stroke="#000" stroke-width="1"/>
<line x1="2343.5" y1="729.50" x2="2350.5" y2="729.50" stroke="#000" stroke-width="1"/>
<text x="46.50" y="732.20" font-size="9.9" text-anchor="end" font-weight="normal" textLength="8.80" lengthAdjust="spacingAndGlyphs" >96</text>
<text x="2355.50" y="732.20" font-size="9.9" text-anchor="start" font-weight="normal" textLength="8.80" lengthAdjust="spacingAndGlyphs" >96</text>
<line x1="56.0" y1="708.50" x2="59.5" y2="708.50" stroke="#000" stroke-width="1"/>
<line x1="2343.5" y1="708.50" x2="2347.0" y2="708.50" stroke="#000" stroke-width="1"/>
<line x1="56.0" y1="687.50" x2="59.5" y2="687.50" stroke="#000" stroke-width="1"/>
<line x1="2343.5" y1="687.50" x2="2347.0" y2="687.50" stroke="#000" stroke-width="1"/>
<line x1="56.0" y1="666.50" x2="59.5" y2="666.50" stroke="#000" stroke-width="1"/>
<line x1="2343.5" y1="666.50" x2="2347.0" y2="666.50" stroke="#000" stroke-width="1"/>
<line x1="52.5" y1="645.50" x2="59.5" y2="645.50" stroke="#000" stroke-width="1"/>
<line x1="2343.5" y1="645.50" x2="2350.5" y2="645.50" stroke="#000" stroke-width="1"/>
<text x="46.50" y="648.20" font-size="9.9" text-anchor="end" font-weight="normal" textLength="13.60" lengthAdjust="spacingAndGlyphs" >108</text>
<text x="2355.50" y="648.20" font-size="9.9" text-anchor="start" font-weight="normal" textLength="13.60" lengthAdjust="spacingAndGlyphs" >108</text>
<line x1="59.50" y1="1149.5" x2="59.50" y2="1156.5" stroke="#000" stroke-width="1"/>
<text x="59.50" y="1168.00" font-size="10.3" text-anchor="middle" font-weight="normal" textLength="34.50" lengthAdjust="spacingAndGlyphs" >00:00:00</text>
<line x1="107.08" y1="1149.5" x2="107.08" y2="1153.0" stroke="#000" stroke-width="1"/>
<line x1="154.65" y1="1149.5" x2="154.65" y2="1153.0" stroke="#000" stroke-width="1"/>
<line x1="202.23" y1="1149.5" x2="202.23" y2="1153.0" stroke="#000" stroke-width="1"/>
<line x1="249.80" y1="1149.5" x2="249.80" y2="1156.5" stroke="#000" stroke-width="1"/>
<text x="249.80" y="1168.00" font-size="10.3" text-anchor="middle" font-weight="normal" textLength="34.50" lengthAdjust="spacingAndGlyphs" >02:00:00</text>
<line x1="297.38" y1="1149.5" x2="297.38" y2="1153.0" stroke="#000" stroke-width="1"/>
<line x1="344.95" y1="1149.5" x2="344.95" y2="1153.0" stroke="#000" stroke-width="1"/>
<line x1="392.53" y1="1149.5" x2="392.53" y2="1153.0" stroke="#000" stroke-width="1"/>
<line x1="440.10" y1="1149.5" x2="440.10" y2="1156.5" stroke="#000" stroke-width="1"/>
<text x="440.10" y="1168.00" font-size="10.3" text-anchor="middle" font-weight="normal" textLength="34.50" lengthAdjust="spacingAndGlyphs" >04:00:00</text>
<line x1="487.68" y1="1149.5" x2="487.68" y2="1153.0" stroke="#000" stroke-width="1"/>
<line x1="535.25" y1="1149.5" x2="535.25" y2="1153.0" stroke="#000" stroke-width="1"/>
<line x1="582.83" y1="1149.5" x2="582.83" y2="1153.0" stroke="#000" stroke-width="1"/>
<line x1="630.40" y1="1149.5" x2="630.40" y2="1156.5" stroke="#000" stroke-width="1"/>
<text x="630.40" y="1168.00" font-size="10.3" text-anchor="middle" font-weight="normal" textLength="34.50" lengthAdjust="spacingAndGlyphs" >06:00:00</text>
<line x1="677.98" y1="1149.5" x2="677.98" y2="1153.0" stroke="#000" stroke-width="1"/>
<line x1="725.55" y1="1149.5" x2="725.55" y2="1153.0" stroke="#000" stroke-width="1"/>
<line x1="773.12" y1="1149.5" x2="773.12" y2="1153.0" stroke="#000" stroke-width="1"/>
<line x1="820.70" y1="1149.5" x2="820.70" y2="1156.5" stroke="#000" stroke-width="1"/>
<text x="820.70" y="1168.00" font-size="10.3" text-anchor="middle" font-weight="normal" textLength="34.50" lengthAdjust="spacingAndGlyphs" >08:00:00</text>
<line x1="868.28" y1="1149.5" x2="868.28" y2="1153.0" stroke="#000" stroke-width="1"/>
<line x1="915.85" y1="1149.5" x2="915.85" y2="1153.0" stroke="#000" stroke-width="1"/>
<line x1="963.43" y1="1149.5" x2="963.43" y2="1153.0" stroke="#000" stroke-width="1"/>
<line x1="1011.00" y1="1149.5" x2="1011.00" y2="1156.5" stroke="#000" stroke-width="1"/>
<text x="1011.00" y="1168.00" font-size="10.3" text-anchor="middle" font-weight="normal" textLength="34.50" lengthAdjust="spacingAndGlyphs" >10:00:00</text>
<line x1="1058.58" y1="1149.5" x2="1058.58" y2="1153.0" stroke="#000" stroke-width="1"/>
<line x1="1106.15" y1="1149.5" x2="1106.15" y2="1153.0" stroke="#000" stroke-width="1"/>
<line x1="1153.73" y1="1149.5" x2="1153.73" y2="1153.0" stroke="#000" stroke-width="1"/>
<line x1="1201.30" y1="1149.5" x2="1201.30" y2="1156.5" stroke="#000" stroke-width="1"/>
<text x="1201.30" y="1168.00" font-size="10.3" text-anchor="middle" font-weight="normal" textLength="34.50" lengthAdjust="spacingAndGlyphs" >12:00:00</text>
<line x1="1248.88" y1="1149.5" x2="1248.88" y2="1153.0" stroke="#000" stroke-width="1"/>
<line x1="1296.45" y1="1149.5" x2="1296.45" y2="1153.0" stroke="#000" stroke-width="1"/>
<line x1="1344.03" y1="1149.5" x2="1344.03" y2="1153.0" stroke="#000" stroke-width="1"/>
<line x1="1391.60" y1="1149.5" x2="1391.60" y2="1156.5" stroke="#000" stroke-width="1"/>
<text x="1391.60" y="1168.00" font-size="10.3" text-anchor="middle" font-weight="normal" textLength="34.50" lengthAdjust="spacingAndGlyphs" >14:00:00</text>
<line x1="1439.18" y1="1149.5" x2="1439.18" y2="1153.0" stroke="#000" stroke-width="1"/>
<line x1="1486.75" y1="1149.5" x2="1486.75" y2="1153.0" stroke="#000" stroke-width="1"/>
<line x1="1534.33" y1="1149.5" x2="1534.33" y2="1153.0" stroke="#000" stroke-width="1"/>
<line x1="1581.90" y1="1149.5" x2="1581.90" y2="1156.5" stroke="#000" stroke-width="1"/>
<text x="1581.90" y="1168.00" font-size="10.3" text-anchor="middle" font-weight="normal" textLength="34.50" lengthAdjust="spacingAndGlyphs" >16:00:00</text>
<line x1="1629.48" y1="1149.5" x2="1629.48" y2="1153.0" stroke="#000" stroke-width="1"/>
<line x1="1677.05" y1="1149.5" x2="1677.05" y2="1153.0" stroke="#000" stroke-width="1"/>
<line x1="1724.62" y1="1149.5" x2="1724.62" y2="1153.0" stroke="#000" stroke-width="1"/>
<line x1="1772.20" y1="1149.5" x2="1772.20" y2="1156.5" stroke="#000" stroke-width="1"/>
<text x="1772.20" y="1168.00" font-size="10.3" text-anchor="middle" font-weight="normal" textLength="34.50" lengthAdjust="spacingAndGlyphs" >18:00:00</text>
<line x1="1819.78" y1="1149.5" x2="1819.78" y2="1153.0" stroke="#000" stroke-width="1"/>
<line x1="1867.35" y1="1149.5" x2="1867.35" y2="1153.0" stroke="#000" stroke-width="1"/>
<line x1="1914.93" y1="1149.5" x2="1914.93" y2="1153.0" stroke="#000" stroke-width="1"/>
<line x1="1962.50" y1="1149.5" x2="1962.50" y2="1156.5" stroke="#000" stroke-width="1"/>
<text x="1962.50" y="1168.00" font-size="10.3" text-anchor="middle" font-weight="normal" textLength="34.50" lengthAdjust="spacingAndGlyphs" >20:00:00</text>
<line x1="2010.08" y1="1149.5" x2="2010.08" y2="1153.0" stroke="#000" stroke-width="1"/>
<line x1="2057.65" y1="1149.5" x2="2057.65" y2="1153.0" stroke="#000" stroke-width="1"/>
<line x1="2105.23" y1="1149.5" x2="2105.23" y2="1153.0" stroke="#000" stroke-width="1"/>
<line x1="2152.80" y1="1149.5" x2="2152.80" y2="1156.5" stroke="#000" stroke-width="1"/>
<text x="2152.80" y="1168.00" font-size="10.3" text-anchor="middle" font-weight="normal" textLength="34.50" lengthAdjust="spacingAndGlyphs" >22:00:00</text>
<line x1="2200.38" y1="1149.5" x2="2200.38" y2="1153.0" stroke="#000" stroke-width="1"/>
<line x1="2247.95" y1="1149.5" x2="2247.95" y2="1153.0" stroke="#000" stroke-width="1"/>
<line x1="2295.53" y1="1149.5" x2="2295.53" y2="1153.0" stroke="#000" stroke-width="1"/>
<text x="1200.00" y="1185.00" font-size="13.5" text-anchor="middle" font-weight="normal" textLength="24.75" lengthAdjust="spacingAndGlyphs" >time</text>
<text x="0" y="0" font-size="13.5" text-anchor="middle" textLength="39.7" lengthAdjust="spacingAndGlyphs" transform="translate(22.3 897.50) rotate(-90)">dB SPL</text>
<text x="0" y="0" font-size="13.5" text-anchor="middle" textLength="39.7" lengthAdjust="spacingAndGlyphs" transform="translate(2384.3 897.50) rotate(-90)">dB SPL</text>
<rect x="2276.25" y="1103.1" width="62.25" height="41.3" rx="2.5" fill="#fff8dc" fill-opacity="0.8" stroke="#dfc39c" stroke-width="1"/>
<line x1="2279" y1="1111.5" x2="2301" y2="1111.5" stroke="#dc143c" stroke-width="3"/>
<text x="2308.00" y="1113.60" font-size="9.9" text-anchor="start" font-weight="normal" textLength="25.10" lengthAdjust="spacingAndGlyphs" >dB(Z)</text>
<line x1="2279" y1="1123.5" x2="2301" y2="1123.5" stroke="#ff8c00" stroke-width="3"/>
<text x="2308.00" y="1125.60" font-size="9.9" text-anchor="start" font-weight="normal" textLength="25.10" lengthAdjust="spacingAndGlyphs" >dB(C)</text>
<line x1="2279" y1="1135.25" x2="2301" y2="1135.25" stroke="#ffd700" stroke-width="3"/>
<text x="2308.00" y="1137.35" font-size="9.9" text-anchor="start" font-weight="normal" textLength="25.10" lengthAdjust="spacingAndGlyphs" >dB(A)</text>
</svg></body></html>
